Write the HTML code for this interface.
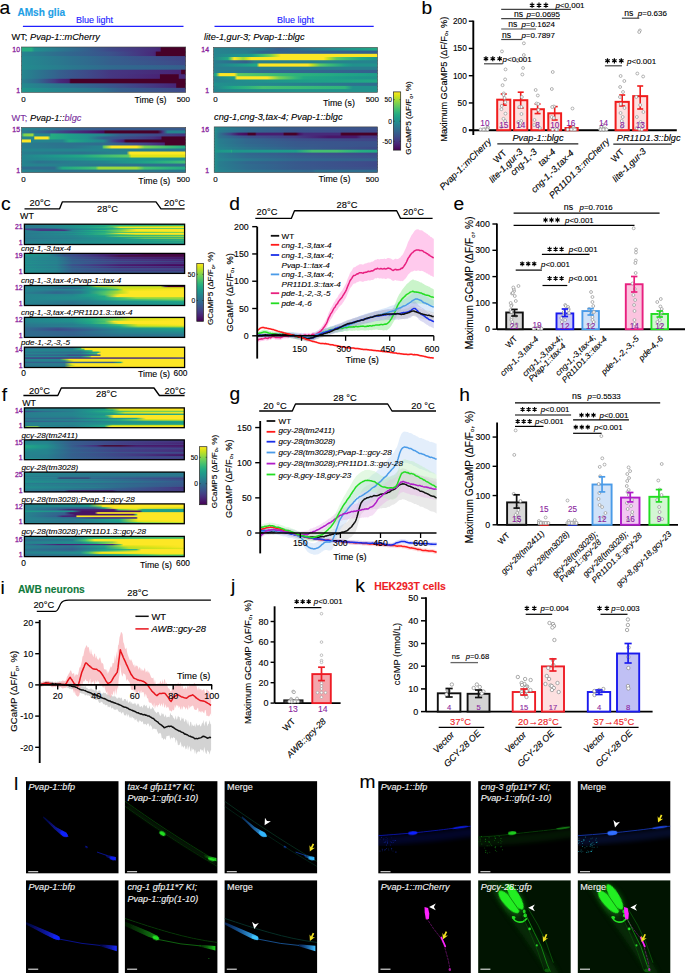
<!DOCTYPE html>
<html><head><meta charset="utf-8"><style>
html,body{margin:0;padding:0;background:#fff;overflow:hidden;width:685px;height:973px;}
svg{display:block;}
text{font-family:"Liberation Sans", sans-serif;}
</style></head><body>
<svg width="685" height="973" viewBox="0 0 685 973">
<defs><linearGradient id="h1" x1="0" y1="0" x2="1" y2="0"><stop offset="0" stop-color="#26ad81"/><stop offset="0.06" stop-color="#26ad81"/><stop offset="0.08" stop-color="#21918c"/><stop offset="0.1" stop-color="#228d8d"/><stop offset="0.2" stop-color="#287d8e"/><stop offset="0.23" stop-color="#2a788e"/><stop offset="0.3" stop-color="#2e6e8e"/><stop offset="0.4" stop-color="#34608d"/><stop offset="0.5" stop-color="#3c508b"/><stop offset="0.54" stop-color="#3e4989"/><stop offset="0.6" stop-color="#414287"/><stop offset="0.7" stop-color="#453882"/><stop offset="0.8" stop-color="#472d7b"/><stop offset="0.82" stop-color="#472a7a"/><stop offset="0.845" stop-color="#482475"/><stop offset="0.85" stop-color="#470028"/><stop offset="0.9" stop-color="#470028"/><stop offset="1" stop-color="#470028"/></linearGradient>
<linearGradient id="h2" x1="0" y1="0" x2="1" y2="0"><stop offset="0" stop-color="#25848e"/><stop offset="0.1" stop-color="#297a8e"/><stop offset="0.2" stop-color="#2e6f8e"/><stop offset="0.23" stop-color="#2f6c8e"/><stop offset="0.3" stop-color="#31668e"/><stop offset="0.4" stop-color="#355e8d"/><stop offset="0.5" stop-color="#39558c"/><stop offset="0.54" stop-color="#3b528b"/><stop offset="0.6" stop-color="#3e4989"/><stop offset="0.7" stop-color="#443a83"/><stop offset="0.8" stop-color="#472a7a"/><stop offset="0.815" stop-color="#482475"/><stop offset="0.82" stop-color="#470028"/><stop offset="0.9" stop-color="#470028"/><stop offset="1" stop-color="#470028"/></linearGradient>
<linearGradient id="h3" x1="0" y1="0" x2="1" y2="0"><stop offset="0" stop-color="#23898e"/><stop offset="0.1" stop-color="#26828e"/><stop offset="0.2" stop-color="#297a8e"/><stop offset="0.23" stop-color="#2a788e"/><stop offset="0.3" stop-color="#2c728e"/><stop offset="0.4" stop-color="#2f6b8e"/><stop offset="0.5" stop-color="#33638d"/><stop offset="0.54" stop-color="#355f8d"/><stop offset="0.6" stop-color="#365c8d"/><stop offset="0.7" stop-color="#39558c"/><stop offset="0.8" stop-color="#3c508b"/><stop offset="0.9" stop-color="#3e4989"/><stop offset="1" stop-color="#414487"/></linearGradient>
<linearGradient id="h4" x1="0" y1="0" x2="1" y2="0"><stop offset="0" stop-color="#23898e"/><stop offset="0.1" stop-color="#26828e"/><stop offset="0.2" stop-color="#297a8e"/><stop offset="0.23" stop-color="#2a788e"/><stop offset="0.3" stop-color="#2c728e"/><stop offset="0.4" stop-color="#2f6b8e"/><stop offset="0.5" stop-color="#33638d"/><stop offset="0.54" stop-color="#355f8d"/><stop offset="0.6" stop-color="#365d8d"/><stop offset="0.7" stop-color="#38588c"/><stop offset="0.8" stop-color="#3a538b"/><stop offset="0.9" stop-color="#3d4e8a"/><stop offset="1" stop-color="#3e4989"/></linearGradient>
<linearGradient id="h5" x1="0" y1="0" x2="1" y2="0"><stop offset="0" stop-color="#228b8d"/><stop offset="0.1" stop-color="#25858e"/><stop offset="0.2" stop-color="#277f8e"/><stop offset="0.23" stop-color="#287d8e"/><stop offset="0.3" stop-color="#2a788e"/><stop offset="0.4" stop-color="#2c728e"/><stop offset="0.5" stop-color="#2f6c8e"/><stop offset="0.54" stop-color="#306a8e"/><stop offset="0.6" stop-color="#31688e"/><stop offset="0.7" stop-color="#31668e"/><stop offset="0.8" stop-color="#32648e"/><stop offset="0.9" stop-color="#33628d"/><stop offset="1" stop-color="#355f8d"/></linearGradient>
<linearGradient id="h6" x1="0" y1="0" x2="1" y2="0"><stop offset="0" stop-color="#24868e"/><stop offset="0.1" stop-color="#2b758e"/><stop offset="0.2" stop-color="#32658e"/><stop offset="0.23" stop-color="#355f8d"/><stop offset="0.3" stop-color="#39568c"/><stop offset="0.4" stop-color="#3e4a89"/><stop offset="0.5" stop-color="#433d84"/><stop offset="0.54" stop-color="#453781"/><stop offset="0.6" stop-color="#463480"/><stop offset="0.7" stop-color="#46307e"/><stop offset="0.8" stop-color="#472c7a"/><stop offset="0.9" stop-color="#482878"/><stop offset="0.97" stop-color="#482475"/><stop offset="0.975" stop-color="#470028"/><stop offset="1" stop-color="#470028"/></linearGradient>
<linearGradient id="h7" x1="0" y1="0" x2="1" y2="0"><stop offset="0" stop-color="#24868e"/><stop offset="0.1" stop-color="#2b758e"/><stop offset="0.2" stop-color="#32658e"/><stop offset="0.23" stop-color="#355f8d"/><stop offset="0.3" stop-color="#39568c"/><stop offset="0.4" stop-color="#3e4a89"/><stop offset="0.5" stop-color="#433d84"/><stop offset="0.54" stop-color="#453781"/><stop offset="0.6" stop-color="#46337f"/><stop offset="0.7" stop-color="#472d7b"/><stop offset="0.8" stop-color="#482677"/><stop offset="0.84" stop-color="#482475"/><stop offset="0.845" stop-color="#470028"/><stop offset="0.9" stop-color="#470028"/><stop offset="0.955" stop-color="#470028"/><stop offset="0.96" stop-color="#472a7a"/><stop offset="1" stop-color="#472a7a"/></linearGradient>
<linearGradient id="h8" x1="0" y1="0" x2="1" y2="0"><stop offset="0" stop-color="#27808e"/><stop offset="0.1" stop-color="#31678e"/><stop offset="0.2" stop-color="#443a83"/><stop offset="0.23" stop-color="#472a7a"/><stop offset="0.29" stop-color="#481d6f"/><stop offset="0.3" stop-color="#470028"/><stop offset="0.4" stop-color="#470028"/><stop offset="0.5" stop-color="#470028"/><stop offset="0.6" stop-color="#470028"/><stop offset="0.7" stop-color="#470028"/><stop offset="0.8" stop-color="#470028"/><stop offset="0.9" stop-color="#470028"/><stop offset="1" stop-color="#470028"/></linearGradient>
<linearGradient id="h9" x1="0" y1="0" x2="1" y2="0"><stop offset="0" stop-color="#23898e"/><stop offset="0.1" stop-color="#27808e"/><stop offset="0.2" stop-color="#2a768e"/><stop offset="0.23" stop-color="#2c738e"/><stop offset="0.3" stop-color="#2e6d8e"/><stop offset="0.4" stop-color="#33638d"/><stop offset="0.5" stop-color="#38598c"/><stop offset="0.54" stop-color="#3a548c"/><stop offset="0.6" stop-color="#3d4e8a"/><stop offset="0.7" stop-color="#414287"/><stop offset="0.8" stop-color="#453781"/><stop offset="0.9" stop-color="#472a7a"/><stop offset="0.94" stop-color="#482475"/><stop offset="0.945" stop-color="#470028"/><stop offset="1" stop-color="#470028"/></linearGradient>
<linearGradient id="h10" x1="0" y1="0" x2="1" y2="0"><stop offset="0" stop-color="#1f958b"/><stop offset="0.1" stop-color="#218e8d"/><stop offset="0.2" stop-color="#24868e"/><stop offset="0.23" stop-color="#25848e"/><stop offset="0.3" stop-color="#27808e"/><stop offset="0.4" stop-color="#29798e"/><stop offset="0.48" stop-color="#2c738e"/><stop offset="0.5" stop-color="#2d708e"/><stop offset="0.6" stop-color="#355f8d"/><stop offset="0.7" stop-color="#375a8c"/><stop offset="0.8" stop-color="#3a548c"/><stop offset="0.9" stop-color="#3c4f8a"/><stop offset="1" stop-color="#3e4989"/></linearGradient>
<linearGradient id="h11" x1="0" y1="0" x2="1" y2="0"><stop offset="0" stop-color="#25848e"/><stop offset="0.1" stop-color="#27808e"/><stop offset="0.2" stop-color="#287c8e"/><stop offset="0.3" stop-color="#2a788e"/><stop offset="0.4" stop-color="#355f8d"/><stop offset="0.5" stop-color="#2f6c8e"/><stop offset="0.6" stop-color="#2a788e"/><stop offset="0.7" stop-color="#25848e"/><stop offset="0.8" stop-color="#21918c"/><stop offset="0.9" stop-color="#1e9c89"/><stop offset="1" stop-color="#22a884"/></linearGradient>
<linearGradient id="h12" x1="0" y1="0" x2="1" y2="0"><stop offset="0" stop-color="#25848e"/><stop offset="0.1" stop-color="#26818e"/><stop offset="0.2" stop-color="#287d8e"/><stop offset="0.3" stop-color="#32648e"/><stop offset="0.4" stop-color="#32648e"/><stop offset="0.5" stop-color="#33638d"/><stop offset="0.6" stop-color="#33628d"/><stop offset="0.7" stop-color="#34618d"/><stop offset="0.8" stop-color="#34618d"/><stop offset="0.9" stop-color="#34608d"/><stop offset="1" stop-color="#355f8d"/></linearGradient>
<linearGradient id="h13" x1="0" y1="0" x2="1" y2="0"><stop offset="0" stop-color="#25848e"/><stop offset="0.1" stop-color="#218f8d"/><stop offset="0.2" stop-color="#1f998a"/><stop offset="0.23" stop-color="#1e9c89"/><stop offset="0.3" stop-color="#42be71"/><stop offset="0.35" stop-color="#7ad151"/><stop offset="0.4" stop-color="#eae51a"/><stop offset="0.41" stop-color="#fde725"/><stop offset="0.5" stop-color="#fde725"/><stop offset="0.6" stop-color="#fde725"/><stop offset="0.7" stop-color="#fde725"/><stop offset="0.8" stop-color="#fde725"/><stop offset="0.9" stop-color="#fde725"/><stop offset="1" stop-color="#fde725"/></linearGradient>
<linearGradient id="h14" x1="0" y1="0" x2="1" y2="0"><stop offset="0" stop-color="#25848e"/><stop offset="0.087" stop-color="#22a884"/><stop offset="0.1" stop-color="#54c568"/><stop offset="0.126" stop-color="#fde725"/><stop offset="0.18" stop-color="#9bd93c"/><stop offset="0.2" stop-color="#c2df23"/><stop offset="0.23" stop-color="#fde725"/><stop offset="0.3" stop-color="#fde725"/><stop offset="0.4" stop-color="#fde725"/><stop offset="0.5" stop-color="#fde725"/><stop offset="0.6" stop-color="#fde725"/><stop offset="0.67" stop-color="#fde725"/><stop offset="0.7" stop-color="#c2df23"/><stop offset="0.75" stop-color="#5ec962"/><stop offset="0.8" stop-color="#44bf70"/><stop offset="0.9" stop-color="#22a884"/><stop offset="1" stop-color="#21918c"/></linearGradient>
<linearGradient id="h15" x1="0" y1="0" x2="1" y2="0"><stop offset="0" stop-color="#287d8e"/><stop offset="0.1" stop-color="#2e6f8e"/><stop offset="0.2" stop-color="#355f8d"/><stop offset="0.25" stop-color="#287d8e"/><stop offset="0.3" stop-color="#277e8e"/><stop offset="0.4" stop-color="#277f8e"/><stop offset="0.5" stop-color="#27808e"/><stop offset="0.6" stop-color="#26818e"/><stop offset="0.7" stop-color="#26828e"/><stop offset="0.8" stop-color="#26828e"/><stop offset="0.9" stop-color="#25838e"/><stop offset="1" stop-color="#25848e"/></linearGradient>
<linearGradient id="h16" x1="0" y1="0" x2="1" y2="0"><stop offset="0" stop-color="#287d8e"/><stop offset="0.1" stop-color="#218e8d"/><stop offset="0.2" stop-color="#1f9e89"/><stop offset="0.263" stop-color="#22a884"/><stop offset="0.279" stop-color="#fde725"/><stop offset="0.3" stop-color="#fde725"/><stop offset="0.4" stop-color="#fde725"/><stop offset="0.5" stop-color="#fde725"/><stop offset="0.575" stop-color="#fde725"/><stop offset="0.6" stop-color="#c8e020"/><stop offset="0.65" stop-color="#5ec962"/><stop offset="0.7" stop-color="#3fbc73"/><stop offset="0.8" stop-color="#1f9f88"/><stop offset="0.85" stop-color="#21918c"/><stop offset="0.9" stop-color="#21918c"/><stop offset="1" stop-color="#21918c"/></linearGradient>
<linearGradient id="h17" x1="0" y1="0" x2="1" y2="0"><stop offset="0" stop-color="#287d8e"/><stop offset="0.1" stop-color="#287d8e"/><stop offset="0.2" stop-color="#287d8e"/><stop offset="0.3" stop-color="#287d8e"/><stop offset="0.4" stop-color="#287d8e"/><stop offset="0.5" stop-color="#287d8e"/><stop offset="0.6" stop-color="#287d8e"/><stop offset="0.7" stop-color="#287d8e"/><stop offset="0.8" stop-color="#287d8e"/><stop offset="0.9" stop-color="#287d8e"/><stop offset="1" stop-color="#287d8e"/></linearGradient>
<linearGradient id="h18" x1="0" y1="0" x2="1" y2="0"><stop offset="0" stop-color="#25848e"/><stop offset="0.1" stop-color="#287c8e"/><stop offset="0.2" stop-color="#2b748e"/><stop offset="0.3" stop-color="#2f6c8e"/><stop offset="0.4" stop-color="#306a8e"/><stop offset="0.5" stop-color="#31688e"/><stop offset="0.6" stop-color="#31678e"/><stop offset="0.7" stop-color="#32658e"/><stop offset="0.8" stop-color="#33638d"/><stop offset="0.9" stop-color="#34618d"/><stop offset="1" stop-color="#355f8d"/></linearGradient>
<linearGradient id="h19" x1="0" y1="0" x2="1" y2="0"><stop offset="0" stop-color="#1e9c89"/><stop offset="0.015" stop-color="#22a884"/><stop offset="0.038" stop-color="#fde725"/><stop offset="0.1" stop-color="#fde725"/><stop offset="0.126" stop-color="#fde725"/><stop offset="0.15" stop-color="#5ec962"/><stop offset="0.2" stop-color="#56c667"/><stop offset="0.3" stop-color="#48c16e"/><stop offset="0.4" stop-color="#3aba76"/><stop offset="0.5" stop-color="#2fb47c"/><stop offset="0.6" stop-color="#29af7f"/><stop offset="0.7" stop-color="#25ab82"/><stop offset="0.8" stop-color="#21a685"/><stop offset="0.9" stop-color="#1fa188"/><stop offset="1" stop-color="#1e9c89"/></linearGradient>
<linearGradient id="h20" x1="0" y1="0" x2="1" y2="0"><stop offset="0" stop-color="#25848e"/><stop offset="0.1" stop-color="#1f978b"/><stop offset="0.126" stop-color="#1e9c89"/><stop offset="0.143" stop-color="#fde725"/><stop offset="0.2" stop-color="#fde725"/><stop offset="0.3" stop-color="#fde725"/><stop offset="0.327" stop-color="#fde725"/><stop offset="0.4" stop-color="#7ad151"/><stop offset="0.5" stop-color="#35b779"/><stop offset="0.55" stop-color="#22a884"/><stop offset="0.6" stop-color="#21a585"/><stop offset="0.7" stop-color="#1fa188"/><stop offset="0.8" stop-color="#1e9b8a"/><stop offset="0.9" stop-color="#1f958b"/><stop offset="1" stop-color="#21918c"/></linearGradient>
<linearGradient id="h21" x1="0" y1="0" x2="1" y2="0"><stop offset="0" stop-color="#25848e"/><stop offset="0.1" stop-color="#23898e"/><stop offset="0.2" stop-color="#218e8d"/><stop offset="0.3" stop-color="#20928c"/><stop offset="0.4" stop-color="#1f978b"/><stop offset="0.5" stop-color="#1e9c89"/><stop offset="0.6" stop-color="#1f9f88"/><stop offset="0.7" stop-color="#1fa188"/><stop offset="0.8" stop-color="#20a386"/><stop offset="0.9" stop-color="#21a685"/><stop offset="1" stop-color="#22a884"/></linearGradient>
<linearGradient id="h22" x1="0" y1="0" x2="1" y2="0"><stop offset="0" stop-color="#21918c"/><stop offset="0.1" stop-color="#228d8d"/><stop offset="0.2" stop-color="#238a8d"/><stop offset="0.3" stop-color="#24878e"/><stop offset="0.4" stop-color="#25848e"/><stop offset="0.5" stop-color="#27808e"/><stop offset="0.6" stop-color="#287c8e"/><stop offset="0.7" stop-color="#2a788e"/><stop offset="0.8" stop-color="#2b748e"/><stop offset="0.9" stop-color="#2d708e"/><stop offset="1" stop-color="#2f6c8e"/></linearGradient>
<linearGradient id="h23" x1="0" y1="0" x2="1" y2="0"><stop offset="0" stop-color="#25848e"/><stop offset="0.1" stop-color="#1fa287"/><stop offset="0.12" stop-color="#22a884"/><stop offset="0.2" stop-color="#2db27d"/><stop offset="0.3" stop-color="#44bf70"/><stop offset="0.4" stop-color="#3fbc73"/><stop offset="0.5" stop-color="#3bbb75"/><stop offset="0.6" stop-color="#37b878"/><stop offset="0.7" stop-color="#32b67a"/><stop offset="0.8" stop-color="#2fb47c"/><stop offset="0.85" stop-color="#21918c"/><stop offset="0.9" stop-color="#21918c"/><stop offset="1" stop-color="#21918c"/></linearGradient>
<linearGradient id="h24" x1="0" y1="0" x2="1" y2="0"><stop offset="0" stop-color="#25848e"/><stop offset="0.1" stop-color="#24868e"/><stop offset="0.2" stop-color="#23898e"/><stop offset="0.3" stop-color="#228b8d"/><stop offset="0.4" stop-color="#218e8d"/><stop offset="0.5" stop-color="#21918c"/><stop offset="0.6" stop-color="#21918c"/><stop offset="0.7" stop-color="#21918c"/><stop offset="0.8" stop-color="#21918c"/><stop offset="0.9" stop-color="#21918c"/><stop offset="1" stop-color="#21918c"/></linearGradient>
<linearGradient id="h25" x1="0" y1="0" x2="1" y2="0"><stop offset="0" stop-color="#25848e"/><stop offset="0.1" stop-color="#287c8e"/><stop offset="0.15" stop-color="#2a788e"/><stop offset="0.2" stop-color="#2c718e"/><stop offset="0.3" stop-color="#32648e"/><stop offset="0.4" stop-color="#355f8d"/><stop offset="0.5" stop-color="#375a8c"/><stop offset="0.6" stop-color="#375a8c"/><stop offset="0.7" stop-color="#375a8c"/><stop offset="0.8" stop-color="#375a8c"/><stop offset="0.9" stop-color="#375a8c"/><stop offset="1" stop-color="#375a8c"/></linearGradient>
<linearGradient id="h26" x1="0" y1="0" x2="1" y2="0"><stop offset="0" stop-color="#287d8e"/><stop offset="0.1" stop-color="#306a8e"/><stop offset="0.15" stop-color="#355f8d"/><stop offset="0.2" stop-color="#3b518b"/><stop offset="0.3" stop-color="#463480"/><stop offset="0.4" stop-color="#482173"/><stop offset="0.45" stop-color="#481769"/><stop offset="0.5" stop-color="#460b5e"/><stop offset="0.51" stop-color="#470028"/><stop offset="0.6" stop-color="#470028"/><stop offset="0.7" stop-color="#470028"/><stop offset="0.8" stop-color="#470028"/><stop offset="0.83" stop-color="#470028"/><stop offset="0.86" stop-color="#463480"/><stop offset="0.89" stop-color="#25848e"/><stop offset="0.9" stop-color="#25848e"/><stop offset="1" stop-color="#25848e"/></linearGradient>
<linearGradient id="h27" x1="0" y1="0" x2="1" y2="0"><stop offset="0" stop-color="#1e9c89"/><stop offset="0.015" stop-color="#7ad151"/><stop offset="0.067" stop-color="#9bd93c"/><stop offset="0.08" stop-color="#25848e"/><stop offset="0.1" stop-color="#25848e"/><stop offset="0.17" stop-color="#25848e"/><stop offset="0.18" stop-color="#26ad81"/><stop offset="0.2" stop-color="#25ab82"/><stop offset="0.3" stop-color="#1f9e89"/><stop offset="0.4" stop-color="#21918c"/><stop offset="0.5" stop-color="#25848e"/><stop offset="0.6" stop-color="#355f8d"/><stop offset="0.7" stop-color="#39558c"/><stop offset="0.8" stop-color="#3e4a89"/><stop offset="0.9" stop-color="#424086"/><stop offset="1" stop-color="#463480"/></linearGradient>
<linearGradient id="h28" x1="0" y1="0" x2="1" y2="0"><stop offset="0" stop-color="#25848e"/><stop offset="0.075" stop-color="#25848e"/><stop offset="0.08" stop-color="#fde725"/><stop offset="0.1" stop-color="#fde725"/><stop offset="0.16" stop-color="#fde725"/><stop offset="0.175" stop-color="#26ad81"/><stop offset="0.2" stop-color="#24aa83"/><stop offset="0.3" stop-color="#1e9d89"/><stop offset="0.4" stop-color="#21918c"/><stop offset="0.5" stop-color="#355f8d"/><stop offset="0.6" stop-color="#3b528b"/><stop offset="0.7" stop-color="#414487"/><stop offset="0.8" stop-color="#463480"/><stop offset="0.85" stop-color="#482475"/><stop offset="0.855" stop-color="#470028"/><stop offset="0.9" stop-color="#470028"/><stop offset="1" stop-color="#470028"/></linearGradient>
<linearGradient id="h29" x1="0" y1="0" x2="1" y2="0"><stop offset="0" stop-color="#bddf26"/><stop offset="0.005" stop-color="#fde725"/><stop offset="0.055" stop-color="#fde725"/><stop offset="0.06" stop-color="#25848e"/><stop offset="0.1" stop-color="#25848e"/><stop offset="0.2" stop-color="#25848e"/><stop offset="0.25" stop-color="#25848e"/><stop offset="0.29" stop-color="#22a884"/><stop offset="0.3" stop-color="#21a685"/><stop offset="0.4" stop-color="#1f958b"/><stop offset="0.5" stop-color="#25848e"/><stop offset="0.56" stop-color="#414487"/><stop offset="0.6" stop-color="#472a7a"/><stop offset="0.62" stop-color="#481d6f"/><stop offset="0.635" stop-color="#470028"/><stop offset="0.7" stop-color="#470028"/><stop offset="0.8" stop-color="#470028"/><stop offset="0.9" stop-color="#470028"/><stop offset="1" stop-color="#470028"/></linearGradient>
<linearGradient id="h30" x1="0" y1="0" x2="1" y2="0"><stop offset="0" stop-color="#287d8e"/><stop offset="0.1" stop-color="#2a788e"/><stop offset="0.2" stop-color="#2c738e"/><stop offset="0.3" stop-color="#2d718e"/><stop offset="0.4" stop-color="#2e6f8e"/><stop offset="0.5" stop-color="#2f6c8e"/><stop offset="0.6" stop-color="#365d8d"/><stop offset="0.7" stop-color="#3e4c8a"/><stop offset="0.75" stop-color="#414487"/><stop offset="0.8" stop-color="#453781"/><stop offset="0.87" stop-color="#482475"/><stop offset="0.875" stop-color="#470028"/><stop offset="0.9" stop-color="#470028"/><stop offset="1" stop-color="#470028"/></linearGradient>
<linearGradient id="h31" x1="0" y1="0" x2="1" y2="0"><stop offset="0" stop-color="#287d8e"/><stop offset="0.1" stop-color="#297a8e"/><stop offset="0.2" stop-color="#2a768e"/><stop offset="0.3" stop-color="#2c738e"/><stop offset="0.4" stop-color="#287c8e"/><stop offset="0.49" stop-color="#25848e"/><stop offset="0.5" stop-color="#5ec962"/><stop offset="0.55" stop-color="#fde725"/><stop offset="0.6" stop-color="#fde725"/><stop offset="0.7" stop-color="#fde725"/><stop offset="0.75" stop-color="#7ad151"/><stop offset="0.8" stop-color="#63cb5f"/><stop offset="0.9" stop-color="#3bbb75"/><stop offset="1" stop-color="#22a884"/></linearGradient>
<linearGradient id="h32" x1="0" y1="0" x2="1" y2="0"><stop offset="0" stop-color="#25848e"/><stop offset="0.1" stop-color="#25848e"/><stop offset="0.2" stop-color="#25848e"/><stop offset="0.3" stop-color="#25848e"/><stop offset="0.4" stop-color="#25848e"/><stop offset="0.5" stop-color="#25848e"/><stop offset="0.6" stop-color="#26818e"/><stop offset="0.7" stop-color="#277e8e"/><stop offset="0.8" stop-color="#297a8e"/><stop offset="0.9" stop-color="#2a768e"/><stop offset="1" stop-color="#2c738e"/></linearGradient>
<linearGradient id="h33" x1="0" y1="0" x2="1" y2="0"><stop offset="0" stop-color="#287d8e"/><stop offset="0.1" stop-color="#297a8e"/><stop offset="0.2" stop-color="#2a778e"/><stop offset="0.3" stop-color="#2b758e"/><stop offset="0.37" stop-color="#2c738e"/><stop offset="0.4" stop-color="#2b758e"/><stop offset="0.5" stop-color="#297b8e"/><stop offset="0.6" stop-color="#26828e"/><stop offset="0.64" stop-color="#25848e"/><stop offset="0.66" stop-color="#fde725"/><stop offset="0.7" stop-color="#fde725"/><stop offset="0.8" stop-color="#fde725"/><stop offset="0.9" stop-color="#fde725"/><stop offset="1" stop-color="#fde725"/></linearGradient>
<linearGradient id="h34" x1="0" y1="0" x2="1" y2="0"><stop offset="0" stop-color="#25848e"/><stop offset="0.1" stop-color="#218e8d"/><stop offset="0.2" stop-color="#1f978b"/><stop offset="0.3" stop-color="#1fa187"/><stop offset="0.37" stop-color="#22a884"/><stop offset="0.4" stop-color="#26ad81"/><stop offset="0.5" stop-color="#3bbb75"/><stop offset="0.6" stop-color="#52c569"/><stop offset="0.65" stop-color="#5ec962"/><stop offset="0.67" stop-color="#dfe318"/><stop offset="0.7" stop-color="#dfe318"/><stop offset="0.8" stop-color="#dfe318"/><stop offset="0.9" stop-color="#dfe318"/><stop offset="1" stop-color="#dfe318"/></linearGradient>
<linearGradient id="h35" x1="0" y1="0" x2="1" y2="0"><stop offset="0" stop-color="#25848e"/><stop offset="0.1" stop-color="#23888e"/><stop offset="0.2" stop-color="#228c8d"/><stop offset="0.3" stop-color="#21918c"/><stop offset="0.4" stop-color="#1f968b"/><stop offset="0.5" stop-color="#1e9c89"/><stop offset="0.6" stop-color="#1f9a8a"/><stop offset="0.7" stop-color="#1f978b"/><stop offset="0.8" stop-color="#1f958b"/><stop offset="0.9" stop-color="#20928c"/><stop offset="1" stop-color="#21918c"/></linearGradient>
<linearGradient id="h36" x1="0" y1="0" x2="1" y2="0"><stop offset="0" stop-color="#25848e"/><stop offset="0.1" stop-color="#2c738e"/><stop offset="0.2" stop-color="#2a778e"/><stop offset="0.3" stop-color="#287c8e"/><stop offset="0.4" stop-color="#27808e"/><stop offset="0.5" stop-color="#25848e"/><stop offset="0.6" stop-color="#21918c"/><stop offset="0.7" stop-color="#1e9c89"/><stop offset="0.8" stop-color="#22a884"/><stop offset="0.9" stop-color="#2fb47c"/><stop offset="1" stop-color="#44bf70"/></linearGradient>
<linearGradient id="h37" x1="0" y1="0" x2="1" y2="0"><stop offset="0" stop-color="#25848e"/><stop offset="0.1" stop-color="#26828e"/><stop offset="0.2" stop-color="#27808e"/><stop offset="0.3" stop-color="#287d8e"/><stop offset="0.4" stop-color="#297a8e"/><stop offset="0.5" stop-color="#2a788e"/><stop offset="0.6" stop-color="#2b758e"/><stop offset="0.7" stop-color="#2c738e"/><stop offset="0.8" stop-color="#2d718e"/><stop offset="0.9" stop-color="#2e6f8e"/><stop offset="1" stop-color="#2f6c8e"/></linearGradient>
<linearGradient id="h38" x1="0" y1="0" x2="1" y2="0"><stop offset="0" stop-color="#2f6c8e"/><stop offset="0.1" stop-color="#2f6c8e"/><stop offset="0.2" stop-color="#2f6c8e"/><stop offset="0.25" stop-color="#22a884"/><stop offset="0.3" stop-color="#28ae80"/><stop offset="0.4" stop-color="#38b977"/><stop offset="0.45" stop-color="#44bf70"/><stop offset="0.47" stop-color="#9bd93c"/><stop offset="0.5" stop-color="#9bd93c"/><stop offset="0.6" stop-color="#9bd93c"/><stop offset="0.7" stop-color="#9bd93c"/><stop offset="0.75" stop-color="#44bf70"/><stop offset="0.8" stop-color="#3bbb75"/><stop offset="0.9" stop-color="#2cb17e"/><stop offset="1" stop-color="#22a884"/></linearGradient>
<linearGradient id="h39" x1="0" y1="0" x2="1" y2="0"><stop offset="0" stop-color="#25848e"/><stop offset="0.1" stop-color="#277e8e"/><stop offset="0.2" stop-color="#2a768e"/><stop offset="0.25" stop-color="#2c738e"/><stop offset="0.3" stop-color="#2c738e"/><stop offset="0.4" stop-color="#2b748e"/><stop offset="0.5" stop-color="#2b748e"/><stop offset="0.6" stop-color="#2b758e"/><stop offset="0.7" stop-color="#2a768e"/><stop offset="0.8" stop-color="#2a778e"/><stop offset="0.9" stop-color="#2a778e"/><stop offset="1" stop-color="#2a788e"/></linearGradient>
<linearGradient id="h40" x1="0" y1="0" x2="1" y2="0"><stop offset="0" stop-color="#21918c"/><stop offset="0.03" stop-color="#25848e"/><stop offset="0.1" stop-color="#297a8e"/><stop offset="0.2" stop-color="#2f6c8e"/><stop offset="0.3" stop-color="#31668e"/><stop offset="0.4" stop-color="#34608d"/><stop offset="0.5" stop-color="#375a8c"/><stop offset="0.6" stop-color="#38598c"/><stop offset="0.7" stop-color="#39568c"/><stop offset="0.8" stop-color="#39558c"/><stop offset="0.9" stop-color="#3a538b"/><stop offset="1" stop-color="#3b528b"/></linearGradient>
<linearGradient id="h41" x1="0" y1="0" x2="1" y2="0"><stop offset="0" stop-color="#21918c"/><stop offset="0.03" stop-color="#287d8e"/><stop offset="0.1" stop-color="#2b748e"/><stop offset="0.2" stop-color="#31678e"/><stop offset="0.3" stop-color="#34618d"/><stop offset="0.4" stop-color="#375b8d"/><stop offset="0.5" stop-color="#3a548c"/><stop offset="0.6" stop-color="#3b528b"/><stop offset="0.7" stop-color="#3c508b"/><stop offset="0.8" stop-color="#3d4e8a"/><stop offset="0.9" stop-color="#3e4c8a"/><stop offset="1" stop-color="#3e4989"/></linearGradient>
<linearGradient id="h42" x1="0" y1="0" x2="1" y2="0"><stop offset="0" stop-color="#21918c"/><stop offset="0.03" stop-color="#2c738e"/><stop offset="0.1" stop-color="#414487"/><stop offset="0.15" stop-color="#481769"/><stop offset="0.2" stop-color="#460b5e"/><stop offset="0.21" stop-color="#470028"/><stop offset="0.25" stop-color="#470028"/><stop offset="0.26" stop-color="#481d6f"/><stop offset="0.3" stop-color="#481d6f"/><stop offset="0.4" stop-color="#481d6f"/><stop offset="0.42" stop-color="#481d6f"/><stop offset="0.43" stop-color="#470028"/><stop offset="0.5" stop-color="#470028"/><stop offset="0.52" stop-color="#471365"/><stop offset="0.55" stop-color="#472a7a"/><stop offset="0.6" stop-color="#472a7a"/><stop offset="0.7" stop-color="#472a7a"/><stop offset="0.77" stop-color="#472a7a"/><stop offset="0.78" stop-color="#470028"/><stop offset="0.8" stop-color="#470028"/><stop offset="0.9" stop-color="#470028"/><stop offset="1" stop-color="#470028"/></linearGradient>
<linearGradient id="h43" x1="0" y1="0" x2="1" y2="0"><stop offset="0" stop-color="#21918c"/><stop offset="0.03" stop-color="#2c738e"/><stop offset="0.1" stop-color="#31668e"/><stop offset="0.2" stop-color="#3b528b"/><stop offset="0.3" stop-color="#3e4c8a"/><stop offset="0.4" stop-color="#404588"/><stop offset="0.5" stop-color="#433e85"/><stop offset="0.6" stop-color="#472a7a"/><stop offset="0.7" stop-color="#481769"/><stop offset="0.8" stop-color="#481769"/><stop offset="0.87" stop-color="#481769"/><stop offset="0.9" stop-color="#463480"/><stop offset="1" stop-color="#463480"/></linearGradient>
<linearGradient id="h44" x1="0" y1="0" x2="1" y2="0"><stop offset="0" stop-color="#21918c"/><stop offset="0.03" stop-color="#287d8e"/><stop offset="0.1" stop-color="#2b748e"/><stop offset="0.2" stop-color="#31678e"/><stop offset="0.3" stop-color="#34608d"/><stop offset="0.4" stop-color="#38598c"/><stop offset="0.5" stop-color="#3b528b"/><stop offset="0.6" stop-color="#3c4f8a"/><stop offset="0.7" stop-color="#3e4c8a"/><stop offset="0.8" stop-color="#3e4989"/><stop offset="0.9" stop-color="#404688"/><stop offset="1" stop-color="#414487"/></linearGradient>
<linearGradient id="h45" x1="0" y1="0" x2="1" y2="0"><stop offset="0" stop-color="#21918c"/><stop offset="0.03" stop-color="#287d8e"/><stop offset="0.1" stop-color="#2b748e"/><stop offset="0.2" stop-color="#31678e"/><stop offset="0.3" stop-color="#33628d"/><stop offset="0.4" stop-color="#365d8d"/><stop offset="0.5" stop-color="#38588c"/><stop offset="0.6" stop-color="#39568c"/><stop offset="0.7" stop-color="#39558c"/><stop offset="0.8" stop-color="#3a548c"/><stop offset="0.9" stop-color="#3a538b"/><stop offset="1" stop-color="#3b528b"/></linearGradient>
<linearGradient id="h46" x1="0" y1="0" x2="1" y2="0"><stop offset="0" stop-color="#21918c"/><stop offset="0.03" stop-color="#27808e"/><stop offset="0.1" stop-color="#2a778e"/><stop offset="0.2" stop-color="#2f6c8e"/><stop offset="0.3" stop-color="#31668e"/><stop offset="0.4" stop-color="#34608d"/><stop offset="0.5" stop-color="#375a8c"/><stop offset="0.6" stop-color="#38598c"/><stop offset="0.7" stop-color="#39568c"/><stop offset="0.8" stop-color="#39558c"/><stop offset="0.9" stop-color="#3a538b"/><stop offset="1" stop-color="#3b528b"/></linearGradient>
<linearGradient id="h47" x1="0" y1="0" x2="1" y2="0"><stop offset="0" stop-color="#21918c"/><stop offset="0.03" stop-color="#25848e"/><stop offset="0.1" stop-color="#287d8e"/><stop offset="0.2" stop-color="#2c738e"/><stop offset="0.3" stop-color="#2e6d8e"/><stop offset="0.4" stop-color="#31668e"/><stop offset="0.5" stop-color="#355f8d"/><stop offset="0.6" stop-color="#375b8d"/><stop offset="0.7" stop-color="#39568c"/><stop offset="0.8" stop-color="#3b528b"/><stop offset="0.9" stop-color="#3d4e8a"/><stop offset="1" stop-color="#3e4989"/></linearGradient>
<linearGradient id="h48" x1="0" y1="0" x2="1" y2="0"><stop offset="0" stop-color="#1f958b"/><stop offset="0.1" stop-color="#1e9c89"/><stop offset="0.105" stop-color="#26ad81"/><stop offset="0.11" stop-color="#1f958b"/><stop offset="0.2" stop-color="#1f968b"/><stop offset="0.3" stop-color="#1f988b"/><stop offset="0.4" stop-color="#1f9a8a"/><stop offset="0.5" stop-color="#1e9c89"/><stop offset="0.6" stop-color="#44bf70"/><stop offset="0.7" stop-color="#44bf70"/><stop offset="0.75" stop-color="#44bf70"/><stop offset="0.8" stop-color="#38b977"/><stop offset="0.9" stop-color="#26ad81"/><stop offset="1" stop-color="#22a884"/></linearGradient>
<linearGradient id="h49" x1="0" y1="0" x2="1" y2="0"><stop offset="0" stop-color="#21918c"/><stop offset="0.03" stop-color="#287d8e"/><stop offset="0.1" stop-color="#2b748e"/><stop offset="0.2" stop-color="#31678e"/><stop offset="0.3" stop-color="#33628d"/><stop offset="0.4" stop-color="#365d8d"/><stop offset="0.5" stop-color="#38588c"/><stop offset="0.6" stop-color="#3a548c"/><stop offset="0.7" stop-color="#3b528b"/><stop offset="0.8" stop-color="#3c4f8a"/><stop offset="0.9" stop-color="#3e4c8a"/><stop offset="1" stop-color="#3e4989"/></linearGradient>
<linearGradient id="h50" x1="0" y1="0" x2="1" y2="0"><stop offset="0" stop-color="#21918c"/><stop offset="0.03" stop-color="#27808e"/><stop offset="0.1" stop-color="#2a778e"/><stop offset="0.2" stop-color="#2f6c8e"/><stop offset="0.3" stop-color="#31688e"/><stop offset="0.4" stop-color="#32648e"/><stop offset="0.5" stop-color="#355f8d"/><stop offset="0.6" stop-color="#365d8d"/><stop offset="0.7" stop-color="#375a8c"/><stop offset="0.8" stop-color="#38588c"/><stop offset="0.9" stop-color="#3a548c"/><stop offset="1" stop-color="#3b528b"/></linearGradient>
<linearGradient id="h51" x1="0" y1="0" x2="1" y2="0"><stop offset="0" stop-color="#21918c"/><stop offset="0.03" stop-color="#25848e"/><stop offset="0.1" stop-color="#277f8e"/><stop offset="0.2" stop-color="#2a788e"/><stop offset="0.3" stop-color="#2c728e"/><stop offset="0.4" stop-color="#2e6d8e"/><stop offset="0.5" stop-color="#31678e"/><stop offset="0.6" stop-color="#32658e"/><stop offset="0.7" stop-color="#32648e"/><stop offset="0.8" stop-color="#33628d"/><stop offset="0.9" stop-color="#34618d"/><stop offset="1" stop-color="#355f8d"/></linearGradient>
<linearGradient id="h52" x1="0" y1="0" x2="1" y2="0"><stop offset="0" stop-color="#21918c"/><stop offset="0.03" stop-color="#287d8e"/><stop offset="0.1" stop-color="#2b748e"/><stop offset="0.2" stop-color="#31678e"/><stop offset="0.3" stop-color="#33628d"/><stop offset="0.4" stop-color="#365d8d"/><stop offset="0.5" stop-color="#38588c"/><stop offset="0.6" stop-color="#3a548c"/><stop offset="0.7" stop-color="#3b528b"/><stop offset="0.8" stop-color="#3c4f8a"/><stop offset="0.9" stop-color="#3e4c8a"/><stop offset="1" stop-color="#3e4989"/></linearGradient>
<linearGradient id="h53" x1="0" y1="0" x2="1" y2="0"><stop offset="0" stop-color="#21918c"/><stop offset="0.03" stop-color="#287d8e"/><stop offset="0.1" stop-color="#2a768e"/><stop offset="0.2" stop-color="#2f6c8e"/><stop offset="0.3" stop-color="#31668e"/><stop offset="0.4" stop-color="#34608d"/><stop offset="0.5" stop-color="#375a8c"/><stop offset="0.6" stop-color="#39568c"/><stop offset="0.7" stop-color="#3a538b"/><stop offset="0.8" stop-color="#3c508b"/><stop offset="0.9" stop-color="#3d4d8a"/><stop offset="1" stop-color="#3e4989"/></linearGradient>
<linearGradient id="h54" x1="0" y1="0" x2="1" y2="0"><stop offset="0" stop-color="#21918c"/><stop offset="0.03" stop-color="#27808e"/><stop offset="0.1" stop-color="#2a778e"/><stop offset="0.2" stop-color="#2f6c8e"/><stop offset="0.3" stop-color="#31668e"/><stop offset="0.4" stop-color="#34608d"/><stop offset="0.5" stop-color="#375a8c"/><stop offset="0.6" stop-color="#38588c"/><stop offset="0.7" stop-color="#39558c"/><stop offset="0.8" stop-color="#3a538b"/><stop offset="0.9" stop-color="#3b518b"/><stop offset="1" stop-color="#3c4f8a"/></linearGradient>
<linearGradient id="h55" x1="0" y1="0" x2="1" y2="0"><stop offset="0" stop-color="#21918c"/><stop offset="0.03" stop-color="#25848e"/><stop offset="0.1" stop-color="#277f8e"/><stop offset="0.2" stop-color="#2a788e"/><stop offset="0.3" stop-color="#2b748e"/><stop offset="0.4" stop-color="#2d708e"/><stop offset="0.5" stop-color="#2f6c8e"/><stop offset="0.6" stop-color="#31678e"/><stop offset="0.62" stop-color="#2c738e"/><stop offset="0.7" stop-color="#2c718e"/><stop offset="0.8" stop-color="#2d708e"/><stop offset="0.9" stop-color="#2e6e8e"/><stop offset="1" stop-color="#2f6c8e"/></linearGradient>
<linearGradient id="cb56" x1="0" y1="0" x2="0" y2="1"><stop offset="0.000" stop-color="#fde725"/><stop offset="0.050" stop-color="#dfe318"/><stop offset="0.100" stop-color="#bddf26"/><stop offset="0.150" stop-color="#9bd93c"/><stop offset="0.200" stop-color="#7ad151"/><stop offset="0.250" stop-color="#5ec962"/><stop offset="0.300" stop-color="#44bf70"/><stop offset="0.350" stop-color="#2fb47c"/><stop offset="0.400" stop-color="#22a884"/><stop offset="0.450" stop-color="#1e9c89"/><stop offset="0.500" stop-color="#21918c"/><stop offset="0.550" stop-color="#25848e"/><stop offset="0.600" stop-color="#2a788e"/><stop offset="0.650" stop-color="#2f6c8e"/><stop offset="0.700" stop-color="#355f8d"/><stop offset="0.750" stop-color="#3b528b"/><stop offset="0.800" stop-color="#414487"/><stop offset="0.850" stop-color="#463480"/><stop offset="0.900" stop-color="#482475"/><stop offset="0.950" stop-color="#471365"/><stop offset="1.000" stop-color="#440154"/></linearGradient>
<linearGradient id="h57" x1="0" y1="0" x2="1" y2="0"><stop offset="0" stop-color="#287d8e"/><stop offset="0.1" stop-color="#27808e"/><stop offset="0.2" stop-color="#26828e"/><stop offset="0.3" stop-color="#25848e"/><stop offset="0.4" stop-color="#21918c"/><stop offset="0.5" stop-color="#1e9c89"/><stop offset="0.6" stop-color="#22a884"/><stop offset="0.7" stop-color="#23a983"/><stop offset="0.8" stop-color="#25ab82"/><stop offset="0.9" stop-color="#25ac82"/><stop offset="1" stop-color="#26ad81"/></linearGradient>
<linearGradient id="h58" x1="0" y1="0" x2="1" y2="0"><stop offset="0" stop-color="#2a788e"/><stop offset="0.1" stop-color="#27808e"/><stop offset="0.2" stop-color="#23888e"/><stop offset="0.3" stop-color="#21918c"/><stop offset="0.4" stop-color="#1e9c89"/><stop offset="0.5" stop-color="#22a884"/><stop offset="0.6" stop-color="#2fb47c"/><stop offset="0.7" stop-color="#34b679"/><stop offset="0.8" stop-color="#38b977"/><stop offset="0.9" stop-color="#3fbc73"/><stop offset="1" stop-color="#44bf70"/></linearGradient>
<linearGradient id="h59" x1="0" y1="0" x2="1" y2="0"><stop offset="0" stop-color="#2c738e"/><stop offset="0.1" stop-color="#287d8e"/><stop offset="0.2" stop-color="#24868e"/><stop offset="0.3" stop-color="#21918c"/><stop offset="0.4" stop-color="#1e9c89"/><stop offset="0.5" stop-color="#22a884"/><stop offset="0.6" stop-color="#9bd93c"/><stop offset="0.7" stop-color="#addc30"/><stop offset="0.8" stop-color="#bddf26"/><stop offset="0.9" stop-color="#cde11d"/><stop offset="1" stop-color="#dfe318"/></linearGradient>
<linearGradient id="h60" x1="0" y1="0" x2="1" y2="0"><stop offset="0" stop-color="#2a788e"/><stop offset="0.1" stop-color="#27808e"/><stop offset="0.2" stop-color="#23888e"/><stop offset="0.3" stop-color="#21918c"/><stop offset="0.4" stop-color="#20a386"/><stop offset="0.5" stop-color="#32b67a"/><stop offset="0.55" stop-color="#44bf70"/><stop offset="0.6" stop-color="#fde725"/><stop offset="0.7" stop-color="#fde725"/><stop offset="0.8" stop-color="#fde725"/><stop offset="0.9" stop-color="#fde725"/><stop offset="1" stop-color="#fde725"/></linearGradient>
<linearGradient id="h61" x1="0" y1="0" x2="1" y2="0"><stop offset="0" stop-color="#355f8d"/><stop offset="0.1" stop-color="#3b528b"/><stop offset="0.2" stop-color="#2f6c8e"/><stop offset="0.3" stop-color="#25848e"/><stop offset="0.4" stop-color="#20928c"/><stop offset="0.5" stop-color="#1fa188"/><stop offset="0.55" stop-color="#22a884"/><stop offset="0.6" stop-color="#2fb47c"/><stop offset="0.65" stop-color="#44bf70"/><stop offset="0.7" stop-color="#48c16e"/><stop offset="0.8" stop-color="#4ec36b"/><stop offset="0.9" stop-color="#56c667"/><stop offset="1" stop-color="#5ec962"/></linearGradient>
<linearGradient id="h62" x1="0" y1="0" x2="1" y2="0"><stop offset="0" stop-color="#414487"/><stop offset="0.1" stop-color="#443b84"/><stop offset="0.2" stop-color="#463480"/><stop offset="0.3" stop-color="#2a788e"/><stop offset="0.4" stop-color="#238a8d"/><stop offset="0.5" stop-color="#1e9c89"/><stop offset="0.6" stop-color="#5ec962"/><stop offset="0.7" stop-color="#fde725"/><stop offset="0.8" stop-color="#fde725"/><stop offset="0.9" stop-color="#fde725"/><stop offset="1" stop-color="#fde725"/></linearGradient>
<linearGradient id="h63" x1="0" y1="0" x2="1" y2="0"><stop offset="0" stop-color="#25848e"/><stop offset="0.1" stop-color="#463480"/><stop offset="0.2" stop-color="#463480"/><stop offset="0.25" stop-color="#463480"/><stop offset="0.3" stop-color="#25848e"/><stop offset="0.4" stop-color="#1fa188"/><stop offset="0.5" stop-color="#3bbb75"/><stop offset="0.6" stop-color="#7ad151"/><stop offset="0.7" stop-color="#fde725"/><stop offset="0.8" stop-color="#fde725"/><stop offset="0.9" stop-color="#fde725"/><stop offset="1" stop-color="#fde725"/></linearGradient>
<linearGradient id="h64" x1="0" y1="0" x2="1" y2="0"><stop offset="0" stop-color="#287d8e"/><stop offset="0.1" stop-color="#27808e"/><stop offset="0.2" stop-color="#26828e"/><stop offset="0.3" stop-color="#25848e"/><stop offset="0.4" stop-color="#1f968b"/><stop offset="0.5" stop-color="#22a884"/><stop offset="0.6" stop-color="#90d743"/><stop offset="0.65" stop-color="#dfe318"/><stop offset="0.7" stop-color="#e5e419"/><stop offset="0.8" stop-color="#ece51b"/><stop offset="0.9" stop-color="#f6e620"/><stop offset="1" stop-color="#fde725"/></linearGradient>
<linearGradient id="h65" x1="0" y1="0" x2="1" y2="0"><stop offset="0" stop-color="#287d8e"/><stop offset="0.1" stop-color="#25838e"/><stop offset="0.2" stop-color="#238a8d"/><stop offset="0.3" stop-color="#21918c"/><stop offset="0.4" stop-color="#1fa188"/><stop offset="0.5" stop-color="#2ab07f"/><stop offset="0.6" stop-color="#44bf70"/><stop offset="0.7" stop-color="#50c46a"/><stop offset="0.8" stop-color="#5ec962"/><stop offset="0.9" stop-color="#6ccd5a"/><stop offset="1" stop-color="#7ad151"/></linearGradient>
<linearGradient id="h66" x1="0" y1="0" x2="1" y2="0"><stop offset="0" stop-color="#2a788e"/><stop offset="0.1" stop-color="#287c8e"/><stop offset="0.2" stop-color="#27808e"/><stop offset="0.3" stop-color="#25848e"/><stop offset="0.4" stop-color="#1e9c89"/><stop offset="0.5" stop-color="#2fb47c"/><stop offset="0.6" stop-color="#fde725"/><stop offset="0.7" stop-color="#fde725"/><stop offset="0.8" stop-color="#fde725"/><stop offset="0.9" stop-color="#fde725"/><stop offset="1" stop-color="#fde725"/></linearGradient>
<linearGradient id="h67" x1="0" y1="0" x2="1" y2="0"><stop offset="0" stop-color="#2a788e"/><stop offset="0.1" stop-color="#27808e"/><stop offset="0.2" stop-color="#23888e"/><stop offset="0.3" stop-color="#21918c"/><stop offset="0.4" stop-color="#20a486"/><stop offset="0.5" stop-color="#35b779"/><stop offset="0.6" stop-color="#5ec962"/><stop offset="0.7" stop-color="#dfe318"/><stop offset="0.8" stop-color="#eae51a"/><stop offset="0.9" stop-color="#f4e61e"/><stop offset="1" stop-color="#fde725"/></linearGradient>
<linearGradient id="h68" x1="0" y1="0" x2="1" y2="0"><stop offset="0" stop-color="#287d8e"/><stop offset="0.1" stop-color="#27808e"/><stop offset="0.2" stop-color="#26828e"/><stop offset="0.3" stop-color="#25848e"/><stop offset="0.4" stop-color="#21918c"/><stop offset="0.5" stop-color="#1e9c89"/><stop offset="0.6" stop-color="#22a884"/><stop offset="0.7" stop-color="#25ab82"/><stop offset="0.8" stop-color="#28ae80"/><stop offset="0.9" stop-color="#2cb17e"/><stop offset="1" stop-color="#2fb47c"/></linearGradient>
<linearGradient id="h69" x1="0" y1="0" x2="1" y2="0"><stop offset="0" stop-color="#2a788e"/><stop offset="0.1" stop-color="#287c8e"/><stop offset="0.2" stop-color="#27808e"/><stop offset="0.3" stop-color="#25848e"/><stop offset="0.4" stop-color="#21918c"/><stop offset="0.5" stop-color="#1e9c89"/><stop offset="0.6" stop-color="#7ad151"/><stop offset="0.7" stop-color="#8bd646"/><stop offset="0.8" stop-color="#9bd93c"/><stop offset="0.9" stop-color="#addc30"/><stop offset="1" stop-color="#bddf26"/></linearGradient>
<linearGradient id="h70" x1="0" y1="0" x2="1" y2="0"><stop offset="0" stop-color="#287d8e"/><stop offset="0.1" stop-color="#27808e"/><stop offset="0.2" stop-color="#26828e"/><stop offset="0.3" stop-color="#25848e"/><stop offset="0.4" stop-color="#228c8d"/><stop offset="0.5" stop-color="#1f948c"/><stop offset="0.6" stop-color="#1e9c89"/><stop offset="0.7" stop-color="#1fa088"/><stop offset="0.8" stop-color="#1fa287"/><stop offset="0.9" stop-color="#21a585"/><stop offset="1" stop-color="#22a884"/></linearGradient>
<linearGradient id="h71" x1="0" y1="0" x2="1" y2="0"><stop offset="0" stop-color="#2c738e"/><stop offset="0.1" stop-color="#2a768e"/><stop offset="0.2" stop-color="#297a8e"/><stop offset="0.3" stop-color="#287d8e"/><stop offset="0.4" stop-color="#24878e"/><stop offset="0.5" stop-color="#20928c"/><stop offset="0.6" stop-color="#1e9c89"/><stop offset="0.7" stop-color="#4cc26c"/><stop offset="0.75" stop-color="#7ad151"/><stop offset="0.8" stop-color="#81d34d"/><stop offset="0.9" stop-color="#8ed645"/><stop offset="1" stop-color="#9bd93c"/></linearGradient>
<linearGradient id="h72" x1="0" y1="0" x2="1" y2="0"><stop offset="0" stop-color="#287d8e"/><stop offset="0.1" stop-color="#27808e"/><stop offset="0.2" stop-color="#26828e"/><stop offset="0.3" stop-color="#25848e"/><stop offset="0.4" stop-color="#23888e"/><stop offset="0.5" stop-color="#228c8d"/><stop offset="0.6" stop-color="#21918c"/><stop offset="0.7" stop-color="#20938c"/><stop offset="0.8" stop-color="#1f968b"/><stop offset="0.9" stop-color="#1f998a"/><stop offset="1" stop-color="#1e9c89"/></linearGradient>
<linearGradient id="h73" x1="0" y1="0" x2="1" y2="0"><stop offset="0" stop-color="#2a788e"/><stop offset="0.1" stop-color="#287c8e"/><stop offset="0.2" stop-color="#27808e"/><stop offset="0.3" stop-color="#25848e"/><stop offset="0.4" stop-color="#228c8d"/><stop offset="0.5" stop-color="#1f948c"/><stop offset="0.6" stop-color="#1e9c89"/><stop offset="0.7" stop-color="#21a585"/><stop offset="0.8" stop-color="#28ae80"/><stop offset="0.9" stop-color="#34b679"/><stop offset="1" stop-color="#44bf70"/></linearGradient>
<linearGradient id="h74" x1="0" y1="0" x2="1" y2="0"><stop offset="0" stop-color="#287d8e"/><stop offset="0.1" stop-color="#27808e"/><stop offset="0.2" stop-color="#26828e"/><stop offset="0.3" stop-color="#25848e"/><stop offset="0.4" stop-color="#23888e"/><stop offset="0.5" stop-color="#228c8d"/><stop offset="0.6" stop-color="#21918c"/><stop offset="0.7" stop-color="#21918c"/><stop offset="0.8" stop-color="#21918c"/><stop offset="0.9" stop-color="#21918c"/><stop offset="1" stop-color="#21918c"/></linearGradient>
<linearGradient id="h75" x1="0" y1="0" x2="1" y2="0"><stop offset="0" stop-color="#25848e"/><stop offset="0.1" stop-color="#23888e"/><stop offset="0.2" stop-color="#228c8d"/><stop offset="0.3" stop-color="#21918c"/><stop offset="0.4" stop-color="#1f948c"/><stop offset="0.5" stop-color="#1f988b"/><stop offset="0.6" stop-color="#1e9c89"/><stop offset="0.7" stop-color="#1fa287"/><stop offset="0.8" stop-color="#22a884"/><stop offset="0.9" stop-color="#28ae80"/><stop offset="1" stop-color="#2fb47c"/></linearGradient>
<linearGradient id="h76" x1="0" y1="0" x2="1" y2="0"><stop offset="0" stop-color="#287d8e"/><stop offset="0.1" stop-color="#27808e"/><stop offset="0.2" stop-color="#26828e"/><stop offset="0.3" stop-color="#25848e"/><stop offset="0.4" stop-color="#23888e"/><stop offset="0.5" stop-color="#228c8d"/><stop offset="0.6" stop-color="#21918c"/><stop offset="0.7" stop-color="#21918c"/><stop offset="0.8" stop-color="#21918c"/><stop offset="0.9" stop-color="#21918c"/><stop offset="1" stop-color="#21918c"/></linearGradient>
<linearGradient id="h77" x1="0" y1="0" x2="1" y2="0"><stop offset="0" stop-color="#25848e"/><stop offset="0.1" stop-color="#25848e"/><stop offset="0.2" stop-color="#25848e"/><stop offset="0.3" stop-color="#25848e"/><stop offset="0.4" stop-color="#24868e"/><stop offset="0.5" stop-color="#24878e"/><stop offset="0.6" stop-color="#23898e"/><stop offset="0.7" stop-color="#228b8d"/><stop offset="0.8" stop-color="#228d8d"/><stop offset="0.9" stop-color="#218f8d"/><stop offset="1" stop-color="#21918c"/></linearGradient>
<linearGradient id="h78" x1="0" y1="0" x2="1" y2="0"><stop offset="0" stop-color="#22a884"/><stop offset="0.1" stop-color="#1f988b"/><stop offset="0.15" stop-color="#21918c"/><stop offset="0.2" stop-color="#2a788e"/><stop offset="0.25" stop-color="#355f8d"/><stop offset="0.3" stop-color="#3a548c"/><stop offset="0.4" stop-color="#433e85"/><stop offset="0.5" stop-color="#482475"/><stop offset="0.6" stop-color="#481c6e"/><stop offset="0.7" stop-color="#471365"/><stop offset="0.75" stop-color="#470028"/><stop offset="0.8" stop-color="#470028"/><stop offset="0.9" stop-color="#470028"/><stop offset="1" stop-color="#470028"/></linearGradient>
<linearGradient id="h79" x1="0" y1="0" x2="1" y2="0"><stop offset="0" stop-color="#1e9c89"/><stop offset="0.1" stop-color="#21918c"/><stop offset="0.15" stop-color="#228b8d"/><stop offset="0.2" stop-color="#2c738e"/><stop offset="0.25" stop-color="#375a8c"/><stop offset="0.3" stop-color="#3b518b"/><stop offset="0.4" stop-color="#423f85"/><stop offset="0.5" stop-color="#472a7a"/><stop offset="0.6" stop-color="#482173"/><stop offset="0.7" stop-color="#481769"/><stop offset="0.8" stop-color="#471365"/><stop offset="0.9" stop-color="#471063"/><stop offset="1" stop-color="#460b5e"/></linearGradient>
<linearGradient id="h80" x1="0" y1="0" x2="1" y2="0"><stop offset="0" stop-color="#21918c"/><stop offset="0.1" stop-color="#23888e"/><stop offset="0.15" stop-color="#25848e"/><stop offset="0.2" stop-color="#2f6c8e"/><stop offset="0.25" stop-color="#3b518b"/><stop offset="0.3" stop-color="#3f4889"/><stop offset="0.4" stop-color="#46337f"/><stop offset="0.5" stop-color="#481d6f"/><stop offset="0.6" stop-color="#470028"/><stop offset="0.65" stop-color="#470028"/><stop offset="0.7" stop-color="#470028"/><stop offset="0.8" stop-color="#470028"/><stop offset="0.9" stop-color="#470028"/><stop offset="1" stop-color="#470028"/></linearGradient>
<linearGradient id="h81" x1="0" y1="0" x2="1" y2="0"><stop offset="0" stop-color="#21918c"/><stop offset="0.1" stop-color="#238a8d"/><stop offset="0.2" stop-color="#25848e"/><stop offset="0.3" stop-color="#355f8d"/><stop offset="0.4" stop-color="#3b518b"/><stop offset="0.5" stop-color="#414487"/><stop offset="0.6" stop-color="#463480"/><stop offset="0.7" stop-color="#46307e"/><stop offset="0.8" stop-color="#472c7a"/><stop offset="0.9" stop-color="#482878"/><stop offset="1" stop-color="#482475"/></linearGradient>
<linearGradient id="h82" x1="0" y1="0" x2="1" y2="0"><stop offset="0" stop-color="#228b8d"/><stop offset="0.1" stop-color="#25848e"/><stop offset="0.2" stop-color="#287d8e"/><stop offset="0.3" stop-color="#3b528b"/><stop offset="0.4" stop-color="#424186"/><stop offset="0.5" stop-color="#472f7d"/><stop offset="0.6" stop-color="#481d6f"/><stop offset="0.7" stop-color="#48186a"/><stop offset="0.8" stop-color="#471365"/><stop offset="0.9" stop-color="#470d60"/><stop offset="1" stop-color="#46085c"/></linearGradient>
<linearGradient id="h83" x1="0" y1="0" x2="1" y2="0"><stop offset="0" stop-color="#21918c"/><stop offset="0.1" stop-color="#238a8d"/><stop offset="0.2" stop-color="#25848e"/><stop offset="0.3" stop-color="#32648e"/><stop offset="0.4" stop-color="#375a8c"/><stop offset="0.5" stop-color="#3c4f8a"/><stop offset="0.6" stop-color="#414487"/><stop offset="0.7" stop-color="#424086"/><stop offset="0.8" stop-color="#443b84"/><stop offset="0.9" stop-color="#453882"/><stop offset="1" stop-color="#463480"/></linearGradient>
<linearGradient id="h84" x1="0" y1="0" x2="1" y2="0"><stop offset="0" stop-color="#228b8d"/><stop offset="0.1" stop-color="#25848e"/><stop offset="0.2" stop-color="#287d8e"/><stop offset="0.3" stop-color="#375a8c"/><stop offset="0.4" stop-color="#3d4e8a"/><stop offset="0.5" stop-color="#424186"/><stop offset="0.6" stop-color="#463480"/><stop offset="0.7" stop-color="#472e7c"/><stop offset="0.8" stop-color="#482979"/><stop offset="0.9" stop-color="#482374"/><stop offset="1" stop-color="#481d6f"/></linearGradient>
<linearGradient id="h85" x1="0" y1="0" x2="1" y2="0"><stop offset="0" stop-color="#21918c"/><stop offset="0.1" stop-color="#238a8d"/><stop offset="0.2" stop-color="#25848e"/><stop offset="0.3" stop-color="#355f8d"/><stop offset="0.4" stop-color="#375b8d"/><stop offset="0.5" stop-color="#39568c"/><stop offset="0.6" stop-color="#3b528b"/><stop offset="0.7" stop-color="#3d4e8a"/><stop offset="0.8" stop-color="#3e4a89"/><stop offset="0.9" stop-color="#3f4788"/><stop offset="1" stop-color="#414487"/></linearGradient>
<linearGradient id="h86" x1="0" y1="0" x2="1" y2="0"><stop offset="0" stop-color="#228b8d"/><stop offset="0.1" stop-color="#25858e"/><stop offset="0.2" stop-color="#27808e"/><stop offset="0.3" stop-color="#355f8d"/><stop offset="0.4" stop-color="#3a548c"/><stop offset="0.5" stop-color="#3e4989"/><stop offset="0.6" stop-color="#433e85"/><stop offset="0.7" stop-color="#443983"/><stop offset="0.8" stop-color="#463480"/><stop offset="0.9" stop-color="#472f7d"/><stop offset="1" stop-color="#472a7a"/></linearGradient>
<linearGradient id="h87" x1="0" y1="0" x2="1" y2="0"><stop offset="0" stop-color="#21918c"/><stop offset="0.1" stop-color="#238a8d"/><stop offset="0.2" stop-color="#25848e"/><stop offset="0.3" stop-color="#32648e"/><stop offset="0.4" stop-color="#365c8d"/><stop offset="0.5" stop-color="#3b528b"/><stop offset="0.6" stop-color="#3e4989"/><stop offset="0.7" stop-color="#414487"/><stop offset="0.8" stop-color="#423f85"/><stop offset="0.9" stop-color="#443983"/><stop offset="1" stop-color="#463480"/></linearGradient>
<linearGradient id="h88" x1="0" y1="0" x2="1" y2="0"><stop offset="0" stop-color="#228b8d"/><stop offset="0.1" stop-color="#25848e"/><stop offset="0.2" stop-color="#287d8e"/><stop offset="0.3" stop-color="#3b528b"/><stop offset="0.4" stop-color="#414487"/><stop offset="0.5" stop-color="#463480"/><stop offset="0.6" stop-color="#482475"/><stop offset="0.7" stop-color="#481f70"/><stop offset="0.8" stop-color="#481a6c"/><stop offset="0.9" stop-color="#471365"/><stop offset="1" stop-color="#471365"/></linearGradient>
<linearGradient id="h89" x1="0" y1="0" x2="1" y2="0"><stop offset="0" stop-color="#228b8d"/><stop offset="0.1" stop-color="#25848e"/><stop offset="0.2" stop-color="#287d8e"/><stop offset="0.3" stop-color="#3b528b"/><stop offset="0.4" stop-color="#424186"/><stop offset="0.5" stop-color="#472f7d"/><stop offset="0.6" stop-color="#481d6f"/><stop offset="0.7" stop-color="#48186a"/><stop offset="0.8" stop-color="#471365"/><stop offset="0.9" stop-color="#470d60"/><stop offset="1" stop-color="#46085c"/></linearGradient>
<linearGradient id="h90" x1="0" y1="0" x2="1" y2="0"><stop offset="0" stop-color="#21918c"/><stop offset="0.1" stop-color="#238a8d"/><stop offset="0.2" stop-color="#25848e"/><stop offset="0.3" stop-color="#355f8d"/><stop offset="0.4" stop-color="#39568c"/><stop offset="0.5" stop-color="#3d4d8a"/><stop offset="0.6" stop-color="#414487"/><stop offset="0.7" stop-color="#424086"/><stop offset="0.8" stop-color="#443b84"/><stop offset="0.9" stop-color="#453882"/><stop offset="1" stop-color="#463480"/></linearGradient>
<linearGradient id="h91" x1="0" y1="0" x2="1" y2="0"><stop offset="0" stop-color="#228b8d"/><stop offset="0.1" stop-color="#25848e"/><stop offset="0.2" stop-color="#287d8e"/><stop offset="0.3" stop-color="#375a8c"/><stop offset="0.4" stop-color="#3e4c8a"/><stop offset="0.5" stop-color="#443b84"/><stop offset="0.6" stop-color="#472a7a"/><stop offset="0.7" stop-color="#482979"/><stop offset="0.8" stop-color="#482878"/><stop offset="0.9" stop-color="#482576"/><stop offset="1" stop-color="#482475"/></linearGradient>
<linearGradient id="h92" x1="0" y1="0" x2="1" y2="0"><stop offset="0" stop-color="#21918c"/><stop offset="0.1" stop-color="#238a8d"/><stop offset="0.2" stop-color="#25848e"/><stop offset="0.3" stop-color="#32648e"/><stop offset="0.4" stop-color="#355e8d"/><stop offset="0.5" stop-color="#38588c"/><stop offset="0.6" stop-color="#3b528b"/><stop offset="0.7" stop-color="#3c508b"/><stop offset="0.8" stop-color="#3d4e8a"/><stop offset="0.9" stop-color="#3e4c8a"/><stop offset="1" stop-color="#3e4989"/></linearGradient>
<linearGradient id="h93" x1="0" y1="0" x2="1" y2="0"><stop offset="0" stop-color="#21918c"/><stop offset="0.1" stop-color="#238a8d"/><stop offset="0.2" stop-color="#25848e"/><stop offset="0.3" stop-color="#355f8d"/><stop offset="0.4" stop-color="#38588c"/><stop offset="0.5" stop-color="#3b518b"/><stop offset="0.6" stop-color="#3e4989"/><stop offset="0.7" stop-color="#3f4889"/><stop offset="0.8" stop-color="#404688"/><stop offset="0.9" stop-color="#404588"/><stop offset="1" stop-color="#414487"/></linearGradient>
<linearGradient id="h94" x1="0" y1="0" x2="1" y2="0"><stop offset="0" stop-color="#228b8d"/><stop offset="0.1" stop-color="#25848e"/><stop offset="0.2" stop-color="#287d8e"/><stop offset="0.3" stop-color="#375a8c"/><stop offset="0.4" stop-color="#3b518b"/><stop offset="0.5" stop-color="#3f4788"/><stop offset="0.6" stop-color="#433e85"/><stop offset="0.7" stop-color="#443b84"/><stop offset="0.8" stop-color="#443983"/><stop offset="0.9" stop-color="#453781"/><stop offset="1" stop-color="#463480"/></linearGradient>
<linearGradient id="h95" x1="0" y1="0" x2="1" y2="0"><stop offset="0" stop-color="#21918c"/><stop offset="0.1" stop-color="#238a8d"/><stop offset="0.2" stop-color="#25848e"/><stop offset="0.3" stop-color="#32648e"/><stop offset="0.4" stop-color="#34618d"/><stop offset="0.5" stop-color="#355e8d"/><stop offset="0.6" stop-color="#375a8c"/><stop offset="0.7" stop-color="#38588c"/><stop offset="0.8" stop-color="#39558c"/><stop offset="0.9" stop-color="#3a538b"/><stop offset="1" stop-color="#3b528b"/></linearGradient>
<linearGradient id="h96" x1="0" y1="0" x2="1" y2="0"><stop offset="0" stop-color="#21918c"/><stop offset="0.1" stop-color="#238a8d"/><stop offset="0.2" stop-color="#25848e"/><stop offset="0.3" stop-color="#32648e"/><stop offset="0.4" stop-color="#355e8d"/><stop offset="0.5" stop-color="#38588c"/><stop offset="0.6" stop-color="#3b528b"/><stop offset="0.7" stop-color="#3b528b"/><stop offset="0.8" stop-color="#3b528b"/><stop offset="0.9" stop-color="#3b528b"/><stop offset="1" stop-color="#3b528b"/></linearGradient>
<linearGradient id="h97" x1="0" y1="0" x2="1" y2="0"><stop offset="0" stop-color="#25848e"/><stop offset="0.1" stop-color="#24878e"/><stop offset="0.2" stop-color="#228b8d"/><stop offset="0.3" stop-color="#218f8d"/><stop offset="0.35" stop-color="#21918c"/><stop offset="0.4" stop-color="#28ae80"/><stop offset="0.41" stop-color="#2fb47c"/><stop offset="0.45" stop-color="#bddf26"/><stop offset="0.5" stop-color="#bddf26"/><stop offset="0.6" stop-color="#bddf26"/><stop offset="0.7" stop-color="#bddf26"/><stop offset="0.8" stop-color="#bddf26"/><stop offset="0.85" stop-color="#bddf26"/><stop offset="0.88" stop-color="#482475"/><stop offset="0.9" stop-color="#470028"/><stop offset="1" stop-color="#470028"/></linearGradient>
<linearGradient id="h98" x1="0" y1="0" x2="1" y2="0"><stop offset="0" stop-color="#25848e"/><stop offset="0.1" stop-color="#287c8e"/><stop offset="0.15" stop-color="#2a788e"/><stop offset="0.2" stop-color="#2f6c8e"/><stop offset="0.25" stop-color="#355f8d"/><stop offset="0.3" stop-color="#31668e"/><stop offset="0.35" stop-color="#2f6c8e"/><stop offset="0.4" stop-color="#218e8d"/><stop offset="0.44" stop-color="#22a884"/><stop offset="0.5" stop-color="#48c16e"/><stop offset="0.55" stop-color="#7ad151"/><stop offset="0.6" stop-color="#cae11f"/><stop offset="0.7" stop-color="#d0e11c"/><stop offset="0.8" stop-color="#d5e21a"/><stop offset="0.9" stop-color="#dae319"/><stop offset="1" stop-color="#dfe318"/></linearGradient>
<linearGradient id="h99" x1="0" y1="0" x2="1" y2="0"><stop offset="0" stop-color="#25848e"/><stop offset="0.1" stop-color="#25848e"/><stop offset="0.2" stop-color="#25848e"/><stop offset="0.3" stop-color="#25848e"/><stop offset="0.4" stop-color="#1f948c"/><stop offset="0.45" stop-color="#1e9c89"/><stop offset="0.5" stop-color="#24aa83"/><stop offset="0.58" stop-color="#44bf70"/><stop offset="0.6" stop-color="#8bd646"/><stop offset="0.62" stop-color="#dfe318"/><stop offset="0.7" stop-color="#e5e419"/><stop offset="0.8" stop-color="#efe51c"/><stop offset="0.9" stop-color="#f6e620"/><stop offset="1" stop-color="#fde725"/></linearGradient>
<linearGradient id="h100" x1="0" y1="0" x2="1" y2="0"><stop offset="0" stop-color="#25848e"/><stop offset="0.1" stop-color="#2a788e"/><stop offset="0.2" stop-color="#2f6c8e"/><stop offset="0.3" stop-color="#2b748e"/><stop offset="0.35" stop-color="#2a788e"/><stop offset="0.4" stop-color="#21918c"/><stop offset="0.5" stop-color="#44bf70"/><stop offset="0.6" stop-color="#bddf26"/><stop offset="0.66" stop-color="#fde725"/><stop offset="0.7" stop-color="#fde725"/><stop offset="0.8" stop-color="#fde725"/><stop offset="0.9" stop-color="#fde725"/><stop offset="1" stop-color="#fde725"/></linearGradient>
<linearGradient id="h101" x1="0" y1="0" x2="1" y2="0"><stop offset="0" stop-color="#287d8e"/><stop offset="0.1" stop-color="#2d718e"/><stop offset="0.2" stop-color="#32648e"/><stop offset="0.3" stop-color="#2c718e"/><stop offset="0.35" stop-color="#2a788e"/><stop offset="0.4" stop-color="#20928c"/><stop offset="0.5" stop-color="#4ec36b"/><stop offset="0.6" stop-color="#bade28"/><stop offset="0.66" stop-color="#fde725"/><stop offset="0.7" stop-color="#fde725"/><stop offset="0.8" stop-color="#fde725"/><stop offset="0.9" stop-color="#fde725"/><stop offset="1" stop-color="#fde725"/></linearGradient>
<linearGradient id="h102" x1="0" y1="0" x2="1" y2="0"><stop offset="0" stop-color="#25848e"/><stop offset="0.1" stop-color="#25848e"/><stop offset="0.2" stop-color="#25848e"/><stop offset="0.3" stop-color="#25848e"/><stop offset="0.4" stop-color="#1e9c89"/><stop offset="0.45" stop-color="#22a884"/><stop offset="0.5" stop-color="#50c46a"/><stop offset="0.55" stop-color="#9bd93c"/><stop offset="0.6" stop-color="#fde725"/><stop offset="0.7" stop-color="#fde725"/><stop offset="0.8" stop-color="#fde725"/><stop offset="0.9" stop-color="#fde725"/><stop offset="1" stop-color="#fde725"/></linearGradient>
<linearGradient id="h103" x1="0" y1="0" x2="1" y2="0"><stop offset="0" stop-color="#25848e"/><stop offset="0.1" stop-color="#24868e"/><stop offset="0.2" stop-color="#23898e"/><stop offset="0.3" stop-color="#228b8d"/><stop offset="0.4" stop-color="#1f9a8a"/><stop offset="0.5" stop-color="#22a884"/><stop offset="0.58" stop-color="#fde725"/><stop offset="0.6" stop-color="#fde725"/><stop offset="0.7" stop-color="#fde725"/><stop offset="0.8" stop-color="#fde725"/><stop offset="0.9" stop-color="#fde725"/><stop offset="1" stop-color="#fde725"/></linearGradient>
<linearGradient id="h104" x1="0" y1="0" x2="1" y2="0"><stop offset="0" stop-color="#25848e"/><stop offset="0.1" stop-color="#24878e"/><stop offset="0.2" stop-color="#238a8d"/><stop offset="0.3" stop-color="#228d8d"/><stop offset="0.4" stop-color="#21918c"/><stop offset="0.5" stop-color="#22a884"/><stop offset="0.6" stop-color="#44bf70"/><stop offset="0.7" stop-color="#9bd93c"/><stop offset="0.8" stop-color="#9bd93c"/><stop offset="0.9" stop-color="#9bd93c"/><stop offset="1" stop-color="#9bd93c"/></linearGradient>
<linearGradient id="h105" x1="0" y1="0" x2="1" y2="0"><stop offset="0" stop-color="#25848e"/><stop offset="0.1" stop-color="#24868e"/><stop offset="0.2" stop-color="#23888e"/><stop offset="0.3" stop-color="#23898e"/><stop offset="0.4" stop-color="#228b8d"/><stop offset="0.5" stop-color="#20a386"/><stop offset="0.6" stop-color="#3bbb75"/><stop offset="0.7" stop-color="#48c16e"/><stop offset="0.8" stop-color="#58c765"/><stop offset="0.9" stop-color="#69cd5b"/><stop offset="1" stop-color="#7ad151"/></linearGradient>
<linearGradient id="h106" x1="0" y1="0" x2="1" y2="0"><stop offset="0" stop-color="#25848e"/><stop offset="0.1" stop-color="#27808e"/><stop offset="0.2" stop-color="#287c8e"/><stop offset="0.3" stop-color="#2a788e"/><stop offset="0.4" stop-color="#27808e"/><stop offset="0.5" stop-color="#23888e"/><stop offset="0.6" stop-color="#21918c"/><stop offset="0.7" stop-color="#1f968b"/><stop offset="0.8" stop-color="#1e9c89"/><stop offset="0.9" stop-color="#1fa287"/><stop offset="1" stop-color="#22a884"/></linearGradient>
<linearGradient id="h107" x1="0" y1="0" x2="1" y2="0"><stop offset="0" stop-color="#25848e"/><stop offset="0.1" stop-color="#277f8e"/><stop offset="0.2" stop-color="#29798e"/><stop offset="0.3" stop-color="#2c738e"/><stop offset="0.4" stop-color="#287d8e"/><stop offset="0.5" stop-color="#24868e"/><stop offset="0.6" stop-color="#21918c"/><stop offset="0.7" stop-color="#20938c"/><stop offset="0.8" stop-color="#1f968b"/><stop offset="0.9" stop-color="#1f998a"/><stop offset="1" stop-color="#1e9c89"/></linearGradient>
<linearGradient id="h108" x1="0" y1="0" x2="1" y2="0"><stop offset="0" stop-color="#287d8e"/><stop offset="0.1" stop-color="#297a8e"/><stop offset="0.2" stop-color="#2a768e"/><stop offset="0.3" stop-color="#2c738e"/><stop offset="0.4" stop-color="#29798e"/><stop offset="0.5" stop-color="#277f8e"/><stop offset="0.6" stop-color="#25848e"/><stop offset="0.7" stop-color="#238a8d"/><stop offset="0.8" stop-color="#21918c"/><stop offset="0.9" stop-color="#1f968b"/><stop offset="1" stop-color="#1e9c89"/></linearGradient>
<linearGradient id="h109" x1="0" y1="0" x2="1" y2="0"><stop offset="0" stop-color="#25848e"/><stop offset="0.1" stop-color="#23888e"/><stop offset="0.2" stop-color="#228c8d"/><stop offset="0.3" stop-color="#21918c"/><stop offset="0.4" stop-color="#24aa83"/><stop offset="0.44" stop-color="#2fb47c"/><stop offset="0.5" stop-color="#46c06f"/><stop offset="0.6" stop-color="#7ad151"/><stop offset="0.66" stop-color="#cae11f"/><stop offset="0.7" stop-color="#cde11d"/><stop offset="0.8" stop-color="#d2e21b"/><stop offset="0.9" stop-color="#d8e219"/><stop offset="1" stop-color="#dfe318"/></linearGradient>
<linearGradient id="h110" x1="0" y1="0" x2="1" y2="0"><stop offset="0" stop-color="#25848e"/><stop offset="0.1" stop-color="#23888e"/><stop offset="0.2" stop-color="#228c8d"/><stop offset="0.3" stop-color="#21918c"/><stop offset="0.4" stop-color="#24aa83"/><stop offset="0.44" stop-color="#2fb47c"/><stop offset="0.5" stop-color="#50c46a"/><stop offset="0.6" stop-color="#9bd93c"/><stop offset="0.66" stop-color="#dfe318"/><stop offset="0.7" stop-color="#e2e418"/><stop offset="0.8" stop-color="#ece51b"/><stop offset="0.9" stop-color="#f6e620"/><stop offset="1" stop-color="#fde725"/></linearGradient>
<linearGradient id="h111" x1="0" y1="0" x2="1" y2="0"><stop offset="0" stop-color="#25848e"/><stop offset="0.1" stop-color="#23888e"/><stop offset="0.2" stop-color="#228c8d"/><stop offset="0.3" stop-color="#21918c"/><stop offset="0.4" stop-color="#21a685"/><stop offset="0.41" stop-color="#22a884"/><stop offset="0.5" stop-color="#44bf70"/><stop offset="0.56" stop-color="#fde725"/><stop offset="0.6" stop-color="#fde725"/><stop offset="0.7" stop-color="#fde725"/><stop offset="0.8" stop-color="#fde725"/><stop offset="0.9" stop-color="#fde725"/><stop offset="1" stop-color="#fde725"/></linearGradient>
<linearGradient id="h112" x1="0" y1="0" x2="1" y2="0"><stop offset="0" stop-color="#287d8e"/><stop offset="0.1" stop-color="#27808e"/><stop offset="0.2" stop-color="#26828e"/><stop offset="0.3" stop-color="#25848e"/><stop offset="0.4" stop-color="#1fa188"/><stop offset="0.41" stop-color="#20a386"/><stop offset="0.5" stop-color="#4ec36b"/><stop offset="0.52" stop-color="#5ec962"/><stop offset="0.59" stop-color="#fde725"/><stop offset="0.6" stop-color="#fde725"/><stop offset="0.7" stop-color="#fde725"/><stop offset="0.8" stop-color="#fde725"/><stop offset="0.9" stop-color="#fde725"/><stop offset="1" stop-color="#fde725"/></linearGradient>
<linearGradient id="h113" x1="0" y1="0" x2="1" y2="0"><stop offset="0" stop-color="#2a788e"/><stop offset="0.1" stop-color="#297a8e"/><stop offset="0.2" stop-color="#297b8e"/><stop offset="0.3" stop-color="#287d8e"/><stop offset="0.4" stop-color="#228d8d"/><stop offset="0.5" stop-color="#1e9c89"/><stop offset="0.6" stop-color="#44bf70"/><stop offset="0.7" stop-color="#d0e11c"/><stop offset="0.71" stop-color="#dfe318"/><stop offset="0.8" stop-color="#eae51a"/><stop offset="0.9" stop-color="#f4e61e"/><stop offset="1" stop-color="#fde725"/></linearGradient>
<linearGradient id="h114" x1="0" y1="0" x2="1" y2="0"><stop offset="0" stop-color="#2c738e"/><stop offset="0.1" stop-color="#2a778e"/><stop offset="0.2" stop-color="#287c8e"/><stop offset="0.3" stop-color="#27808e"/><stop offset="0.4" stop-color="#25848e"/><stop offset="0.5" stop-color="#1f978b"/><stop offset="0.59" stop-color="#22a884"/><stop offset="0.6" stop-color="#26ad81"/><stop offset="0.7" stop-color="#8ed645"/><stop offset="0.71" stop-color="#9bd93c"/><stop offset="0.8" stop-color="#a5db36"/><stop offset="0.9" stop-color="#b0dd2f"/><stop offset="1" stop-color="#bddf26"/></linearGradient>
<linearGradient id="h115" x1="0" y1="0" x2="1" y2="0"><stop offset="0" stop-color="#2f6c8e"/><stop offset="0.1" stop-color="#34608d"/><stop offset="0.2" stop-color="#3a538b"/><stop offset="0.21" stop-color="#3b528b"/><stop offset="0.3" stop-color="#355f8d"/><stop offset="0.4" stop-color="#2f6c8e"/><stop offset="0.5" stop-color="#277e8e"/><stop offset="0.6" stop-color="#21918c"/><stop offset="0.7" stop-color="#1f968b"/><stop offset="0.8" stop-color="#1e9c89"/><stop offset="0.9" stop-color="#1fa287"/><stop offset="1" stop-color="#22a884"/></linearGradient>
<linearGradient id="h116" x1="0" y1="0" x2="1" y2="0"><stop offset="0" stop-color="#2f6c8e"/><stop offset="0.1" stop-color="#365c8d"/><stop offset="0.2" stop-color="#3e4a89"/><stop offset="0.21" stop-color="#3e4989"/><stop offset="0.3" stop-color="#3a548c"/><stop offset="0.4" stop-color="#355f8d"/><stop offset="0.5" stop-color="#2c728e"/><stop offset="0.6" stop-color="#25848e"/><stop offset="0.7" stop-color="#238a8d"/><stop offset="0.8" stop-color="#21918c"/><stop offset="0.9" stop-color="#1f968b"/><stop offset="1" stop-color="#1e9c89"/></linearGradient>
<linearGradient id="h117" x1="0" y1="0" x2="1" y2="0"><stop offset="0" stop-color="#2f6c8e"/><stop offset="0.1" stop-color="#31688e"/><stop offset="0.2" stop-color="#32648e"/><stop offset="0.3" stop-color="#355f8d"/><stop offset="0.4" stop-color="#2f6c8e"/><stop offset="0.5" stop-color="#2a788e"/><stop offset="0.6" stop-color="#25848e"/><stop offset="0.7" stop-color="#24878e"/><stop offset="0.8" stop-color="#238a8d"/><stop offset="0.9" stop-color="#228d8d"/><stop offset="1" stop-color="#21918c"/></linearGradient>
<linearGradient id="h118" x1="0" y1="0" x2="1" y2="0"><stop offset="0" stop-color="#2f6c8e"/><stop offset="0.1" stop-color="#306a8e"/><stop offset="0.2" stop-color="#31678e"/><stop offset="0.3" stop-color="#32648e"/><stop offset="0.4" stop-color="#2e6d8e"/><stop offset="0.5" stop-color="#2b748e"/><stop offset="0.6" stop-color="#287d8e"/><stop offset="0.7" stop-color="#277f8e"/><stop offset="0.8" stop-color="#26818e"/><stop offset="0.9" stop-color="#26828e"/><stop offset="1" stop-color="#25848e"/></linearGradient>
<linearGradient id="h119" x1="0" y1="0" x2="1" y2="0"><stop offset="0" stop-color="#2f6c8e"/><stop offset="0.1" stop-color="#31688e"/><stop offset="0.2" stop-color="#32648e"/><stop offset="0.3" stop-color="#355f8d"/><stop offset="0.4" stop-color="#31668e"/><stop offset="0.5" stop-color="#2e6d8e"/><stop offset="0.6" stop-color="#2c738e"/><stop offset="0.7" stop-color="#2b748e"/><stop offset="0.8" stop-color="#2b758e"/><stop offset="0.9" stop-color="#2a778e"/><stop offset="1" stop-color="#2a788e"/></linearGradient>
<linearGradient id="h120" x1="0" y1="0" x2="1" y2="0"><stop offset="0" stop-color="#2c738e"/><stop offset="0.1" stop-color="#2d718e"/><stop offset="0.2" stop-color="#2e6f8e"/><stop offset="0.3" stop-color="#2f6c8e"/><stop offset="0.4" stop-color="#2e6d8e"/><stop offset="0.5" stop-color="#2e6e8e"/><stop offset="0.6" stop-color="#2e6f8e"/><stop offset="0.7" stop-color="#2d708e"/><stop offset="0.8" stop-color="#2c718e"/><stop offset="0.9" stop-color="#2c728e"/><stop offset="1" stop-color="#2c738e"/></linearGradient>
<linearGradient id="h121" x1="0" y1="0" x2="1" y2="0"><stop offset="0" stop-color="#355f8d"/><stop offset="0.1" stop-color="#32648e"/><stop offset="0.2" stop-color="#31688e"/><stop offset="0.3" stop-color="#2f6c8e"/><stop offset="0.35" stop-color="#22a884"/><stop offset="0.36" stop-color="#fde725"/><stop offset="0.4" stop-color="#fde725"/><stop offset="0.5" stop-color="#fde725"/><stop offset="0.6" stop-color="#fde725"/><stop offset="0.7" stop-color="#fde725"/><stop offset="0.8" stop-color="#fde725"/><stop offset="0.9" stop-color="#fde725"/><stop offset="1" stop-color="#fde725"/></linearGradient>
<linearGradient id="h122" x1="0" y1="0" x2="1" y2="0"><stop offset="0" stop-color="#25848e"/><stop offset="0.1" stop-color="#25848e"/><stop offset="0.2" stop-color="#25848e"/><stop offset="0.3" stop-color="#25848e"/><stop offset="0.37" stop-color="#44bf70"/><stop offset="0.38" stop-color="#fde725"/><stop offset="0.4" stop-color="#fde725"/><stop offset="0.5" stop-color="#fde725"/><stop offset="0.6" stop-color="#fde725"/><stop offset="0.7" stop-color="#fde725"/><stop offset="0.8" stop-color="#fde725"/><stop offset="0.9" stop-color="#fde725"/><stop offset="1" stop-color="#fde725"/></linearGradient>
<linearGradient id="h123" x1="0" y1="0" x2="1" y2="0"><stop offset="0" stop-color="#25848e"/><stop offset="0.1" stop-color="#25848e"/><stop offset="0.2" stop-color="#25848e"/><stop offset="0.3" stop-color="#25848e"/><stop offset="0.35" stop-color="#25848e"/><stop offset="0.4" stop-color="#28ae80"/><stop offset="0.42" stop-color="#44bf70"/><stop offset="0.43" stop-color="#fde725"/><stop offset="0.5" stop-color="#fde725"/><stop offset="0.6" stop-color="#fde725"/><stop offset="0.7" stop-color="#fde725"/><stop offset="0.8" stop-color="#fde725"/><stop offset="0.9" stop-color="#fde725"/><stop offset="1" stop-color="#fde725"/></linearGradient>
<linearGradient id="h124" x1="0" y1="0" x2="1" y2="0"><stop offset="0" stop-color="#2a788e"/><stop offset="0.1" stop-color="#2b748e"/><stop offset="0.2" stop-color="#2c718e"/><stop offset="0.3" stop-color="#2e6e8e"/><stop offset="0.35" stop-color="#2f6c8e"/><stop offset="0.4" stop-color="#24878e"/><stop offset="0.46" stop-color="#22a884"/><stop offset="0.48" stop-color="#fde725"/><stop offset="0.5" stop-color="#fde725"/><stop offset="0.6" stop-color="#fde725"/><stop offset="0.7" stop-color="#fde725"/><stop offset="0.8" stop-color="#fde725"/><stop offset="0.9" stop-color="#fde725"/><stop offset="1" stop-color="#fde725"/></linearGradient>
<linearGradient id="h125" x1="0" y1="0" x2="1" y2="0"><stop offset="0" stop-color="#25848e"/><stop offset="0.1" stop-color="#26828e"/><stop offset="0.2" stop-color="#27808e"/><stop offset="0.3" stop-color="#277e8e"/><stop offset="0.35" stop-color="#287d8e"/><stop offset="0.4" stop-color="#1f9f88"/><stop offset="0.45" stop-color="#44bf70"/><stop offset="0.46" stop-color="#fde725"/><stop offset="0.5" stop-color="#fde725"/><stop offset="0.6" stop-color="#fde725"/><stop offset="0.7" stop-color="#fde725"/><stop offset="0.8" stop-color="#fde725"/><stop offset="0.9" stop-color="#fde725"/><stop offset="1" stop-color="#fde725"/></linearGradient>
<linearGradient id="h126" x1="0" y1="0" x2="1" y2="0"><stop offset="0" stop-color="#2f6c8e"/><stop offset="0.1" stop-color="#31678e"/><stop offset="0.2" stop-color="#33628d"/><stop offset="0.25" stop-color="#355f8d"/><stop offset="0.28" stop-color="#3e4989"/><stop offset="0.3" stop-color="#3e4a89"/><stop offset="0.4" stop-color="#3c4f8a"/><stop offset="0.47" stop-color="#3b528b"/><stop offset="0.48" stop-color="#fde725"/><stop offset="0.5" stop-color="#fde725"/><stop offset="0.6" stop-color="#fde725"/><stop offset="0.7" stop-color="#fde725"/><stop offset="0.8" stop-color="#fde725"/><stop offset="0.9" stop-color="#fde725"/><stop offset="1" stop-color="#fde725"/></linearGradient>
<linearGradient id="h127" x1="0" y1="0" x2="1" y2="0"><stop offset="0" stop-color="#25848e"/><stop offset="0.1" stop-color="#25848e"/><stop offset="0.2" stop-color="#25848e"/><stop offset="0.3" stop-color="#25848e"/><stop offset="0.35" stop-color="#25848e"/><stop offset="0.4" stop-color="#58c765"/><stop offset="0.41" stop-color="#7ad151"/><stop offset="0.42" stop-color="#fde725"/><stop offset="0.5" stop-color="#fde725"/><stop offset="0.6" stop-color="#fde725"/><stop offset="0.7" stop-color="#fde725"/><stop offset="0.8" stop-color="#fde725"/><stop offset="0.9" stop-color="#fde725"/><stop offset="1" stop-color="#fde725"/></linearGradient>
<linearGradient id="h128" x1="0" y1="0" x2="1" y2="0"><stop offset="0" stop-color="#414487"/><stop offset="0.1" stop-color="#423f85"/><stop offset="0.2" stop-color="#443a83"/><stop offset="0.3" stop-color="#463480"/><stop offset="0.4" stop-color="#472f7d"/><stop offset="0.5" stop-color="#472a7a"/><stop offset="0.6" stop-color="#472d7b"/><stop offset="0.7" stop-color="#472f7d"/><stop offset="0.8" stop-color="#46327e"/><stop offset="0.9" stop-color="#463480"/><stop offset="1" stop-color="#414487"/></linearGradient>
<linearGradient id="h129" x1="0" y1="0" x2="1" y2="0"><stop offset="0" stop-color="#25848e"/><stop offset="0.1" stop-color="#25848e"/><stop offset="0.2" stop-color="#25848e"/><stop offset="0.22" stop-color="#25848e"/><stop offset="0.27" stop-color="#bddf26"/><stop offset="0.28" stop-color="#fde725"/><stop offset="0.3" stop-color="#fde725"/><stop offset="0.4" stop-color="#fde725"/><stop offset="0.5" stop-color="#fde725"/><stop offset="0.6" stop-color="#fde725"/><stop offset="0.7" stop-color="#fde725"/><stop offset="0.8" stop-color="#fde725"/><stop offset="0.9" stop-color="#fde725"/><stop offset="1" stop-color="#fde725"/></linearGradient>
<linearGradient id="h130" x1="0" y1="0" x2="1" y2="0"><stop offset="0" stop-color="#287d8e"/><stop offset="0.1" stop-color="#27808e"/><stop offset="0.2" stop-color="#26828e"/><stop offset="0.25" stop-color="#25848e"/><stop offset="0.3" stop-color="#dfe318"/><stop offset="0.31" stop-color="#fde725"/><stop offset="0.4" stop-color="#fde725"/><stop offset="0.5" stop-color="#fde725"/><stop offset="0.6" stop-color="#fde725"/><stop offset="0.7" stop-color="#fde725"/><stop offset="0.8" stop-color="#fde725"/><stop offset="0.9" stop-color="#fde725"/><stop offset="1" stop-color="#fde725"/></linearGradient>
<linearGradient id="h131" x1="0" y1="0" x2="1" y2="0"><stop offset="0" stop-color="#355f8d"/><stop offset="0.1" stop-color="#355f8d"/><stop offset="0.2" stop-color="#355f8d"/><stop offset="0.3" stop-color="#355f8d"/><stop offset="0.4" stop-color="#355f8d"/><stop offset="0.5" stop-color="#355f8d"/><stop offset="0.55" stop-color="#355f8d"/><stop offset="0.6" stop-color="#22a884"/><stop offset="0.62" stop-color="#fde725"/><stop offset="0.7" stop-color="#fde725"/><stop offset="0.8" stop-color="#fde725"/><stop offset="0.9" stop-color="#fde725"/><stop offset="1" stop-color="#fde725"/></linearGradient>
<linearGradient id="h132" x1="0" y1="0" x2="1" y2="0"><stop offset="0" stop-color="#287d8e"/><stop offset="0.1" stop-color="#287d8e"/><stop offset="0.2" stop-color="#287d8e"/><stop offset="0.25" stop-color="#287d8e"/><stop offset="0.29" stop-color="#dfe318"/><stop offset="0.3" stop-color="#fde725"/><stop offset="0.4" stop-color="#fde725"/><stop offset="0.5" stop-color="#fde725"/><stop offset="0.6" stop-color="#fde725"/><stop offset="0.7" stop-color="#fde725"/><stop offset="0.8" stop-color="#fde725"/><stop offset="0.9" stop-color="#fde725"/><stop offset="1" stop-color="#fde725"/></linearGradient>
<linearGradient id="h133" x1="0" y1="0" x2="1" y2="0"><stop offset="0" stop-color="#2c738e"/><stop offset="0.1" stop-color="#2b758e"/><stop offset="0.2" stop-color="#2a778e"/><stop offset="0.25" stop-color="#2a788e"/><stop offset="0.3" stop-color="#bddf26"/><stop offset="0.32" stop-color="#fde725"/><stop offset="0.4" stop-color="#fde725"/><stop offset="0.5" stop-color="#fde725"/><stop offset="0.6" stop-color="#fde725"/><stop offset="0.7" stop-color="#fde725"/><stop offset="0.8" stop-color="#fde725"/><stop offset="0.9" stop-color="#fde725"/><stop offset="1" stop-color="#fde725"/></linearGradient>
<linearGradient id="h134" x1="0" y1="0" x2="1" y2="0"><stop offset="0" stop-color="#2a788e"/><stop offset="0.1" stop-color="#297a8e"/><stop offset="0.2" stop-color="#287c8e"/><stop offset="0.25" stop-color="#287d8e"/><stop offset="0.29" stop-color="#fde725"/><stop offset="0.3" stop-color="#fde725"/><stop offset="0.4" stop-color="#fde725"/><stop offset="0.5" stop-color="#fde725"/><stop offset="0.6" stop-color="#fde725"/><stop offset="0.7" stop-color="#fde725"/><stop offset="0.8" stop-color="#fde725"/><stop offset="0.9" stop-color="#fde725"/><stop offset="1" stop-color="#fde725"/></linearGradient>
<linearGradient id="cb135" x1="0" y1="0" x2="0" y2="1"><stop offset="0.000" stop-color="#fde725"/><stop offset="0.050" stop-color="#dfe318"/><stop offset="0.100" stop-color="#bddf26"/><stop offset="0.150" stop-color="#9bd93c"/><stop offset="0.200" stop-color="#7ad151"/><stop offset="0.250" stop-color="#5ec962"/><stop offset="0.300" stop-color="#44bf70"/><stop offset="0.350" stop-color="#2fb47c"/><stop offset="0.400" stop-color="#22a884"/><stop offset="0.450" stop-color="#1e9c89"/><stop offset="0.500" stop-color="#21918c"/><stop offset="0.550" stop-color="#25848e"/><stop offset="0.600" stop-color="#2a788e"/><stop offset="0.650" stop-color="#2f6c8e"/><stop offset="0.700" stop-color="#355f8d"/><stop offset="0.750" stop-color="#3b528b"/><stop offset="0.800" stop-color="#414487"/><stop offset="0.850" stop-color="#463480"/><stop offset="0.900" stop-color="#482475"/><stop offset="0.950" stop-color="#471365"/><stop offset="1.000" stop-color="#440154"/></linearGradient>
<linearGradient id="h136" x1="0" y1="0" x2="1" y2="0"><stop offset="0" stop-color="#287d8e"/><stop offset="0.1" stop-color="#27808e"/><stop offset="0.2" stop-color="#26828e"/><stop offset="0.3" stop-color="#25848e"/><stop offset="0.4" stop-color="#21918c"/><stop offset="0.5" stop-color="#1e9c89"/><stop offset="0.53" stop-color="#9bd93c"/><stop offset="0.6" stop-color="#fde725"/><stop offset="0.7" stop-color="#fde725"/><stop offset="0.8" stop-color="#fde725"/><stop offset="0.9" stop-color="#fde725"/><stop offset="1" stop-color="#fde725"/></linearGradient>
<linearGradient id="h137" x1="0" y1="0" x2="1" y2="0"><stop offset="0" stop-color="#287d8e"/><stop offset="0.1" stop-color="#27808e"/><stop offset="0.2" stop-color="#26828e"/><stop offset="0.3" stop-color="#25848e"/><stop offset="0.4" stop-color="#20928c"/><stop offset="0.5" stop-color="#1fa188"/><stop offset="0.55" stop-color="#22a884"/><stop offset="0.6" stop-color="#dfe318"/><stop offset="0.7" stop-color="#e7e419"/><stop offset="0.8" stop-color="#efe51c"/><stop offset="0.9" stop-color="#f6e620"/><stop offset="1" stop-color="#fde725"/></linearGradient>
<linearGradient id="h138" x1="0" y1="0" x2="1" y2="0"><stop offset="0" stop-color="#3b528b"/><stop offset="0.1" stop-color="#31688e"/><stop offset="0.12" stop-color="#2f6c8e"/><stop offset="0.2" stop-color="#2c738e"/><stop offset="0.3" stop-color="#287d8e"/><stop offset="0.4" stop-color="#1f958b"/><stop offset="0.5" stop-color="#26ad81"/><stop offset="0.53" stop-color="#2fb47c"/><stop offset="0.6" stop-color="#4ac16d"/><stop offset="0.7" stop-color="#7ad151"/><stop offset="0.8" stop-color="#7ad151"/><stop offset="0.9" stop-color="#7ad151"/><stop offset="1" stop-color="#7ad151"/></linearGradient>
<linearGradient id="h139" x1="0" y1="0" x2="1" y2="0"><stop offset="0" stop-color="#287d8e"/><stop offset="0.1" stop-color="#27808e"/><stop offset="0.2" stop-color="#26828e"/><stop offset="0.3" stop-color="#25848e"/><stop offset="0.4" stop-color="#20928c"/><stop offset="0.5" stop-color="#1fa188"/><stop offset="0.55" stop-color="#22a884"/><stop offset="0.6" stop-color="#86d549"/><stop offset="0.63" stop-color="#dfe318"/><stop offset="0.7" stop-color="#e5e419"/><stop offset="0.8" stop-color="#efe51c"/><stop offset="0.9" stop-color="#f6e620"/><stop offset="1" stop-color="#fde725"/></linearGradient>
<linearGradient id="h140" x1="0" y1="0" x2="1" y2="0"><stop offset="0" stop-color="#287d8e"/><stop offset="0.1" stop-color="#27808e"/><stop offset="0.2" stop-color="#26828e"/><stop offset="0.3" stop-color="#25848e"/><stop offset="0.4" stop-color="#228c8d"/><stop offset="0.5" stop-color="#1f948c"/><stop offset="0.6" stop-color="#1e9c89"/><stop offset="0.7" stop-color="#1fa088"/><stop offset="0.8" stop-color="#1fa287"/><stop offset="0.9" stop-color="#21a585"/><stop offset="1" stop-color="#22a884"/></linearGradient>
<linearGradient id="h141" x1="0" y1="0" x2="1" y2="0"><stop offset="0" stop-color="#287d8e"/><stop offset="0.1" stop-color="#27808e"/><stop offset="0.2" stop-color="#26828e"/><stop offset="0.3" stop-color="#25848e"/><stop offset="0.4" stop-color="#21918c"/><stop offset="0.5" stop-color="#1e9c89"/><stop offset="0.56" stop-color="#fde725"/><stop offset="0.6" stop-color="#fde725"/><stop offset="0.7" stop-color="#fde725"/><stop offset="0.8" stop-color="#fde725"/><stop offset="0.9" stop-color="#fde725"/><stop offset="1" stop-color="#fde725"/></linearGradient>
<linearGradient id="h142" x1="0" y1="0" x2="1" y2="0"><stop offset="0" stop-color="#287d8e"/><stop offset="0.1" stop-color="#287d8e"/><stop offset="0.2" stop-color="#287d8e"/><stop offset="0.3" stop-color="#287d8e"/><stop offset="0.4" stop-color="#21918c"/><stop offset="0.5" stop-color="#20a486"/><stop offset="0.52" stop-color="#22a884"/><stop offset="0.56" stop-color="#fde725"/><stop offset="0.6" stop-color="#fde725"/><stop offset="0.7" stop-color="#fde725"/><stop offset="0.8" stop-color="#fde725"/><stop offset="0.9" stop-color="#fde725"/><stop offset="1" stop-color="#fde725"/></linearGradient>
<linearGradient id="h143" x1="0" y1="0" x2="1" y2="0"><stop offset="0" stop-color="#2f6c8e"/><stop offset="0.1" stop-color="#2f6c8e"/><stop offset="0.2" stop-color="#2f6c8e"/><stop offset="0.3" stop-color="#2f6c8e"/><stop offset="0.4" stop-color="#2a788e"/><stop offset="0.5" stop-color="#25848e"/><stop offset="0.6" stop-color="#21918c"/><stop offset="0.7" stop-color="#22a884"/><stop offset="0.76" stop-color="#fde725"/><stop offset="0.8" stop-color="#fde725"/><stop offset="0.9" stop-color="#fde725"/><stop offset="1" stop-color="#fde725"/></linearGradient>
<linearGradient id="h144" x1="0" y1="0" x2="1" y2="0"><stop offset="0" stop-color="#287d8e"/><stop offset="0.1" stop-color="#27808e"/><stop offset="0.2" stop-color="#26828e"/><stop offset="0.3" stop-color="#25848e"/><stop offset="0.4" stop-color="#1f948c"/><stop offset="0.5" stop-color="#20a486"/><stop offset="0.6" stop-color="#2fb47c"/><stop offset="0.7" stop-color="#7fd34e"/><stop offset="0.76" stop-color="#bddf26"/><stop offset="0.8" stop-color="#c2df23"/><stop offset="0.9" stop-color="#d0e11c"/><stop offset="1" stop-color="#dfe318"/></linearGradient>
<linearGradient id="h145" x1="0" y1="0" x2="1" y2="0"><stop offset="0" stop-color="#355f8d"/><stop offset="0.1" stop-color="#32648e"/><stop offset="0.2" stop-color="#31688e"/><stop offset="0.3" stop-color="#2f6c8e"/><stop offset="0.4" stop-color="#2a788e"/><stop offset="0.5" stop-color="#25848e"/><stop offset="0.6" stop-color="#21918c"/><stop offset="0.7" stop-color="#1f968b"/><stop offset="0.8" stop-color="#1e9c89"/><stop offset="0.9" stop-color="#1fa287"/><stop offset="1" stop-color="#22a884"/></linearGradient>
<linearGradient id="h146" x1="0" y1="0" x2="1" y2="0"><stop offset="0" stop-color="#287d8e"/><stop offset="0.1" stop-color="#27808e"/><stop offset="0.2" stop-color="#26828e"/><stop offset="0.3" stop-color="#25848e"/><stop offset="0.4" stop-color="#23888e"/><stop offset="0.5" stop-color="#228c8d"/><stop offset="0.6" stop-color="#21918c"/><stop offset="0.7" stop-color="#20938c"/><stop offset="0.8" stop-color="#1f968b"/><stop offset="0.9" stop-color="#1f998a"/><stop offset="1" stop-color="#1e9c89"/></linearGradient>
<linearGradient id="h147" x1="0" y1="0" x2="1" y2="0"><stop offset="0" stop-color="#25848e"/><stop offset="0.1" stop-color="#25848e"/><stop offset="0.2" stop-color="#25848e"/><stop offset="0.3" stop-color="#25848e"/><stop offset="0.4" stop-color="#228c8d"/><stop offset="0.5" stop-color="#1f948c"/><stop offset="0.6" stop-color="#1e9c89"/><stop offset="0.7" stop-color="#1fa088"/><stop offset="0.8" stop-color="#1fa287"/><stop offset="0.9" stop-color="#21a585"/><stop offset="1" stop-color="#22a884"/></linearGradient>
<linearGradient id="h148" x1="0" y1="0" x2="1" y2="0"><stop offset="0" stop-color="#287d8e"/><stop offset="0.1" stop-color="#287d8e"/><stop offset="0.2" stop-color="#287d8e"/><stop offset="0.3" stop-color="#287d8e"/><stop offset="0.4" stop-color="#20928c"/><stop offset="0.5" stop-color="#22a884"/><stop offset="0.55" stop-color="#bddf26"/><stop offset="0.6" stop-color="#c0df25"/><stop offset="0.7" stop-color="#c8e020"/><stop offset="0.8" stop-color="#d0e11c"/><stop offset="0.9" stop-color="#d8e219"/><stop offset="1" stop-color="#dfe318"/></linearGradient>
<linearGradient id="h149" x1="0" y1="0" x2="1" y2="0"><stop offset="0" stop-color="#22a884"/><stop offset="0.02" stop-color="#9bd93c"/><stop offset="0.08" stop-color="#9bd93c"/><stop offset="0.1" stop-color="#21918c"/><stop offset="0.2" stop-color="#24868e"/><stop offset="0.3" stop-color="#287d8e"/><stop offset="0.4" stop-color="#20928c"/><stop offset="0.5" stop-color="#22a884"/><stop offset="0.53" stop-color="#fde725"/><stop offset="0.6" stop-color="#fde725"/><stop offset="0.7" stop-color="#fde725"/><stop offset="0.8" stop-color="#fde725"/><stop offset="0.9" stop-color="#fde725"/><stop offset="1" stop-color="#fde725"/></linearGradient>
<linearGradient id="h150" x1="0" y1="0" x2="1" y2="0"><stop offset="0" stop-color="#25848e"/><stop offset="0.1" stop-color="#25848e"/><stop offset="0.14" stop-color="#25848e"/><stop offset="0.2" stop-color="#2a768e"/><stop offset="0.3" stop-color="#355f8d"/><stop offset="0.4" stop-color="#38588c"/><stop offset="0.5" stop-color="#3b518b"/><stop offset="0.6" stop-color="#3e4989"/><stop offset="0.7" stop-color="#404688"/><stop offset="0.8" stop-color="#414487"/><stop offset="0.9" stop-color="#424086"/><stop offset="1" stop-color="#433e85"/></linearGradient>
<linearGradient id="h151" x1="0" y1="0" x2="1" y2="0"><stop offset="0" stop-color="#25848e"/><stop offset="0.1" stop-color="#25848e"/><stop offset="0.14" stop-color="#25848e"/><stop offset="0.2" stop-color="#2a768e"/><stop offset="0.3" stop-color="#355f8d"/><stop offset="0.4" stop-color="#39568c"/><stop offset="0.5" stop-color="#3d4d8a"/><stop offset="0.6" stop-color="#414487"/><stop offset="0.7" stop-color="#424086"/><stop offset="0.8" stop-color="#443b84"/><stop offset="0.9" stop-color="#453882"/><stop offset="1" stop-color="#463480"/></linearGradient>
<linearGradient id="h152" x1="0" y1="0" x2="1" y2="0"><stop offset="0" stop-color="#228b8d"/><stop offset="0.1" stop-color="#24868e"/><stop offset="0.14" stop-color="#25848e"/><stop offset="0.2" stop-color="#2b748e"/><stop offset="0.3" stop-color="#375a8c"/><stop offset="0.4" stop-color="#3b518b"/><stop offset="0.5" stop-color="#3f4788"/><stop offset="0.6" stop-color="#433e85"/><stop offset="0.7" stop-color="#453781"/><stop offset="0.8" stop-color="#46307e"/><stop offset="0.9" stop-color="#472a7a"/><stop offset="1" stop-color="#482475"/></linearGradient>
<linearGradient id="h153" x1="0" y1="0" x2="1" y2="0"><stop offset="0" stop-color="#21918c"/><stop offset="0.1" stop-color="#228d8d"/><stop offset="0.14" stop-color="#228b8d"/><stop offset="0.2" stop-color="#297b8e"/><stop offset="0.3" stop-color="#355f8d"/><stop offset="0.4" stop-color="#39568c"/><stop offset="0.5" stop-color="#3d4d8a"/><stop offset="0.6" stop-color="#414487"/><stop offset="0.7" stop-color="#424086"/><stop offset="0.8" stop-color="#443b84"/><stop offset="0.9" stop-color="#453882"/><stop offset="1" stop-color="#463480"/></linearGradient>
<linearGradient id="h154" x1="0" y1="0" x2="1" y2="0"><stop offset="0" stop-color="#22a884"/><stop offset="0.1" stop-color="#1f978b"/><stop offset="0.14" stop-color="#21918c"/><stop offset="0.2" stop-color="#287c8e"/><stop offset="0.3" stop-color="#375a8c"/><stop offset="0.4" stop-color="#453781"/><stop offset="0.45" stop-color="#482475"/><stop offset="0.5" stop-color="#470028"/><stop offset="0.6" stop-color="#470028"/><stop offset="0.7" stop-color="#471365"/><stop offset="0.8" stop-color="#471365"/><stop offset="0.9" stop-color="#471365"/><stop offset="1" stop-color="#471365"/></linearGradient>
<linearGradient id="h155" x1="0" y1="0" x2="1" y2="0"><stop offset="0" stop-color="#22a884"/><stop offset="0.1" stop-color="#1f978b"/><stop offset="0.14" stop-color="#21918c"/><stop offset="0.2" stop-color="#277e8e"/><stop offset="0.3" stop-color="#355f8d"/><stop offset="0.4" stop-color="#3a548c"/><stop offset="0.5" stop-color="#3e4989"/><stop offset="0.6" stop-color="#433e85"/><stop offset="0.7" stop-color="#443983"/><stop offset="0.8" stop-color="#463480"/><stop offset="0.9" stop-color="#472f7d"/><stop offset="1" stop-color="#472a7a"/></linearGradient>
<linearGradient id="h156" x1="0" y1="0" x2="1" y2="0"><stop offset="0" stop-color="#1e9c89"/><stop offset="0.1" stop-color="#21918c"/><stop offset="0.14" stop-color="#228b8d"/><stop offset="0.2" stop-color="#287d8e"/><stop offset="0.3" stop-color="#32648e"/><stop offset="0.4" stop-color="#365c8d"/><stop offset="0.5" stop-color="#3b528b"/><stop offset="0.6" stop-color="#3e4989"/><stop offset="0.7" stop-color="#3f4889"/><stop offset="0.8" stop-color="#404688"/><stop offset="0.9" stop-color="#404588"/><stop offset="1" stop-color="#414487"/></linearGradient>
<linearGradient id="h157" x1="0" y1="0" x2="1" y2="0"><stop offset="0" stop-color="#21918c"/><stop offset="0.1" stop-color="#24878e"/><stop offset="0.14" stop-color="#25848e"/><stop offset="0.2" stop-color="#2a768e"/><stop offset="0.3" stop-color="#355f8d"/><stop offset="0.4" stop-color="#39568c"/><stop offset="0.5" stop-color="#3d4d8a"/><stop offset="0.6" stop-color="#414487"/><stop offset="0.7" stop-color="#424086"/><stop offset="0.8" stop-color="#443b84"/><stop offset="0.9" stop-color="#453882"/><stop offset="1" stop-color="#463480"/></linearGradient>
<linearGradient id="h158" x1="0" y1="0" x2="1" y2="0"><stop offset="0" stop-color="#228b8d"/><stop offset="0.1" stop-color="#24868e"/><stop offset="0.14" stop-color="#25848e"/><stop offset="0.2" stop-color="#2a768e"/><stop offset="0.3" stop-color="#355f8d"/><stop offset="0.4" stop-color="#3a548c"/><stop offset="0.5" stop-color="#3e4989"/><stop offset="0.6" stop-color="#433e85"/><stop offset="0.7" stop-color="#443983"/><stop offset="0.8" stop-color="#463480"/><stop offset="0.9" stop-color="#472f7d"/><stop offset="1" stop-color="#472a7a"/></linearGradient>
<linearGradient id="h159" x1="0" y1="0" x2="1" y2="0"><stop offset="0" stop-color="#25848e"/><stop offset="0.1" stop-color="#25848e"/><stop offset="0.14" stop-color="#25848e"/><stop offset="0.2" stop-color="#2a788e"/><stop offset="0.3" stop-color="#32648e"/><stop offset="0.4" stop-color="#355e8d"/><stop offset="0.5" stop-color="#38588c"/><stop offset="0.6" stop-color="#3b528b"/><stop offset="0.7" stop-color="#3c508b"/><stop offset="0.8" stop-color="#3d4e8a"/><stop offset="0.9" stop-color="#3e4c8a"/><stop offset="1" stop-color="#3e4989"/></linearGradient>
<linearGradient id="h160" x1="0" y1="0" x2="1" y2="0"><stop offset="0" stop-color="#25848e"/><stop offset="0.1" stop-color="#25848e"/><stop offset="0.14" stop-color="#25848e"/><stop offset="0.2" stop-color="#2a768e"/><stop offset="0.3" stop-color="#355f8d"/><stop offset="0.4" stop-color="#39568c"/><stop offset="0.5" stop-color="#3d4d8a"/><stop offset="0.6" stop-color="#414487"/><stop offset="0.7" stop-color="#424186"/><stop offset="0.8" stop-color="#424086"/><stop offset="0.9" stop-color="#423f85"/><stop offset="1" stop-color="#433e85"/></linearGradient>
<linearGradient id="h161" x1="0" y1="0" x2="1" y2="0"><stop offset="0" stop-color="#25848e"/><stop offset="0.1" stop-color="#277f8e"/><stop offset="0.14" stop-color="#287d8e"/><stop offset="0.2" stop-color="#2c728e"/><stop offset="0.3" stop-color="#355f8d"/><stop offset="0.4" stop-color="#39568c"/><stop offset="0.5" stop-color="#3d4d8a"/><stop offset="0.6" stop-color="#414487"/><stop offset="0.7" stop-color="#463480"/><stop offset="0.8" stop-color="#482475"/><stop offset="0.9" stop-color="#471365"/><stop offset="1" stop-color="#46085c"/></linearGradient>
<linearGradient id="h162" x1="0" y1="0" x2="1" y2="0"><stop offset="0" stop-color="#25848e"/><stop offset="0.1" stop-color="#277f8e"/><stop offset="0.14" stop-color="#287d8e"/><stop offset="0.2" stop-color="#2c728e"/><stop offset="0.3" stop-color="#355f8d"/><stop offset="0.4" stop-color="#38588c"/><stop offset="0.5" stop-color="#3b518b"/><stop offset="0.6" stop-color="#3e4989"/><stop offset="0.7" stop-color="#3f4889"/><stop offset="0.8" stop-color="#404688"/><stop offset="0.9" stop-color="#404588"/><stop offset="1" stop-color="#414487"/></linearGradient>
<linearGradient id="h163" x1="0" y1="0" x2="1" y2="0"><stop offset="0" stop-color="#25848e"/><stop offset="0.1" stop-color="#277f8e"/><stop offset="0.14" stop-color="#287d8e"/><stop offset="0.2" stop-color="#2c738e"/><stop offset="0.3" stop-color="#32648e"/><stop offset="0.4" stop-color="#355e8d"/><stop offset="0.5" stop-color="#38588c"/><stop offset="0.6" stop-color="#3b528b"/><stop offset="0.7" stop-color="#3c508b"/><stop offset="0.8" stop-color="#3d4e8a"/><stop offset="0.9" stop-color="#3e4c8a"/><stop offset="1" stop-color="#3e4989"/></linearGradient>
<linearGradient id="h164" x1="0" y1="0" x2="1" y2="0"><stop offset="0" stop-color="#1e9c89"/><stop offset="0.1" stop-color="#228b8d"/><stop offset="0.14" stop-color="#25848e"/><stop offset="0.2" stop-color="#2a768e"/><stop offset="0.3" stop-color="#355f8d"/><stop offset="0.4" stop-color="#39568c"/><stop offset="0.5" stop-color="#3d4d8a"/><stop offset="0.6" stop-color="#414487"/><stop offset="0.7" stop-color="#424086"/><stop offset="0.8" stop-color="#443b84"/><stop offset="0.9" stop-color="#453882"/><stop offset="1" stop-color="#463480"/></linearGradient>
<linearGradient id="h165" x1="0" y1="0" x2="1" y2="0"><stop offset="0" stop-color="#2a788e"/><stop offset="0.1" stop-color="#2c738e"/><stop offset="0.2" stop-color="#2e6f8e"/><stop offset="0.25" stop-color="#2f6c8e"/><stop offset="0.3" stop-color="#2e6e8e"/><stop offset="0.4" stop-color="#2d718e"/><stop offset="0.5" stop-color="#2b748e"/><stop offset="0.6" stop-color="#2a778e"/><stop offset="0.7" stop-color="#297a8e"/><stop offset="0.8" stop-color="#277e8e"/><stop offset="0.9" stop-color="#26818e"/><stop offset="1" stop-color="#25848e"/></linearGradient>
<linearGradient id="h166" x1="0" y1="0" x2="1" y2="0"><stop offset="0" stop-color="#21918c"/><stop offset="0.1" stop-color="#228c8d"/><stop offset="0.2" stop-color="#24878e"/><stop offset="0.26" stop-color="#25848e"/><stop offset="0.3" stop-color="#25848e"/><stop offset="0.4" stop-color="#25838e"/><stop offset="0.5" stop-color="#25838e"/><stop offset="0.6" stop-color="#25838e"/><stop offset="0.7" stop-color="#26828e"/><stop offset="0.8" stop-color="#26828e"/><stop offset="0.9" stop-color="#26828e"/><stop offset="1" stop-color="#26828e"/></linearGradient>
<linearGradient id="h167" x1="0" y1="0" x2="1" y2="0"><stop offset="0" stop-color="#25848e"/><stop offset="0.1" stop-color="#27808e"/><stop offset="0.2" stop-color="#287c8e"/><stop offset="0.3" stop-color="#2a788e"/><stop offset="0.4" stop-color="#2a768e"/><stop offset="0.5" stop-color="#2b758e"/><stop offset="0.6" stop-color="#2b748e"/><stop offset="0.7" stop-color="#2c728e"/><stop offset="0.8" stop-color="#2c718e"/><stop offset="0.9" stop-color="#2d708e"/><stop offset="1" stop-color="#2e6f8e"/></linearGradient>
<linearGradient id="h168" x1="0" y1="0" x2="1" y2="0"><stop offset="0" stop-color="#228b8d"/><stop offset="0.1" stop-color="#24868e"/><stop offset="0.2" stop-color="#26828e"/><stop offset="0.26" stop-color="#27808e"/><stop offset="0.3" stop-color="#277f8e"/><stop offset="0.4" stop-color="#277f8e"/><stop offset="0.5" stop-color="#277f8e"/><stop offset="0.6" stop-color="#277e8e"/><stop offset="0.7" stop-color="#277e8e"/><stop offset="0.8" stop-color="#277e8e"/><stop offset="0.9" stop-color="#287d8e"/><stop offset="1" stop-color="#287d8e"/></linearGradient>
<linearGradient id="h169" x1="0" y1="0" x2="1" y2="0"><stop offset="0" stop-color="#25848e"/><stop offset="0.1" stop-color="#26818e"/><stop offset="0.2" stop-color="#287d8e"/><stop offset="0.3" stop-color="#297a8e"/><stop offset="0.35" stop-color="#2a788e"/><stop offset="0.4" stop-color="#2a788e"/><stop offset="0.5" stop-color="#2a788e"/><stop offset="0.6" stop-color="#2a788e"/><stop offset="0.7" stop-color="#2a788e"/><stop offset="0.8" stop-color="#2a788e"/><stop offset="0.9" stop-color="#2a788e"/><stop offset="1" stop-color="#2a788e"/></linearGradient>
<linearGradient id="h170" x1="0" y1="0" x2="1" y2="0"><stop offset="0" stop-color="#297a8e"/><stop offset="0.1" stop-color="#2a768e"/><stop offset="0.2" stop-color="#2c728e"/><stop offset="0.3" stop-color="#2e6f8e"/><stop offset="0.32" stop-color="#2e6f8e"/><stop offset="0.4" stop-color="#2e6f8e"/><stop offset="0.5" stop-color="#2e6f8e"/><stop offset="0.6" stop-color="#2e6f8e"/><stop offset="0.7" stop-color="#2e6f8e"/><stop offset="0.8" stop-color="#2e6f8e"/><stop offset="0.9" stop-color="#2e6f8e"/><stop offset="1" stop-color="#2e6f8e"/></linearGradient>
<linearGradient id="h171" x1="0" y1="0" x2="1" y2="0"><stop offset="0" stop-color="#218e8d"/><stop offset="0.1" stop-color="#238a8d"/><stop offset="0.2" stop-color="#24878e"/><stop offset="0.3" stop-color="#25848e"/><stop offset="0.37" stop-color="#26828e"/><stop offset="0.4" stop-color="#27808e"/><stop offset="0.5" stop-color="#29798e"/><stop offset="0.6" stop-color="#2c728e"/><stop offset="0.7" stop-color="#2f6c8e"/><stop offset="0.8" stop-color="#32658e"/><stop offset="0.9" stop-color="#355f8d"/><stop offset="1" stop-color="#38588c"/></linearGradient>
<linearGradient id="h172" x1="0" y1="0" x2="1" y2="0"><stop offset="0" stop-color="#25848e"/><stop offset="0.1" stop-color="#277e8e"/><stop offset="0.2" stop-color="#2a788e"/><stop offset="0.22" stop-color="#471365"/><stop offset="0.3" stop-color="#471365"/><stop offset="0.4" stop-color="#471365"/><stop offset="0.42" stop-color="#355f8d"/><stop offset="0.5" stop-color="#355e8d"/><stop offset="0.6" stop-color="#375b8d"/><stop offset="0.7" stop-color="#38598c"/><stop offset="0.8" stop-color="#39568c"/><stop offset="0.9" stop-color="#3a548c"/><stop offset="1" stop-color="#3b528b"/></linearGradient>
<linearGradient id="h173" x1="0" y1="0" x2="1" y2="0"><stop offset="0" stop-color="#27808e"/><stop offset="0.1" stop-color="#287c8e"/><stop offset="0.2" stop-color="#2a788e"/><stop offset="0.3" stop-color="#2b758e"/><stop offset="0.35" stop-color="#2c738e"/><stop offset="0.4" stop-color="#2e6f8e"/><stop offset="0.5" stop-color="#31668e"/><stop offset="0.6" stop-color="#365d8d"/><stop offset="0.7" stop-color="#3a538b"/><stop offset="0.8" stop-color="#3e4989"/><stop offset="0.9" stop-color="#423f85"/><stop offset="1" stop-color="#463480"/></linearGradient>
<linearGradient id="h174" x1="0" y1="0" x2="1" y2="0"><stop offset="0" stop-color="#228b8d"/><stop offset="0.1" stop-color="#23888e"/><stop offset="0.2" stop-color="#25858e"/><stop offset="0.3" stop-color="#26828e"/><stop offset="0.4" stop-color="#27808e"/><stop offset="0.41" stop-color="#27808e"/><stop offset="0.5" stop-color="#29798e"/><stop offset="0.6" stop-color="#2c718e"/><stop offset="0.7" stop-color="#306a8e"/><stop offset="0.8" stop-color="#33628d"/><stop offset="0.9" stop-color="#375a8c"/><stop offset="1" stop-color="#3b528b"/></linearGradient>
<linearGradient id="h175" x1="0" y1="0" x2="1" y2="0"><stop offset="0" stop-color="#23898e"/><stop offset="0.1" stop-color="#25848e"/><stop offset="0.2" stop-color="#27808e"/><stop offset="0.26" stop-color="#287d8e"/><stop offset="0.3" stop-color="#297b8e"/><stop offset="0.4" stop-color="#2b748e"/><stop offset="0.5" stop-color="#2e6f8e"/><stop offset="0.6" stop-color="#30698e"/><stop offset="0.7" stop-color="#33638d"/><stop offset="0.8" stop-color="#365c8d"/><stop offset="0.9" stop-color="#39558c"/><stop offset="1" stop-color="#3c4f8a"/></linearGradient>
<linearGradient id="h176" x1="0" y1="0" x2="1" y2="0"><stop offset="0" stop-color="#21918c"/><stop offset="0.1" stop-color="#228d8d"/><stop offset="0.2" stop-color="#238a8d"/><stop offset="0.3" stop-color="#24868e"/><stop offset="0.38" stop-color="#25848e"/><stop offset="0.4" stop-color="#26828e"/><stop offset="0.5" stop-color="#287d8e"/><stop offset="0.6" stop-color="#2a778e"/><stop offset="0.7" stop-color="#2c718e"/><stop offset="0.8" stop-color="#2f6c8e"/><stop offset="0.9" stop-color="#32658e"/><stop offset="1" stop-color="#355f8d"/></linearGradient>
<linearGradient id="h177" x1="0" y1="0" x2="1" y2="0"><stop offset="0" stop-color="#21918c"/><stop offset="0.1" stop-color="#228d8d"/><stop offset="0.2" stop-color="#238a8d"/><stop offset="0.3" stop-color="#24878e"/><stop offset="0.4" stop-color="#25848e"/><stop offset="0.42" stop-color="#25848e"/><stop offset="0.5" stop-color="#277f8e"/><stop offset="0.6" stop-color="#2a778e"/><stop offset="0.7" stop-color="#2d718e"/><stop offset="0.8" stop-color="#30698e"/><stop offset="0.9" stop-color="#33628d"/><stop offset="1" stop-color="#375a8c"/></linearGradient>
<linearGradient id="h178" x1="0" y1="0" x2="1" y2="0"><stop offset="0" stop-color="#228b8d"/><stop offset="0.1" stop-color="#23888e"/><stop offset="0.2" stop-color="#25848e"/><stop offset="0.3" stop-color="#26828e"/><stop offset="0.37" stop-color="#27808e"/><stop offset="0.4" stop-color="#277e8e"/><stop offset="0.5" stop-color="#2a778e"/><stop offset="0.6" stop-color="#2c718e"/><stop offset="0.7" stop-color="#2f6b8e"/><stop offset="0.8" stop-color="#32658e"/><stop offset="0.9" stop-color="#355e8d"/><stop offset="1" stop-color="#38588c"/></linearGradient>
<linearGradient id="h179" x1="0" y1="0" x2="1" y2="0"><stop offset="0" stop-color="#297a8e"/><stop offset="0.1" stop-color="#2a768e"/><stop offset="0.2" stop-color="#2c728e"/><stop offset="0.29" stop-color="#2e6f8e"/><stop offset="0.3" stop-color="#2e6e8e"/><stop offset="0.4" stop-color="#2f6b8e"/><stop offset="0.5" stop-color="#31688e"/><stop offset="0.6" stop-color="#32658e"/><stop offset="0.7" stop-color="#34618d"/><stop offset="0.8" stop-color="#355e8d"/><stop offset="0.9" stop-color="#375b8d"/><stop offset="1" stop-color="#38588c"/></linearGradient>
<linearGradient id="h180" x1="0" y1="0" x2="1" y2="0"><stop offset="0" stop-color="#24868e"/><stop offset="0.1" stop-color="#26828e"/><stop offset="0.2" stop-color="#277f8e"/><stop offset="0.3" stop-color="#297b8e"/><stop offset="0.32" stop-color="#297a8e"/><stop offset="0.4" stop-color="#2a778e"/><stop offset="0.5" stop-color="#2c728e"/><stop offset="0.6" stop-color="#2e6e8e"/><stop offset="0.7" stop-color="#30698e"/><stop offset="0.8" stop-color="#32648e"/><stop offset="0.9" stop-color="#355f8d"/><stop offset="1" stop-color="#375a8c"/></linearGradient>
<linearGradient id="h181" x1="0" y1="0" x2="1" y2="0"><stop offset="0" stop-color="#27808e"/><stop offset="0.1" stop-color="#287d8e"/><stop offset="0.2" stop-color="#29798e"/><stop offset="0.3" stop-color="#2a768e"/><stop offset="0.4" stop-color="#2c738e"/><stop offset="0.42" stop-color="#2c738e"/><stop offset="0.5" stop-color="#2e6e8e"/><stop offset="0.6" stop-color="#31678e"/><stop offset="0.7" stop-color="#34608d"/><stop offset="0.8" stop-color="#38598c"/><stop offset="0.9" stop-color="#3b518b"/><stop offset="1" stop-color="#3e4989"/></linearGradient>
<linearGradient id="h182" x1="0" y1="0" x2="1" y2="0"><stop offset="0" stop-color="#228b8d"/><stop offset="0.1" stop-color="#23888e"/><stop offset="0.2" stop-color="#25858e"/><stop offset="0.3" stop-color="#26828e"/><stop offset="0.4" stop-color="#27808e"/><stop offset="0.43" stop-color="#27808e"/><stop offset="0.5" stop-color="#297b8e"/><stop offset="0.6" stop-color="#2a768e"/><stop offset="0.7" stop-color="#2d718e"/><stop offset="0.8" stop-color="#2f6b8e"/><stop offset="0.9" stop-color="#32658e"/><stop offset="1" stop-color="#355f8d"/></linearGradient>
<linearGradient id="h183" x1="0" y1="0" x2="1" y2="0"><stop offset="0" stop-color="#228b8d"/><stop offset="0.1" stop-color="#24868e"/><stop offset="0.2" stop-color="#26828e"/><stop offset="0.25" stop-color="#27808e"/><stop offset="0.3" stop-color="#287c8e"/><stop offset="0.4" stop-color="#2b748e"/><stop offset="0.5" stop-color="#2e6e8e"/><stop offset="0.6" stop-color="#31668e"/><stop offset="0.7" stop-color="#355f8d"/><stop offset="0.8" stop-color="#39568c"/><stop offset="0.9" stop-color="#3c4f8a"/><stop offset="1" stop-color="#404688"/></linearGradient>
<linearGradient id="h184" x1="0" y1="0" x2="1" y2="0"><stop offset="0" stop-color="#218e8d"/><stop offset="0.1" stop-color="#228b8d"/><stop offset="0.2" stop-color="#23888e"/><stop offset="0.3" stop-color="#25858e"/><stop offset="0.4" stop-color="#26828e"/><stop offset="0.44" stop-color="#26828e"/><stop offset="0.5" stop-color="#297a8e"/><stop offset="0.6" stop-color="#2f6c8e"/><stop offset="0.7" stop-color="#355e8d"/><stop offset="0.8" stop-color="#3c4f8a"/><stop offset="0.9" stop-color="#423f85"/><stop offset="1" stop-color="#472e7c"/></linearGradient>
<linearGradient id="h185" x1="0" y1="0" x2="1" y2="0"><stop offset="0" stop-color="#24868e"/><stop offset="0.1" stop-color="#26828e"/><stop offset="0.2" stop-color="#287d8e"/><stop offset="0.24" stop-color="#297a8e"/><stop offset="0.3" stop-color="#2b758e"/><stop offset="0.4" stop-color="#2e6e8e"/><stop offset="0.5" stop-color="#31668e"/><stop offset="0.6" stop-color="#365d8d"/><stop offset="0.7" stop-color="#3a548c"/><stop offset="0.8" stop-color="#3e4a89"/><stop offset="0.9" stop-color="#424186"/><stop offset="1" stop-color="#453781"/></linearGradient>
<linearGradient id="h186" x1="0" y1="0" x2="1" y2="0"><stop offset="0" stop-color="#23898e"/><stop offset="0.1" stop-color="#25858e"/><stop offset="0.2" stop-color="#26828e"/><stop offset="0.3" stop-color="#287d8e"/><stop offset="0.31" stop-color="#287d8e"/><stop offset="0.4" stop-color="#2b748e"/><stop offset="0.5" stop-color="#2f6c8e"/><stop offset="0.6" stop-color="#33628d"/><stop offset="0.7" stop-color="#38588c"/><stop offset="0.8" stop-color="#3d4e8a"/><stop offset="0.9" stop-color="#414287"/><stop offset="1" stop-color="#453781"/></linearGradient>
<linearGradient id="h187" x1="0" y1="0" x2="1" y2="0"><stop offset="0" stop-color="#297a8e"/><stop offset="0.1" stop-color="#2a768e"/><stop offset="0.2" stop-color="#2c718e"/><stop offset="0.26" stop-color="#2e6f8e"/><stop offset="0.3" stop-color="#2f6c8e"/><stop offset="0.4" stop-color="#32658e"/><stop offset="0.5" stop-color="#355e8d"/><stop offset="0.6" stop-color="#39568c"/><stop offset="0.7" stop-color="#3c4f8a"/><stop offset="0.8" stop-color="#3f4788"/><stop offset="0.9" stop-color="#423f85"/><stop offset="1" stop-color="#453781"/></linearGradient>
<linearGradient id="h188" x1="0" y1="0" x2="1" y2="0"><stop offset="0" stop-color="#287d8e"/><stop offset="0.1" stop-color="#2c718e"/><stop offset="0.2" stop-color="#32658e"/><stop offset="0.25" stop-color="#355f8d"/><stop offset="0.28" stop-color="#471365"/><stop offset="0.3" stop-color="#471365"/><stop offset="0.4" stop-color="#471365"/><stop offset="0.5" stop-color="#471365"/><stop offset="0.55" stop-color="#471365"/><stop offset="0.58" stop-color="#414487"/><stop offset="0.6" stop-color="#414287"/><stop offset="0.7" stop-color="#424186"/><stop offset="0.8" stop-color="#424086"/><stop offset="0.9" stop-color="#423f85"/><stop offset="1" stop-color="#433e85"/></linearGradient>
<linearGradient id="h189" x1="0" y1="0" x2="1" y2="0"><stop offset="0" stop-color="#287d8e"/><stop offset="0.1" stop-color="#2c718e"/><stop offset="0.2" stop-color="#32658e"/><stop offset="0.25" stop-color="#355f8d"/><stop offset="0.28" stop-color="#471365"/><stop offset="0.3" stop-color="#471365"/><stop offset="0.4" stop-color="#471365"/><stop offset="0.5" stop-color="#471365"/><stop offset="0.55" stop-color="#471365"/><stop offset="0.58" stop-color="#414487"/><stop offset="0.6" stop-color="#414287"/><stop offset="0.7" stop-color="#424186"/><stop offset="0.8" stop-color="#424086"/><stop offset="0.9" stop-color="#423f85"/><stop offset="1" stop-color="#433e85"/></linearGradient>
<linearGradient id="h190" x1="0" y1="0" x2="1" y2="0"><stop offset="0" stop-color="#25848e"/><stop offset="0.1" stop-color="#24878e"/><stop offset="0.2" stop-color="#228b8d"/><stop offset="0.3" stop-color="#218f8d"/><stop offset="0.35" stop-color="#21918c"/><stop offset="0.4" stop-color="#20a486"/><stop offset="0.41" stop-color="#22a884"/><stop offset="0.47" stop-color="#fde725"/><stop offset="0.5" stop-color="#fde725"/><stop offset="0.6" stop-color="#fde725"/><stop offset="0.7" stop-color="#fde725"/><stop offset="0.8" stop-color="#fde725"/><stop offset="0.9" stop-color="#fde725"/><stop offset="1" stop-color="#fde725"/></linearGradient>
<linearGradient id="h191" x1="0" y1="0" x2="1" y2="0"><stop offset="0" stop-color="#25848e"/><stop offset="0.1" stop-color="#24878e"/><stop offset="0.2" stop-color="#238a8d"/><stop offset="0.3" stop-color="#228d8d"/><stop offset="0.4" stop-color="#21918c"/><stop offset="0.48" stop-color="#7ad151"/><stop offset="0.49" stop-color="#fde725"/><stop offset="0.5" stop-color="#fde725"/><stop offset="0.6" stop-color="#fde725"/><stop offset="0.7" stop-color="#fde725"/><stop offset="0.8" stop-color="#fde725"/><stop offset="0.9" stop-color="#fde725"/><stop offset="1" stop-color="#fde725"/></linearGradient>
<linearGradient id="h192" x1="0" y1="0" x2="1" y2="0"><stop offset="0" stop-color="#25848e"/><stop offset="0.1" stop-color="#29798e"/><stop offset="0.2" stop-color="#2e6d8e"/><stop offset="0.21" stop-color="#2f6c8e"/><stop offset="0.3" stop-color="#31678e"/><stop offset="0.4" stop-color="#33628d"/><stop offset="0.44" stop-color="#355f8d"/><stop offset="0.5" stop-color="#22a884"/><stop offset="0.56" stop-color="#fde725"/><stop offset="0.6" stop-color="#fbe723"/><stop offset="0.7" stop-color="#f4e61e"/><stop offset="0.8" stop-color="#efe51c"/><stop offset="0.9" stop-color="#e7e419"/><stop offset="1" stop-color="#dfe318"/></linearGradient>
<linearGradient id="h193" x1="0" y1="0" x2="1" y2="0"><stop offset="0" stop-color="#25848e"/><stop offset="0.1" stop-color="#2c728e"/><stop offset="0.2" stop-color="#355f8d"/><stop offset="0.29" stop-color="#482475"/><stop offset="0.3" stop-color="#482475"/><stop offset="0.4" stop-color="#482475"/><stop offset="0.5" stop-color="#482475"/><stop offset="0.56" stop-color="#482475"/><stop offset="0.59" stop-color="#5ec962"/><stop offset="0.6" stop-color="#65cb5e"/><stop offset="0.7" stop-color="#bddf26"/><stop offset="0.74" stop-color="#22a884"/><stop offset="0.8" stop-color="#21a585"/><stop offset="0.9" stop-color="#1fa188"/><stop offset="1" stop-color="#1e9c89"/></linearGradient>
<linearGradient id="h194" x1="0" y1="0" x2="1" y2="0"><stop offset="0" stop-color="#1e9c89"/><stop offset="0.1" stop-color="#1f988b"/><stop offset="0.2" stop-color="#1f948c"/><stop offset="0.3" stop-color="#21918c"/><stop offset="0.36" stop-color="#471365"/><stop offset="0.4" stop-color="#471365"/><stop offset="0.5" stop-color="#471365"/><stop offset="0.6" stop-color="#471365"/><stop offset="0.7" stop-color="#471365"/><stop offset="0.72" stop-color="#471365"/><stop offset="0.74" stop-color="#1e9c89"/><stop offset="0.8" stop-color="#1e9c89"/><stop offset="0.9" stop-color="#1e9c89"/><stop offset="1" stop-color="#1e9c89"/></linearGradient>
<linearGradient id="h195" x1="0" y1="0" x2="1" y2="0"><stop offset="0" stop-color="#25848e"/><stop offset="0.1" stop-color="#2b758e"/><stop offset="0.2" stop-color="#31678e"/><stop offset="0.25" stop-color="#355f8d"/><stop offset="0.29" stop-color="#471365"/><stop offset="0.3" stop-color="#471365"/><stop offset="0.4" stop-color="#471365"/><stop offset="0.44" stop-color="#471365"/><stop offset="0.46" stop-color="#fde725"/><stop offset="0.5" stop-color="#fde725"/><stop offset="0.6" stop-color="#fde725"/><stop offset="0.7" stop-color="#fde725"/><stop offset="0.8" stop-color="#fde725"/><stop offset="0.9" stop-color="#fde725"/><stop offset="1" stop-color="#fde725"/></linearGradient>
<linearGradient id="h196" x1="0" y1="0" x2="1" y2="0"><stop offset="0" stop-color="#25848e"/><stop offset="0.1" stop-color="#2b758e"/><stop offset="0.2" stop-color="#31678e"/><stop offset="0.25" stop-color="#355f8d"/><stop offset="0.3" stop-color="#472c7a"/><stop offset="0.32" stop-color="#471365"/><stop offset="0.4" stop-color="#471365"/><stop offset="0.5" stop-color="#471365"/><stop offset="0.6" stop-color="#471365"/><stop offset="0.68" stop-color="#471365"/><stop offset="0.7" stop-color="#3bbb75"/><stop offset="0.71" stop-color="#fde725"/><stop offset="0.8" stop-color="#fde725"/><stop offset="0.9" stop-color="#fde725"/><stop offset="1" stop-color="#fde725"/></linearGradient>
<linearGradient id="h197" x1="0" y1="0" x2="1" y2="0"><stop offset="0" stop-color="#25848e"/><stop offset="0.1" stop-color="#2c728e"/><stop offset="0.2" stop-color="#355f8d"/><stop offset="0.24" stop-color="#482475"/><stop offset="0.3" stop-color="#482475"/><stop offset="0.32" stop-color="#482475"/><stop offset="0.33" stop-color="#fde725"/><stop offset="0.4" stop-color="#fde725"/><stop offset="0.5" stop-color="#fde725"/><stop offset="0.6" stop-color="#fde725"/><stop offset="0.7" stop-color="#fde725"/><stop offset="0.8" stop-color="#fde725"/><stop offset="0.9" stop-color="#fde725"/><stop offset="1" stop-color="#fde725"/></linearGradient>
<linearGradient id="h198" x1="0" y1="0" x2="1" y2="0"><stop offset="0" stop-color="#25848e"/><stop offset="0.1" stop-color="#287c8e"/><stop offset="0.2" stop-color="#2b748e"/><stop offset="0.3" stop-color="#2f6c8e"/><stop offset="0.4" stop-color="#404688"/><stop offset="0.44" stop-color="#463480"/><stop offset="0.5" stop-color="#463480"/><stop offset="0.6" stop-color="#463480"/><stop offset="0.7" stop-color="#463480"/><stop offset="0.71" stop-color="#fde725"/><stop offset="0.8" stop-color="#fde725"/><stop offset="0.9" stop-color="#fde725"/><stop offset="1" stop-color="#fde725"/></linearGradient>
<linearGradient id="h199" x1="0" y1="0" x2="1" y2="0"><stop offset="0" stop-color="#25848e"/><stop offset="0.1" stop-color="#27808e"/><stop offset="0.2" stop-color="#287c8e"/><stop offset="0.3" stop-color="#2a788e"/><stop offset="0.4" stop-color="#23898e"/><stop offset="0.5" stop-color="#1f998a"/><stop offset="0.59" stop-color="#22a884"/><stop offset="0.6" stop-color="#2ab07f"/><stop offset="0.7" stop-color="#eae51a"/><stop offset="0.71" stop-color="#fde725"/><stop offset="0.8" stop-color="#fde725"/><stop offset="0.9" stop-color="#fde725"/><stop offset="1" stop-color="#fde725"/></linearGradient>
<linearGradient id="h200" x1="0" y1="0" x2="1" y2="0"><stop offset="0" stop-color="#287d8e"/><stop offset="0.1" stop-color="#297a8e"/><stop offset="0.2" stop-color="#2a768e"/><stop offset="0.3" stop-color="#2c738e"/><stop offset="0.4" stop-color="#26828e"/><stop offset="0.5" stop-color="#21908d"/><stop offset="0.59" stop-color="#1e9c89"/><stop offset="0.6" stop-color="#20a486"/><stop offset="0.7" stop-color="#c8e020"/><stop offset="0.71" stop-color="#dfe318"/><stop offset="0.8" stop-color="#eae51a"/><stop offset="0.9" stop-color="#f4e61e"/><stop offset="1" stop-color="#fde725"/></linearGradient>
<linearGradient id="h201" x1="0" y1="0" x2="1" y2="0"><stop offset="0" stop-color="#25848e"/><stop offset="0.1" stop-color="#27808e"/><stop offset="0.2" stop-color="#287c8e"/><stop offset="0.3" stop-color="#2a788e"/><stop offset="0.4" stop-color="#27808e"/><stop offset="0.5" stop-color="#23888e"/><stop offset="0.6" stop-color="#21918c"/><stop offset="0.7" stop-color="#44bf70"/><stop offset="0.75" stop-color="#7ad151"/><stop offset="0.8" stop-color="#86d549"/><stop offset="0.9" stop-color="#a2da37"/><stop offset="1" stop-color="#bddf26"/></linearGradient>
<linearGradient id="h202" x1="0" y1="0" x2="1" y2="0"><stop offset="0" stop-color="#25848e"/><stop offset="0.1" stop-color="#24878e"/><stop offset="0.2" stop-color="#228b8d"/><stop offset="0.3" stop-color="#218f8d"/><stop offset="0.35" stop-color="#21918c"/><stop offset="0.4" stop-color="#22a884"/><stop offset="0.5" stop-color="#25ac82"/><stop offset="0.6" stop-color="#2ab07f"/><stop offset="0.7" stop-color="#2fb47c"/><stop offset="0.8" stop-color="#35b779"/><stop offset="0.9" stop-color="#3bbb75"/><stop offset="1" stop-color="#44bf70"/></linearGradient>
<linearGradient id="h203" x1="0" y1="0" x2="1" y2="0"><stop offset="0" stop-color="#287d8e"/><stop offset="0.1" stop-color="#26828e"/><stop offset="0.2" stop-color="#23888e"/><stop offset="0.3" stop-color="#218e8d"/><stop offset="0.35" stop-color="#21918c"/><stop offset="0.4" stop-color="#26ad81"/><stop offset="0.5" stop-color="#2eb37c"/><stop offset="0.6" stop-color="#38b977"/><stop offset="0.7" stop-color="#44bf70"/><stop offset="0.8" stop-color="#4cc26c"/><stop offset="0.9" stop-color="#54c568"/><stop offset="1" stop-color="#5ec962"/></linearGradient>
<linearGradient id="h204" x1="0" y1="0" x2="1" y2="0"><stop offset="0" stop-color="#2f6c8e"/><stop offset="0.1" stop-color="#2d708e"/><stop offset="0.2" stop-color="#2b748e"/><stop offset="0.3" stop-color="#2a788e"/><stop offset="0.38" stop-color="#44bf70"/><stop offset="0.4" stop-color="#7ad151"/><stop offset="0.44" stop-color="#fde725"/><stop offset="0.5" stop-color="#fde725"/><stop offset="0.6" stop-color="#fde725"/><stop offset="0.7" stop-color="#fde725"/><stop offset="0.8" stop-color="#fde725"/><stop offset="0.9" stop-color="#fde725"/><stop offset="1" stop-color="#fde725"/></linearGradient>
<linearGradient id="h205" x1="0" y1="0" x2="1" y2="0"><stop offset="0" stop-color="#2c738e"/><stop offset="0.1" stop-color="#2a768e"/><stop offset="0.2" stop-color="#297a8e"/><stop offset="0.3" stop-color="#287d8e"/><stop offset="0.38" stop-color="#4ec36b"/><stop offset="0.4" stop-color="#84d44b"/><stop offset="0.44" stop-color="#fde725"/><stop offset="0.5" stop-color="#fde725"/><stop offset="0.6" stop-color="#fde725"/><stop offset="0.7" stop-color="#fde725"/><stop offset="0.8" stop-color="#fde725"/><stop offset="0.9" stop-color="#fde725"/><stop offset="1" stop-color="#fde725"/></linearGradient>
<linearGradient id="h206" x1="0" y1="0" x2="1" y2="0"><stop offset="0" stop-color="#25848e"/><stop offset="0.1" stop-color="#24878e"/><stop offset="0.2" stop-color="#228b8d"/><stop offset="0.3" stop-color="#218f8d"/><stop offset="0.35" stop-color="#21918c"/><stop offset="0.4" stop-color="#28ae80"/><stop offset="0.41" stop-color="#2fb47c"/><stop offset="0.5" stop-color="#5cc863"/><stop offset="0.55" stop-color="#7ad151"/><stop offset="0.59" stop-color="#fde725"/><stop offset="0.6" stop-color="#fde725"/><stop offset="0.7" stop-color="#fde725"/><stop offset="0.8" stop-color="#fde725"/><stop offset="0.9" stop-color="#fde725"/><stop offset="1" stop-color="#fde725"/></linearGradient>
<linearGradient id="h207" x1="0" y1="0" x2="1" y2="0"><stop offset="0" stop-color="#287d8e"/><stop offset="0.1" stop-color="#26818e"/><stop offset="0.2" stop-color="#25858e"/><stop offset="0.3" stop-color="#23898e"/><stop offset="0.35" stop-color="#228b8d"/><stop offset="0.4" stop-color="#1fa088"/><stop offset="0.45" stop-color="#2fb47c"/><stop offset="0.5" stop-color="#67cc5c"/><stop offset="0.6" stop-color="#fde725"/><stop offset="0.7" stop-color="#fde725"/><stop offset="0.8" stop-color="#fde725"/><stop offset="0.9" stop-color="#fde725"/><stop offset="1" stop-color="#fde725"/></linearGradient>
<linearGradient id="h208" x1="0" y1="0" x2="1" y2="0"><stop offset="0" stop-color="#2a788e"/><stop offset="0.1" stop-color="#3a538b"/><stop offset="0.2" stop-color="#482979"/><stop offset="0.21" stop-color="#482475"/><stop offset="0.3" stop-color="#482475"/><stop offset="0.4" stop-color="#482475"/><stop offset="0.5" stop-color="#482475"/><stop offset="0.55" stop-color="#482475"/><stop offset="0.6" stop-color="#5ac864"/><stop offset="0.62" stop-color="#fde725"/><stop offset="0.7" stop-color="#fde725"/><stop offset="0.8" stop-color="#fde725"/><stop offset="0.9" stop-color="#fde725"/><stop offset="1" stop-color="#fde725"/></linearGradient>
<linearGradient id="h209" x1="0" y1="0" x2="1" y2="0"><stop offset="0" stop-color="#287d8e"/><stop offset="0.1" stop-color="#297b8e"/><stop offset="0.2" stop-color="#297a8e"/><stop offset="0.3" stop-color="#2a788e"/><stop offset="0.4" stop-color="#21918c"/><stop offset="0.5" stop-color="#22a884"/><stop offset="0.6" stop-color="#b8de29"/><stop offset="0.62" stop-color="#dfe318"/><stop offset="0.7" stop-color="#e5e419"/><stop offset="0.8" stop-color="#efe51c"/><stop offset="0.9" stop-color="#f6e620"/><stop offset="1" stop-color="#fde725"/></linearGradient>
<linearGradient id="h210" x1="0" y1="0" x2="1" y2="0"><stop offset="0" stop-color="#25848e"/><stop offset="0.1" stop-color="#287c8e"/><stop offset="0.2" stop-color="#2b748e"/><stop offset="0.3" stop-color="#2f6c8e"/><stop offset="0.4" stop-color="#25848e"/><stop offset="0.5" stop-color="#1e9c89"/><stop offset="0.6" stop-color="#70cf57"/><stop offset="0.65" stop-color="#bddf26"/><stop offset="0.7" stop-color="#c8e020"/><stop offset="0.8" stop-color="#dae319"/><stop offset="0.9" stop-color="#ece51b"/><stop offset="1" stop-color="#fde725"/></linearGradient>
<linearGradient id="h211" x1="0" y1="0" x2="1" y2="0"><stop offset="0" stop-color="#287d8e"/><stop offset="0.1" stop-color="#2b748e"/><stop offset="0.2" stop-color="#2e6d8e"/><stop offset="0.3" stop-color="#32648e"/><stop offset="0.4" stop-color="#297a8e"/><stop offset="0.5" stop-color="#21918c"/><stop offset="0.6" stop-color="#5cc863"/><stop offset="0.66" stop-color="#bddf26"/><stop offset="0.7" stop-color="#c0df25"/><stop offset="0.8" stop-color="#cae11f"/><stop offset="0.9" stop-color="#d5e21a"/><stop offset="1" stop-color="#dfe318"/></linearGradient>
<linearGradient id="h212" x1="0" y1="0" x2="1" y2="0"><stop offset="0" stop-color="#2c738e"/><stop offset="0.1" stop-color="#2e6d8e"/><stop offset="0.2" stop-color="#31668e"/><stop offset="0.3" stop-color="#355f8d"/><stop offset="0.4" stop-color="#277e8e"/><stop offset="0.5" stop-color="#1e9c89"/><stop offset="0.6" stop-color="#22a884"/><stop offset="0.7" stop-color="#2fb47c"/><stop offset="0.73" stop-color="#fde725"/><stop offset="0.8" stop-color="#fde725"/><stop offset="0.9" stop-color="#fde725"/><stop offset="1" stop-color="#fde725"/></linearGradient>
<linearGradient id="h213" x1="0" y1="0" x2="1" y2="0"><stop offset="0" stop-color="#2a788e"/><stop offset="0.1" stop-color="#2b748e"/><stop offset="0.2" stop-color="#2d708e"/><stop offset="0.3" stop-color="#2f6c8e"/><stop offset="0.4" stop-color="#238a8d"/><stop offset="0.5" stop-color="#22a884"/><stop offset="0.6" stop-color="#6ccd5a"/><stop offset="0.7" stop-color="#dde318"/><stop offset="0.73" stop-color="#fde725"/><stop offset="0.8" stop-color="#fde725"/><stop offset="0.9" stop-color="#fde725"/><stop offset="1" stop-color="#fde725"/></linearGradient>
<linearGradient id="h214" x1="0" y1="0" x2="1" y2="0"><stop offset="0" stop-color="#25848e"/><stop offset="0.1" stop-color="#24878e"/><stop offset="0.2" stop-color="#228b8d"/><stop offset="0.3" stop-color="#218f8d"/><stop offset="0.35" stop-color="#21918c"/><stop offset="0.4" stop-color="#44bf70"/><stop offset="0.45" stop-color="#bddf26"/><stop offset="0.49" stop-color="#fde725"/><stop offset="0.5" stop-color="#fde725"/><stop offset="0.6" stop-color="#fde725"/><stop offset="0.7" stop-color="#fde725"/><stop offset="0.8" stop-color="#fde725"/><stop offset="0.9" stop-color="#fde725"/><stop offset="1" stop-color="#fde725"/></linearGradient>
<linearGradient id="h215" x1="0" y1="0" x2="1" y2="0"><stop offset="0" stop-color="#287d8e"/><stop offset="0.1" stop-color="#26818e"/><stop offset="0.2" stop-color="#25858e"/><stop offset="0.3" stop-color="#23898e"/><stop offset="0.35" stop-color="#228b8d"/><stop offset="0.4" stop-color="#3aba76"/><stop offset="0.47" stop-color="#dfe318"/><stop offset="0.5" stop-color="#dfe318"/><stop offset="0.6" stop-color="#e7e419"/><stop offset="0.7" stop-color="#ece51b"/><stop offset="0.8" stop-color="#f4e61e"/><stop offset="0.9" stop-color="#f8e621"/><stop offset="1" stop-color="#fde725"/></linearGradient>
<linearGradient id="h216" x1="0" y1="0" x2="1" y2="0"><stop offset="0" stop-color="#2c738e"/><stop offset="0.1" stop-color="#2b748e"/><stop offset="0.2" stop-color="#2a768e"/><stop offset="0.3" stop-color="#2a778e"/><stop offset="0.35" stop-color="#2a788e"/><stop offset="0.4" stop-color="#26828e"/><stop offset="0.5" stop-color="#1f958b"/><stop offset="0.6" stop-color="#22a884"/><stop offset="0.7" stop-color="#44bf70"/><stop offset="0.8" stop-color="#7ad151"/><stop offset="0.85" stop-color="#9bd93c"/><stop offset="0.9" stop-color="#9bd93c"/><stop offset="1" stop-color="#9bd93c"/></linearGradient>
<linearGradient id="h217" x1="0" y1="0" x2="1" y2="0"><stop offset="0" stop-color="#2c738e"/><stop offset="0.1" stop-color="#2c738e"/><stop offset="0.2" stop-color="#2c738e"/><stop offset="0.3" stop-color="#2c738e"/><stop offset="0.35" stop-color="#2c738e"/><stop offset="0.4" stop-color="#297b8e"/><stop offset="0.5" stop-color="#228c8d"/><stop offset="0.6" stop-color="#1e9c89"/><stop offset="0.7" stop-color="#1fa088"/><stop offset="0.8" stop-color="#1fa287"/><stop offset="0.9" stop-color="#21a585"/><stop offset="1" stop-color="#22a884"/></linearGradient>
<linearGradient id="cb218" x1="0" y1="0" x2="0" y2="1"><stop offset="0.000" stop-color="#fde725"/><stop offset="0.050" stop-color="#dfe318"/><stop offset="0.100" stop-color="#bddf26"/><stop offset="0.150" stop-color="#9bd93c"/><stop offset="0.200" stop-color="#7ad151"/><stop offset="0.250" stop-color="#5ec962"/><stop offset="0.300" stop-color="#44bf70"/><stop offset="0.350" stop-color="#2fb47c"/><stop offset="0.400" stop-color="#22a884"/><stop offset="0.450" stop-color="#1e9c89"/><stop offset="0.500" stop-color="#21918c"/><stop offset="0.550" stop-color="#25848e"/><stop offset="0.600" stop-color="#2a788e"/><stop offset="0.650" stop-color="#2f6c8e"/><stop offset="0.700" stop-color="#355f8d"/><stop offset="0.750" stop-color="#3b528b"/><stop offset="0.800" stop-color="#414487"/><stop offset="0.850" stop-color="#463480"/><stop offset="0.900" stop-color="#482475"/><stop offset="0.950" stop-color="#471365"/><stop offset="1.000" stop-color="#440154"/></linearGradient>
<filter id="b04" x="-50%" y="-50%" width="200%" height="200%"><feGaussianBlur stdDeviation="0.40"/></filter>
<filter id="b07" x="-50%" y="-50%" width="200%" height="200%"><feGaussianBlur stdDeviation="0.70"/></filter>
<filter id="b12" x="-50%" y="-50%" width="200%" height="200%"><feGaussianBlur stdDeviation="1.20"/></filter>
<filter id="b2" x="-50%" y="-50%" width="200%" height="200%"><feGaussianBlur stdDeviation="2.00"/></filter>
<clipPath id="cp219"><rect x="0" y="0" width="92.50" height="92.10"/></clipPath>
<linearGradient id="wb" x1="0" y1="0" x2="1" y2="0"><stop offset="0" stop-color="#0a10a0" stop-opacity="0.35"/><stop offset="1" stop-color="#1a2cff" stop-opacity="1"/></linearGradient>
<linearGradient id="wc" x1="0" y1="0" x2="1" y2="0"><stop offset="0" stop-color="#1050c0" stop-opacity="0.4"/><stop offset="1" stop-color="#40c0ff" stop-opacity="1"/></linearGradient>
<linearGradient id="wg" x1="0" y1="0" x2="1" y2="0"><stop offset="0" stop-color="#0a6a0a" stop-opacity="0.3"/><stop offset="1" stop-color="#20d020" stop-opacity="1"/></linearGradient>
<clipPath id="cp220"><rect x="0" y="0" width="92.50" height="92.60"/></clipPath>
<clipPath id="cp221"><rect x="0" y="0" width="92.50" height="92.10"/></clipPath>
<clipPath id="cp222"><rect x="0" y="0" width="92.50" height="92.60"/></clipPath></defs>
<rect x="0" y="0" width="685" height="973" fill="#fff"/>
<text x="-0.50" y="13.60" font-size="19.20" stroke="#000" stroke-width="0.12">a</text>
<text x="17.40" y="15.80" font-size="10.10" fill="#1ea0e6" font-weight="bold" stroke="#1ea0e6" stroke-width="0.12">AMsh glia</text>
<text x="94.50" y="23.00" font-size="9.00" text-anchor="middle" fill="#1a1aff" stroke="#1a1aff" stroke-width="0.12">Blue light</text>
<line x1="22.90" y1="26.30" x2="183.50" y2="26.30" stroke="#2020ff" stroke-width="1.30" />
<text x="295.50" y="23.00" font-size="9.00" text-anchor="middle" fill="#1a1aff" stroke="#1a1aff" stroke-width="0.12">Blue light</text>
<line x1="214.50" y1="26.30" x2="373.70" y2="26.30" stroke="#2020ff" stroke-width="1.30" />
<text x="11.50" y="40.10" font-size="9.25" stroke="#000" stroke-width="0.12">WT; <tspan font-style="italic">Pvap-1::mCherry</tspan></text>
<text x="204.00" y="40.10" font-size="9.25" stroke="#000" stroke-width="0.12"><tspan font-style="italic">lite-1,gur-3; Pvap-1::blgc</tspan></text>
<text x="11.50" y="120.60" font-size="9.25" stroke="#000" stroke-width="0.12"><tspan fill="#7b2f9e" stroke="#7b2f9e">WT; </tspan><tspan font-style="italic">Pvap-1::</tspan><tspan font-style="italic" fill="#7b2f9e" stroke="#7b2f9e">blgc</tspan></text>
<text x="214.00" y="120.30" font-size="9.25" stroke="#000" stroke-width="0.12"><tspan font-style="italic">cng-1,cng-3,tax-4; Pvap-1::blgc</tspan></text>
<rect x="21.50" y="47.00" width="164.20" height="5.54" fill="url(#h1)"/>
<rect x="21.50" y="51.54" width="164.20" height="5.54" fill="url(#h2)"/>
<rect x="21.50" y="56.08" width="164.20" height="5.54" fill="url(#h3)"/>
<rect x="21.50" y="60.62" width="164.20" height="5.54" fill="url(#h4)"/>
<rect x="21.50" y="65.16" width="164.20" height="5.54" fill="url(#h5)"/>
<rect x="21.50" y="69.70" width="164.20" height="5.54" fill="url(#h6)"/>
<rect x="21.50" y="74.24" width="164.20" height="5.54" fill="url(#h7)"/>
<rect x="21.50" y="78.78" width="164.20" height="5.54" fill="url(#h8)"/>
<rect x="21.50" y="83.32" width="164.20" height="5.54" fill="url(#h9)"/>
<rect x="21.50" y="87.86" width="164.20" height="4.54" fill="url(#h10)"/>
<rect x="21.50" y="47.00" width="164.20" height="45.40" fill="none" stroke="#444" stroke-width="0.60" />
<rect x="213.60" y="47.40" width="163.90" height="4.21" fill="url(#h11)"/>
<rect x="213.60" y="50.61" width="163.90" height="4.21" fill="url(#h12)"/>
<rect x="213.60" y="53.81" width="163.90" height="4.21" fill="url(#h13)"/>
<rect x="213.60" y="57.02" width="163.90" height="4.21" fill="url(#h14)"/>
<rect x="213.60" y="60.23" width="163.90" height="4.21" fill="url(#h15)"/>
<rect x="213.60" y="63.44" width="163.90" height="4.21" fill="url(#h16)"/>
<rect x="213.60" y="66.64" width="163.90" height="4.21" fill="url(#h17)"/>
<rect x="213.60" y="69.85" width="163.90" height="4.21" fill="url(#h18)"/>
<rect x="213.60" y="73.06" width="163.90" height="4.21" fill="url(#h19)"/>
<rect x="213.60" y="76.26" width="163.90" height="4.21" fill="url(#h20)"/>
<rect x="213.60" y="79.47" width="163.90" height="4.21" fill="url(#h21)"/>
<rect x="213.60" y="82.68" width="163.90" height="4.21" fill="url(#h22)"/>
<rect x="213.60" y="85.89" width="163.90" height="4.21" fill="url(#h23)"/>
<rect x="213.60" y="89.09" width="163.90" height="3.21" fill="url(#h24)"/>
<rect x="213.60" y="47.40" width="163.90" height="44.90" fill="none" stroke="#444" stroke-width="0.60" />
<rect x="21.60" y="127.40" width="164.10" height="4.01" fill="url(#h25)"/>
<rect x="21.60" y="130.41" width="164.10" height="4.01" fill="url(#h26)"/>
<rect x="21.60" y="133.43" width="164.10" height="4.01" fill="url(#h27)"/>
<rect x="21.60" y="136.44" width="164.10" height="4.01" fill="url(#h28)"/>
<rect x="21.60" y="139.45" width="164.10" height="4.01" fill="url(#h29)"/>
<rect x="21.60" y="142.47" width="164.10" height="4.01" fill="url(#h30)"/>
<rect x="21.60" y="145.48" width="164.10" height="4.01" fill="url(#h31)"/>
<rect x="21.60" y="148.49" width="164.10" height="4.01" fill="url(#h32)"/>
<rect x="21.60" y="151.51" width="164.10" height="4.01" fill="url(#h33)"/>
<rect x="21.60" y="154.52" width="164.10" height="4.01" fill="url(#h34)"/>
<rect x="21.60" y="157.53" width="164.10" height="4.01" fill="url(#h35)"/>
<rect x="21.60" y="160.55" width="164.10" height="4.01" fill="url(#h36)"/>
<rect x="21.60" y="163.56" width="164.10" height="4.01" fill="url(#h37)"/>
<rect x="21.60" y="166.57" width="164.10" height="4.01" fill="url(#h38)"/>
<rect x="21.60" y="169.59" width="164.10" height="3.01" fill="url(#h39)"/>
<rect x="21.60" y="127.40" width="164.10" height="45.20" fill="none" stroke="#444" stroke-width="0.60" />
<rect x="214.20" y="126.90" width="163.40" height="3.86" fill="url(#h40)"/>
<rect x="214.20" y="129.76" width="163.40" height="3.86" fill="url(#h41)"/>
<rect x="214.20" y="132.61" width="163.40" height="3.86" fill="url(#h42)"/>
<rect x="214.20" y="135.47" width="163.40" height="3.86" fill="url(#h43)"/>
<rect x="214.20" y="138.33" width="163.40" height="3.86" fill="url(#h44)"/>
<rect x="214.20" y="141.18" width="163.40" height="3.86" fill="url(#h45)"/>
<rect x="214.20" y="144.04" width="163.40" height="3.86" fill="url(#h46)"/>
<rect x="214.20" y="146.89" width="163.40" height="3.86" fill="url(#h47)"/>
<rect x="214.20" y="149.75" width="163.40" height="3.86" fill="url(#h48)"/>
<rect x="214.20" y="152.61" width="163.40" height="3.86" fill="url(#h49)"/>
<rect x="214.20" y="155.46" width="163.40" height="3.86" fill="url(#h50)"/>
<rect x="214.20" y="158.32" width="163.40" height="3.86" fill="url(#h51)"/>
<rect x="214.20" y="161.18" width="163.40" height="3.86" fill="url(#h52)"/>
<rect x="214.20" y="164.03" width="163.40" height="3.86" fill="url(#h53)"/>
<rect x="214.20" y="166.89" width="163.40" height="3.86" fill="url(#h54)"/>
<rect x="214.20" y="169.74" width="163.40" height="2.86" fill="url(#h55)"/>
<rect x="214.20" y="126.90" width="163.40" height="45.70" fill="none" stroke="#444" stroke-width="0.60" />
<text x="20.00" y="51.90" font-size="6.90" text-anchor="end" fill="#8a1f9e" stroke="#8a1f9e" stroke-width="0.3">10</text>
<text x="20.00" y="92.60" font-size="6.90" text-anchor="end" fill="#8a1f9e" stroke="#8a1f9e" stroke-width="0.3">1</text>
<text x="209.00" y="52.20" font-size="6.90" text-anchor="end" fill="#8a1f9e" stroke="#8a1f9e" stroke-width="0.3">14</text>
<text x="209.00" y="92.60" font-size="6.90" text-anchor="end" fill="#8a1f9e" stroke="#8a1f9e" stroke-width="0.3">1</text>
<text x="20.00" y="132.10" font-size="6.90" text-anchor="end" fill="#8a1f9e" stroke="#8a1f9e" stroke-width="0.3">15</text>
<text x="20.00" y="172.60" font-size="6.90" text-anchor="end" fill="#8a1f9e" stroke="#8a1f9e" stroke-width="0.3">1</text>
<text x="209.00" y="131.60" font-size="6.90" text-anchor="end" fill="#8a1f9e" stroke="#8a1f9e" stroke-width="0.3">16</text>
<text x="209.00" y="172.60" font-size="6.90" text-anchor="end" fill="#8a1f9e" stroke="#8a1f9e" stroke-width="0.3">1</text>
<text x="23.50" y="101.80" font-size="8.00" text-anchor="middle" stroke="#000" stroke-width="0.12">0</text>
<text x="190.00" y="101.80" font-size="8.00" text-anchor="end" stroke="#000" stroke-width="0.12">500</text>
<text x="215.50" y="101.80" font-size="8.00" text-anchor="middle" stroke="#000" stroke-width="0.12">0</text>
<text x="379.00" y="101.80" font-size="8.00" text-anchor="end" stroke="#000" stroke-width="0.12">500</text>
<text x="23.50" y="181.50" font-size="8.00" text-anchor="middle" stroke="#000" stroke-width="0.12">0</text>
<text x="190.00" y="181.50" font-size="8.00" text-anchor="end" stroke="#000" stroke-width="0.12">500</text>
<text x="215.50" y="181.50" font-size="8.00" text-anchor="middle" stroke="#000" stroke-width="0.12">0</text>
<text x="379.00" y="181.50" font-size="8.00" text-anchor="end" stroke="#000" stroke-width="0.12">500</text>
<text x="150.50" y="103.30" font-size="8.80" text-anchor="middle" stroke="#000" stroke-width="0.12">Time (s)</text>
<text x="338.90" y="106.00" font-size="8.80" text-anchor="middle" stroke="#000" stroke-width="0.12">Time (s)</text>
<text x="154.30" y="183.70" font-size="8.80" text-anchor="middle" stroke="#000" stroke-width="0.12">Time (s)</text>
<text x="334.40" y="182.40" font-size="8.80" text-anchor="middle" stroke="#000" stroke-width="0.12">Time (s)</text>
<rect x="393.50" y="91.90" width="7.20" height="58.20" fill="url(#cb56)" stroke="#222" stroke-width="0.70" />
<line x1="393.50" y1="99.60" x2="394.70" y2="99.60" stroke="#222" stroke-width="0.60" />
<line x1="399.50" y1="99.60" x2="400.70" y2="99.60" stroke="#222" stroke-width="0.60" />
<text x="391.90" y="102.00" font-size="6.60" text-anchor="end" stroke="#000" stroke-width="0.12">50</text>
<line x1="393.50" y1="121.20" x2="394.70" y2="121.20" stroke="#222" stroke-width="0.60" />
<line x1="399.50" y1="121.20" x2="400.70" y2="121.20" stroke="#222" stroke-width="0.60" />
<text x="391.90" y="123.60" font-size="6.60" text-anchor="end" stroke="#000" stroke-width="0.12">0</text>
<line x1="393.50" y1="141.30" x2="394.70" y2="141.30" stroke="#222" stroke-width="0.60" />
<line x1="399.50" y1="141.30" x2="400.70" y2="141.30" stroke="#222" stroke-width="0.60" />
<text x="391.90" y="143.70" font-size="6.60" text-anchor="end" stroke="#000" stroke-width="0.12">-50</text>
<text x="411.00" y="118.00" font-size="8.10" text-anchor="middle" transform="rotate(-90.00 411.00 118.00)" stroke="#000" stroke-width="0.12">GCaMP5 (ΔF/F<tspan font-size="5.5" dy="1.5">o</tspan><tspan dy="-1.5">, %)</tspan></text>
<text x="421.50" y="13.60" font-size="19.20" stroke="#000" stroke-width="0.12">b</text>
<line x1="473.30" y1="20.60" x2="473.30" y2="135.00" stroke="#000" stroke-width="1.90" />
<line x1="469.00" y1="130.20" x2="676.80" y2="130.20" stroke="#000" stroke-width="1.90" />
<line x1="468.80" y1="130.20" x2="473.30" y2="130.20" stroke="#000" stroke-width="1.40" />
<text x="466.80" y="133.10" font-size="8.30" text-anchor="end" stroke="#000" stroke-width="0.12">0</text>
<line x1="468.80" y1="102.95" x2="473.30" y2="102.95" stroke="#000" stroke-width="1.40" />
<text x="466.80" y="105.85" font-size="8.30" text-anchor="end" stroke="#000" stroke-width="0.12">50</text>
<line x1="468.80" y1="75.70" x2="473.30" y2="75.70" stroke="#000" stroke-width="1.40" />
<text x="466.80" y="78.60" font-size="8.30" text-anchor="end" stroke="#000" stroke-width="0.12">100</text>
<line x1="468.80" y1="48.45" x2="473.30" y2="48.45" stroke="#000" stroke-width="1.40" />
<text x="466.80" y="51.35" font-size="8.30" text-anchor="end" stroke="#000" stroke-width="0.12">150</text>
<line x1="468.80" y1="21.20" x2="473.30" y2="21.20" stroke="#000" stroke-width="1.40" />
<text x="466.80" y="24.10" font-size="8.30" text-anchor="end" stroke="#000" stroke-width="0.12">200</text>
<text x="446.80" y="79.20" font-size="9.20" text-anchor="middle" transform="rotate(-90.00 446.80 79.20)" stroke="#000" stroke-width="0.12">Maximum GCaMP5 (ΔF/F<tspan font-size="5.5" dy="1.5">o</tspan><tspan dy="-1.5">, %)</tspan></text>
<rect x="497.20" y="99.68" width="13.10" height="30.52" fill="#fde0e0" stroke="#f01c1c" stroke-width="2.00" />
<line x1="503.75" y1="94.00" x2="503.75" y2="105.20" stroke="#f01c1c" stroke-width="1.60" />
<line x1="500.75" y1="94.00" x2="506.75" y2="94.00" stroke="#f01c1c" stroke-width="1.60" />
<line x1="500.75" y1="105.20" x2="506.75" y2="105.20" stroke="#f01c1c" stroke-width="1.60" />
<rect x="514.10" y="100.22" width="13.20" height="29.97" fill="#fde0e0" stroke="#f01c1c" stroke-width="2.00" />
<line x1="520.70" y1="92.20" x2="520.70" y2="108.00" stroke="#f01c1c" stroke-width="1.60" />
<line x1="517.70" y1="92.20" x2="523.70" y2="92.20" stroke="#f01c1c" stroke-width="1.60" />
<line x1="517.70" y1="108.00" x2="523.70" y2="108.00" stroke="#f01c1c" stroke-width="1.60" />
<rect x="531.30" y="109.22" width="12.60" height="20.98" fill="#fde0e0" stroke="#f01c1c" stroke-width="2.00" />
<line x1="537.60" y1="104.00" x2="537.60" y2="113.60" stroke="#f01c1c" stroke-width="1.60" />
<line x1="534.60" y1="104.00" x2="540.60" y2="104.00" stroke="#f01c1c" stroke-width="1.60" />
<line x1="534.60" y1="113.60" x2="540.60" y2="113.60" stroke="#f01c1c" stroke-width="1.60" />
<rect x="548.30" y="113.30" width="12.80" height="16.89" fill="#fde0e0" stroke="#f01c1c" stroke-width="2.00" />
<line x1="554.70" y1="106.60" x2="554.70" y2="120.00" stroke="#f01c1c" stroke-width="1.60" />
<line x1="551.70" y1="106.60" x2="557.70" y2="106.60" stroke="#f01c1c" stroke-width="1.60" />
<line x1="551.70" y1="120.00" x2="557.70" y2="120.00" stroke="#f01c1c" stroke-width="1.60" />
<rect x="565.50" y="128.02" width="12.20" height="2.18" fill="#fde0e0" stroke="#f01c1c" stroke-width="2.00" />
<line x1="571.60" y1="126.20" x2="571.60" y2="130.00" stroke="#f01c1c" stroke-width="1.60" />
<line x1="568.60" y1="126.20" x2="574.60" y2="126.20" stroke="#f01c1c" stroke-width="1.60" />
<line x1="568.60" y1="130.00" x2="574.60" y2="130.00" stroke="#f01c1c" stroke-width="1.60" />
<rect x="615.60" y="101.86" width="13.20" height="28.34" fill="#fde0e0" stroke="#f01c1c" stroke-width="2.00" />
<line x1="622.20" y1="95.00" x2="622.20" y2="106.00" stroke="#f01c1c" stroke-width="1.60" />
<line x1="619.20" y1="95.00" x2="625.20" y2="95.00" stroke="#f01c1c" stroke-width="1.60" />
<line x1="619.20" y1="106.00" x2="625.20" y2="106.00" stroke="#f01c1c" stroke-width="1.60" />
<rect x="633.20" y="96.14" width="14.00" height="34.06" fill="#fde0e0" stroke="#f01c1c" stroke-width="2.00" />
<line x1="640.20" y1="86.00" x2="640.20" y2="109.00" stroke="#f01c1c" stroke-width="1.60" />
<line x1="637.20" y1="86.00" x2="643.20" y2="86.00" stroke="#f01c1c" stroke-width="1.60" />
<line x1="637.20" y1="109.00" x2="643.20" y2="109.00" stroke="#f01c1c" stroke-width="1.60" />
<circle cx="501.97" cy="51.40" r="1.45" fill="#fff" stroke="#9a9a9a" stroke-width="0.75"/>
<circle cx="505.54" cy="69.40" r="1.45" fill="#fff" stroke="#9a9a9a" stroke-width="0.75"/>
<circle cx="505.12" cy="79.40" r="1.45" fill="#fff" stroke="#9a9a9a" stroke-width="0.75"/>
<circle cx="502.58" cy="85.20" r="1.45" fill="#fff" stroke="#9a9a9a" stroke-width="0.75"/>
<circle cx="503.78" cy="93.40" r="1.45" fill="#fff" stroke="#9a9a9a" stroke-width="0.75"/>
<circle cx="503.55" cy="95.00" r="1.45" fill="#fff" stroke="#9a9a9a" stroke-width="0.75"/>
<circle cx="504.56" cy="98.00" r="1.45" fill="#fff" stroke="#9a9a9a" stroke-width="0.75"/>
<circle cx="505.24" cy="102.20" r="1.45" fill="#fff" stroke="#9a9a9a" stroke-width="0.75"/>
<circle cx="501.77" cy="106.00" r="1.45" fill="#fff" stroke="#9a9a9a" stroke-width="0.75"/>
<circle cx="501.44" cy="109.20" r="1.45" fill="#fff" stroke="#9a9a9a" stroke-width="0.75"/>
<circle cx="505.48" cy="113.60" r="1.45" fill="#fff" stroke="#9a9a9a" stroke-width="0.75"/>
<circle cx="503.46" cy="118.80" r="1.45" fill="#fff" stroke="#9a9a9a" stroke-width="0.75"/>
<circle cx="505.11" cy="121.00" r="1.45" fill="#fff" stroke="#9a9a9a" stroke-width="0.75"/>
<circle cx="501.31" cy="127.00" r="1.45" fill="#fff" stroke="#9a9a9a" stroke-width="0.75"/>
<circle cx="523.89" cy="43.30" r="1.45" fill="#fff" stroke="#9a9a9a" stroke-width="0.75"/>
<circle cx="523.83" cy="55.00" r="1.45" fill="#fff" stroke="#9a9a9a" stroke-width="0.75"/>
<circle cx="517.60" cy="60.00" r="1.45" fill="#fff" stroke="#9a9a9a" stroke-width="0.75"/>
<circle cx="517.79" cy="61.00" r="1.45" fill="#fff" stroke="#9a9a9a" stroke-width="0.75"/>
<circle cx="523.05" cy="68.00" r="1.45" fill="#fff" stroke="#9a9a9a" stroke-width="0.75"/>
<circle cx="522.35" cy="74.50" r="1.45" fill="#fff" stroke="#9a9a9a" stroke-width="0.75"/>
<circle cx="521.89" cy="97.00" r="1.45" fill="#fff" stroke="#9a9a9a" stroke-width="0.75"/>
<circle cx="519.36" cy="107.00" r="1.45" fill="#fff" stroke="#9a9a9a" stroke-width="0.75"/>
<circle cx="521.44" cy="107.00" r="1.45" fill="#fff" stroke="#9a9a9a" stroke-width="0.75"/>
<circle cx="521.45" cy="114.00" r="1.45" fill="#fff" stroke="#9a9a9a" stroke-width="0.75"/>
<circle cx="521.27" cy="121.00" r="1.45" fill="#fff" stroke="#9a9a9a" stroke-width="0.75"/>
<circle cx="518.31" cy="122.00" r="1.45" fill="#fff" stroke="#9a9a9a" stroke-width="0.75"/>
<circle cx="520.21" cy="123.00" r="1.45" fill="#fff" stroke="#9a9a9a" stroke-width="0.75"/>
<circle cx="519.95" cy="126.00" r="1.45" fill="#fff" stroke="#9a9a9a" stroke-width="0.75"/>
<circle cx="535.67" cy="90.00" r="1.45" fill="#fff" stroke="#9a9a9a" stroke-width="0.75"/>
<circle cx="537.81" cy="95.50" r="1.45" fill="#fff" stroke="#9a9a9a" stroke-width="0.75"/>
<circle cx="536.59" cy="103.50" r="1.45" fill="#fff" stroke="#9a9a9a" stroke-width="0.75"/>
<circle cx="538.23" cy="104.00" r="1.45" fill="#fff" stroke="#9a9a9a" stroke-width="0.75"/>
<circle cx="538.38" cy="110.00" r="1.45" fill="#fff" stroke="#9a9a9a" stroke-width="0.75"/>
<circle cx="534.46" cy="120.00" r="1.45" fill="#fff" stroke="#9a9a9a" stroke-width="0.75"/>
<circle cx="534.09" cy="125.00" r="1.45" fill="#fff" stroke="#9a9a9a" stroke-width="0.75"/>
<circle cx="539.86" cy="128.00" r="1.45" fill="#fff" stroke="#9a9a9a" stroke-width="0.75"/>
<circle cx="552.75" cy="72.00" r="1.45" fill="#fff" stroke="#9a9a9a" stroke-width="0.75"/>
<circle cx="551.82" cy="89.00" r="1.45" fill="#fff" stroke="#9a9a9a" stroke-width="0.75"/>
<circle cx="553.87" cy="106.50" r="1.45" fill="#fff" stroke="#9a9a9a" stroke-width="0.75"/>
<circle cx="552.18" cy="107.00" r="1.45" fill="#fff" stroke="#9a9a9a" stroke-width="0.75"/>
<circle cx="551.57" cy="117.00" r="1.45" fill="#fff" stroke="#9a9a9a" stroke-width="0.75"/>
<circle cx="553.91" cy="118.00" r="1.45" fill="#fff" stroke="#9a9a9a" stroke-width="0.75"/>
<circle cx="557.53" cy="129.50" r="1.45" fill="#fff" stroke="#9a9a9a" stroke-width="0.75"/>
<circle cx="556.70" cy="129.50" r="1.45" fill="#fff" stroke="#9a9a9a" stroke-width="0.75"/>
<circle cx="556.46" cy="129.50" r="1.45" fill="#fff" stroke="#9a9a9a" stroke-width="0.75"/>
<circle cx="552.65" cy="129.50" r="1.45" fill="#fff" stroke="#9a9a9a" stroke-width="0.75"/>
<circle cx="572.48" cy="108.50" r="1.45" fill="#fff" stroke="#9a9a9a" stroke-width="0.75"/>
<circle cx="573.43" cy="127.00" r="1.45" fill="#fff" stroke="#9a9a9a" stroke-width="0.75"/>
<circle cx="573.86" cy="128.50" r="1.45" fill="#fff" stroke="#9a9a9a" stroke-width="0.75"/>
<circle cx="575.04" cy="129.50" r="1.45" fill="#fff" stroke="#9a9a9a" stroke-width="0.75"/>
<circle cx="573.42" cy="129.50" r="1.45" fill="#fff" stroke="#9a9a9a" stroke-width="0.75"/>
<circle cx="574.88" cy="129.50" r="1.45" fill="#fff" stroke="#9a9a9a" stroke-width="0.75"/>
<circle cx="567.73" cy="129.50" r="1.45" fill="#fff" stroke="#9a9a9a" stroke-width="0.75"/>
<circle cx="571.22" cy="129.50" r="1.45" fill="#fff" stroke="#9a9a9a" stroke-width="0.75"/>
<circle cx="487.64" cy="127.00" r="1.45" fill="#fff" stroke="#9a9a9a" stroke-width="0.75"/>
<circle cx="487.90" cy="128.00" r="1.45" fill="#fff" stroke="#9a9a9a" stroke-width="0.75"/>
<circle cx="484.87" cy="129.50" r="1.45" fill="#fff" stroke="#9a9a9a" stroke-width="0.75"/>
<circle cx="482.85" cy="129.50" r="1.45" fill="#fff" stroke="#9a9a9a" stroke-width="0.75"/>
<circle cx="480.50" cy="129.50" r="1.45" fill="#fff" stroke="#9a9a9a" stroke-width="0.75"/>
<circle cx="486.47" cy="129.50" r="1.45" fill="#fff" stroke="#9a9a9a" stroke-width="0.75"/>
<circle cx="484.73" cy="129.50" r="1.45" fill="#fff" stroke="#9a9a9a" stroke-width="0.75"/>
<circle cx="487.34" cy="129.50" r="1.45" fill="#fff" stroke="#9a9a9a" stroke-width="0.75"/>
<circle cx="483.86" cy="129.50" r="1.45" fill="#fff" stroke="#9a9a9a" stroke-width="0.75"/>
<circle cx="487.43" cy="129.50" r="1.45" fill="#fff" stroke="#9a9a9a" stroke-width="0.75"/>
<circle cx="602.59" cy="125.00" r="1.45" fill="#fff" stroke="#9a9a9a" stroke-width="0.75"/>
<circle cx="601.21" cy="127.00" r="1.45" fill="#fff" stroke="#9a9a9a" stroke-width="0.75"/>
<circle cx="605.21" cy="128.50" r="1.45" fill="#fff" stroke="#9a9a9a" stroke-width="0.75"/>
<circle cx="600.58" cy="129.50" r="1.45" fill="#fff" stroke="#9a9a9a" stroke-width="0.75"/>
<circle cx="604.29" cy="129.50" r="1.45" fill="#fff" stroke="#9a9a9a" stroke-width="0.75"/>
<circle cx="602.93" cy="129.50" r="1.45" fill="#fff" stroke="#9a9a9a" stroke-width="0.75"/>
<circle cx="600.46" cy="129.50" r="1.45" fill="#fff" stroke="#9a9a9a" stroke-width="0.75"/>
<circle cx="604.06" cy="129.50" r="1.45" fill="#fff" stroke="#9a9a9a" stroke-width="0.75"/>
<circle cx="600.30" cy="129.50" r="1.45" fill="#fff" stroke="#9a9a9a" stroke-width="0.75"/>
<circle cx="603.47" cy="129.50" r="1.45" fill="#fff" stroke="#9a9a9a" stroke-width="0.75"/>
<circle cx="600.56" cy="129.50" r="1.45" fill="#fff" stroke="#9a9a9a" stroke-width="0.75"/>
<circle cx="600.73" cy="129.50" r="1.45" fill="#fff" stroke="#9a9a9a" stroke-width="0.75"/>
<circle cx="603.40" cy="129.50" r="1.45" fill="#fff" stroke="#9a9a9a" stroke-width="0.75"/>
<circle cx="606.61" cy="129.50" r="1.45" fill="#fff" stroke="#9a9a9a" stroke-width="0.75"/>
<circle cx="620.63" cy="76.00" r="1.45" fill="#fff" stroke="#9a9a9a" stroke-width="0.75"/>
<circle cx="624.31" cy="81.00" r="1.45" fill="#fff" stroke="#9a9a9a" stroke-width="0.75"/>
<circle cx="620.13" cy="87.00" r="1.45" fill="#fff" stroke="#9a9a9a" stroke-width="0.75"/>
<circle cx="623.02" cy="92.00" r="1.45" fill="#fff" stroke="#9a9a9a" stroke-width="0.75"/>
<circle cx="619.93" cy="97.00" r="1.45" fill="#fff" stroke="#9a9a9a" stroke-width="0.75"/>
<circle cx="620.74" cy="104.00" r="1.45" fill="#fff" stroke="#9a9a9a" stroke-width="0.75"/>
<circle cx="624.50" cy="108.00" r="1.45" fill="#fff" stroke="#9a9a9a" stroke-width="0.75"/>
<circle cx="620.55" cy="113.00" r="1.45" fill="#fff" stroke="#9a9a9a" stroke-width="0.75"/>
<circle cx="622.71" cy="117.00" r="1.45" fill="#fff" stroke="#9a9a9a" stroke-width="0.75"/>
<circle cx="621.80" cy="121.00" r="1.45" fill="#fff" stroke="#9a9a9a" stroke-width="0.75"/>
<circle cx="621.77" cy="127.00" r="1.45" fill="#fff" stroke="#9a9a9a" stroke-width="0.75"/>
<circle cx="639.90" cy="30.50" r="1.45" fill="#fff" stroke="#9a9a9a" stroke-width="0.75"/>
<circle cx="639.19" cy="32.00" r="1.45" fill="#fff" stroke="#9a9a9a" stroke-width="0.75"/>
<circle cx="637.31" cy="73.50" r="1.45" fill="#fff" stroke="#9a9a9a" stroke-width="0.75"/>
<circle cx="643.13" cy="76.50" r="1.45" fill="#fff" stroke="#9a9a9a" stroke-width="0.75"/>
<circle cx="636.25" cy="97.00" r="1.45" fill="#fff" stroke="#9a9a9a" stroke-width="0.75"/>
<circle cx="640.22" cy="105.00" r="1.45" fill="#fff" stroke="#9a9a9a" stroke-width="0.75"/>
<circle cx="643.39" cy="112.00" r="1.45" fill="#fff" stroke="#9a9a9a" stroke-width="0.75"/>
<circle cx="636.85" cy="117.00" r="1.45" fill="#fff" stroke="#9a9a9a" stroke-width="0.75"/>
<circle cx="640.63" cy="122.00" r="1.45" fill="#fff" stroke="#9a9a9a" stroke-width="0.75"/>
<circle cx="641.13" cy="124.00" r="1.45" fill="#fff" stroke="#9a9a9a" stroke-width="0.75"/>
<circle cx="636.53" cy="128.00" r="1.45" fill="#fff" stroke="#9a9a9a" stroke-width="0.75"/>
<circle cx="639.23" cy="129.00" r="1.45" fill="#fff" stroke="#9a9a9a" stroke-width="0.75"/>
<circle cx="641.83" cy="129.50" r="1.45" fill="#fff" stroke="#9a9a9a" stroke-width="0.75"/>
<text x="484.90" y="125.50" font-size="8.20" text-anchor="middle" fill="#8a1f9e" stroke="#8a1f9e" stroke-width="0.12">10</text>
<text x="503.80" y="127.60" font-size="8.20" text-anchor="middle" fill="#8a1f9e" stroke="#8a1f9e" stroke-width="0.12">15</text>
<text x="520.70" y="127.60" font-size="8.20" text-anchor="middle" fill="#8a1f9e" stroke="#8a1f9e" stroke-width="0.12">14</text>
<text x="537.60" y="127.60" font-size="8.20" text-anchor="middle" fill="#8a1f9e" stroke="#8a1f9e" stroke-width="0.12">8</text>
<text x="554.70" y="127.60" font-size="8.20" text-anchor="middle" fill="#8a1f9e" stroke="#8a1f9e" stroke-width="0.12">10</text>
<text x="570.70" y="125.50" font-size="8.20" text-anchor="middle" fill="#8a1f9e" stroke="#8a1f9e" stroke-width="0.12">16</text>
<text x="603.60" y="125.50" font-size="8.20" text-anchor="middle" fill="#8a1f9e" stroke="#8a1f9e" stroke-width="0.12">14</text>
<text x="622.20" y="127.60" font-size="8.20" text-anchor="middle" fill="#8a1f9e" stroke="#8a1f9e" stroke-width="0.12">8</text>
<text x="640.20" y="127.60" font-size="8.20" text-anchor="middle" fill="#8a1f9e" stroke="#8a1f9e" stroke-width="0.12">13</text>
<path d="M485.95,56.25 L485.95,61.35 M483.74,57.52 L488.16,60.07 M488.16,57.52 L483.74,60.07" stroke="#000" stroke-width="1.20" fill="none"/>
<path d="M492.80,56.25 L492.80,61.35 M490.59,57.52 L495.01,60.07 M495.01,57.52 L490.59,60.07" stroke="#000" stroke-width="1.20" fill="none"/>
<path d="M499.65,56.25 L499.65,61.35 M497.44,57.52 L501.86,60.07 M501.86,57.52 L497.44,60.07" stroke="#000" stroke-width="1.20" fill="none"/>
<text x="502.60" y="61.90" font-size="8.00" stroke="#000" stroke-width="0.12"><tspan font-style="italic">p</tspan>&lt;0.001</text>
<line x1="484.00" y1="63.80" x2="502.60" y2="63.80" stroke="#444" stroke-width="1.20" />
<line x1="501.20" y1="39.50" x2="521.40" y2="39.50" stroke="#444" stroke-width="1.20" />
<text x="502.00" y="37.90" font-size="8.60" stroke="#000" stroke-width="0.12">ns</text>
<text x="521.40" y="37.90" font-size="8.00" stroke="#000" stroke-width="0.12"><tspan font-style="italic">p</tspan>=0.7897</text>
<line x1="501.20" y1="29.00" x2="536.00" y2="29.00" stroke="#444" stroke-width="1.20" />
<text x="508.20" y="27.00" font-size="8.60" stroke="#000" stroke-width="0.12">ns</text>
<text x="521.40" y="27.00" font-size="8.00" stroke="#000" stroke-width="0.12"><tspan font-style="italic">p</tspan>=0.1624</text>
<line x1="501.20" y1="18.60" x2="560.00" y2="18.60" stroke="#444" stroke-width="1.20" />
<text x="514.00" y="17.20" font-size="8.60" stroke="#000" stroke-width="0.12">ns</text>
<text x="526.40" y="17.20" font-size="8.00" stroke="#000" stroke-width="0.12"><tspan font-style="italic">p</tspan>=0.0695</text>
<line x1="501.20" y1="9.30" x2="570.90" y2="9.30" stroke="#444" stroke-width="1.20" />
<path d="M532.10,2.60 L532.10,7.80 M529.85,3.90 L534.35,6.50 M534.35,3.90 L529.85,6.50" stroke="#000" stroke-width="1.20" fill="none"/>
<path d="M539.00,2.60 L539.00,7.80 M536.75,3.90 L541.25,6.50 M541.25,3.90 L536.75,6.50" stroke="#000" stroke-width="1.20" fill="none"/>
<path d="M545.90,2.60 L545.90,7.80 M543.65,3.90 L548.15,6.50 M548.15,3.90 L543.65,6.50" stroke="#000" stroke-width="1.20" fill="none"/>
<text x="555.40" y="7.70" font-size="8.00" stroke="#000" stroke-width="0.12"><tspan font-style="italic">p</tspan>&lt;0.001</text>
<path d="M607.50,58.20 L607.50,63.40 M605.25,59.50 L609.75,62.10 M609.75,59.50 L605.25,62.10" stroke="#000" stroke-width="1.20" fill="none"/>
<path d="M614.40,58.20 L614.40,63.40 M612.15,59.50 L616.65,62.10 M616.65,59.50 L612.15,62.10" stroke="#000" stroke-width="1.20" fill="none"/>
<path d="M621.30,58.20 L621.30,63.40 M619.05,59.50 L623.55,62.10 M623.55,59.50 L619.05,62.10" stroke="#000" stroke-width="1.20" fill="none"/>
<text x="627.00" y="63.80" font-size="8.00" stroke="#000" stroke-width="0.12"><tspan font-style="italic">p</tspan>&lt;0.001</text>
<line x1="604.90" y1="65.80" x2="621.90" y2="65.80" stroke="#444" stroke-width="1.20" />
<text x="624.30" y="16.20" font-size="8.60" stroke="#000" stroke-width="0.12">ns</text>
<text x="637.80" y="16.20" font-size="8.00" stroke="#000" stroke-width="0.12"><tspan font-style="italic">p</tspan>=0.636</text>
<line x1="621.90" y1="18.20" x2="639.30" y2="18.20" stroke="#444" stroke-width="1.20" />
<text x="538.00" y="140.80" font-size="9.20" text-anchor="middle" font-style="italic" stroke="#000" stroke-width="0.12">Pvap-1::blgc</text>
<line x1="497.30" y1="143.90" x2="578.30" y2="143.90" stroke="#222" stroke-width="1.20" />
<text x="648.70" y="140.80" font-size="9.20" text-anchor="middle" font-style="italic" stroke="#000" stroke-width="0.12">PR11D1.3::blgc</text>
<line x1="613.30" y1="144.10" x2="671.70" y2="144.10" stroke="#222" stroke-width="1.20" />
<text x="491.90" y="141.90" font-size="9.10" text-anchor="end" font-style="italic" transform="rotate(-45.00 491.90 141.90)" stroke="#000" stroke-width="0.12">Pvap-1::mCherry</text>
<text x="507.10" y="153.60" font-size="9.10" text-anchor="end" transform="rotate(-45.00 507.10 153.60)" stroke="#000" stroke-width="0.12">WT</text>
<text x="523.40" y="152.50" font-size="9.10" text-anchor="end" font-style="italic" transform="rotate(-45.00 523.40 152.50)" stroke="#000" stroke-width="0.12">lite-1,gur-3</text>
<text x="537.50" y="152.50" font-size="9.10" text-anchor="end" font-style="italic" transform="rotate(-45.00 537.50 152.50)" stroke="#000" stroke-width="0.12">cng-1,-3</text>
<text x="556.10" y="152.50" font-size="9.10" text-anchor="end" font-style="italic" transform="rotate(-45.00 556.10 152.50)" stroke="#000" stroke-width="0.12">tax-4</text>
<text x="574.40" y="153.60" font-size="9.10" text-anchor="end" font-style="italic" transform="rotate(-45.00 574.40 153.60)" stroke="#000" stroke-width="0.12">cng-1,-3,tax-4</text>
<text x="610.20" y="141.70" font-size="9.10" text-anchor="end" font-style="italic" transform="rotate(-45.00 610.20 141.70)" stroke="#000" stroke-width="0.12">PR11D1.3::mCherry</text>
<text x="624.80" y="152.70" font-size="9.10" text-anchor="end" transform="rotate(-45.00 624.80 152.70)" stroke="#000" stroke-width="0.12">WT</text>
<text x="646.70" y="151.80" font-size="9.10" text-anchor="end" font-style="italic" transform="rotate(-45.00 646.70 151.80)" stroke="#000" stroke-width="0.12">lite-1,gur-3</text>
<text x="1.00" y="209.80" font-size="19.20" stroke="#000" stroke-width="0.12">c</text>
<polyline points="24.5,208.8 59.6,208.8 62.4,201.8 156.0,201.8 161.0,208.8 184.6,208.8" fill="none" stroke="#000" stroke-width="1.35" stroke-linejoin="round" />
<text x="40.00" y="206.40" font-size="9.30" text-anchor="middle" stroke="#000" stroke-width="0.12">20°C</text>
<text x="107.50" y="212.20" font-size="9.30" text-anchor="middle" stroke="#000" stroke-width="0.12">28°C</text>
<text x="174.50" y="206.40" font-size="9.30" text-anchor="middle" stroke="#000" stroke-width="0.12">20°C</text>
<text x="20.00" y="219.20" font-size="8.90" stroke="#000" stroke-width="0.12">WT</text>
<rect x="24.40" y="224.20" width="160.20" height="1.97" fill="url(#h57)"/>
<rect x="24.40" y="225.17" width="160.20" height="1.97" fill="url(#h58)"/>
<rect x="24.40" y="226.13" width="160.20" height="1.97" fill="url(#h59)"/>
<rect x="24.40" y="227.10" width="160.20" height="1.97" fill="url(#h60)"/>
<rect x="24.40" y="228.07" width="160.20" height="1.97" fill="url(#h61)"/>
<rect x="24.40" y="229.03" width="160.20" height="1.97" fill="url(#h62)"/>
<rect x="24.40" y="230.00" width="160.20" height="1.97" fill="url(#h63)"/>
<rect x="24.40" y="230.97" width="160.20" height="1.97" fill="url(#h64)"/>
<rect x="24.40" y="231.93" width="160.20" height="1.97" fill="url(#h65)"/>
<rect x="24.40" y="232.90" width="160.20" height="1.97" fill="url(#h66)"/>
<rect x="24.40" y="233.87" width="160.20" height="1.97" fill="url(#h67)"/>
<rect x="24.40" y="234.83" width="160.20" height="1.97" fill="url(#h68)"/>
<rect x="24.40" y="235.80" width="160.20" height="1.97" fill="url(#h69)"/>
<rect x="24.40" y="236.77" width="160.20" height="1.97" fill="url(#h70)"/>
<rect x="24.40" y="237.73" width="160.20" height="1.97" fill="url(#h71)"/>
<rect x="24.40" y="238.70" width="160.20" height="1.97" fill="url(#h72)"/>
<rect x="24.40" y="239.67" width="160.20" height="1.97" fill="url(#h73)"/>
<rect x="24.40" y="240.63" width="160.20" height="1.97" fill="url(#h74)"/>
<rect x="24.40" y="241.60" width="160.20" height="1.97" fill="url(#h75)"/>
<rect x="24.40" y="242.57" width="160.20" height="1.97" fill="url(#h76)"/>
<rect x="24.40" y="243.53" width="160.20" height="0.97" fill="url(#h77)"/>
<rect x="24.40" y="224.20" width="160.20" height="20.30" fill="none" stroke="#000" stroke-width="1.30" />
<text x="22.50" y="228.80" font-size="6.80" text-anchor="end" fill="#8a1f9e" stroke="#8a1f9e" stroke-width="0.3">21</text>
<text x="22.50" y="245.10" font-size="6.80" text-anchor="end" fill="#8a1f9e" stroke="#8a1f9e" stroke-width="0.3">1</text>
<rect x="24.40" y="253.40" width="160.20" height="2.05" fill="url(#h78)"/>
<rect x="24.40" y="254.45" width="160.20" height="2.05" fill="url(#h79)"/>
<rect x="24.40" y="255.51" width="160.20" height="2.05" fill="url(#h80)"/>
<rect x="24.40" y="256.56" width="160.20" height="2.05" fill="url(#h81)"/>
<rect x="24.40" y="257.61" width="160.20" height="2.05" fill="url(#h82)"/>
<rect x="24.40" y="258.66" width="160.20" height="2.05" fill="url(#h83)"/>
<rect x="24.40" y="259.72" width="160.20" height="2.05" fill="url(#h84)"/>
<rect x="24.40" y="260.77" width="160.20" height="2.05" fill="url(#h85)"/>
<rect x="24.40" y="261.82" width="160.20" height="2.05" fill="url(#h86)"/>
<rect x="24.40" y="262.87" width="160.20" height="2.05" fill="url(#h87)"/>
<rect x="24.40" y="263.93" width="160.20" height="2.05" fill="url(#h88)"/>
<rect x="24.40" y="264.98" width="160.20" height="2.05" fill="url(#h89)"/>
<rect x="24.40" y="266.03" width="160.20" height="2.05" fill="url(#h90)"/>
<rect x="24.40" y="267.08" width="160.20" height="2.05" fill="url(#h91)"/>
<rect x="24.40" y="268.14" width="160.20" height="2.05" fill="url(#h92)"/>
<rect x="24.40" y="269.19" width="160.20" height="2.05" fill="url(#h93)"/>
<rect x="24.40" y="270.24" width="160.20" height="2.05" fill="url(#h94)"/>
<rect x="24.40" y="271.29" width="160.20" height="2.05" fill="url(#h95)"/>
<rect x="24.40" y="272.35" width="160.20" height="1.05" fill="url(#h96)"/>
<rect x="24.40" y="253.40" width="160.20" height="20.00" fill="none" stroke="#000" stroke-width="1.30" />
<text x="21.00" y="251.10" font-size="8.10" font-style="italic" stroke="#000" stroke-width="0.12">cng-1,-3,tax-4</text>
<text x="22.50" y="258.00" font-size="6.80" text-anchor="end" fill="#8a1f9e" stroke="#8a1f9e" stroke-width="0.3">19</text>
<text x="22.50" y="274.00" font-size="6.80" text-anchor="end" fill="#8a1f9e" stroke="#8a1f9e" stroke-width="0.3">1</text>
<rect x="24.40" y="285.50" width="160.20" height="2.67" fill="url(#h97)"/>
<rect x="24.40" y="287.17" width="160.20" height="2.67" fill="url(#h98)"/>
<rect x="24.40" y="288.83" width="160.20" height="2.67" fill="url(#h99)"/>
<rect x="24.40" y="290.50" width="160.20" height="2.67" fill="url(#h100)"/>
<rect x="24.40" y="292.17" width="160.20" height="2.67" fill="url(#h101)"/>
<rect x="24.40" y="293.83" width="160.20" height="2.67" fill="url(#h102)"/>
<rect x="24.40" y="295.50" width="160.20" height="2.67" fill="url(#h103)"/>
<rect x="24.40" y="297.17" width="160.20" height="2.67" fill="url(#h104)"/>
<rect x="24.40" y="298.83" width="160.20" height="2.67" fill="url(#h105)"/>
<rect x="24.40" y="300.50" width="160.20" height="2.67" fill="url(#h106)"/>
<rect x="24.40" y="302.17" width="160.20" height="2.67" fill="url(#h107)"/>
<rect x="24.40" y="303.83" width="160.20" height="1.67" fill="url(#h108)"/>
<rect x="24.40" y="285.50" width="160.20" height="20.00" fill="none" stroke="#000" stroke-width="1.30" />
<text x="21.00" y="283.20" font-size="8.10" font-style="italic" stroke="#000" stroke-width="0.12">cng-1,-3,tax-4;Pvap-1::tax-4</text>
<text x="22.50" y="290.10" font-size="6.80" text-anchor="end" fill="#8a1f9e" stroke="#8a1f9e" stroke-width="0.3">12</text>
<text x="22.50" y="306.10" font-size="6.80" text-anchor="end" fill="#8a1f9e" stroke="#8a1f9e" stroke-width="0.3">1</text>
<rect x="24.40" y="317.40" width="160.20" height="2.67" fill="url(#h109)"/>
<rect x="24.40" y="319.07" width="160.20" height="2.67" fill="url(#h110)"/>
<rect x="24.40" y="320.73" width="160.20" height="2.67" fill="url(#h111)"/>
<rect x="24.40" y="322.40" width="160.20" height="2.67" fill="url(#h112)"/>
<rect x="24.40" y="324.07" width="160.20" height="2.67" fill="url(#h113)"/>
<rect x="24.40" y="325.73" width="160.20" height="2.67" fill="url(#h114)"/>
<rect x="24.40" y="327.40" width="160.20" height="2.67" fill="url(#h115)"/>
<rect x="24.40" y="329.07" width="160.20" height="2.67" fill="url(#h116)"/>
<rect x="24.40" y="330.73" width="160.20" height="2.67" fill="url(#h117)"/>
<rect x="24.40" y="332.40" width="160.20" height="2.67" fill="url(#h118)"/>
<rect x="24.40" y="334.07" width="160.20" height="2.67" fill="url(#h119)"/>
<rect x="24.40" y="335.73" width="160.20" height="1.67" fill="url(#h120)"/>
<rect x="24.40" y="317.40" width="160.20" height="20.00" fill="none" stroke="#000" stroke-width="1.30" />
<text x="21.00" y="315.10" font-size="8.10" font-style="italic" stroke="#000" stroke-width="0.12">cng-1,-3,tax-4;PR11D1.3::tax-4</text>
<text x="22.50" y="322.00" font-size="6.80" text-anchor="end" fill="#8a1f9e" stroke="#8a1f9e" stroke-width="0.3">12</text>
<text x="22.50" y="338.00" font-size="6.80" text-anchor="end" fill="#8a1f9e" stroke="#8a1f9e" stroke-width="0.3">1</text>
<rect x="24.40" y="347.20" width="160.20" height="2.45" fill="url(#h121)"/>
<rect x="24.40" y="348.65" width="160.20" height="2.45" fill="url(#h122)"/>
<rect x="24.40" y="350.10" width="160.20" height="2.45" fill="url(#h123)"/>
<rect x="24.40" y="351.55" width="160.20" height="2.45" fill="url(#h124)"/>
<rect x="24.40" y="353.00" width="160.20" height="2.45" fill="url(#h125)"/>
<rect x="24.40" y="354.45" width="160.20" height="2.45" fill="url(#h126)"/>
<rect x="24.40" y="355.90" width="160.20" height="2.45" fill="url(#h127)"/>
<rect x="24.40" y="357.35" width="160.20" height="2.45" fill="url(#h128)"/>
<rect x="24.40" y="358.80" width="160.20" height="2.45" fill="url(#h129)"/>
<rect x="24.40" y="360.25" width="160.20" height="2.45" fill="url(#h130)"/>
<rect x="24.40" y="361.70" width="160.20" height="2.45" fill="url(#h131)"/>
<rect x="24.40" y="363.15" width="160.20" height="2.45" fill="url(#h132)"/>
<rect x="24.40" y="364.60" width="160.20" height="2.45" fill="url(#h133)"/>
<rect x="24.40" y="366.05" width="160.20" height="1.45" fill="url(#h134)"/>
<rect x="24.40" y="347.20" width="160.20" height="20.30" fill="none" stroke="#000" stroke-width="1.30" />
<text x="21.00" y="344.90" font-size="8.10" font-style="italic" stroke="#000" stroke-width="0.12">pde-1,-2,-3,-5</text>
<text x="22.50" y="351.80" font-size="6.80" text-anchor="end" fill="#8a1f9e" stroke="#8a1f9e" stroke-width="0.3">14</text>
<text x="22.50" y="368.10" font-size="6.80" text-anchor="end" fill="#8a1f9e" stroke="#8a1f9e" stroke-width="0.3">1</text>
<text x="23.50" y="376.30" font-size="8.40" text-anchor="middle" stroke="#000" stroke-width="0.12">0</text>
<text x="154.00" y="377.00" font-size="8.80" text-anchor="middle" stroke="#000" stroke-width="0.12">Time (s)</text>
<text x="187.50" y="376.30" font-size="8.40" text-anchor="end" stroke="#000" stroke-width="0.12">600</text>
<rect x="196.80" y="263.50" width="6.70" height="57.80" fill="url(#cb135)" stroke="#222" stroke-width="0.70" />
<line x1="196.80" y1="274.30" x2="198.00" y2="274.30" stroke="#222" stroke-width="0.60" />
<line x1="202.30" y1="274.30" x2="203.50" y2="274.30" stroke="#222" stroke-width="0.60" />
<text x="195.20" y="276.70" font-size="6.60" text-anchor="end" stroke="#000" stroke-width="0.12">50</text>
<line x1="196.80" y1="300.50" x2="198.00" y2="300.50" stroke="#222" stroke-width="0.60" />
<line x1="202.30" y1="300.50" x2="203.50" y2="300.50" stroke="#222" stroke-width="0.60" />
<text x="195.20" y="302.90" font-size="6.60" text-anchor="end" stroke="#000" stroke-width="0.12">0</text>
<text x="213.10" y="288.40" font-size="8.10" text-anchor="middle" transform="rotate(-90.00 213.10 288.40)" stroke="#000" stroke-width="0.12">GCaMP5 (ΔF/F<tspan font-size="5.5" dy="1.5">o</tspan><tspan dy="-1.5">, %)</tspan></text>
<text x="229.30" y="209.90" font-size="19.20" stroke="#000" stroke-width="0.12">d</text>
<polyline points="255.3,218.4 291.3,218.4 294.5,210.7 396.7,210.7 400.5,218.4 432.6,218.4" fill="none" stroke="#000" stroke-width="1.35" stroke-linejoin="round" />
<text x="267.00" y="214.60" font-size="9.30" text-anchor="middle" stroke="#000" stroke-width="0.12">20°C</text>
<text x="347.00" y="207.50" font-size="9.30" text-anchor="middle" stroke="#000" stroke-width="0.12">28°C</text>
<text x="413.50" y="214.60" font-size="9.30" text-anchor="middle" stroke="#000" stroke-width="0.12">20°C</text>
<polygon points="257.4,338.0 258.3,337.7 259.2,337.0 260.0,337.0 260.9,336.9 261.8,336.6 262.7,336.8 263.6,336.4 264.5,336.0 265.3,335.6 266.2,336.0 267.1,336.0 268.0,336.2 268.9,335.5 269.7,335.2 270.6,335.7 271.5,334.9 272.4,334.5 273.3,334.5 274.2,334.5 275.0,335.0 275.9,335.4 276.8,335.1 277.7,335.4 278.6,335.4 279.4,335.3 280.3,335.5 281.2,335.1 282.1,334.9 283.0,334.3 283.9,334.3 284.7,334.1 285.6,334.1 286.5,333.9 287.4,334.0 288.3,334.3 289.2,333.6 290.0,333.2 290.9,333.2 291.8,333.2 292.7,333.7 293.6,334.1 294.4,334.3 295.3,334.6 296.2,334.0 297.1,334.1 298.0,333.6 298.9,333.8 299.7,333.2 300.6,333.0 301.5,333.7 302.4,333.9 303.3,333.3 304.1,333.3 305.0,332.8 305.9,333.1 306.8,333.5 307.7,333.2 308.6,332.8 309.4,333.1 310.3,333.4 311.2,333.2 312.1,332.4 313.0,332.0 313.8,332.3 314.7,332.3 315.6,332.3 316.5,332.1 317.4,330.9 318.3,330.5 319.1,329.5 320.0,328.6 320.9,327.9 321.8,326.4 322.7,325.6 323.5,323.9 324.4,322.8 325.3,321.0 326.2,319.4 327.1,317.5 328.0,314.8 328.8,312.6 329.7,311.0 330.6,308.6 331.5,307.3 332.4,305.8 333.3,303.7 334.1,302.2 335.0,301.2 335.9,299.1 336.8,298.2 337.7,297.0 338.5,295.1 339.4,293.9 340.3,292.7 341.2,291.6 342.1,290.4 343.0,288.7 343.8,287.5 344.7,285.7 345.6,284.2 346.5,282.2 347.4,279.6 348.2,277.6 349.1,275.4 350.0,273.1 350.9,271.8 351.8,270.6 352.7,268.7 353.5,267.5 354.4,267.2 355.3,267.0 356.2,266.2 357.1,265.4 357.9,265.6 358.8,264.8 359.7,264.3 360.6,264.2 361.5,264.2 362.4,264.5 363.2,264.7 364.1,263.7 365.0,263.8 365.9,263.3 366.8,263.3 367.6,262.7 368.5,262.4 369.4,262.4 370.3,262.4 371.2,261.7 372.1,261.8 372.9,261.6 373.8,260.9 374.7,260.1 375.6,259.7 376.5,259.7 377.4,258.9 378.2,259.1 379.1,259.4 380.0,259.2 380.9,258.9 381.8,259.1 382.6,259.1 383.5,258.9 384.4,258.6 385.3,258.9 386.2,258.9 387.1,258.3 387.9,257.9 388.8,258.1 389.7,258.2 390.6,258.4 391.5,259.1 392.3,259.6 393.2,259.9 394.1,259.2 395.0,258.9 395.9,258.5 396.8,259.2 397.6,258.9 398.5,258.8 399.4,258.0 400.3,257.5 401.2,256.0 402.0,255.5 402.9,254.2 403.8,252.5 404.7,250.6 405.6,248.7 406.5,246.6 407.3,244.3 408.2,241.8 409.1,240.2 410.0,238.2 410.9,236.4 411.8,234.8 412.6,233.9 413.5,232.5 414.4,231.1 415.3,230.3 416.2,229.4 417.0,229.5 417.9,229.3 418.8,229.4 419.7,230.2 420.6,230.3 421.5,230.2 422.3,230.5 423.2,231.2 424.1,232.1 425.0,232.5 425.9,233.1 426.7,233.8 427.6,234.1 428.5,235.3 429.4,235.5 430.3,236.7 431.2,237.0 432.0,237.6 432.9,238.4 433.8,238.7 433.8,276.9 432.9,276.8 432.0,276.1 431.2,275.7 430.3,275.6 429.4,274.6 428.5,274.5 427.6,273.4 426.7,273.4 425.9,272.8 425.0,272.3 424.1,272.1 423.2,271.3 422.3,270.9 421.5,270.7 420.6,270.9 419.7,271.0 418.8,270.4 417.9,270.5 417.0,270.8 416.2,270.9 415.3,270.8 414.4,270.6 413.5,271.0 412.6,271.4 411.8,271.4 410.9,272.0 410.0,272.8 409.1,273.8 408.2,274.4 407.3,275.9 406.5,277.3 405.6,278.4 404.7,279.3 403.8,280.3 402.9,280.9 402.0,281.3 401.2,280.7 400.3,281.3 399.4,280.8 398.5,280.7 397.6,280.6 396.8,280.8 395.9,280.0 395.0,280.3 394.1,280.4 393.2,281.0 392.3,280.6 391.5,279.9 390.6,279.1 389.7,278.8 388.8,278.6 387.9,278.3 387.1,278.6 386.2,279.0 385.3,278.9 384.4,278.5 383.5,278.6 382.6,278.7 381.8,278.6 380.9,278.2 380.0,278.4 379.1,278.5 378.2,278.1 377.4,277.8 376.5,278.5 375.6,278.3 374.7,278.6 373.8,279.4 372.9,279.9 372.1,280.1 371.2,279.9 370.3,280.5 369.4,280.4 368.5,280.3 367.6,280.4 366.8,281.0 365.9,280.8 365.0,281.3 364.1,281.1 363.2,282.0 362.4,281.7 361.5,281.4 360.6,281.2 359.7,281.2 358.8,281.6 357.9,282.3 357.1,282.0 356.2,282.8 355.3,283.5 354.4,283.6 353.5,283.7 352.7,284.7 351.8,286.3 350.9,287.3 350.0,288.4 349.1,290.6 348.2,292.5 347.4,294.3 346.5,296.8 345.6,298.5 344.7,299.8 343.8,301.4 343.0,302.4 342.1,303.9 341.2,304.9 340.3,305.8 339.4,306.8 338.5,307.8 337.7,309.5 336.8,310.4 335.9,311.2 335.0,313.1 334.1,313.8 333.3,315.2 332.4,317.0 331.5,318.4 330.6,319.4 329.7,321.4 328.8,322.6 328.0,324.4 327.1,326.7 326.2,328.2 325.3,329.4 324.4,330.8 323.5,331.5 322.7,332.8 321.8,333.2 320.9,334.3 320.0,334.7 319.1,335.1 318.3,335.8 317.4,335.8 316.5,336.6 315.6,336.7 314.7,336.7 313.8,336.7 313.0,336.3 312.1,336.7 311.2,337.6 310.3,337.7 309.4,337.4 308.6,337.2 307.7,337.6 306.8,337.9 305.9,337.4 305.0,337.1 304.1,337.7 303.3,337.6 302.4,338.3 301.5,338.1 300.6,337.4 299.7,337.6 298.9,338.1 298.0,337.9 297.1,338.4 296.2,338.4 295.3,339.0 294.4,338.6 293.6,338.5 292.7,338.1 291.8,337.6 290.9,337.5 290.0,337.6 289.2,338.0 288.3,338.6 287.4,338.4 286.5,338.3 285.6,338.5 284.7,338.4 283.9,338.6 283.0,338.6 282.1,339.2 281.2,339.5 280.3,339.9 279.4,339.7 278.6,339.8 277.7,339.8 276.8,339.5 275.9,339.8 275.0,339.4 274.2,338.9 273.3,338.8 272.4,338.8 271.5,339.3 270.6,340.1 269.7,339.6 268.9,339.9 268.0,340.6 267.1,340.4 266.2,340.4 265.3,339.9 264.5,340.4 263.6,340.8 262.7,341.1 261.8,340.9 260.9,341.2 260.0,341.4 259.2,341.4 258.3,342.1 257.4,342.4" fill="#ff66cc" fill-opacity="0.35"/>
<polygon points="257.4,332.0 258.3,331.5 259.2,331.0 260.0,330.9 260.9,330.8 261.8,330.3 262.7,330.1 263.6,329.7 264.5,329.6 265.3,329.7 266.2,329.9 267.1,330.0 268.0,330.6 268.9,330.8 269.7,331.2 270.6,331.0 271.5,331.5 272.4,331.3 273.3,331.6 274.2,331.5 275.0,331.7 275.9,331.7 276.8,331.5 277.7,331.9 278.6,332.1 279.4,331.7 280.3,331.8 281.2,332.1 282.1,331.7 283.0,331.5 283.9,332.0 284.7,332.1 285.6,332.4 286.5,332.5 287.4,332.4 288.3,332.7 289.2,332.6 290.0,333.1 290.9,333.4 291.8,333.2 292.7,333.4 293.6,333.6 294.4,333.7 295.3,333.9 296.2,334.2 297.1,334.6 298.0,334.5 298.9,334.3 299.7,334.2 300.6,334.4 301.5,334.7 302.4,334.9 303.3,334.8 304.1,334.8 305.0,335.2 305.9,335.3 306.8,335.3 307.7,335.1 308.6,334.8 309.4,334.8 310.3,335.0 311.2,334.6 312.1,334.5 313.0,334.3 313.8,334.2 314.7,333.9 315.6,333.5 316.5,332.8 317.4,332.6 318.3,332.0 319.1,331.7 320.0,330.9 320.9,330.7 321.8,330.2 322.7,329.7 323.5,329.1 324.4,329.0 325.3,328.6 326.2,328.4 327.1,328.2 328.0,327.8 328.8,327.2 329.7,327.0 330.6,326.5 331.5,326.7 332.4,326.2 333.3,326.2 334.1,326.2 335.0,325.8 335.9,325.4 336.8,325.7 337.7,325.6 338.5,325.2 339.4,325.1 340.3,325.1 341.2,325.2 342.1,325.2 343.0,324.7 343.8,324.2 344.7,323.8 345.6,323.8 346.5,324.1 347.4,324.0 348.2,323.6 349.1,323.3 350.0,323.3 350.9,323.4 351.8,323.3 352.7,323.2 353.5,323.1 354.4,323.2 355.3,322.8 356.2,322.5 357.1,322.8 357.9,322.9 358.8,322.5 359.7,322.7 360.6,322.3 361.5,322.3 362.4,322.2 363.2,322.1 364.1,322.3 365.0,322.4 365.9,322.4 366.8,322.1 367.6,321.8 368.5,322.0 369.4,321.6 370.3,321.6 371.2,321.7 372.1,321.6 372.9,321.1 373.8,321.1 374.7,321.0 375.6,320.7 376.5,320.3 377.4,320.1 378.2,320.2 379.1,320.0 380.0,319.6 380.9,319.3 381.8,319.1 382.6,319.1 383.5,318.9 384.4,318.4 385.3,318.0 386.2,318.0 387.1,317.4 387.9,316.5 388.8,315.6 389.7,314.3 390.6,312.9 391.5,311.5 392.3,309.7 393.2,308.0 394.1,306.2 395.0,304.1 395.9,302.0 396.8,299.6 397.6,297.5 398.5,295.8 399.4,294.1 400.3,292.9 401.2,291.4 402.0,289.9 402.9,288.8 403.8,287.7 404.7,286.6 405.6,285.5 406.5,284.3 407.3,283.6 408.2,282.9 409.1,282.1 410.0,281.2 410.9,280.5 411.8,280.0 412.6,279.5 413.5,279.6 414.4,280.2 415.3,280.3 416.2,280.6 417.0,281.0 417.9,281.1 418.8,281.5 419.7,282.0 420.6,282.5 421.5,282.5 422.3,283.3 423.2,283.8 424.1,284.3 425.0,284.9 425.9,285.2 426.7,285.8 427.6,285.9 428.5,286.4 429.4,286.8 430.3,287.6 431.2,288.0 432.0,288.4 432.9,288.7 433.8,289.4 433.8,305.8 432.9,305.4 432.0,305.4 431.2,305.4 430.3,305.2 429.4,304.8 428.5,304.7 427.6,304.5 426.7,304.8 425.9,304.6 425.0,304.5 424.1,304.3 423.2,304.1 422.3,304.0 421.5,303.5 420.6,303.7 419.7,303.6 418.8,303.5 417.9,303.4 417.0,303.6 416.2,303.5 415.3,303.6 414.4,303.7 413.5,303.5 412.6,303.2 411.8,303.2 410.9,303.3 410.0,303.5 409.1,304.0 408.2,304.3 407.3,304.5 406.5,304.8 405.6,305.6 404.7,306.2 403.8,306.9 402.9,307.4 402.0,308.1 401.2,309.1 400.3,310.2 399.4,310.9 398.5,312.2 397.6,313.6 396.8,315.4 395.9,317.5 395.0,319.3 394.1,321.1 393.2,322.6 392.3,324.0 391.5,325.6 390.6,326.7 389.7,327.8 388.8,328.8 387.9,329.4 387.1,330.0 386.2,330.4 385.3,330.1 384.4,330.2 383.5,330.4 382.6,330.3 381.8,330.0 380.9,329.9 380.0,329.9 379.1,330.1 378.2,330.0 377.4,329.6 376.5,329.5 375.6,329.6 374.7,329.7 373.8,329.8 372.9,329.8 372.1,330.2 371.2,330.2 370.3,330.1 369.4,330.0 368.5,330.4 367.6,330.2 366.8,330.3 365.9,330.6 365.0,330.5 364.1,330.4 363.2,330.2 362.4,330.2 361.5,330.3 360.6,330.2 359.7,330.6 358.8,330.4 357.9,330.7 357.1,330.6 356.2,330.2 355.3,330.4 354.4,330.8 353.5,330.6 352.7,330.7 351.8,330.8 350.9,330.8 350.0,330.6 349.1,330.6 348.2,330.9 347.4,331.2 346.5,331.2 345.6,330.9 344.7,330.8 343.8,331.2 343.0,331.7 342.1,332.1 341.2,332.1 340.3,331.9 339.4,331.9 338.5,331.9 337.7,332.3 336.8,332.3 335.9,332.0 335.0,332.3 334.1,332.7 333.3,332.6 332.4,332.6 331.5,333.0 330.6,332.8 329.7,333.2 328.8,333.3 328.0,333.9 327.1,334.2 326.2,334.4 325.3,334.6 324.4,334.9 323.5,335.0 322.7,335.6 321.8,336.0 320.9,336.4 320.0,336.6 319.1,337.3 318.3,337.6 317.4,338.2 316.5,338.3 315.6,338.9 314.7,339.3 313.8,339.6 313.0,339.7 312.1,339.9 311.2,339.9 310.3,340.4 309.4,340.1 308.6,340.1 307.7,340.4 306.8,340.6 305.9,340.6 305.0,340.4 304.1,340.0 303.3,340.1 302.4,340.1 301.5,339.9 300.6,339.5 299.7,339.3 298.9,339.4 298.0,339.6 297.1,339.7 296.2,339.2 295.3,339.0 294.4,338.8 293.6,338.7 292.7,338.4 291.8,338.2 290.9,338.3 290.0,338.1 289.2,337.6 288.3,337.7 287.4,337.3 286.5,337.4 285.6,337.3 284.7,337.0 283.9,336.9 283.0,336.4 282.1,336.5 281.2,336.9 280.3,336.6 279.4,336.5 278.6,336.9 277.7,336.6 276.8,336.2 275.9,336.4 275.0,336.4 274.2,336.2 273.3,336.3 272.4,335.9 271.5,336.1 270.6,335.6 269.7,335.8 268.9,335.3 268.0,335.1 267.1,334.6 266.2,334.4 265.3,334.2 264.5,334.1 263.6,334.2 262.7,334.6 261.8,334.8 260.9,335.2 260.0,335.3 259.2,335.4 258.3,335.9 257.4,336.4" fill="#66e066" fill-opacity="0.35"/>
<polygon points="257.4,334.3 258.3,334.1 259.2,333.9 260.0,333.7 260.9,333.9 261.8,334.0 262.7,334.0 263.6,334.0 264.5,333.7 265.3,333.8 266.2,333.6 267.1,333.6 268.0,333.6 268.9,333.5 269.7,333.1 270.6,333.0 271.5,333.3 272.4,333.2 273.3,333.3 274.2,332.9 275.0,332.6 275.9,332.5 276.8,332.4 277.7,332.3 278.6,332.1 279.4,332.1 280.3,332.3 281.2,332.2 282.1,332.2 283.0,332.1 283.9,332.1 284.7,332.2 285.6,332.2 286.5,332.2 287.4,332.3 288.3,332.4 289.2,332.1 290.0,332.0 290.9,331.8 291.8,331.9 292.7,332.0 293.6,332.0 294.4,332.3 295.3,332.3 296.2,332.4 297.1,332.6 298.0,332.8 298.9,332.7 299.7,332.9 300.6,332.9 301.5,332.8 302.4,333.0 303.3,333.3 304.1,333.4 305.0,333.7 305.9,334.0 306.8,334.2 307.7,334.3 308.6,334.5 309.4,334.4 310.3,334.0 311.2,333.9 312.1,333.4 313.0,332.8 313.8,332.6 314.7,332.2 315.6,331.5 316.5,330.9 317.4,330.6 318.3,330.6 319.1,330.3 320.0,329.8 320.9,329.3 321.8,329.0 322.7,329.0 323.5,328.5 324.4,328.4 325.3,328.1 326.2,328.0 327.1,327.5 328.0,327.2 328.8,326.9 329.7,326.8 330.6,326.5 331.5,326.2 332.4,325.9 333.3,325.7 334.1,325.3 335.0,325.1 335.9,325.0 336.8,324.8 337.7,324.3 338.5,324.2 339.4,324.0 340.3,323.8 341.2,323.3 342.1,322.9 343.0,322.6 343.8,322.5 344.7,322.1 345.6,321.8 346.5,321.6 347.4,321.4 348.2,320.6 349.1,320.5 350.0,320.1 350.9,319.8 351.8,319.3 352.7,319.1 353.5,318.6 354.4,318.3 355.3,317.7 356.2,317.6 357.1,317.2 357.9,316.8 358.8,316.2 359.7,315.9 360.6,315.6 361.5,315.3 362.4,315.1 363.2,315.0 364.1,314.6 365.0,314.1 365.9,313.7 366.8,313.6 367.6,313.3 368.5,312.8 369.4,312.8 370.3,312.5 371.2,312.3 372.1,312.1 372.9,311.9 373.8,311.7 374.7,311.4 375.6,311.3 376.5,310.9 377.4,310.7 378.2,310.1 379.1,309.8 380.0,309.7 380.9,309.2 381.8,309.1 382.6,308.8 383.5,308.4 384.4,308.2 385.3,308.0 386.2,307.7 387.1,307.5 387.9,306.9 388.8,306.8 389.7,306.3 390.6,306.1 391.5,305.8 392.3,305.4 393.2,305.2 394.1,304.9 395.0,304.4 395.9,303.9 396.8,303.1 397.6,302.5 398.5,302.4 399.4,301.9 400.3,301.6 401.2,300.9 402.0,300.5 402.9,299.7 403.8,299.2 404.7,299.0 405.6,298.6 406.5,298.1 407.3,297.2 408.2,296.8 409.1,296.1 410.0,295.5 410.9,294.8 411.8,293.8 412.6,293.4 413.5,292.6 414.4,292.1 415.3,291.5 416.2,291.4 417.0,291.3 417.9,291.7 418.8,292.1 419.7,292.6 420.6,293.0 421.5,293.4 422.3,294.4 423.2,295.1 424.1,295.6 425.0,295.9 425.9,296.3 426.7,296.9 427.6,297.1 428.5,297.7 429.4,298.4 430.3,298.9 431.2,299.5 432.0,299.6 432.9,300.2 433.8,300.4 433.8,313.5 432.9,313.4 432.0,312.9 431.2,312.9 430.3,312.5 429.4,312.0 428.5,311.4 427.6,310.9 426.7,310.9 425.9,310.4 425.0,310.0 424.1,309.9 423.2,309.5 422.3,308.9 421.5,308.1 420.6,307.7 419.7,307.4 418.8,307.1 417.9,306.8 417.0,306.5 416.2,306.7 415.3,306.6 414.4,307.1 413.5,307.5 412.6,308.1 411.8,308.4 410.9,309.2 410.0,309.7 409.1,310.2 408.2,310.8 407.3,311.1 406.5,311.8 405.6,312.2 404.7,312.4 403.8,312.5 402.9,312.8 402.0,313.4 401.2,313.7 400.3,314.3 399.4,314.4 398.5,314.8 397.6,314.7 396.8,315.2 395.9,315.8 395.0,316.1 394.1,316.5 393.2,316.7 392.3,316.7 391.5,317.0 390.6,317.1 389.7,317.2 388.8,317.7 387.9,317.7 387.1,318.3 386.2,318.4 385.3,318.7 384.4,318.9 383.5,319.0 382.6,319.3 381.8,319.6 380.9,319.7 380.0,320.2 379.1,320.2 378.2,320.5 377.4,321.0 376.5,321.1 375.6,321.5 374.7,321.6 373.8,321.8 372.9,322.0 372.1,322.2 371.2,322.3 370.3,322.4 369.4,322.7 368.5,322.7 367.6,323.1 366.8,323.4 365.9,323.5 365.0,323.8 364.1,324.3 363.2,324.6 362.4,324.7 361.5,324.8 360.6,325.1 359.7,325.3 358.8,325.6 357.9,326.1 357.1,326.5 356.2,326.8 355.3,326.9 354.4,327.4 353.5,327.8 352.7,328.2 351.8,328.3 350.9,328.8 350.0,329.1 349.1,329.4 348.2,329.5 347.4,330.2 346.5,330.4 345.6,330.5 344.7,330.8 343.8,331.1 343.0,331.1 342.1,331.4 341.2,331.8 340.3,332.2 339.4,332.3 338.5,332.5 337.7,332.6 336.8,333.0 335.9,333.1 335.0,333.2 334.1,333.3 333.3,333.7 332.4,333.8 331.5,334.0 330.6,334.3 329.7,334.6 328.8,334.6 328.0,334.8 327.1,335.0 326.2,335.6 325.3,335.5 324.4,335.8 323.5,335.9 322.7,336.3 321.8,336.2 320.9,336.5 320.0,336.9 319.1,337.4 318.3,337.6 317.4,337.6 316.5,337.9 315.6,338.4 314.7,339.0 313.8,339.4 313.0,339.5 312.1,340.1 311.2,340.5 310.3,340.6 309.4,340.9 308.6,341.0 307.7,340.7 306.8,340.5 305.9,340.2 305.0,339.9 304.1,339.6 303.3,339.4 302.4,339.0 301.5,338.8 300.6,338.8 299.7,338.8 298.9,338.6 298.0,338.6 297.1,338.3 296.2,338.1 295.3,337.9 294.4,337.9 293.6,337.5 292.7,337.4 291.8,337.3 290.9,337.1 290.0,337.3 289.2,337.4 288.3,337.6 287.4,337.4 286.5,337.3 285.6,337.3 284.7,337.1 283.9,337.0 283.0,337.0 282.1,337.0 281.2,336.9 280.3,337.0 279.4,336.7 278.6,336.7 277.7,336.8 276.8,336.8 275.9,336.9 275.0,337.0 274.2,337.2 273.3,337.5 272.4,337.4 271.5,337.4 270.6,337.1 269.7,337.2 268.9,337.4 268.0,337.5 267.1,337.5 266.2,337.4 265.3,337.6 264.5,337.4 263.6,337.7 262.7,337.7 261.8,337.5 260.9,337.4 260.0,337.2 259.2,337.3 258.3,337.4 257.4,337.6" fill="#9cc4f0" fill-opacity="0.35"/>
<polygon points="257.4,333.8 258.3,333.6 259.2,333.5 260.0,333.2 260.9,333.5 261.8,333.6 262.7,333.4 263.6,333.3 264.5,333.4 265.3,333.3 266.2,333.3 267.1,333.1 268.0,333.4 268.9,333.5 269.7,333.1 270.6,333.2 271.5,333.3 272.4,333.0 273.3,333.0 274.2,333.2 275.0,333.1 275.9,332.9 276.8,333.1 277.7,333.0 278.6,333.2 279.4,333.1 280.3,333.3 281.2,333.3 282.1,332.8 283.0,332.9 283.9,332.6 284.7,332.8 285.6,332.7 286.5,332.6 287.4,332.6 288.3,333.0 289.2,332.9 290.0,332.9 290.9,333.2 291.8,333.4 292.7,333.2 293.6,333.3 294.4,333.5 295.3,333.6 296.2,333.8 297.1,333.6 298.0,333.7 298.9,334.1 299.7,333.9 300.6,334.3 301.5,334.4 302.4,334.7 303.3,334.6 304.1,335.0 305.0,335.1 305.9,335.5 306.8,335.6 307.7,335.6 308.6,335.6 309.4,335.7 310.3,335.6 311.2,335.4 312.1,335.1 313.0,335.0 313.8,334.5 314.7,334.1 315.6,333.3 316.5,332.6 317.4,332.5 318.3,332.2 319.1,331.6 320.0,331.2 320.9,331.1 321.8,330.5 322.7,329.9 323.5,329.7 324.4,329.4 325.3,329.0 326.2,328.5 327.1,328.4 328.0,328.1 328.8,327.9 329.7,327.4 330.6,327.1 331.5,326.8 332.4,326.5 333.3,326.3 334.1,325.9 335.0,325.1 335.9,324.8 336.8,324.6 337.7,323.9 338.5,323.7 339.4,323.5 340.3,323.4 341.2,323.1 342.1,322.8 343.0,322.4 343.8,321.7 344.7,321.5 345.6,321.3 346.5,320.8 347.4,320.2 348.2,320.1 349.1,319.7 350.0,319.5 350.9,319.2 351.8,318.8 352.7,318.3 353.5,318.0 354.4,317.9 355.3,317.5 356.2,317.4 357.1,317.2 357.9,316.7 358.8,316.5 359.7,316.1 360.6,316.0 361.5,315.5 362.4,315.2 363.2,315.1 364.1,314.6 365.0,314.4 365.9,314.2 366.8,314.0 367.6,313.8 368.5,313.6 369.4,313.0 370.3,312.9 371.2,312.6 372.1,312.3 372.9,311.9 373.8,311.7 374.7,311.2 375.6,311.2 376.5,311.0 377.4,310.9 378.2,310.9 379.1,310.8 380.0,310.7 380.9,310.3 381.8,310.3 382.6,310.0 383.5,310.0 384.4,309.8 385.3,309.6 386.2,309.6 387.1,309.2 387.9,309.1 388.8,309.0 389.7,309.2 390.6,309.1 391.5,309.0 392.3,308.8 393.2,308.3 394.1,308.0 395.0,308.3 395.9,308.0 396.8,307.6 397.6,307.6 398.5,307.7 399.4,307.3 400.3,307.3 401.2,306.8 402.0,306.6 402.9,306.3 403.8,306.0 404.7,306.3 405.6,305.8 406.5,305.7 407.3,305.5 408.2,305.0 409.1,304.5 410.0,304.3 410.9,303.7 411.8,302.7 412.6,302.0 413.5,301.5 414.4,301.5 415.3,301.5 416.2,302.4 417.0,303.2 417.9,304.2 418.8,305.5 419.7,306.1 420.6,307.1 421.5,307.5 422.3,307.9 423.2,308.5 424.1,309.1 425.0,309.9 425.9,310.6 426.7,311.2 427.6,311.5 428.5,312.4 429.4,313.1 430.3,313.3 431.2,313.7 432.0,314.2 432.9,314.6 433.8,315.3 433.8,328.4 432.9,327.8 432.0,327.4 431.2,327.0 430.3,326.6 429.4,326.5 428.5,325.8 427.6,325.0 426.7,324.7 425.9,324.1 425.0,323.4 424.1,322.7 423.2,322.1 422.3,321.7 421.5,321.2 420.6,320.9 419.7,320.0 418.8,319.4 417.9,318.1 417.0,317.2 416.2,316.5 415.3,315.6 414.4,315.6 413.5,315.7 412.6,316.1 411.8,316.7 410.9,317.5 410.0,318.0 409.1,318.1 408.2,318.5 407.3,318.9 406.5,318.9 405.6,319.0 404.7,319.3 403.8,318.9 402.9,319.1 402.0,319.2 401.2,319.3 400.3,319.6 399.4,319.6 398.5,319.9 397.6,319.6 396.8,319.5 395.9,319.8 395.0,319.9 394.1,319.6 393.2,319.7 392.3,320.0 391.5,320.1 390.6,320.1 389.7,320.1 388.8,319.9 387.9,319.9 387.1,319.9 386.2,320.2 385.3,320.1 384.4,320.3 383.5,320.5 382.6,320.4 381.8,320.6 380.9,320.5 380.0,320.9 379.1,320.9 378.2,320.9 377.4,320.9 376.5,321.0 375.6,321.1 374.7,321.0 373.8,321.4 372.9,321.6 372.1,321.9 371.2,322.2 370.3,322.4 369.4,322.4 368.5,322.9 367.6,323.1 366.8,323.2 365.9,323.3 365.0,323.4 364.1,323.6 363.2,324.1 362.4,324.1 361.5,324.3 360.6,324.8 359.7,324.8 358.8,325.1 357.9,325.2 357.1,325.7 356.2,325.8 355.3,325.8 354.4,326.2 353.5,326.3 352.7,326.5 351.8,326.9 350.9,327.2 350.0,327.5 349.1,327.6 348.2,328.0 347.4,328.0 346.5,328.5 345.6,328.9 344.7,329.1 343.8,329.3 343.0,330.0 342.1,330.3 341.2,330.6 340.3,330.8 339.4,330.9 338.5,331.0 337.7,331.2 336.8,331.8 335.9,331.9 335.0,332.3 334.1,333.0 333.3,333.3 332.4,333.5 331.5,333.8 330.6,334.0 329.7,334.3 328.8,334.7 328.0,334.9 327.1,335.1 326.2,335.1 325.3,335.7 324.4,336.0 323.5,336.2 322.7,336.4 321.8,337.0 320.9,337.5 320.0,337.5 319.1,337.9 318.3,338.5 317.4,338.7 316.5,338.8 315.6,339.5 314.7,340.2 313.8,340.5 313.0,341.0 312.1,341.1 311.2,341.4 310.3,341.5 309.4,341.5 308.6,341.4 307.7,341.3 306.8,341.3 305.9,341.2 305.0,340.7 304.1,340.6 303.3,340.1 302.4,340.2 301.5,339.9 300.6,339.7 299.7,339.3 298.9,339.4 298.0,339.0 297.1,338.9 296.2,339.0 295.3,338.7 294.4,338.6 293.6,338.3 292.7,338.2 291.8,338.4 290.9,338.1 290.0,337.8 289.2,337.8 288.3,337.8 287.4,337.4 286.5,337.3 285.6,337.4 284.7,337.4 283.9,337.2 283.0,337.4 282.1,337.3 281.2,337.7 280.3,337.7 279.4,337.5 278.6,337.5 277.7,337.2 276.8,337.4 275.9,337.1 275.0,337.2 274.2,337.3 273.3,337.0 272.4,337.0 271.5,337.3 270.6,337.1 269.7,337.0 268.9,337.3 268.0,337.2 267.1,336.9 266.2,337.0 265.3,336.9 264.5,337.1 263.6,336.9 262.7,336.9 261.8,337.1 260.9,336.9 260.0,336.7 259.2,336.9 258.3,336.9 257.4,337.1" fill="#9999dd" fill-opacity="0.35"/>
<polygon points="257.4,333.9 258.3,334.2 259.2,333.9 260.0,334.1 260.9,333.7 261.8,333.9 262.7,333.6 263.6,333.4 264.5,333.2 265.3,333.0 266.2,333.3 267.1,333.3 268.0,333.2 268.9,333.3 269.7,333.3 270.6,333.3 271.5,333.0 272.4,332.7 273.3,332.6 274.2,332.8 275.0,332.5 275.9,332.5 276.8,332.7 277.7,332.7 278.6,332.7 279.4,332.8 280.3,332.6 281.2,332.6 282.1,332.5 283.0,332.2 283.9,332.2 284.7,332.3 285.6,332.2 286.5,332.0 287.4,332.2 288.3,332.0 289.2,332.5 290.0,332.8 290.9,332.9 291.8,332.6 292.7,332.6 293.6,332.7 294.4,333.0 295.3,333.2 296.2,333.2 297.1,333.7 298.0,334.2 298.9,334.5 299.7,334.6 300.6,334.5 301.5,334.7 302.4,334.9 303.3,335.1 304.1,335.4 305.0,335.3 305.9,335.5 306.8,335.8 307.7,335.9 308.6,335.6 309.4,335.6 310.3,335.2 311.2,335.1 312.1,334.8 313.0,334.8 313.8,334.1 314.7,333.6 315.6,333.3 316.5,333.3 317.4,332.9 318.3,332.7 319.1,332.1 320.0,331.6 320.9,331.3 321.8,331.3 322.7,331.3 323.5,330.6 324.4,330.1 325.3,330.1 326.2,329.8 327.1,329.5 328.0,328.9 328.8,328.9 329.7,328.8 330.6,328.1 331.5,327.7 332.4,327.3 333.3,326.8 334.1,326.4 335.0,325.9 335.9,325.7 336.8,325.5 337.7,325.2 338.5,324.7 339.4,324.0 340.3,323.6 341.2,323.2 342.1,322.6 343.0,322.1 343.8,321.7 344.7,321.5 345.6,320.9 346.5,320.5 347.4,320.0 348.2,319.7 349.1,319.8 350.0,319.4 350.9,319.3 351.8,319.1 352.7,318.8 353.5,318.7 354.4,318.5 355.3,317.9 356.2,317.8 357.1,317.3 357.9,317.0 358.8,316.9 359.7,316.8 360.6,316.4 361.5,316.0 362.4,315.9 363.2,315.8 364.1,315.6 365.0,315.0 365.9,314.6 366.8,314.5 367.6,314.0 368.5,313.7 369.4,313.6 370.3,313.1 371.2,313.1 372.1,313.0 372.9,312.8 373.8,312.3 374.7,312.0 375.6,311.8 376.5,311.4 377.4,311.4 378.2,311.1 379.1,311.2 380.0,310.9 380.9,310.9 381.8,310.6 382.6,310.3 383.5,310.1 384.4,310.0 385.3,310.0 386.2,309.8 387.1,309.8 387.9,309.9 388.8,309.7 389.7,309.6 390.6,309.8 391.5,309.6 392.3,309.5 393.2,309.7 394.1,309.5 395.0,309.3 395.9,309.5 396.8,309.3 397.6,309.1 398.5,309.2 399.4,309.4 400.3,309.6 401.2,309.8 402.0,309.8 402.9,309.3 403.8,309.5 404.7,309.1 405.6,308.8 406.5,308.4 407.3,308.4 408.2,307.9 409.1,307.7 410.0,307.1 410.9,306.6 411.8,306.3 412.6,306.2 413.5,306.0 414.4,306.4 415.3,306.8 416.2,306.8 417.0,307.5 417.9,307.8 418.8,308.2 419.7,308.3 420.6,308.8 421.5,309.1 422.3,309.4 423.2,309.6 424.1,309.9 425.0,310.1 425.9,310.3 426.7,310.6 427.6,310.8 428.5,310.8 429.4,310.8 430.3,311.4 431.2,311.4 432.0,312.0 432.9,312.3 433.8,312.2 433.8,320.9 432.9,321.0 432.0,320.8 431.2,320.2 430.3,320.3 429.4,319.8 428.5,319.8 427.6,319.9 426.7,319.7 425.9,319.5 425.0,319.3 424.1,319.1 423.2,318.9 422.3,318.7 421.5,318.5 420.6,318.2 419.7,317.8 418.8,317.7 417.9,317.4 417.0,317.1 416.2,316.5 415.3,316.6 414.4,316.2 413.5,315.8 412.6,316.0 411.8,316.1 410.9,316.3 410.0,316.8 409.1,317.3 408.2,317.5 407.3,318.0 406.5,317.9 405.6,318.3 404.7,318.5 403.8,318.9 402.9,318.7 402.0,319.1 401.2,319.0 400.3,318.8 399.4,318.6 398.5,318.4 397.6,318.2 396.8,318.4 395.9,318.5 395.0,318.3 394.1,318.4 393.2,318.6 392.3,318.4 391.5,318.4 390.6,318.5 389.7,318.3 388.8,318.4 387.9,318.6 387.1,318.5 386.2,318.4 385.3,318.6 384.4,318.6 383.5,318.7 382.6,318.8 381.8,319.2 380.9,319.4 380.0,319.3 379.1,319.7 378.2,319.5 377.4,319.8 376.5,319.8 375.6,320.2 374.7,320.4 373.8,320.6 372.9,321.1 372.1,321.3 371.2,321.4 370.3,321.3 369.4,321.8 368.5,321.9 367.6,322.2 366.8,322.7 365.9,322.7 365.0,323.1 364.1,323.7 363.2,323.9 362.4,323.9 361.5,324.1 360.6,324.4 359.7,324.8 358.8,324.9 357.9,324.9 357.1,325.2 356.2,325.7 355.3,325.8 354.4,326.4 353.5,326.5 352.7,326.6 351.8,326.9 350.9,327.1 350.0,327.2 349.1,327.6 348.2,327.4 347.4,327.7 346.5,328.1 345.6,328.5 344.7,329.1 343.8,329.2 343.0,329.6 342.1,330.1 341.2,330.6 340.3,331.0 339.4,331.4 338.5,332.0 337.7,332.5 336.8,332.7 335.9,332.8 335.0,333.0 334.1,333.4 333.3,333.8 332.4,334.3 331.5,334.6 330.6,335.0 329.7,335.6 328.8,335.7 328.0,335.6 327.1,336.2 326.2,336.5 325.3,336.8 324.4,336.7 323.5,337.2 322.7,337.8 321.8,337.7 320.9,337.7 320.0,338.0 319.1,338.5 318.3,339.0 317.4,339.2 316.5,339.5 315.6,339.5 314.7,339.7 313.8,340.1 313.0,340.8 312.1,340.8 311.2,341.0 310.3,341.1 309.4,341.5 308.6,341.4 307.7,341.6 306.8,341.5 305.9,341.2 305.0,340.9 304.1,341.0 303.3,340.6 302.4,340.4 301.5,340.1 300.6,339.9 299.7,340.0 298.9,339.9 298.0,339.4 297.1,339.0 296.2,338.4 295.3,338.4 294.4,338.1 293.6,337.7 292.7,337.6 291.8,337.6 290.9,337.8 290.0,337.6 289.2,337.4 288.3,336.9 287.4,336.9 286.5,336.7 285.6,336.8 284.7,337.0 283.9,336.8 283.0,336.8 282.1,337.0 281.2,337.1 280.3,337.1 279.4,337.2 278.6,337.0 277.7,336.9 276.8,336.9 275.9,336.7 275.0,336.6 274.2,336.9 273.3,336.6 272.4,336.7 271.5,336.9 270.6,337.3 269.7,337.2 268.9,337.1 268.0,337.0 267.1,337.1 266.2,337.0 265.3,336.7 264.5,336.9 263.6,337.0 262.7,337.1 261.8,337.4 260.9,337.1 260.0,337.5 259.2,337.3 258.3,337.5 257.4,337.2" fill="#b8b8b8" fill-opacity="0.35"/>
<polygon points="257.4,329.3 258.3,328.7 259.2,328.0 260.0,327.3 260.9,326.8 261.8,326.5 262.7,326.5 263.6,326.5 264.5,326.7 265.3,326.8 266.2,327.0 267.1,327.3 268.0,327.4 268.9,327.6 269.7,327.7 270.6,327.8 271.5,328.2 272.4,328.3 273.3,328.5 274.2,328.8 275.0,329.2 275.9,329.5 276.8,329.7 277.7,330.0 278.6,330.3 279.4,330.5 280.3,330.8 281.2,331.0 282.1,331.2 283.0,331.5 283.9,331.7 284.7,331.8 285.6,332.2 286.5,332.6 287.4,332.6 288.3,332.8 289.2,333.0 290.0,333.2 290.9,333.5 291.8,333.8 292.7,334.1 293.6,334.2 294.4,334.6 295.3,334.7 296.2,334.8 297.1,335.2 298.0,335.4 298.9,335.6 299.7,335.8 300.6,336.2 301.5,336.4 302.4,336.7 303.3,337.0 304.1,337.3 305.0,337.7 305.9,338.1 306.8,338.4 307.7,338.7 308.6,339.0 309.4,339.2 310.3,339.5 311.2,339.8 312.1,340.1 313.0,340.4 313.8,340.5 314.7,340.8 315.6,341.0 316.5,341.2 317.4,341.5 318.3,341.8 319.1,342.0 320.0,342.2 320.9,342.4 321.8,342.3 322.7,342.3 323.5,342.5 324.4,342.6 325.3,342.6 326.2,342.6 327.1,342.9 328.0,343.0 328.8,343.2 329.7,343.4 330.6,343.6 331.5,343.6 332.4,343.7 333.3,343.9 334.1,344.2 335.0,344.3 335.9,344.6 336.8,344.7 337.7,344.7 338.5,344.9 339.4,345.2 340.3,345.4 341.2,345.6 342.1,345.7 343.0,345.7 343.8,345.8 344.7,346.1 345.6,346.3 346.5,346.4 347.4,346.6 348.2,346.7 349.1,346.8 350.0,346.7 350.9,346.9 351.8,346.9 352.7,346.9 353.5,347.1 354.4,347.2 355.3,347.4 356.2,347.4 357.1,347.4 357.9,347.4 358.8,347.6 359.7,347.8 360.6,348.0 361.5,348.1 362.4,348.2 363.2,348.3 364.1,348.4 365.0,348.3 365.9,348.5 366.8,348.6 367.6,348.6 368.5,348.7 369.4,348.8 370.3,348.9 371.2,349.0 372.1,349.2 372.9,349.2 373.8,349.3 374.7,349.3 375.6,349.5 376.5,349.6 377.4,349.6 378.2,349.7 379.1,349.9 380.0,350.1 380.9,350.2 381.8,350.2 382.6,350.3 383.5,350.4 384.4,350.6 385.3,350.6 386.2,350.6 387.1,350.7 387.9,350.9 388.8,351.0 389.7,351.1 390.6,351.3 391.5,351.3 392.3,351.6 393.2,351.6 394.1,351.8 395.0,351.8 395.9,351.9 396.8,352.2 397.6,352.3 398.5,352.4 399.4,352.4 400.3,352.6 401.2,352.7 402.0,352.8 402.9,352.9 403.8,353.1 404.7,353.2 405.6,353.2 406.5,353.2 407.3,353.3 408.2,353.3 409.1,353.3 410.0,353.2 410.9,353.2 411.8,353.2 412.6,353.4 413.5,353.6 414.4,353.6 415.3,353.6 416.2,353.6 417.0,353.8 417.9,353.9 418.8,354.2 419.7,354.5 420.6,354.6 421.5,354.7 422.3,355.0 423.2,355.0 424.1,355.3 425.0,355.5 425.9,355.7 426.7,355.9 427.6,356.1 428.5,356.3 429.4,356.5 430.3,356.7 431.2,356.7 432.0,356.7 432.9,356.8 433.8,357.1 433.8,359.2 432.9,359.0 432.0,358.9 431.2,358.9 430.3,358.9 429.4,358.7 428.5,358.5 427.6,358.3 426.7,358.1 425.9,357.9 425.0,357.7 424.1,357.5 423.2,357.2 422.3,357.2 421.5,356.9 420.6,356.8 419.7,356.7 418.8,356.4 417.9,356.0 417.0,355.9 416.2,355.8 415.3,355.8 414.4,355.7 413.5,355.8 412.6,355.6 411.8,355.4 410.9,355.4 410.0,355.4 409.1,355.5 408.2,355.4 407.3,355.5 406.5,355.4 405.6,355.4 404.7,355.4 403.8,355.3 402.9,355.1 402.0,355.0 401.2,354.9 400.3,354.8 399.4,354.6 398.5,354.6 397.6,354.5 396.8,354.4 395.9,354.1 395.0,354.0 394.1,354.0 393.2,353.8 392.3,353.7 391.5,353.5 390.6,353.5 389.7,353.3 388.8,353.2 387.9,353.1 387.1,352.9 386.2,352.8 385.3,352.8 384.4,352.7 383.5,352.6 382.6,352.5 381.8,352.4 380.9,352.4 380.0,352.2 379.1,352.1 378.2,351.9 377.4,351.8 376.5,351.8 375.6,351.7 374.7,351.5 373.8,351.5 372.9,351.4 372.1,351.4 371.2,351.2 370.3,351.1 369.4,351.0 368.5,350.9 367.6,350.8 366.8,350.7 365.9,350.7 365.0,350.5 364.1,350.6 363.2,350.5 362.4,350.4 361.5,350.3 360.6,350.2 359.7,349.9 358.8,349.8 357.9,349.6 357.1,349.6 356.2,349.6 355.3,349.6 354.4,349.4 353.5,349.2 352.7,349.1 351.8,349.1 350.9,349.1 350.0,348.9 349.1,349.0 348.2,348.9 347.4,348.8 346.5,348.6 345.6,348.5 344.7,348.3 343.8,348.0 343.0,347.9 342.1,347.8 341.2,347.8 340.3,347.6 339.4,347.4 338.5,347.1 337.7,346.9 336.8,346.8 335.9,346.7 335.0,346.5 334.1,346.3 333.3,346.1 332.4,345.8 331.5,345.8 330.6,345.8 329.7,345.5 328.8,345.4 328.0,345.2 327.1,345.1 326.2,344.8 325.3,344.7 324.4,344.7 323.5,344.7 322.7,344.5 321.8,344.5 320.9,344.5 320.0,344.4 319.1,344.2 318.3,344.0 317.4,343.7 316.5,343.4 315.6,343.2 314.7,342.9 313.8,342.7 313.0,342.6 312.1,342.3 311.2,342.0 310.3,341.7 309.4,341.4 308.6,341.1 307.7,340.8 306.8,340.6 305.9,340.3 305.0,339.9 304.1,339.5 303.3,339.2 302.4,338.9 301.5,338.6 300.6,338.3 299.7,338.0 298.9,337.8 298.0,337.6 297.1,337.4 296.2,337.0 295.3,336.9 294.4,336.7 293.6,336.4 292.7,336.2 291.8,336.0 290.9,335.7 290.0,335.4 289.2,335.2 288.3,335.0 287.4,334.8 286.5,334.7 285.6,334.4 284.7,334.0 283.9,333.9 283.0,333.7 282.1,333.4 281.2,333.1 280.3,333.0 279.4,332.7 278.6,332.5 277.7,332.2 276.8,331.8 275.9,331.6 275.0,331.4 274.2,331.0 273.3,330.7 272.4,330.5 271.5,330.4 270.6,330.0 269.7,329.9 268.9,329.8 268.0,329.5 267.1,329.4 266.2,329.2 265.3,329.0 264.5,328.9 263.6,328.6 262.7,328.7 261.8,328.7 260.9,329.0 260.0,329.5 259.2,330.2 258.3,330.8 257.4,331.5" fill="#ffaaaa" fill-opacity="0.35"/>
<polyline points="257.4,340.2 258.3,339.9 259.2,339.2 260.0,339.2 260.9,339.0 261.8,338.8 262.7,338.9 263.6,338.6 264.5,338.2 265.3,337.8 266.2,338.2 267.1,338.2 268.0,338.4 268.9,337.7 269.7,337.4 270.6,337.9 271.5,337.1 272.4,336.6 273.3,336.7 274.2,336.7 275.0,337.2 275.9,337.6 276.8,337.3 277.7,337.6 278.6,337.6 279.4,337.5 280.3,337.7 281.2,337.3 282.1,337.1 283.0,336.5 283.9,336.4 284.7,336.3 285.6,336.3 286.5,336.1 287.4,336.2 288.3,336.4 289.2,335.8 290.0,335.4 290.9,335.3 291.8,335.4 292.7,335.9 293.6,336.3 294.4,336.4 295.3,336.8 296.2,336.2 297.1,336.2 298.0,335.8 298.9,335.9 299.7,335.4 300.6,335.2 301.5,335.9 302.4,336.1 303.3,335.4 304.1,335.5 305.0,335.0 305.9,335.2 306.8,335.7 307.7,335.4 308.6,335.0 309.4,335.2 310.3,335.5 311.2,335.4 312.1,334.5 313.0,334.2 313.8,334.5 314.7,334.5 315.6,334.5 316.5,334.4 317.4,333.3 318.3,333.1 319.1,332.3 320.0,331.6 320.9,331.1 321.8,329.8 322.7,329.2 323.5,327.7 324.4,326.8 325.3,325.2 326.2,323.8 327.1,322.1 328.0,319.6 328.8,317.6 329.7,316.2 330.6,314.0 331.5,312.9 332.4,311.4 333.3,309.5 334.1,308.0 335.0,307.2 335.9,305.2 336.8,304.3 337.7,303.2 338.5,301.5 339.4,300.4 340.3,299.2 341.2,298.2 342.1,297.2 343.0,295.5 343.8,294.4 344.7,292.8 345.6,291.3 346.5,289.5 347.4,287.0 348.2,285.1 349.1,283.0 350.0,280.7 350.9,279.5 351.8,278.4 352.7,276.7 353.5,275.6 354.4,275.4 355.3,275.3 356.2,274.5 357.1,273.7 357.9,274.0 358.8,273.2 359.7,272.7 360.6,272.7 361.5,272.8 362.4,273.1 363.2,273.3 364.1,272.4 365.0,272.5 365.9,272.1 366.8,272.2 367.6,271.5 368.5,271.3 369.4,271.4 370.3,271.5 371.2,270.8 372.1,271.0 372.9,270.8 373.8,270.2 374.7,269.4 375.6,269.0 376.5,269.1 377.4,268.3 378.2,268.6 379.1,268.9 380.0,268.8 380.9,268.6 381.8,268.8 382.6,268.9 383.5,268.8 384.4,268.5 385.3,268.9 386.2,268.9 387.1,268.5 387.9,268.1 388.8,268.3 389.7,268.5 390.6,268.8 391.5,269.5 392.3,270.1 393.2,270.5 394.1,269.8 395.0,269.6 395.9,269.2 396.8,270.0 397.6,269.8 398.5,269.8 399.4,269.4 400.3,269.4 401.2,268.3 402.0,268.4 402.9,267.6 403.8,266.4 404.7,265.0 405.6,263.6 406.5,262.0 407.3,260.1 408.2,258.1 409.1,257.0 410.0,255.5 410.9,254.2 411.8,253.1 412.6,252.7 413.5,251.7 414.4,250.9 415.3,250.5 416.2,250.1 417.0,250.1 417.9,249.9 418.8,249.9 419.7,250.6 420.6,250.6 421.5,250.4 422.3,250.7 423.2,251.2 424.1,252.1 425.0,252.4 425.9,252.9 426.7,253.6 427.6,253.8 428.5,254.9 429.4,255.1 430.3,256.1 431.2,256.4 432.0,256.9 432.9,257.6 433.8,257.8" fill="none" stroke="#e8207f" stroke-width="1.50" stroke-linejoin="round" />
<polyline points="257.4,334.2 258.3,333.7 259.2,333.2 260.0,333.1 260.9,333.0 261.8,332.6 262.7,332.4 263.6,332.0 264.5,331.9 265.3,332.0 266.2,332.2 267.1,332.3 268.0,332.8 268.9,333.1 269.7,333.5 270.6,333.3 271.5,333.8 272.4,333.6 273.3,334.0 274.2,333.8 275.0,334.0 275.9,334.1 276.8,333.9 277.7,334.3 278.6,334.5 279.4,334.1 280.3,334.2 281.2,334.5 282.1,334.1 283.0,333.9 283.9,334.4 284.7,334.5 285.6,334.8 286.5,335.0 287.4,334.9 288.3,335.2 289.2,335.1 290.0,335.6 290.9,335.8 291.8,335.7 292.7,335.9 293.6,336.1 294.4,336.2 295.3,336.4 296.2,336.7 297.1,337.1 298.0,337.0 298.9,336.8 299.7,336.8 300.6,337.0 301.5,337.3 302.4,337.5 303.3,337.4 304.1,337.4 305.0,337.8 305.9,337.9 306.8,337.9 307.7,337.8 308.6,337.5 309.4,337.5 310.3,337.7 311.2,337.3 312.1,337.2 313.0,337.0 313.8,336.9 314.7,336.6 315.6,336.2 316.5,335.6 317.4,335.4 318.3,334.8 319.1,334.5 320.0,333.7 320.9,333.6 321.8,333.1 322.7,332.6 323.5,332.0 324.4,332.0 325.3,331.6 326.2,331.4 327.1,331.2 328.0,330.9 328.8,330.3 329.7,330.1 330.6,329.7 331.5,329.8 332.4,329.4 333.3,329.4 334.1,329.5 335.0,329.1 335.9,328.7 336.8,329.0 337.7,328.9 338.5,328.5 339.4,328.5 340.3,328.5 341.2,328.6 342.1,328.6 343.0,328.2 343.8,327.7 344.7,327.3 345.6,327.4 346.5,327.7 347.4,327.6 348.2,327.3 349.1,327.0 350.0,326.9 350.9,327.1 351.8,327.0 352.7,327.0 353.5,326.8 354.4,327.0 355.3,326.6 356.2,326.4 357.1,326.7 357.9,326.8 358.8,326.5 359.7,326.6 360.6,326.3 361.5,326.3 362.4,326.2 363.2,326.1 364.1,326.4 365.0,326.5 365.9,326.5 366.8,326.2 367.6,326.0 368.5,326.2 369.4,325.8 370.3,325.8 371.2,326.0 372.1,325.9 372.9,325.5 373.8,325.5 374.7,325.4 375.6,325.1 376.5,324.9 377.4,324.9 378.2,325.1 379.1,325.0 380.0,324.7 380.9,324.6 381.8,324.6 382.6,324.7 383.5,324.6 384.4,324.3 385.3,324.1 386.2,324.2 387.1,323.7 387.9,323.0 388.8,322.2 389.7,321.1 390.6,319.8 391.5,318.6 392.3,316.9 393.2,315.3 394.1,313.7 395.0,311.7 395.9,309.8 396.8,307.5 397.6,305.6 398.5,304.0 399.4,302.5 400.3,301.5 401.2,300.2 402.0,299.0 402.9,298.1 403.8,297.3 404.7,296.4 405.6,295.6 406.5,294.6 407.3,294.1 408.2,293.6 409.1,293.0 410.0,292.3 410.9,291.9 411.8,291.6 412.6,291.3 413.5,291.5 414.4,292.0 415.3,292.0 416.2,292.0 417.0,292.3 417.9,292.3 418.8,292.5 419.7,292.8 420.6,293.1 421.5,293.0 422.3,293.7 423.2,294.0 424.1,294.3 425.0,294.7 425.9,294.9 426.7,295.3 427.6,295.2 428.5,295.6 429.4,295.8 430.3,296.4 431.2,296.7 432.0,296.9 432.9,297.0 433.8,297.6" fill="none" stroke="#22dd22" stroke-width="1.50" stroke-linejoin="round" />
<polyline points="257.4,335.9 258.3,335.7 259.2,335.6 260.0,335.4 260.9,335.7 261.8,335.8 262.7,335.8 263.6,335.8 264.5,335.6 265.3,335.7 266.2,335.5 267.1,335.6 268.0,335.6 268.9,335.5 269.7,335.2 270.6,335.1 271.5,335.3 272.4,335.3 273.3,335.4 274.2,335.0 275.0,334.8 275.9,334.7 276.8,334.6 277.7,334.6 278.6,334.4 279.4,334.4 280.3,334.7 281.2,334.5 282.1,334.6 283.0,334.5 283.9,334.6 284.7,334.7 285.6,334.7 286.5,334.8 287.4,334.8 288.3,335.0 289.2,334.7 290.0,334.6 290.9,334.5 291.8,334.6 292.7,334.7 293.6,334.7 294.4,335.1 295.3,335.1 296.2,335.2 297.1,335.5 298.0,335.7 298.9,335.6 299.7,335.8 300.6,335.8 301.5,335.8 302.4,336.0 303.3,336.4 304.1,336.5 305.0,336.8 305.9,337.1 306.8,337.4 307.7,337.5 308.6,337.8 309.4,337.6 310.3,337.3 311.2,337.2 312.1,336.8 313.0,336.1 313.8,336.0 314.7,335.6 315.6,334.9 316.5,334.4 317.4,334.1 318.3,334.1 319.1,333.8 320.0,333.3 320.9,332.9 321.8,332.6 322.7,332.6 323.5,332.2 324.4,332.1 325.3,331.8 326.2,331.8 327.1,331.3 328.0,331.0 328.8,330.7 329.7,330.7 330.6,330.4 331.5,330.1 332.4,329.8 333.3,329.7 334.1,329.3 335.0,329.2 335.9,329.0 336.8,328.9 337.7,328.4 338.5,328.4 339.4,328.2 340.3,328.0 341.2,327.5 342.1,327.2 343.0,326.8 343.8,326.8 344.7,326.5 345.6,326.2 346.5,326.0 347.4,325.8 348.2,325.1 349.1,324.9 350.0,324.6 350.9,324.3 351.8,323.8 352.7,323.6 353.5,323.2 354.4,322.9 355.3,322.3 356.2,322.2 357.1,321.9 357.9,321.5 358.8,320.9 359.7,320.6 360.6,320.4 361.5,320.0 362.4,319.9 363.2,319.8 364.1,319.5 365.0,318.9 365.9,318.6 366.8,318.5 367.6,318.2 368.5,317.8 369.4,317.7 370.3,317.5 371.2,317.3 372.1,317.2 372.9,317.0 373.8,316.8 374.7,316.5 375.6,316.4 376.5,316.0 377.4,315.9 378.2,315.3 379.1,315.0 380.0,315.0 380.9,314.5 381.8,314.4 382.6,314.1 383.5,313.7 384.4,313.5 385.3,313.3 386.2,313.0 387.1,312.9 387.9,312.3 388.8,312.3 389.7,311.7 390.6,311.6 391.5,311.4 392.3,311.1 393.2,310.9 394.1,310.7 395.0,310.3 395.9,309.8 396.8,309.2 397.6,308.6 398.5,308.6 399.4,308.1 400.3,307.9 401.2,307.3 402.0,306.9 402.9,306.3 403.8,305.9 404.7,305.7 405.6,305.4 406.5,304.9 407.3,304.2 408.2,303.8 409.1,303.2 410.0,302.6 410.9,302.0 411.8,301.1 412.6,300.7 413.5,300.0 414.4,299.6 415.3,299.1 416.2,299.0 417.0,298.9 417.9,299.3 418.8,299.6 419.7,300.0 420.6,300.3 421.5,300.7 422.3,301.6 423.2,302.3 424.1,302.7 425.0,302.9 425.9,303.4 426.7,303.9 427.6,304.0 428.5,304.6 429.4,305.2 430.3,305.7 431.2,306.2 432.0,306.3 432.9,306.8 433.8,306.9" fill="none" stroke="#4a9be8" stroke-width="1.50" stroke-linejoin="round" />
<polyline points="257.4,335.5 258.3,335.3 259.2,335.2 260.0,335.0 260.9,335.2 261.8,335.3 262.7,335.2 263.6,335.1 264.5,335.2 265.3,335.1 266.2,335.2 267.1,335.0 268.0,335.3 268.9,335.4 269.7,335.1 270.6,335.2 271.5,335.3 272.4,335.0 273.3,335.0 274.2,335.2 275.0,335.1 275.9,335.0 276.8,335.2 277.7,335.1 278.6,335.3 279.4,335.3 280.3,335.5 281.2,335.5 282.1,335.1 283.0,335.2 283.9,334.9 284.7,335.1 285.6,335.1 286.5,335.0 287.4,335.0 288.3,335.4 289.2,335.4 290.0,335.4 290.9,335.7 291.8,335.9 292.7,335.7 293.6,335.8 294.4,336.1 295.3,336.2 296.2,336.4 297.1,336.2 298.0,336.4 298.9,336.7 299.7,336.6 300.6,337.0 301.5,337.1 302.4,337.5 303.3,337.4 304.1,337.8 305.0,337.9 305.9,338.3 306.8,338.4 307.7,338.4 308.6,338.5 309.4,338.6 310.3,338.5 311.2,338.4 312.1,338.1 313.0,338.0 313.8,337.5 314.7,337.2 315.6,336.4 316.5,335.7 317.4,335.6 318.3,335.3 319.1,334.7 320.0,334.3 320.9,334.3 321.8,333.7 322.7,333.1 323.5,332.9 324.4,332.7 325.3,332.4 326.2,331.8 327.1,331.7 328.0,331.5 328.8,331.3 329.7,330.8 330.6,330.5 331.5,330.3 332.4,330.0 333.3,329.8 334.1,329.4 335.0,328.7 335.9,328.3 336.8,328.2 337.7,327.6 338.5,327.4 339.4,327.2 340.3,327.1 341.2,326.8 342.1,326.5 343.0,326.2 343.8,325.5 344.7,325.3 345.6,325.1 346.5,324.7 347.4,324.1 348.2,324.0 349.1,323.6 350.0,323.5 350.9,323.2 351.8,322.9 352.7,322.4 353.5,322.1 354.4,322.0 355.3,321.6 356.2,321.6 357.1,321.5 357.9,320.9 358.8,320.8 359.7,320.4 360.6,320.4 361.5,319.9 362.4,319.7 363.2,319.6 364.1,319.1 365.0,318.9 365.9,318.8 366.8,318.6 367.6,318.5 368.5,318.2 369.4,317.7 370.3,317.6 371.2,317.4 372.1,317.1 372.9,316.7 373.8,316.5 374.7,316.1 375.6,316.1 376.5,316.0 377.4,315.9 378.2,315.9 379.1,315.8 380.0,315.8 380.9,315.4 381.8,315.5 382.6,315.2 383.5,315.3 384.4,315.0 385.3,314.9 386.2,314.9 387.1,314.6 387.9,314.5 388.8,314.4 389.7,314.7 390.6,314.6 391.5,314.6 392.3,314.4 393.2,314.0 394.1,313.8 395.0,314.1 395.9,313.9 396.8,313.6 397.6,313.6 398.5,313.8 399.4,313.5 400.3,313.5 401.2,313.1 402.0,312.9 402.9,312.7 403.8,312.5 404.7,312.8 405.6,312.4 406.5,312.3 407.3,312.2 408.2,311.8 409.1,311.3 410.0,311.1 410.9,310.6 411.8,309.7 412.6,309.1 413.5,308.6 414.4,308.6 415.3,308.6 416.2,309.5 417.0,310.2 417.9,311.2 418.8,312.5 419.7,313.1 420.6,314.0 421.5,314.3 422.3,314.8 423.2,315.3 424.1,315.9 425.0,316.7 425.9,317.3 426.7,318.0 427.6,318.3 428.5,319.1 429.4,319.8 430.3,320.0 431.2,320.3 432.0,320.8 432.9,321.2 433.8,321.9" fill="none" stroke="#1a2fe8" stroke-width="1.50" stroke-linejoin="round" />
<polyline points="257.4,335.5 258.3,335.9 259.2,335.6 260.0,335.8 260.9,335.4 261.8,335.7 262.7,335.3 263.6,335.2 264.5,335.0 265.3,334.8 266.2,335.1 267.1,335.2 268.0,335.1 268.9,335.2 269.7,335.2 270.6,335.3 271.5,334.9 272.4,334.7 273.3,334.6 274.2,334.8 275.0,334.6 275.9,334.6 276.8,334.8 277.7,334.8 278.6,334.8 279.4,335.0 280.3,334.8 281.2,334.9 282.1,334.8 283.0,334.5 283.9,334.5 284.7,334.7 285.6,334.5 286.5,334.3 287.4,334.6 288.3,334.4 289.2,334.9 290.0,335.2 290.9,335.4 291.8,335.1 292.7,335.1 293.6,335.2 294.4,335.6 295.3,335.8 296.2,335.8 297.1,336.4 298.0,336.8 298.9,337.2 299.7,337.3 300.6,337.2 301.5,337.4 302.4,337.7 303.3,337.8 304.1,338.2 305.0,338.1 305.9,338.4 306.8,338.6 307.7,338.7 308.6,338.5 309.4,338.5 310.3,338.1 311.2,338.1 312.1,337.8 313.0,337.8 313.8,337.1 314.7,336.6 315.6,336.4 316.5,336.4 317.4,336.1 318.3,335.8 319.1,335.3 320.0,334.8 320.9,334.5 321.8,334.5 322.7,334.5 323.5,333.9 324.4,333.4 325.3,333.4 326.2,333.1 327.1,332.9 328.0,332.3 328.8,332.3 329.7,332.2 330.6,331.5 331.5,331.2 332.4,330.8 333.3,330.3 334.1,329.9 335.0,329.5 335.9,329.3 336.8,329.1 337.7,328.8 338.5,328.3 339.4,327.7 340.3,327.3 341.2,326.9 342.1,326.4 343.0,325.9 343.8,325.5 344.7,325.3 345.6,324.7 346.5,324.3 347.4,323.9 348.2,323.5 349.1,323.7 350.0,323.3 350.9,323.2 351.8,323.0 352.7,322.7 353.5,322.6 354.4,322.4 355.3,321.8 356.2,321.7 357.1,321.2 357.9,321.0 358.8,320.9 359.7,320.8 360.6,320.4 361.5,320.0 362.4,319.9 363.2,319.9 364.1,319.7 365.0,319.0 365.9,318.6 366.8,318.6 367.6,318.1 368.5,317.8 369.4,317.7 370.3,317.2 371.2,317.2 372.1,317.2 372.9,316.9 373.8,316.4 374.7,316.2 375.6,316.0 376.5,315.6 377.4,315.6 378.2,315.3 379.1,315.5 380.0,315.1 380.9,315.2 381.8,314.9 382.6,314.6 383.5,314.4 384.4,314.3 385.3,314.3 386.2,314.1 387.1,314.1 387.9,314.2 388.8,314.1 389.7,314.0 390.6,314.1 391.5,314.0 392.3,314.0 393.2,314.1 394.1,314.0 395.0,313.8 395.9,314.0 396.8,313.8 397.6,313.7 398.5,313.8 399.4,314.0 400.3,314.2 401.2,314.4 402.0,314.4 402.9,314.0 403.8,314.2 404.7,313.8 405.6,313.5 406.5,313.2 407.3,313.2 408.2,312.7 409.1,312.5 410.0,312.0 410.9,311.5 411.8,311.2 412.6,311.1 413.5,310.9 414.4,311.3 415.3,311.7 416.2,311.7 417.0,312.3 417.9,312.6 418.8,312.9 419.7,313.0 420.6,313.5 421.5,313.8 422.3,314.0 423.2,314.3 424.1,314.5 425.0,314.7 425.9,314.9 426.7,315.1 427.6,315.4 428.5,315.3 429.4,315.3 430.3,315.8 431.2,315.8 432.0,316.4 432.9,316.6 433.8,316.6" fill="none" stroke="#111111" stroke-width="1.50" stroke-linejoin="round" />
<polyline points="257.4,330.4 258.3,329.8 259.2,329.1 260.0,328.4 260.9,327.9 261.8,327.6 262.7,327.6 263.6,327.6 264.5,327.8 265.3,327.9 266.2,328.1 267.1,328.3 268.0,328.4 268.9,328.7 269.7,328.8 270.6,328.9 271.5,329.3 272.4,329.4 273.3,329.6 274.2,329.9 275.0,330.3 275.9,330.5 276.8,330.7 277.7,331.1 278.6,331.4 279.4,331.6 280.3,331.9 281.2,332.0 282.1,332.3 283.0,332.6 283.9,332.8 284.7,332.9 285.6,333.3 286.5,333.6 287.4,333.7 288.3,333.9 289.2,334.1 290.0,334.3 290.9,334.6 291.8,334.9 292.7,335.2 293.6,335.3 294.4,335.6 295.3,335.8 296.2,335.9 297.1,336.3 298.0,336.5 298.9,336.7 299.7,336.9 300.6,337.2 301.5,337.5 302.4,337.8 303.3,338.1 304.1,338.4 305.0,338.8 305.9,339.2 306.8,339.5 307.7,339.8 308.6,340.1 309.4,340.3 310.3,340.6 311.2,340.9 312.1,341.2 313.0,341.5 313.8,341.6 314.7,341.8 315.6,342.1 316.5,342.3 317.4,342.6 318.3,342.9 319.1,343.1 320.0,343.3 320.9,343.4 321.8,343.4 322.7,343.4 323.5,343.6 324.4,343.7 325.3,343.6 326.2,343.7 327.1,344.0 328.0,344.1 328.8,344.3 329.7,344.5 330.6,344.7 331.5,344.7 332.4,344.7 333.3,345.0 334.1,345.3 335.0,345.4 335.9,345.6 336.8,345.8 337.7,345.8 338.5,346.0 339.4,346.3 340.3,346.5 341.2,346.7 342.1,346.7 343.0,346.8 343.8,346.9 344.7,347.2 345.6,347.4 346.5,347.5 347.4,347.7 348.2,347.8 349.1,347.9 350.0,347.8 350.9,348.0 351.8,348.0 352.7,348.0 353.5,348.1 354.4,348.3 355.3,348.5 356.2,348.5 357.1,348.5 357.9,348.5 358.8,348.7 359.7,348.8 360.6,349.1 361.5,349.2 362.4,349.3 363.2,349.4 364.1,349.5 365.0,349.4 365.9,349.6 366.8,349.6 367.6,349.7 368.5,349.8 369.4,349.9 370.3,350.0 371.2,350.1 372.1,350.3 372.9,350.3 373.8,350.4 374.7,350.4 375.6,350.6 376.5,350.7 377.4,350.7 378.2,350.8 379.1,351.0 380.0,351.1 380.9,351.3 381.8,351.3 382.6,351.4 383.5,351.5 384.4,351.6 385.3,351.7 386.2,351.7 387.1,351.8 387.9,352.0 388.8,352.1 389.7,352.2 390.6,352.4 391.5,352.4 392.3,352.7 393.2,352.7 394.1,352.9 395.0,352.9 395.9,353.0 396.8,353.3 397.6,353.4 398.5,353.5 399.4,353.5 400.3,353.7 401.2,353.8 402.0,353.9 402.9,354.0 403.8,354.2 404.7,354.3 405.6,354.3 406.5,354.3 407.3,354.4 408.2,354.4 409.1,354.4 410.0,354.3 410.9,354.3 411.8,354.3 412.6,354.5 413.5,354.7 414.4,354.6 415.3,354.7 416.2,354.7 417.0,354.8 417.9,355.0 418.8,355.3 419.7,355.6 420.6,355.7 421.5,355.8 422.3,356.1 423.2,356.1 424.1,356.4 425.0,356.6 425.9,356.8 426.7,357.0 427.6,357.2 428.5,357.4 429.4,357.6 430.3,357.8 431.2,357.8 432.0,357.8 432.9,357.9 433.8,358.1" fill="none" stroke="#ff1a1a" stroke-width="1.50" stroke-linejoin="round" />
<line x1="257.20" y1="226.70" x2="257.20" y2="358.60" stroke="#000" stroke-width="1.85" />
<line x1="257.20" y1="335.80" x2="433.80" y2="335.80" stroke="#000" stroke-width="1.40" />
<line x1="252.20" y1="335.80" x2="257.20" y2="335.80" stroke="#000" stroke-width="1.40" />
<text x="248.70" y="338.90" font-size="8.80" text-anchor="end" stroke="#000" stroke-width="0.12">0</text>
<line x1="252.20" y1="308.51" x2="257.20" y2="308.51" stroke="#000" stroke-width="1.40" />
<text x="248.70" y="311.62" font-size="8.80" text-anchor="end" stroke="#000" stroke-width="0.12">50</text>
<line x1="252.20" y1="281.23" x2="257.20" y2="281.23" stroke="#000" stroke-width="1.40" />
<text x="248.70" y="284.33" font-size="8.80" text-anchor="end" stroke="#000" stroke-width="0.12">100</text>
<line x1="252.20" y1="253.95" x2="257.20" y2="253.95" stroke="#000" stroke-width="1.40" />
<text x="248.70" y="257.05" font-size="8.80" text-anchor="end" stroke="#000" stroke-width="0.12">150</text>
<line x1="252.20" y1="226.66" x2="257.20" y2="226.66" stroke="#000" stroke-width="1.40" />
<text x="248.70" y="229.76" font-size="8.80" text-anchor="end" stroke="#000" stroke-width="0.12">200</text>
<line x1="301.50" y1="335.80" x2="301.50" y2="340.80" stroke="#000" stroke-width="1.30" />
<text x="299.70" y="352.10" font-size="8.80" text-anchor="middle" stroke="#000" stroke-width="0.12">150</text>
<line x1="345.60" y1="335.80" x2="345.60" y2="340.80" stroke="#000" stroke-width="1.30" />
<text x="343.80" y="352.10" font-size="8.80" text-anchor="middle" stroke="#000" stroke-width="0.12">300</text>
<line x1="389.70" y1="335.80" x2="389.70" y2="340.80" stroke="#000" stroke-width="1.30" />
<text x="387.90" y="352.10" font-size="8.80" text-anchor="middle" stroke="#000" stroke-width="0.12">450</text>
<line x1="433.80" y1="335.80" x2="433.80" y2="340.80" stroke="#000" stroke-width="1.30" />
<text x="432.00" y="352.10" font-size="8.80" text-anchor="middle" stroke="#000" stroke-width="0.12">600</text>
<text x="362.20" y="363.00" font-size="9.20" text-anchor="middle" stroke="#000" stroke-width="0.12">Time (s)</text>
<text x="232.80" y="292.50" font-size="9.30" text-anchor="middle" transform="rotate(-90.00 232.80 292.50)" stroke="#000" stroke-width="0.12">GCaMP (ΔF/F<tspan font-size="5.8" dy="1.5">o</tspan><tspan dy="-1.5">, %)</tspan></text>
<line x1="270.80" y1="235.80" x2="279.20" y2="235.80" stroke="#111" stroke-width="1.80" />
<text x="281.50" y="238.50" font-size="8.10" stroke="#000" stroke-width="0.12">WT</text>
<line x1="270.80" y1="244.80" x2="279.20" y2="244.80" stroke="#ff1a1a" stroke-width="1.80" />
<text x="281.50" y="247.50" font-size="8.10" font-style="italic" stroke="#000" stroke-width="0.12">cng-1,-3,tax-4</text>
<line x1="270.80" y1="255.00" x2="279.20" y2="255.00" stroke="#1a2fe8" stroke-width="1.80" />
<text x="281.50" y="257.70" font-size="8.10" font-style="italic" stroke="#000" stroke-width="0.12">cng-1,-3,tax-4;</text>
<text x="281.50" y="267.50" font-size="8.10" font-style="italic" stroke="#000" stroke-width="0.12">Pvap-1::tax-4</text>
<line x1="270.80" y1="274.40" x2="279.20" y2="274.40" stroke="#4a9be8" stroke-width="1.80" />
<text x="281.50" y="277.10" font-size="8.10" font-style="italic" stroke="#000" stroke-width="0.12">cng-1,-3,tax-4;</text>
<text x="281.50" y="286.70" font-size="8.10" font-style="italic" stroke="#000" stroke-width="0.12">PR11D1.3::tax-4</text>
<line x1="270.80" y1="293.20" x2="279.20" y2="293.20" stroke="#e8207f" stroke-width="1.80" />
<text x="281.50" y="295.90" font-size="8.10" font-style="italic" stroke="#000" stroke-width="0.12">pde-1,-2,-3,-5</text>
<line x1="270.80" y1="303.30" x2="279.20" y2="303.30" stroke="#22dd22" stroke-width="1.80" />
<text x="281.50" y="306.00" font-size="8.10" font-style="italic" stroke="#000" stroke-width="0.12">pde-4,-6</text>
<text x="453.50" y="209.90" font-size="19.20" stroke="#000" stroke-width="0.12">e</text>
<line x1="496.90" y1="223.50" x2="496.90" y2="329.20" stroke="#000" stroke-width="1.85" />
<line x1="496.90" y1="329.20" x2="685.00" y2="329.20" stroke="#000" stroke-width="1.85" />
<line x1="492.40" y1="329.20" x2="496.90" y2="329.20" stroke="#000" stroke-width="1.40" />
<text x="489.90" y="332.30" font-size="8.80" text-anchor="end" stroke="#000" stroke-width="0.12">0</text>
<line x1="492.40" y1="302.90" x2="496.90" y2="302.90" stroke="#000" stroke-width="1.40" />
<text x="489.90" y="306.00" font-size="8.80" text-anchor="end" stroke="#000" stroke-width="0.12">100</text>
<line x1="492.40" y1="276.60" x2="496.90" y2="276.60" stroke="#000" stroke-width="1.40" />
<text x="489.90" y="279.70" font-size="8.80" text-anchor="end" stroke="#000" stroke-width="0.12">200</text>
<line x1="492.40" y1="250.30" x2="496.90" y2="250.30" stroke="#000" stroke-width="1.40" />
<text x="489.90" y="253.40" font-size="8.80" text-anchor="end" stroke="#000" stroke-width="0.12">300</text>
<line x1="492.40" y1="224.00" x2="496.90" y2="224.00" stroke="#000" stroke-width="1.40" />
<text x="489.90" y="227.10" font-size="8.80" text-anchor="end" stroke="#000" stroke-width="0.12">400</text>
<text x="473.20" y="282.80" font-size="10.20" text-anchor="middle" transform="rotate(-90.00 473.20 282.80)" stroke="#000" stroke-width="0.12">Maximum GCaMP (ΔF/F<tspan font-size="5.8" dy="1.5">o</tspan><tspan dy="-1.5">, %)</tspan></text>
<rect x="506.20" y="312.50" width="16.60" height="16.70" fill="#d8d8d8" stroke="#111" stroke-width="1.90" />
<rect x="556.50" y="313.42" width="16.80" height="15.78" fill="#c8c8f5" stroke="#1a1aee" stroke-width="1.90" />
<rect x="582.40" y="311.05" width="16.50" height="18.15" fill="#d0e2f8" stroke="#4a9be8" stroke-width="1.90" />
<rect x="625.80" y="284.23" width="16.80" height="44.97" fill="#fbc4df" stroke="#e8207f" stroke-width="1.90" />
<rect x="651.40" y="313.95" width="16.60" height="15.25" fill="#d4f6d4" stroke="#22dd22" stroke-width="1.90" />
<circle cx="510.60" cy="310.00" r="1.45" fill="#fff" stroke="#9a9a9a" stroke-width="0.75"/>
<circle cx="511.40" cy="312.00" r="1.45" fill="#fff" stroke="#9a9a9a" stroke-width="0.75"/>
<circle cx="513.64" cy="314.00" r="1.45" fill="#fff" stroke="#9a9a9a" stroke-width="0.75"/>
<circle cx="515.97" cy="316.00" r="1.45" fill="#fff" stroke="#9a9a9a" stroke-width="0.75"/>
<circle cx="511.61" cy="318.00" r="1.45" fill="#fff" stroke="#9a9a9a" stroke-width="0.75"/>
<circle cx="511.40" cy="320.00" r="1.45" fill="#fff" stroke="#9a9a9a" stroke-width="0.75"/>
<circle cx="512.35" cy="322.00" r="1.45" fill="#fff" stroke="#9a9a9a" stroke-width="0.75"/>
<circle cx="516.56" cy="324.00" r="1.45" fill="#fff" stroke="#9a9a9a" stroke-width="0.75"/>
<circle cx="511.68" cy="325.00" r="1.45" fill="#fff" stroke="#9a9a9a" stroke-width="0.75"/>
<circle cx="516.43" cy="326.00" r="1.45" fill="#fff" stroke="#9a9a9a" stroke-width="0.75"/>
<circle cx="515.80" cy="301.00" r="1.45" fill="#fff" stroke="#9a9a9a" stroke-width="0.75"/>
<circle cx="511.59" cy="305.00" r="1.45" fill="#fff" stroke="#9a9a9a" stroke-width="0.75"/>
<circle cx="514.79" cy="296.00" r="1.45" fill="#fff" stroke="#9a9a9a" stroke-width="0.75"/>
<circle cx="514.08" cy="291.00" r="1.45" fill="#fff" stroke="#9a9a9a" stroke-width="0.75"/>
<circle cx="513.80" cy="289.00" r="1.45" fill="#fff" stroke="#9a9a9a" stroke-width="0.75"/>
<circle cx="518.47" cy="286.00" r="1.45" fill="#fff" stroke="#9a9a9a" stroke-width="0.75"/>
<circle cx="511.24" cy="306.00" r="1.45" fill="#fff" stroke="#9a9a9a" stroke-width="0.75"/>
<circle cx="510.66" cy="303.00" r="1.45" fill="#fff" stroke="#9a9a9a" stroke-width="0.75"/>
<circle cx="511.96" cy="293.50" r="1.45" fill="#fff" stroke="#9a9a9a" stroke-width="0.75"/>
<circle cx="512.78" cy="293.00" r="1.45" fill="#fff" stroke="#9a9a9a" stroke-width="0.75"/>
<circle cx="513.32" cy="287.50" r="1.45" fill="#fff" stroke="#9a9a9a" stroke-width="0.75"/>
<circle cx="537.77" cy="327.50" r="1.45" fill="#fff" stroke="#9a9a9a" stroke-width="0.75"/>
<circle cx="538.45" cy="328.00" r="1.45" fill="#fff" stroke="#9a9a9a" stroke-width="0.75"/>
<circle cx="540.49" cy="328.50" r="1.45" fill="#fff" stroke="#9a9a9a" stroke-width="0.75"/>
<circle cx="534.55" cy="328.50" r="1.45" fill="#fff" stroke="#9a9a9a" stroke-width="0.75"/>
<circle cx="538.67" cy="328.50" r="1.45" fill="#fff" stroke="#9a9a9a" stroke-width="0.75"/>
<circle cx="541.30" cy="328.50" r="1.45" fill="#fff" stroke="#9a9a9a" stroke-width="0.75"/>
<circle cx="541.50" cy="328.50" r="1.45" fill="#fff" stroke="#9a9a9a" stroke-width="0.75"/>
<circle cx="533.55" cy="328.50" r="1.45" fill="#fff" stroke="#9a9a9a" stroke-width="0.75"/>
<circle cx="538.67" cy="328.50" r="1.45" fill="#fff" stroke="#9a9a9a" stroke-width="0.75"/>
<circle cx="538.29" cy="328.50" r="1.45" fill="#fff" stroke="#9a9a9a" stroke-width="0.75"/>
<circle cx="565.26" cy="305.00" r="1.45" fill="#fff" stroke="#9a9a9a" stroke-width="0.75"/>
<circle cx="565.77" cy="306.00" r="1.45" fill="#fff" stroke="#9a9a9a" stroke-width="0.75"/>
<circle cx="568.09" cy="307.00" r="1.45" fill="#fff" stroke="#9a9a9a" stroke-width="0.75"/>
<circle cx="568.59" cy="309.00" r="1.45" fill="#fff" stroke="#9a9a9a" stroke-width="0.75"/>
<circle cx="568.44" cy="310.00" r="1.45" fill="#fff" stroke="#9a9a9a" stroke-width="0.75"/>
<circle cx="563.78" cy="312.00" r="1.45" fill="#fff" stroke="#9a9a9a" stroke-width="0.75"/>
<circle cx="569.04" cy="313.00" r="1.45" fill="#fff" stroke="#9a9a9a" stroke-width="0.75"/>
<circle cx="564.32" cy="314.00" r="1.45" fill="#fff" stroke="#9a9a9a" stroke-width="0.75"/>
<circle cx="563.26" cy="316.00" r="1.45" fill="#fff" stroke="#9a9a9a" stroke-width="0.75"/>
<circle cx="561.35" cy="318.00" r="1.45" fill="#fff" stroke="#9a9a9a" stroke-width="0.75"/>
<circle cx="565.11" cy="320.00" r="1.45" fill="#fff" stroke="#9a9a9a" stroke-width="0.75"/>
<circle cx="561.89" cy="322.00" r="1.45" fill="#fff" stroke="#9a9a9a" stroke-width="0.75"/>
<circle cx="591.04" cy="292.00" r="1.45" fill="#fff" stroke="#9a9a9a" stroke-width="0.75"/>
<circle cx="592.45" cy="297.00" r="1.45" fill="#fff" stroke="#9a9a9a" stroke-width="0.75"/>
<circle cx="592.43" cy="302.00" r="1.45" fill="#fff" stroke="#9a9a9a" stroke-width="0.75"/>
<circle cx="593.26" cy="306.00" r="1.45" fill="#fff" stroke="#9a9a9a" stroke-width="0.75"/>
<circle cx="589.20" cy="309.00" r="1.45" fill="#fff" stroke="#9a9a9a" stroke-width="0.75"/>
<circle cx="593.96" cy="312.00" r="1.45" fill="#fff" stroke="#9a9a9a" stroke-width="0.75"/>
<circle cx="591.17" cy="314.00" r="1.45" fill="#fff" stroke="#9a9a9a" stroke-width="0.75"/>
<circle cx="592.43" cy="317.00" r="1.45" fill="#fff" stroke="#9a9a9a" stroke-width="0.75"/>
<circle cx="592.48" cy="320.00" r="1.45" fill="#fff" stroke="#9a9a9a" stroke-width="0.75"/>
<circle cx="593.70" cy="322.00" r="1.45" fill="#fff" stroke="#9a9a9a" stroke-width="0.75"/>
<circle cx="589.12" cy="325.00" r="1.45" fill="#fff" stroke="#9a9a9a" stroke-width="0.75"/>
<circle cx="589.77" cy="327.00" r="1.45" fill="#fff" stroke="#9a9a9a" stroke-width="0.75"/>
<circle cx="633.68" cy="228.30" r="1.45" fill="#fff" stroke="#9a9a9a" stroke-width="0.75"/>
<circle cx="636.04" cy="249.50" r="1.45" fill="#fff" stroke="#9a9a9a" stroke-width="0.75"/>
<circle cx="635.95" cy="252.50" r="1.45" fill="#fff" stroke="#9a9a9a" stroke-width="0.75"/>
<circle cx="635.81" cy="260.50" r="1.45" fill="#fff" stroke="#9a9a9a" stroke-width="0.75"/>
<circle cx="635.34" cy="263.00" r="1.45" fill="#fff" stroke="#9a9a9a" stroke-width="0.75"/>
<circle cx="635.65" cy="273.00" r="1.45" fill="#fff" stroke="#9a9a9a" stroke-width="0.75"/>
<circle cx="632.50" cy="283.50" r="1.45" fill="#fff" stroke="#9a9a9a" stroke-width="0.75"/>
<circle cx="634.76" cy="289.00" r="1.45" fill="#fff" stroke="#9a9a9a" stroke-width="0.75"/>
<circle cx="633.39" cy="295.00" r="1.45" fill="#fff" stroke="#9a9a9a" stroke-width="0.75"/>
<circle cx="635.13" cy="300.00" r="1.45" fill="#fff" stroke="#9a9a9a" stroke-width="0.75"/>
<circle cx="634.06" cy="305.00" r="1.45" fill="#fff" stroke="#9a9a9a" stroke-width="0.75"/>
<circle cx="634.52" cy="311.00" r="1.45" fill="#fff" stroke="#9a9a9a" stroke-width="0.75"/>
<circle cx="634.45" cy="320.00" r="1.45" fill="#fff" stroke="#9a9a9a" stroke-width="0.75"/>
<circle cx="634.57" cy="324.00" r="1.45" fill="#fff" stroke="#9a9a9a" stroke-width="0.75"/>
<circle cx="660.79" cy="299.00" r="1.45" fill="#fff" stroke="#9a9a9a" stroke-width="0.75"/>
<circle cx="657.25" cy="302.00" r="1.45" fill="#fff" stroke="#9a9a9a" stroke-width="0.75"/>
<circle cx="660.41" cy="306.50" r="1.45" fill="#fff" stroke="#9a9a9a" stroke-width="0.75"/>
<circle cx="661.75" cy="309.00" r="1.45" fill="#fff" stroke="#9a9a9a" stroke-width="0.75"/>
<circle cx="661.71" cy="312.00" r="1.45" fill="#fff" stroke="#9a9a9a" stroke-width="0.75"/>
<circle cx="659.79" cy="314.00" r="1.45" fill="#fff" stroke="#9a9a9a" stroke-width="0.75"/>
<circle cx="660.49" cy="316.00" r="1.45" fill="#fff" stroke="#9a9a9a" stroke-width="0.75"/>
<circle cx="658.92" cy="318.00" r="1.45" fill="#fff" stroke="#9a9a9a" stroke-width="0.75"/>
<circle cx="659.87" cy="320.00" r="1.45" fill="#fff" stroke="#9a9a9a" stroke-width="0.75"/>
<circle cx="657.35" cy="322.00" r="1.45" fill="#fff" stroke="#9a9a9a" stroke-width="0.75"/>
<circle cx="660.80" cy="325.00" r="1.45" fill="#fff" stroke="#9a9a9a" stroke-width="0.75"/>
<circle cx="660.30" cy="327.00" r="1.45" fill="#fff" stroke="#9a9a9a" stroke-width="0.75"/>
<line x1="514.50" y1="309.40" x2="514.50" y2="316.00" stroke="#111" stroke-width="1.70" />
<line x1="511.30" y1="309.40" x2="517.70" y2="309.40" stroke="#111" stroke-width="1.70" />
<line x1="511.30" y1="316.00" x2="517.70" y2="316.00" stroke="#111" stroke-width="1.70" />
<text x="514.50" y="328.50" font-size="8.20" text-anchor="middle" fill="#8a1f9e" stroke="#8a1f9e" stroke-width="0.12">21</text>
<line x1="564.90" y1="309.00" x2="564.90" y2="316.50" stroke="#1a1aee" stroke-width="1.70" />
<line x1="561.70" y1="309.00" x2="568.10" y2="309.00" stroke="#1a1aee" stroke-width="1.70" />
<line x1="561.70" y1="316.50" x2="568.10" y2="316.50" stroke="#1a1aee" stroke-width="1.70" />
<text x="564.90" y="328.50" font-size="8.20" text-anchor="middle" fill="#8a1f9e" stroke="#8a1f9e" stroke-width="0.12">12</text>
<line x1="590.65" y1="308.60" x2="590.65" y2="315.00" stroke="#4a9be8" stroke-width="1.70" />
<line x1="587.45" y1="308.60" x2="593.85" y2="308.60" stroke="#4a9be8" stroke-width="1.70" />
<line x1="587.45" y1="315.00" x2="593.85" y2="315.00" stroke="#4a9be8" stroke-width="1.70" />
<text x="590.65" y="328.50" font-size="8.20" text-anchor="middle" fill="#8a1f9e" stroke="#8a1f9e" stroke-width="0.12">12</text>
<line x1="634.20" y1="276.50" x2="634.20" y2="292.00" stroke="#e8207f" stroke-width="1.70" />
<line x1="631.00" y1="276.50" x2="637.40" y2="276.50" stroke="#e8207f" stroke-width="1.70" />
<line x1="631.00" y1="292.00" x2="637.40" y2="292.00" stroke="#e8207f" stroke-width="1.70" />
<text x="634.20" y="328.50" font-size="8.20" text-anchor="middle" fill="#8a1f9e" stroke="#8a1f9e" stroke-width="0.12">14</text>
<line x1="659.70" y1="311.00" x2="659.70" y2="317.00" stroke="#22dd22" stroke-width="1.70" />
<line x1="656.50" y1="311.00" x2="662.90" y2="311.00" stroke="#22dd22" stroke-width="1.70" />
<line x1="656.50" y1="317.00" x2="662.90" y2="317.00" stroke="#22dd22" stroke-width="1.70" />
<text x="659.70" y="328.50" font-size="8.20" text-anchor="middle" fill="#8a1f9e" stroke="#8a1f9e" stroke-width="0.12">12</text>
<text x="537.00" y="327.90" font-size="8.20" text-anchor="middle" fill="#8a1f9e" stroke="#8a1f9e" stroke-width="0.12">19</text>
<line x1="513.60" y1="213.10" x2="659.60" y2="213.10" stroke="#000" stroke-width="1.20" />
<text x="563.80" y="210.20" font-size="8.80" stroke="#000" stroke-width="0.12">ns</text>
<text x="579.60" y="210.20" font-size="7.90" stroke="#000" stroke-width="0.12"><tspan font-style="italic">p</tspan>=0.7016</text>
<line x1="513.60" y1="225.40" x2="634.50" y2="225.40" stroke="#000" stroke-width="1.20" />
<path d="M545.50,217.60 L545.50,222.40 M543.42,218.80 L547.58,221.20 M547.58,218.80 L543.42,221.20" stroke="#000" stroke-width="1.10" fill="none"/>
<path d="M551.50,217.60 L551.50,222.40 M549.42,218.80 L553.58,221.20 M553.58,218.80 L549.42,221.20" stroke="#000" stroke-width="1.10" fill="none"/>
<path d="M557.50,217.60 L557.50,222.40 M555.42,218.80 L559.58,221.20 M559.58,218.80 L555.42,221.20" stroke="#000" stroke-width="1.10" fill="none"/>
<text x="565.00" y="222.80" font-size="7.90" stroke="#000" stroke-width="0.12"><tspan font-style="italic">p</tspan>&lt;0.001</text>
<line x1="541.90" y1="254.30" x2="589.50" y2="254.30" stroke="#000" stroke-width="1.20" />
<path d="M549.60,246.80 L549.60,251.60 M547.52,248.00 L551.68,250.40 M551.68,248.00 L547.52,250.40" stroke="#000" stroke-width="1.10" fill="none"/>
<path d="M555.60,246.80 L555.60,251.60 M553.52,248.00 L557.68,250.40 M557.68,248.00 L553.52,250.40" stroke="#000" stroke-width="1.10" fill="none"/>
<path d="M561.60,246.80 L561.60,251.60 M559.52,248.00 L563.68,250.40 M563.68,248.00 L559.52,250.40" stroke="#000" stroke-width="1.10" fill="none"/>
<text x="568.80" y="252.00" font-size="7.90" stroke="#000" stroke-width="0.12"><tspan font-style="italic">p</tspan>&lt;0.001</text>
<line x1="515.70" y1="270.10" x2="541.90" y2="270.10" stroke="#000" stroke-width="1.20" />
<path d="M522.20,261.40 L522.20,266.20 M520.12,262.60 L524.28,265.00 M524.28,262.60 L520.12,265.00" stroke="#000" stroke-width="1.10" fill="none"/>
<path d="M528.20,261.40 L528.20,266.20 M526.12,262.60 L530.28,265.00 M530.28,262.60 L526.12,265.00" stroke="#000" stroke-width="1.10" fill="none"/>
<path d="M534.20,261.40 L534.20,266.20 M532.12,262.60 L536.28,265.00 M536.28,262.60 L532.12,265.00" stroke="#000" stroke-width="1.10" fill="none"/>
<text x="541.10" y="266.60" font-size="7.90" stroke="#000" stroke-width="0.12"><tspan font-style="italic">p</tspan>&lt;0.001</text>
<line x1="542.50" y1="285.50" x2="567.30" y2="285.50" stroke="#000" stroke-width="1.20" />
<path d="M549.60,276.00 L549.60,280.80 M547.52,277.20 L551.68,279.60 M551.68,277.20 L547.52,279.60" stroke="#000" stroke-width="1.10" fill="none"/>
<path d="M555.60,276.00 L555.60,280.80 M553.52,277.20 L557.68,279.60 M557.68,277.20 L553.52,279.60" stroke="#000" stroke-width="1.10" fill="none"/>
<path d="M561.60,276.00 L561.60,280.80 M559.52,277.20 L563.68,279.60 M563.68,277.20 L559.52,279.60" stroke="#000" stroke-width="1.10" fill="none"/>
<text x="568.80" y="281.20" font-size="7.90" stroke="#000" stroke-width="0.12"><tspan font-style="italic">p</tspan>&lt;0.001</text>
<text x="517.90" y="339.20" font-size="8.30" text-anchor="end" transform="rotate(-46.00 517.90 339.20)" stroke="#000" stroke-width="0.12">WT</text>
<text x="539.00" y="339.70" font-size="8.30" text-anchor="end" font-style="italic" transform="rotate(-46.00 539.00 339.70)" stroke="#000" stroke-width="0.12">cng-1,-3,tax-4</text>
<text x="562.80" y="338.40" font-size="8.30" text-anchor="end" font-style="italic" transform="rotate(-46.00 562.80 338.40)" stroke="#000" stroke-width="0.12">cng-1,-3,tax-4;</text>
<text x="566.30" y="346.50" font-size="8.30" text-anchor="end" font-style="italic" transform="rotate(-46.00 566.30 346.50)" stroke="#000" stroke-width="0.12">Pvap-1::tax-4</text>
<text x="596.00" y="337.80" font-size="8.30" text-anchor="end" font-style="italic" transform="rotate(-46.00 596.00 337.80)" stroke="#000" stroke-width="0.12">cng-1,-3,tax-4;</text>
<text x="607.50" y="339.50" font-size="8.30" text-anchor="end" font-style="italic" transform="rotate(-46.00 607.50 339.50)" stroke="#000" stroke-width="0.12">PR11D1.3::tax-4</text>
<text x="639.50" y="339.20" font-size="8.30" text-anchor="end" font-style="italic" transform="rotate(-46.00 639.50 339.20)" stroke="#000" stroke-width="0.12">pde-1,-2,-3,-5</text>
<text x="663.60" y="339.20" font-size="8.30" text-anchor="end" font-style="italic" transform="rotate(-46.00 663.60 339.20)" stroke="#000" stroke-width="0.12">pde-4,-6</text>
<text x="1.80" y="400.70" font-size="19.20" stroke="#000" stroke-width="0.12">f</text>
<polyline points="23.4,395.5 57.8,395.5 61.3,388.0 154.0,388.0 159.4,395.5 184.6,395.5" fill="none" stroke="#000" stroke-width="1.35" stroke-linejoin="round" />
<text x="39.50" y="393.60" font-size="9.30" text-anchor="middle" stroke="#000" stroke-width="0.12">20°C</text>
<text x="106.50" y="397.20" font-size="9.30" text-anchor="middle" stroke="#000" stroke-width="0.12">28°C</text>
<text x="175.00" y="393.60" font-size="9.30" text-anchor="middle" stroke="#000" stroke-width="0.12">20°C</text>
<text x="22.20" y="405.60" font-size="8.90" stroke="#000" stroke-width="0.12">WT</text>
<rect x="24.40" y="407.90" width="159.90" height="2.41" fill="url(#h136)"/>
<rect x="24.40" y="409.31" width="159.90" height="2.41" fill="url(#h137)"/>
<rect x="24.40" y="410.73" width="159.90" height="2.41" fill="url(#h138)"/>
<rect x="24.40" y="412.14" width="159.90" height="2.41" fill="url(#h139)"/>
<rect x="24.40" y="413.56" width="159.90" height="2.41" fill="url(#h140)"/>
<rect x="24.40" y="414.97" width="159.90" height="2.41" fill="url(#h141)"/>
<rect x="24.40" y="416.39" width="159.90" height="2.41" fill="url(#h142)"/>
<rect x="24.40" y="417.80" width="159.90" height="2.41" fill="url(#h143)"/>
<rect x="24.40" y="419.21" width="159.90" height="2.41" fill="url(#h144)"/>
<rect x="24.40" y="420.63" width="159.90" height="2.41" fill="url(#h145)"/>
<rect x="24.40" y="422.04" width="159.90" height="2.41" fill="url(#h146)"/>
<rect x="24.40" y="423.46" width="159.90" height="2.41" fill="url(#h147)"/>
<rect x="24.40" y="424.87" width="159.90" height="2.41" fill="url(#h148)"/>
<rect x="24.40" y="426.29" width="159.90" height="1.41" fill="url(#h149)"/>
<rect x="24.40" y="407.90" width="159.90" height="19.80" fill="none" stroke="#000" stroke-width="1.30" />
<text x="22.50" y="413.20" font-size="6.80" text-anchor="end" fill="#8a1f9e" stroke="#8a1f9e" stroke-width="0.3">14</text>
<text x="22.50" y="428.30" font-size="6.80" text-anchor="end" fill="#8a1f9e" stroke="#8a1f9e" stroke-width="0.3">1</text>
<rect x="24.40" y="439.90" width="159.90" height="2.32" fill="url(#h150)"/>
<rect x="24.40" y="441.22" width="159.90" height="2.32" fill="url(#h151)"/>
<rect x="24.40" y="442.54" width="159.90" height="2.32" fill="url(#h152)"/>
<rect x="24.40" y="443.86" width="159.90" height="2.32" fill="url(#h153)"/>
<rect x="24.40" y="445.18" width="159.90" height="2.32" fill="url(#h154)"/>
<rect x="24.40" y="446.50" width="159.90" height="2.32" fill="url(#h155)"/>
<rect x="24.40" y="447.82" width="159.90" height="2.32" fill="url(#h156)"/>
<rect x="24.40" y="449.14" width="159.90" height="2.32" fill="url(#h157)"/>
<rect x="24.40" y="450.46" width="159.90" height="2.32" fill="url(#h158)"/>
<rect x="24.40" y="451.78" width="159.90" height="2.32" fill="url(#h159)"/>
<rect x="24.40" y="453.10" width="159.90" height="2.32" fill="url(#h160)"/>
<rect x="24.40" y="454.42" width="159.90" height="2.32" fill="url(#h161)"/>
<rect x="24.40" y="455.74" width="159.90" height="2.32" fill="url(#h162)"/>
<rect x="24.40" y="457.06" width="159.90" height="2.32" fill="url(#h163)"/>
<rect x="24.40" y="458.38" width="159.90" height="1.32" fill="url(#h164)"/>
<rect x="24.40" y="439.90" width="159.90" height="19.80" fill="none" stroke="#000" stroke-width="1.30" />
<text x="21.50" y="437.50" font-size="8.10" font-style="italic" stroke="#000" stroke-width="0.12">gcy-28(tm2411)</text>
<text x="22.50" y="445.20" font-size="6.80" text-anchor="end" fill="#8a1f9e" stroke="#8a1f9e" stroke-width="0.3">15</text>
<text x="22.50" y="460.30" font-size="6.80" text-anchor="end" fill="#8a1f9e" stroke="#8a1f9e" stroke-width="0.3">1</text>
<rect x="24.40" y="472.10" width="159.90" height="1.79" fill="url(#h165)"/>
<rect x="24.40" y="472.89" width="159.90" height="1.79" fill="url(#h166)"/>
<rect x="24.40" y="473.68" width="159.90" height="1.79" fill="url(#h167)"/>
<rect x="24.40" y="474.48" width="159.90" height="1.79" fill="url(#h168)"/>
<rect x="24.40" y="475.27" width="159.90" height="1.79" fill="url(#h169)"/>
<rect x="24.40" y="476.06" width="159.90" height="1.79" fill="url(#h170)"/>
<rect x="24.40" y="476.85" width="159.90" height="1.79" fill="url(#h171)"/>
<rect x="24.40" y="477.64" width="159.90" height="1.79" fill="url(#h172)"/>
<rect x="24.40" y="478.44" width="159.90" height="1.79" fill="url(#h173)"/>
<rect x="24.40" y="479.23" width="159.90" height="1.79" fill="url(#h174)"/>
<rect x="24.40" y="480.02" width="159.90" height="1.79" fill="url(#h175)"/>
<rect x="24.40" y="480.81" width="159.90" height="1.79" fill="url(#h176)"/>
<rect x="24.40" y="481.60" width="159.90" height="1.79" fill="url(#h177)"/>
<rect x="24.40" y="482.40" width="159.90" height="1.79" fill="url(#h178)"/>
<rect x="24.40" y="483.19" width="159.90" height="1.79" fill="url(#h179)"/>
<rect x="24.40" y="483.98" width="159.90" height="1.79" fill="url(#h180)"/>
<rect x="24.40" y="484.77" width="159.90" height="1.79" fill="url(#h181)"/>
<rect x="24.40" y="485.56" width="159.90" height="1.79" fill="url(#h182)"/>
<rect x="24.40" y="486.36" width="159.90" height="1.79" fill="url(#h183)"/>
<rect x="24.40" y="487.15" width="159.90" height="1.79" fill="url(#h184)"/>
<rect x="24.40" y="487.94" width="159.90" height="1.79" fill="url(#h185)"/>
<rect x="24.40" y="488.73" width="159.90" height="1.79" fill="url(#h186)"/>
<rect x="24.40" y="489.52" width="159.90" height="1.79" fill="url(#h187)"/>
<rect x="24.40" y="490.32" width="159.90" height="1.79" fill="url(#h188)"/>
<rect x="24.40" y="491.11" width="159.90" height="0.79" fill="url(#h189)"/>
<rect x="24.40" y="472.10" width="159.90" height="19.80" fill="none" stroke="#000" stroke-width="1.30" />
<text x="21.50" y="469.70" font-size="8.10" font-style="italic" stroke="#000" stroke-width="0.12">gcy-28(tm3028)</text>
<text x="22.50" y="477.40" font-size="6.80" text-anchor="end" fill="#8a1f9e" stroke="#8a1f9e" stroke-width="0.3">25</text>
<text x="22.50" y="492.50" font-size="6.80" text-anchor="end" fill="#8a1f9e" stroke="#8a1f9e" stroke-width="0.3">1</text>
<rect x="24.40" y="503.90" width="159.90" height="2.65" fill="url(#h190)"/>
<rect x="24.40" y="505.55" width="159.90" height="2.65" fill="url(#h191)"/>
<rect x="24.40" y="507.20" width="159.90" height="2.65" fill="url(#h192)"/>
<rect x="24.40" y="508.85" width="159.90" height="2.65" fill="url(#h193)"/>
<rect x="24.40" y="510.50" width="159.90" height="2.65" fill="url(#h194)"/>
<rect x="24.40" y="512.15" width="159.90" height="2.65" fill="url(#h195)"/>
<rect x="24.40" y="513.80" width="159.90" height="2.65" fill="url(#h196)"/>
<rect x="24.40" y="515.45" width="159.90" height="2.65" fill="url(#h197)"/>
<rect x="24.40" y="517.10" width="159.90" height="2.65" fill="url(#h198)"/>
<rect x="24.40" y="518.75" width="159.90" height="2.65" fill="url(#h199)"/>
<rect x="24.40" y="520.40" width="159.90" height="2.65" fill="url(#h200)"/>
<rect x="24.40" y="522.05" width="159.90" height="1.65" fill="url(#h201)"/>
<rect x="24.40" y="503.90" width="159.90" height="19.80" fill="none" stroke="#000" stroke-width="1.30" />
<text x="21.50" y="501.50" font-size="8.10" font-style="italic" stroke="#000" stroke-width="0.12">gcy-28(tm3028);Pvap-1::gcy-28</text>
<text x="22.50" y="509.20" font-size="6.80" text-anchor="end" fill="#8a1f9e" stroke="#8a1f9e" stroke-width="0.3">12</text>
<text x="22.50" y="524.30" font-size="6.80" text-anchor="end" fill="#8a1f9e" stroke="#8a1f9e" stroke-width="0.3">1</text>
<rect x="24.40" y="536.40" width="159.90" height="2.26" fill="url(#h202)"/>
<rect x="24.40" y="537.66" width="159.90" height="2.26" fill="url(#h203)"/>
<rect x="24.40" y="538.92" width="159.90" height="2.26" fill="url(#h204)"/>
<rect x="24.40" y="540.19" width="159.90" height="2.26" fill="url(#h205)"/>
<rect x="24.40" y="541.45" width="159.90" height="2.26" fill="url(#h206)"/>
<rect x="24.40" y="542.71" width="159.90" height="2.26" fill="url(#h207)"/>
<rect x="24.40" y="543.98" width="159.90" height="2.26" fill="url(#h208)"/>
<rect x="24.40" y="545.24" width="159.90" height="2.26" fill="url(#h209)"/>
<rect x="24.40" y="546.50" width="159.90" height="2.26" fill="url(#h210)"/>
<rect x="24.40" y="547.76" width="159.90" height="2.26" fill="url(#h211)"/>
<rect x="24.40" y="549.02" width="159.90" height="2.26" fill="url(#h212)"/>
<rect x="24.40" y="550.29" width="159.90" height="2.26" fill="url(#h213)"/>
<rect x="24.40" y="551.55" width="159.90" height="2.26" fill="url(#h214)"/>
<rect x="24.40" y="552.81" width="159.90" height="2.26" fill="url(#h215)"/>
<rect x="24.40" y="554.08" width="159.90" height="2.26" fill="url(#h216)"/>
<rect x="24.40" y="555.34" width="159.90" height="1.26" fill="url(#h217)"/>
<rect x="24.40" y="536.40" width="159.90" height="20.20" fill="none" stroke="#000" stroke-width="1.30" />
<text x="21.50" y="534.00" font-size="8.10" font-style="italic" stroke="#000" stroke-width="0.12">gcy-28(tm3028);PR11D1.3::gcy-28</text>
<text x="22.50" y="541.70" font-size="6.80" text-anchor="end" fill="#8a1f9e" stroke="#8a1f9e" stroke-width="0.3">16</text>
<text x="22.50" y="557.20" font-size="6.80" text-anchor="end" fill="#8a1f9e" stroke="#8a1f9e" stroke-width="0.3">1</text>
<text x="23.50" y="566.20" font-size="8.40" text-anchor="middle" stroke="#000" stroke-width="0.12">0</text>
<text x="156.00" y="567.50" font-size="8.80" text-anchor="middle" stroke="#000" stroke-width="0.12">Time (s)</text>
<text x="190.00" y="566.20" font-size="8.40" text-anchor="end" stroke="#000" stroke-width="0.12">600</text>
<rect x="199.60" y="446.70" width="7.30" height="58.00" fill="url(#cb218)" stroke="#222" stroke-width="0.70" />
<line x1="199.60" y1="457.30" x2="200.80" y2="457.30" stroke="#222" stroke-width="0.60" />
<line x1="205.70" y1="457.30" x2="206.90" y2="457.30" stroke="#222" stroke-width="0.60" />
<text x="198.00" y="459.70" font-size="6.60" text-anchor="end" stroke="#000" stroke-width="0.12">50</text>
<line x1="199.60" y1="483.70" x2="200.80" y2="483.70" stroke="#222" stroke-width="0.60" />
<line x1="205.70" y1="483.70" x2="206.90" y2="483.70" stroke="#222" stroke-width="0.60" />
<text x="198.00" y="486.10" font-size="6.60" text-anchor="end" stroke="#000" stroke-width="0.12">0</text>
<text x="216.50" y="471.50" font-size="8.10" text-anchor="middle" transform="rotate(-90.00 216.50 471.50)" stroke="#000" stroke-width="0.12">GCaMP5 (ΔF/F<tspan font-size="5.5" dy="1.5">o</tspan><tspan dy="-1.5">, %)</tspan></text>
<text x="229.40" y="400.00" font-size="19.20" stroke="#000" stroke-width="0.12">g</text>
<polyline points="259.2,411.0 292.3,411.0 295.5,404.0 387.7,404.0 392.0,411.0 436.0,411.0" fill="none" stroke="#000" stroke-width="1.35" stroke-linejoin="round" />
<text x="275.00" y="408.70" font-size="9.30" text-anchor="middle" stroke="#000" stroke-width="0.12">20 °C</text>
<text x="345.00" y="400.70" font-size="9.30" text-anchor="middle" stroke="#000" stroke-width="0.12">28 °C</text>
<text x="423.00" y="408.70" font-size="9.30" text-anchor="middle" stroke="#000" stroke-width="0.12">20 °C</text>
<polygon points="260.2,530.4 261.0,530.1 261.8,529.9 262.6,529.8 263.4,529.9 264.2,529.6 265.0,529.3 265.8,529.3 266.6,529.2 267.4,529.3 268.2,529.5 269.0,529.3 269.8,529.1 270.6,529.2 271.4,528.8 272.2,528.9 273.0,529.0 273.8,529.1 274.6,528.6 275.4,528.4 276.2,528.2 277.0,528.3 277.8,528.7 278.6,528.8 279.4,528.7 280.2,528.9 281.0,528.5 281.9,528.7 282.7,529.0 283.5,528.7 284.3,529.1 285.1,528.8 285.9,529.0 286.7,529.1 287.5,529.4 288.3,529.5 289.1,529.8 289.9,530.3 290.7,530.0 291.5,530.4 292.3,530.4 293.1,530.8 293.9,530.7 294.7,530.8 295.5,531.0 296.3,531.2 297.1,531.5 297.9,531.7 298.7,532.3 299.5,532.5 300.3,532.4 301.1,532.8 301.9,532.6 302.7,532.6 303.5,532.9 304.3,533.2 305.1,533.3 305.9,533.5 306.7,533.2 307.5,533.5 308.3,533.9 309.1,534.1 309.9,533.9 310.7,533.5 311.5,533.7 312.3,533.8 313.1,533.8 313.9,533.6 314.7,533.9 315.5,533.7 316.3,533.7 317.1,533.5 317.9,533.7 318.7,533.8 319.5,533.7 320.3,533.2 321.1,533.2 321.9,533.0 322.7,533.1 323.6,533.2 324.4,533.2 325.2,532.7 326.0,532.3 326.8,532.3 327.6,532.0 328.4,531.6 329.2,531.0 330.0,530.5 330.8,530.5 331.6,529.9 332.4,529.4 333.2,529.2 334.0,528.7 334.8,528.6 335.6,528.4 336.4,528.2 337.2,527.5 338.0,527.4 338.8,527.2 339.6,526.4 340.4,525.7 341.2,525.4 342.0,524.7 342.8,524.6 343.6,524.2 344.4,523.7 345.2,523.1 346.0,522.6 346.8,522.2 347.6,521.5 348.4,520.4 349.2,519.4 350.0,518.5 350.8,517.7 351.6,516.8 352.4,515.3 353.2,514.2 354.0,512.8 354.8,511.7 355.6,510.2 356.4,508.0 357.2,505.3 358.0,502.0 358.8,498.8 359.6,495.8 360.4,493.3 361.2,491.3 362.0,490.1 362.8,488.9 363.6,488.2 364.4,487.2 365.2,487.0 366.1,486.2 366.9,485.4 367.7,485.5 368.5,485.0 369.3,484.6 370.1,484.1 370.9,483.8 371.7,483.8 372.5,483.5 373.3,482.8 374.1,482.3 374.9,482.4 375.7,482.4 376.5,482.2 377.3,482.1 378.1,481.6 378.9,481.4 379.7,480.6 380.5,480.2 381.3,480.2 382.1,479.9 382.9,479.7 383.7,479.4 384.5,479.3 385.3,479.2 386.1,479.0 386.9,478.6 387.7,478.0 388.5,477.6 389.3,477.6 390.1,476.9 390.9,476.2 391.7,475.6 392.5,475.0 393.3,474.9 394.1,474.4 394.9,474.0 395.7,473.0 396.5,472.4 397.3,471.4 398.1,470.9 398.9,470.0 399.7,469.5 400.5,469.2 401.3,468.8 402.1,468.6 402.9,468.2 403.7,468.5 404.5,468.7 405.3,468.9 406.1,469.0 406.9,469.8 407.7,470.1 408.6,470.5 409.4,470.8 410.2,470.8 411.0,471.4 411.8,471.6 412.6,472.0 413.4,472.3 414.2,473.0 415.0,473.0 415.8,473.0 416.6,473.6 417.4,474.1 418.2,474.1 419.0,474.8 419.8,475.4 420.6,475.8 421.4,475.8 422.2,475.9 423.0,476.3 423.8,476.6 424.6,477.3 425.4,477.5 426.2,477.8 427.0,478.2 427.8,478.6 428.6,479.0 429.4,479.4 430.2,480.0 431.0,480.2 431.8,480.6 432.6,480.7 433.4,480.8 434.2,481.1 435.0,481.6 435.8,482.1 436.6,482.5 436.6,513.5 435.8,513.1 435.0,512.5 434.2,512.0 433.4,511.7 432.6,511.6 431.8,511.6 431.0,511.2 430.2,510.9 429.4,510.4 428.6,509.9 427.8,509.5 427.0,509.1 426.2,508.8 425.4,508.4 424.6,508.3 423.8,507.5 423.0,507.3 422.2,506.8 421.4,506.7 420.6,506.8 419.8,506.3 419.0,505.7 418.2,505.0 417.4,505.0 416.6,504.5 415.8,504.0 415.0,503.9 414.2,503.9 413.4,503.3 412.6,502.9 411.8,502.6 411.0,502.3 410.2,501.8 409.4,501.7 408.6,501.5 407.7,501.1 406.9,500.7 406.1,499.9 405.3,499.9 404.5,499.6 403.7,499.4 402.9,499.1 402.1,499.5 401.3,499.7 400.5,500.0 399.7,500.1 398.9,500.5 398.1,501.3 397.3,501.8 396.5,502.7 395.7,503.1 394.9,504.0 394.1,504.3 393.3,504.8 392.5,504.7 391.7,505.2 390.9,505.7 390.1,506.3 389.3,506.9 388.5,506.8 387.7,507.1 386.9,507.6 386.1,507.9 385.3,507.9 384.5,508.0 383.7,508.0 382.9,508.1 382.1,508.2 381.3,508.4 380.5,508.3 379.7,508.5 378.9,509.1 378.1,509.1 377.3,509.4 376.5,509.3 375.7,509.2 374.9,509.1 374.1,508.8 373.3,509.1 372.5,509.5 371.7,509.6 370.9,509.4 370.1,509.5 369.3,509.8 368.5,510.0 367.7,510.2 366.9,510.0 366.1,510.5 365.2,511.1 364.4,511.1 363.6,511.8 362.8,512.4 362.0,513.3 361.2,514.3 360.4,516.2 359.6,518.5 358.8,521.2 358.0,524.3 357.2,527.3 356.4,529.8 355.6,531.8 354.8,533.1 354.0,533.9 353.2,535.0 352.4,535.7 351.6,536.8 350.8,537.2 350.0,537.6 349.2,538.1 348.4,538.7 347.6,539.3 346.8,539.6 346.0,539.6 345.2,539.7 344.4,539.9 343.6,539.9 342.8,539.9 342.0,539.6 341.2,539.8 340.4,539.8 339.6,540.0 338.8,540.4 338.0,540.1 337.2,539.8 336.4,540.1 335.6,539.9 334.8,539.7 334.0,539.4 333.2,539.5 332.4,539.2 331.6,539.3 330.8,539.4 330.0,539.1 329.2,539.2 328.4,539.3 327.6,539.3 326.8,539.4 326.0,539.3 325.2,539.7 324.4,540.2 323.6,540.1 322.7,540.0 321.9,540.0 321.1,540.1 320.3,540.1 319.5,540.6 318.7,540.7 317.9,540.6 317.1,540.4 316.3,540.5 315.5,540.5 314.7,540.6 313.9,540.4 313.1,540.5 312.3,540.5 311.5,540.4 310.7,540.2 309.9,540.5 309.1,540.8 308.3,540.5 307.5,540.1 306.7,539.8 305.9,540.1 305.1,539.9 304.3,539.7 303.5,539.4 302.7,539.1 301.9,539.1 301.1,539.3 300.3,538.9 299.5,538.9 298.7,538.7 297.9,538.1 297.1,537.9 296.3,537.6 295.5,537.4 294.7,537.1 293.9,537.0 293.1,537.2 292.3,536.7 291.5,536.7 290.7,536.3 289.9,536.5 289.1,536.1 288.3,535.7 287.5,535.5 286.7,535.3 285.9,535.2 285.1,534.9 284.3,535.2 283.5,534.9 282.7,535.1 281.9,534.8 281.0,534.6 280.2,535.0 279.4,534.7 278.6,534.8 277.8,534.7 277.0,534.2 276.2,534.2 275.4,534.3 274.6,534.5 273.8,535.0 273.0,534.9 272.2,534.8 271.4,534.7 270.6,535.1 269.8,534.9 269.0,535.2 268.2,535.3 267.4,535.1 266.6,535.0 265.8,535.0 265.0,535.0 264.2,535.3 263.4,535.6 262.6,535.5 261.8,535.6 261.0,535.7 260.2,536.0" fill="#c8c8c8" fill-opacity="0.40"/>
<polygon points="260.2,527.2 261.0,527.2 261.8,527.2 262.6,526.7 263.4,526.7 264.2,526.6 265.0,526.2 265.8,526.0 266.6,525.6 267.4,525.6 268.2,525.2 269.0,525.3 269.8,525.2 270.6,525.0 271.4,525.1 272.2,525.1 273.0,525.2 273.8,525.7 274.6,525.7 275.4,525.9 276.2,526.2 277.0,526.6 277.8,526.6 278.6,526.8 279.4,526.9 280.2,527.1 281.0,527.3 281.9,527.6 282.7,527.9 283.5,528.2 284.3,528.7 285.1,528.7 285.9,529.1 286.7,529.3 287.5,529.3 288.3,529.6 289.1,530.1 289.9,530.3 290.7,530.5 291.5,531.0 292.3,531.4 293.1,531.6 293.9,532.0 294.7,532.0 295.5,532.2 296.3,532.5 297.1,532.8 297.9,533.0 298.7,533.0 299.5,533.4 300.3,533.7 301.1,533.9 301.9,534.2 302.7,534.3 303.5,534.5 304.3,534.7 305.1,534.8 305.9,535.0 306.7,535.4 307.5,535.3 308.3,535.6 309.1,535.8 309.9,536.0 310.7,535.9 311.5,535.9 312.3,536.1 313.1,536.4 313.9,536.7 314.7,536.6 315.5,536.9 316.3,536.9 317.1,537.1 317.9,537.2 318.7,537.3 319.5,537.5 320.3,537.7 321.1,537.6 321.9,537.5 322.7,537.6 323.6,537.8 324.4,537.8 325.2,538.1 326.0,538.1 326.8,538.0 327.6,537.9 328.4,538.1 329.2,538.1 330.0,538.2 330.8,538.4 331.6,538.4 332.4,538.3 333.2,538.4 334.0,538.6 334.8,538.6 335.6,538.7 336.4,538.9 337.2,538.9 338.0,538.9 338.8,539.0 339.6,538.9 340.4,539.4 341.2,539.4 342.0,539.4 342.8,539.6 343.6,539.8 344.4,539.7 345.2,539.8 346.0,539.9 346.8,540.2 347.6,539.9 348.4,540.1 349.2,540.3 350.0,540.4 350.8,540.5 351.6,540.3 352.4,540.5 353.2,540.6 354.0,540.7 354.8,540.7 355.6,540.8 356.4,540.8 357.2,540.7 358.0,540.6 358.8,540.5 359.6,540.9 360.4,541.0 361.2,540.9 362.0,541.2 362.8,541.3 363.6,541.3 364.4,541.4 365.2,541.3 366.1,541.2 366.9,541.4 367.7,541.6 368.5,541.7 369.3,541.8 370.1,542.0 370.9,541.8 371.7,542.0 372.5,541.8 373.3,541.8 374.1,542.1 374.9,542.1 375.7,542.1 376.5,542.4 377.3,542.3 378.1,542.6 378.9,542.4 379.7,542.7 380.5,542.6 381.3,542.4 382.1,542.3 382.9,542.6 383.7,542.7 384.5,542.9 385.3,543.0 386.1,542.8 386.9,542.8 387.7,543.1 388.5,543.2 389.3,543.2 390.1,543.4 390.9,543.2 391.7,543.2 392.5,543.3 393.3,543.5 394.1,543.4 394.9,543.5 395.7,543.8 396.5,543.9 397.3,544.1 398.1,543.9 398.9,544.0 399.7,544.0 400.5,543.9 401.3,543.9 402.1,544.2 402.9,544.4 403.7,544.3 404.5,544.4 405.3,544.6 406.1,544.7 406.9,545.0 407.7,545.2 408.6,545.5 409.4,545.6 410.2,545.8 411.0,545.8 411.8,545.7 412.6,546.1 413.4,546.2 414.2,546.3 415.0,546.5 415.8,546.7 416.6,546.8 417.4,547.2 418.2,547.2 419.0,547.3 419.8,547.4 420.6,547.5 421.4,547.9 422.2,548.2 423.0,548.4 423.8,548.4 424.6,548.3 425.4,548.2 426.2,548.5 427.0,548.6 427.8,548.6 428.6,548.9 429.4,548.8 430.2,548.7 431.0,548.9 431.8,548.9 432.6,549.0 433.4,549.2 434.2,549.5 435.0,549.7 435.8,549.9 436.6,550.2 436.6,554.4 435.8,554.1 435.0,553.9 434.2,553.7 433.4,553.4 432.6,553.2 431.8,553.1 431.0,553.1 430.2,553.0 429.4,553.0 428.6,553.1 427.8,552.8 427.0,552.8 426.2,552.7 425.4,552.5 424.6,552.5 423.8,552.6 423.0,552.6 422.2,552.4 421.4,552.1 420.6,551.7 419.8,551.6 419.0,551.5 418.2,551.4 417.4,551.5 416.6,551.0 415.8,550.9 415.0,550.7 414.2,550.5 413.4,550.5 412.6,550.3 411.8,549.9 411.0,550.0 410.2,550.0 409.4,549.8 408.6,549.7 407.7,549.4 406.9,549.2 406.1,548.9 405.3,548.8 404.5,548.6 403.7,548.5 402.9,548.6 402.1,548.5 401.3,548.1 400.5,548.1 399.7,548.2 398.9,548.2 398.1,548.1 397.3,548.3 396.5,548.1 395.7,548.0 394.9,547.7 394.1,547.6 393.3,547.7 392.5,547.5 391.7,547.4 390.9,547.5 390.1,547.6 389.3,547.4 388.5,547.4 387.7,547.4 386.9,547.0 386.1,547.0 385.3,547.2 384.5,547.1 383.7,546.9 382.9,546.8 382.1,546.5 381.3,546.6 380.5,546.8 379.7,546.9 378.9,546.6 378.1,546.8 377.3,546.6 376.5,546.6 375.7,546.3 374.9,546.3 374.1,546.3 373.3,546.0 372.5,546.0 371.7,546.2 370.9,546.1 370.1,546.2 369.3,546.0 368.5,545.9 367.7,545.8 366.9,545.6 366.1,545.5 365.2,545.5 364.4,545.6 363.6,545.5 362.8,545.5 362.0,545.4 361.2,545.1 360.4,545.2 359.6,545.1 358.8,544.8 358.0,544.8 357.2,544.9 356.4,545.1 355.6,545.0 354.8,544.9 354.0,545.0 353.2,544.8 352.4,544.7 351.6,544.5 350.8,544.7 350.0,544.6 349.2,544.5 348.4,544.3 347.6,544.1 346.8,544.4 346.0,544.2 345.2,544.0 344.4,543.9 343.6,544.0 342.8,543.8 342.0,543.6 341.2,543.6 340.4,543.6 339.6,543.2 338.8,543.2 338.0,543.1 337.2,543.1 336.4,543.1 335.6,542.9 334.8,542.8 334.0,542.8 333.2,542.6 332.4,542.5 331.6,542.6 330.8,542.6 330.0,542.5 329.2,542.3 328.4,542.3 327.6,542.1 326.8,542.2 326.0,542.3 325.2,542.3 324.4,542.0 323.6,542.0 322.7,541.8 321.9,541.7 321.1,541.9 320.3,541.9 319.5,541.7 318.7,541.5 317.9,541.4 317.1,541.3 316.3,541.1 315.5,541.1 314.7,540.8 313.9,540.9 313.1,540.6 312.3,540.3 311.5,540.1 310.7,540.1 309.9,540.2 309.1,540.0 308.3,539.8 307.5,539.5 306.7,539.6 305.9,539.2 305.1,539.0 304.3,538.9 303.5,538.7 302.7,538.5 301.9,538.4 301.1,538.1 300.3,538.0 299.5,537.7 298.7,537.3 297.9,537.2 297.1,537.0 296.3,536.7 295.5,536.5 294.7,536.2 293.9,536.2 293.1,535.8 292.3,535.6 291.5,535.2 290.7,534.7 289.9,534.5 289.1,534.4 288.3,533.9 287.5,533.6 286.7,533.5 285.9,533.3 285.1,532.9 284.3,532.9 283.5,532.4 282.7,532.1 281.9,531.9 281.0,531.5 280.2,531.3 279.4,531.1 278.6,531.0 277.8,530.8 277.0,530.8 276.2,530.4 275.4,530.1 274.6,529.9 273.8,529.9 273.0,529.5 272.2,529.3 271.4,529.3 270.6,529.2 269.8,529.4 269.0,529.5 268.2,529.4 267.4,529.8 266.6,529.8 265.8,530.2 265.0,530.4 264.2,530.8 263.4,530.9 262.6,530.9 261.8,531.5 261.0,531.5 260.2,531.4" fill="#ffaaaa" fill-opacity="0.40"/>
<polygon points="260.2,528.6 261.0,528.4 261.8,528.3 262.6,528.6 263.4,528.5 264.2,528.5 265.0,528.4 265.8,528.5 266.6,528.5 267.4,528.3 268.2,528.3 269.0,528.2 269.8,528.3 270.6,528.4 271.4,528.1 272.2,528.1 273.0,528.1 273.8,528.0 274.6,528.2 275.4,528.5 276.2,528.4 277.0,528.5 277.8,528.6 278.6,528.8 279.4,528.8 280.2,529.2 281.0,529.3 281.9,529.6 282.7,529.8 283.5,530.0 284.3,530.3 285.1,530.7 285.9,530.8 286.7,530.8 287.5,531.0 288.3,531.2 289.1,531.3 289.9,531.6 290.7,531.9 291.5,532.0 292.3,532.0 293.1,532.3 293.9,532.6 294.7,532.9 295.5,533.1 296.3,533.2 297.1,533.2 297.9,533.2 298.7,533.4 299.5,533.6 300.3,533.9 301.1,534.1 301.9,534.0 302.7,534.2 303.5,534.5 304.3,534.8 305.1,534.8 305.9,534.9 306.7,535.0 307.5,535.3 308.3,535.5 309.1,535.5 309.9,535.7 310.7,535.7 311.5,536.1 312.3,536.1 313.1,536.5 313.9,536.6 314.7,536.9 315.5,536.8 316.3,536.8 317.1,536.7 317.9,536.8 318.7,536.8 319.5,537.0 320.3,537.0 321.1,537.1 321.9,537.4 322.7,537.4 323.6,537.6 324.4,537.9 325.2,538.1 326.0,538.1 326.8,538.3 327.6,538.1 328.4,538.0 329.2,538.3 330.0,538.6 330.8,538.6 331.6,538.7 332.4,538.7 333.2,538.6 334.0,538.8 334.8,538.9 335.6,538.8 336.4,538.9 337.2,539.1 338.0,539.0 338.8,539.0 339.6,538.9 340.4,539.1 341.2,539.3 342.0,539.3 342.8,539.3 343.6,539.4 344.4,539.6 345.2,539.8 346.0,539.9 346.8,539.8 347.6,539.8 348.4,539.9 349.2,539.8 350.0,540.1 350.8,540.1 351.6,540.2 352.4,540.2 353.2,540.1 354.0,540.3 354.8,540.2 355.6,540.5 356.4,540.5 357.2,540.5 358.0,540.6 358.8,540.6 359.6,540.7 360.4,540.7 361.2,540.6 362.0,540.9 362.8,540.9 363.6,540.8 364.4,541.0 365.2,540.8 366.1,541.0 366.9,540.9 367.7,541.1 368.5,541.1 369.3,541.1 370.1,541.3 370.9,541.1 371.7,541.1 372.5,541.0 373.3,541.0 374.1,541.1 374.9,541.1 375.7,541.2 376.5,541.1 377.3,541.3 378.1,541.2 378.9,541.1 379.7,541.2 380.5,541.2 381.3,541.3 382.1,541.4 382.9,541.7 383.7,542.0 384.5,542.1 385.3,542.3 386.1,542.2 386.9,542.5 387.7,542.7 388.5,542.8 389.3,542.7 390.1,542.8 390.9,542.8 391.7,542.9 392.5,542.7 393.3,542.5 394.1,542.1 394.9,541.7 395.7,541.1 396.5,540.7 397.3,540.6 398.1,540.3 398.9,540.1 399.7,539.8 400.5,539.6 401.3,539.2 402.1,539.4 402.9,539.3 403.7,539.5 404.5,539.4 405.3,539.6 406.1,540.1 406.9,540.1 407.7,540.4 408.6,540.6 409.4,540.9 410.2,540.7 411.0,541.0 411.8,540.9 412.6,541.0 413.4,541.0 414.2,541.2 415.0,541.4 415.8,541.1 416.6,541.1 417.4,541.4 418.2,541.2 419.0,541.1 419.8,541.4 420.6,541.6 421.4,541.5 422.2,541.7 423.0,541.6 423.8,541.6 424.6,541.6 425.4,541.6 426.2,541.5 427.0,541.5 427.8,541.6 428.6,541.6 429.4,541.8 430.2,542.0 431.0,542.2 431.8,541.9 432.6,542.1 433.4,542.1 434.2,542.2 435.0,542.1 435.8,542.1 436.6,542.0 436.6,546.2 435.8,546.3 435.0,546.3 434.2,546.4 433.4,546.3 432.6,546.3 431.8,546.2 431.0,546.4 430.2,546.2 429.4,546.0 428.6,545.9 427.8,545.8 427.0,545.7 426.2,545.8 425.4,545.8 424.6,545.8 423.8,545.8 423.0,545.8 422.2,545.9 421.4,545.8 420.6,545.9 419.8,545.6 419.0,545.3 418.2,545.4 417.4,545.6 416.6,545.4 415.8,545.4 415.0,545.6 414.2,545.4 413.4,545.2 412.6,545.2 411.8,545.1 411.0,545.2 410.2,545.0 409.4,545.1 408.6,544.8 407.7,544.6 406.9,544.3 406.1,544.3 405.3,543.8 404.5,543.6 403.7,543.7 402.9,543.5 402.1,543.6 401.3,543.5 400.5,543.8 399.7,544.0 398.9,544.4 398.1,544.5 397.3,544.9 396.5,545.0 395.7,545.3 394.9,545.9 394.1,546.4 393.3,546.7 392.5,546.9 391.7,547.1 390.9,547.0 390.1,547.0 389.3,546.9 388.5,547.0 387.7,546.9 386.9,546.7 386.1,546.4 385.3,546.6 384.5,546.4 383.7,546.2 382.9,546.0 382.1,545.7 381.3,545.5 380.5,545.4 379.7,545.5 378.9,545.3 378.1,545.4 377.3,545.6 376.5,545.3 375.7,545.5 374.9,545.3 374.1,545.3 373.3,545.3 372.5,545.2 371.7,545.3 370.9,545.3 370.1,545.5 369.3,545.3 368.5,545.3 367.7,545.3 366.9,545.1 366.1,545.2 365.2,545.0 364.4,545.2 363.6,545.0 362.8,545.2 362.0,545.1 361.2,544.9 360.4,544.9 359.6,544.9 358.8,544.8 358.0,544.9 357.2,544.7 356.4,544.7 355.6,544.7 354.8,544.4 354.0,544.5 353.2,544.3 352.4,544.4 351.6,544.4 350.8,544.3 350.0,544.3 349.2,544.0 348.4,544.1 347.6,544.0 346.8,544.0 346.0,544.1 345.2,544.0 344.4,543.9 343.6,543.6 342.8,543.5 342.0,543.5 341.2,543.5 340.4,543.3 339.6,543.2 338.8,543.2 338.0,543.2 337.2,543.3 336.4,543.1 335.6,543.0 334.8,543.1 334.0,543.0 333.2,542.8 332.4,542.9 331.6,543.0 330.8,542.8 330.0,542.8 329.2,542.5 328.4,542.2 327.6,542.3 326.8,542.5 326.0,542.4 325.2,542.4 324.4,542.1 323.6,541.8 322.7,541.6 321.9,541.6 321.1,541.4 320.3,541.2 319.5,541.3 318.7,541.0 317.9,541.0 317.1,540.9 316.3,541.0 315.5,541.0 314.7,541.1 313.9,540.8 313.1,540.7 312.3,540.3 311.5,540.4 310.7,539.9 309.9,539.9 309.1,539.7 308.3,539.7 307.5,539.6 306.7,539.2 305.9,539.1 305.1,539.0 304.3,539.1 303.5,538.7 302.7,538.4 301.9,538.3 301.1,538.3 300.3,538.1 299.5,537.8 298.7,537.6 297.9,537.4 297.1,537.4 296.3,537.4 295.5,537.3 294.7,537.1 293.9,536.8 293.1,536.5 292.3,536.2 291.5,536.3 290.7,536.1 289.9,535.8 289.1,535.5 288.3,535.4 287.5,535.2 286.7,535.0 285.9,535.0 285.1,534.9 284.3,534.5 283.5,534.2 282.7,534.0 281.9,533.8 281.0,533.5 280.2,533.4 279.4,533.0 278.6,533.0 277.8,532.8 277.0,532.7 276.2,532.6 275.4,532.7 274.6,532.4 273.8,532.3 273.0,532.3 272.2,532.3 271.4,532.3 270.6,532.6 269.8,532.5 269.0,532.4 268.2,532.5 267.4,532.5 266.6,532.7 265.8,532.7 265.0,532.6 264.2,532.7 263.4,532.7 262.6,532.8 261.8,532.5 261.0,532.6 260.2,532.8" fill="#aaaaee" fill-opacity="0.40"/>
<polygon points="260.2,528.7 261.0,528.4 261.8,528.6 262.6,528.2 263.4,528.4 264.2,528.2 265.0,528.3 265.8,528.0 266.6,528.1 267.4,527.8 268.2,527.6 269.0,527.4 269.8,527.5 270.6,527.2 271.4,527.0 272.2,527.4 273.0,527.3 273.8,527.1 274.6,527.1 275.4,527.3 276.2,527.5 277.0,527.2 277.8,527.6 278.6,527.5 279.4,527.4 280.2,527.8 281.0,528.0 281.9,528.2 282.7,528.2 283.5,528.3 284.3,528.2 285.1,528.1 285.9,528.5 286.7,528.5 287.5,529.0 288.3,529.3 289.1,529.2 289.9,529.1 290.7,529.1 291.5,529.0 292.3,529.1 293.1,529.6 293.9,529.7 294.7,529.7 295.5,530.3 296.3,530.5 297.1,531.0 297.9,531.4 298.7,531.6 299.5,531.9 300.3,532.0 301.1,533.0 301.9,533.8 302.7,534.5 303.5,535.5 304.3,536.8 305.1,538.1 305.9,539.2 306.7,540.3 307.5,541.1 308.3,541.6 309.1,542.2 309.9,542.4 310.7,542.8 311.5,543.0 312.3,543.0 313.1,543.2 313.9,543.3 314.7,543.0 315.5,542.8 316.3,542.2 317.1,542.0 317.9,541.4 318.7,541.0 319.5,540.1 320.3,539.3 321.1,538.4 321.9,537.3 322.7,536.8 323.6,535.7 324.4,535.0 325.2,534.5 326.0,534.2 326.8,534.0 327.6,533.9 328.4,533.7 329.2,533.6 330.0,533.3 330.8,532.8 331.6,532.1 332.4,530.9 333.2,529.3 334.0,527.1 334.8,524.9 335.6,522.4 336.4,519.8 337.2,517.3 338.0,514.8 338.8,512.3 339.6,509.9 340.4,508.4 341.2,507.0 342.0,505.6 342.8,504.5 343.6,503.2 344.4,502.2 345.2,501.5 346.0,500.4 346.8,499.5 347.6,498.2 348.4,497.0 349.2,496.0 350.0,494.7 350.8,493.9 351.6,492.9 352.4,492.1 353.2,491.2 354.0,489.9 354.8,489.2 355.6,488.0 356.4,487.2 357.2,486.4 358.0,486.0 358.8,485.1 359.6,484.4 360.4,484.1 361.2,483.7 362.0,483.3 362.8,482.6 363.6,482.2 364.4,481.4 365.2,480.8 366.1,480.1 366.9,479.6 367.7,478.9 368.5,478.3 369.3,477.5 370.1,476.9 370.9,476.0 371.7,475.2 372.5,474.5 373.3,474.0 374.1,473.5 374.9,473.0 375.7,472.4 376.5,471.2 377.3,470.6 378.1,469.6 378.9,469.0 379.7,468.1 380.5,467.4 381.3,466.7 382.1,465.7 382.9,464.8 383.7,463.7 384.5,463.2 385.3,462.4 386.1,461.7 386.9,460.9 387.7,459.5 388.5,458.6 389.3,457.7 390.1,456.8 390.9,455.7 391.7,454.7 392.5,453.9 393.3,453.1 394.1,452.0 394.9,450.4 395.7,448.9 396.5,447.7 397.3,445.9 398.1,443.6 398.9,440.8 399.7,438.0 400.5,435.9 401.3,434.1 402.1,433.1 402.9,432.2 403.7,431.8 404.5,431.5 405.3,431.7 406.1,431.8 406.9,432.0 407.7,432.1 408.6,432.6 409.4,433.1 410.2,433.1 411.0,433.2 411.8,433.6 412.6,434.1 413.4,434.7 414.2,435.1 415.0,435.2 415.8,435.7 416.6,436.2 417.4,436.6 418.2,437.1 419.0,437.7 419.8,437.9 420.6,437.9 421.4,438.1 422.2,438.6 423.0,438.8 423.8,439.0 424.6,439.4 425.4,439.8 426.2,440.3 427.0,440.4 427.8,440.6 428.6,441.1 429.4,441.5 430.2,441.9 431.0,441.8 431.8,441.9 432.6,442.2 433.4,442.5 434.2,442.7 435.0,443.2 435.8,443.5 436.6,443.8 436.6,474.7 435.8,474.4 435.0,474.2 434.2,473.6 433.4,473.4 432.6,473.2 431.8,472.8 431.0,472.8 430.2,472.8 429.4,472.5 428.6,472.0 427.8,471.5 427.0,471.3 426.2,471.2 425.4,470.8 424.6,470.3 423.8,469.9 423.0,469.7 422.2,469.6 421.4,469.0 420.6,468.9 419.8,468.9 419.0,468.6 418.2,468.1 417.4,467.5 416.6,467.1 415.8,466.7 415.0,466.1 414.2,466.0 413.4,465.7 412.6,465.0 411.8,464.5 411.0,464.1 410.2,464.1 409.4,464.0 408.6,463.6 407.7,463.1 406.9,463.0 406.1,462.7 405.3,462.7 404.5,462.4 403.7,462.8 402.9,463.1 402.1,464.1 401.3,465.0 400.5,466.6 399.7,468.7 398.9,471.3 398.1,474.0 397.3,476.3 396.5,477.9 395.7,479.1 394.9,480.4 394.1,481.9 393.3,482.9 392.5,483.6 391.7,484.3 390.9,485.2 390.1,486.2 389.3,487.0 388.5,487.8 387.7,488.6 386.9,489.8 386.1,490.6 385.3,491.2 384.5,491.8 383.7,492.3 382.9,493.2 382.1,494.0 381.3,494.9 380.5,495.6 379.7,496.1 378.9,496.8 378.1,497.2 377.3,498.1 376.5,498.6 375.7,499.6 374.9,500.1 374.1,500.5 373.3,500.9 372.5,501.2 371.7,501.8 370.9,502.4 370.1,503.2 369.3,503.7 368.5,504.3 367.7,504.7 366.9,505.4 366.1,505.7 365.2,506.2 364.4,506.7 363.6,507.4 362.8,507.6 362.0,508.2 361.2,508.5 360.4,508.7 359.6,508.9 358.8,509.4 358.0,510.2 357.2,510.5 356.4,511.1 355.6,511.8 354.8,512.9 354.0,513.4 353.2,514.6 352.4,515.3 351.6,516.0 350.8,516.9 350.0,517.5 349.2,518.6 348.4,519.5 347.6,520.6 346.8,521.8 346.0,522.5 345.2,523.4 344.4,524.0 343.6,524.9 342.8,526.0 342.0,526.9 341.2,528.3 340.4,529.5 339.6,530.7 338.8,532.8 338.0,535.1 337.2,537.2 336.4,539.4 335.6,541.7 334.8,543.9 334.0,545.8 333.2,547.7 332.4,549.0 331.6,550.0 330.8,550.3 330.0,550.5 329.2,550.6 328.4,550.4 327.6,550.2 326.8,550.0 326.0,550.0 325.2,549.9 324.4,550.2 323.6,550.6 322.7,551.4 321.9,551.6 321.1,552.4 320.3,553.0 319.5,553.5 318.7,554.1 317.9,554.3 317.1,554.5 316.3,554.4 315.5,554.7 314.7,554.7 313.9,554.7 313.1,554.4 312.3,554.1 311.5,554.1 310.7,553.7 309.9,553.3 309.1,553.0 308.3,552.3 307.5,551.7 306.7,550.8 305.9,549.6 305.1,548.5 304.3,547.0 303.5,545.7 302.7,544.6 301.9,543.8 301.1,542.9 300.3,541.9 299.5,541.6 298.7,541.3 297.9,541.0 297.1,540.5 296.3,539.9 295.5,539.6 294.7,538.9 293.9,538.8 293.1,538.7 292.3,538.1 291.5,538.0 290.7,537.9 289.9,537.9 289.1,537.9 288.3,537.9 287.5,537.4 286.7,536.9 285.9,536.8 285.1,536.4 284.3,536.3 283.5,536.4 282.7,536.2 281.9,536.1 281.0,535.8 280.2,535.5 279.4,535.1 278.6,535.1 277.8,535.1 277.0,534.6 276.2,534.8 275.4,534.5 274.6,534.2 273.8,534.2 273.0,534.3 272.2,534.2 271.4,533.8 270.6,533.9 269.8,534.1 269.0,534.0 268.2,534.1 267.4,534.2 266.6,534.4 265.8,534.2 265.0,534.5 264.2,534.2 263.4,534.4 262.6,534.1 261.8,534.4 261.0,534.1 260.2,534.3" fill="#b8d4f6" fill-opacity="0.40"/>
<polygon points="260.2,533.8 261.0,532.8 261.8,531.8 262.6,531.4 263.4,530.3 264.2,529.6 265.0,529.3 265.8,528.2 266.6,527.9 267.4,527.6 268.2,527.4 269.0,527.1 269.8,527.2 270.6,526.9 271.4,526.6 272.2,526.6 273.0,526.4 273.8,526.4 274.6,526.3 275.4,526.8 276.2,526.9 277.0,527.0 277.8,527.3 278.6,526.9 279.4,527.0 280.2,527.4 281.0,527.4 281.9,527.6 282.7,527.9 283.5,528.1 284.3,528.1 285.1,528.4 285.9,528.3 286.7,528.3 287.5,528.7 288.3,528.4 289.1,528.9 289.9,529.3 290.7,529.1 291.5,529.6 292.3,529.8 293.1,530.0 293.9,530.3 294.7,530.5 295.5,530.7 296.3,530.9 297.1,531.4 297.9,531.2 298.7,531.5 299.5,531.9 300.3,531.8 301.1,531.4 301.9,531.2 302.7,531.2 303.5,531.1 304.3,531.1 305.1,530.8 305.9,530.7 306.7,530.7 307.5,530.5 308.3,530.4 309.1,529.7 309.9,529.0 310.7,528.6 311.5,528.6 312.3,528.5 313.1,527.7 313.9,527.5 314.7,527.4 315.5,526.9 316.3,526.4 317.1,526.0 317.9,525.7 318.7,525.4 319.5,524.9 320.3,524.4 321.1,523.8 321.9,523.4 322.7,523.1 323.6,522.2 324.4,522.1 325.2,521.4 326.0,521.0 326.8,520.3 327.6,519.7 328.4,519.1 329.2,518.5 330.0,518.2 330.8,517.8 331.6,516.8 332.4,516.3 333.2,515.8 334.0,514.7 334.8,514.0 335.6,513.7 336.4,512.9 337.2,512.4 338.0,511.4 338.8,511.0 339.6,510.1 340.4,509.6 341.2,509.5 342.0,509.0 342.8,508.2 343.6,507.8 344.4,507.8 345.2,507.5 346.0,507.3 346.8,507.2 347.6,506.6 348.4,506.1 349.2,506.0 350.0,505.6 350.8,505.0 351.6,504.6 352.4,504.7 353.2,504.8 354.0,504.1 354.8,504.0 355.6,504.0 356.4,503.5 357.2,503.5 358.0,503.0 358.8,502.7 359.6,502.7 360.4,502.4 361.2,502.3 362.0,501.7 362.8,501.6 363.6,501.5 364.4,500.9 365.2,500.9 366.1,500.7 366.9,500.4 367.7,500.4 368.5,500.1 369.3,499.5 370.1,498.7 370.9,498.5 371.7,498.1 372.5,497.8 373.3,497.0 374.1,496.1 374.9,495.0 375.7,494.0 376.5,492.9 377.3,491.3 378.1,490.0 378.9,489.1 379.7,488.4 380.5,487.7 381.3,487.0 382.1,486.3 382.9,485.3 383.7,484.5 384.5,484.1 385.3,483.1 386.1,482.5 386.9,481.9 387.7,481.2 388.5,481.0 389.3,480.2 390.1,479.6 390.9,479.2 391.7,479.5 392.5,478.9 393.3,478.3 394.1,478.5 394.9,477.8 395.7,477.2 396.5,477.2 397.3,476.2 398.1,475.1 398.9,473.9 399.7,473.2 400.5,471.9 401.3,471.6 402.1,471.5 402.9,470.9 403.7,471.0 404.5,471.4 405.3,471.7 406.1,471.8 406.9,472.3 407.7,472.3 408.6,472.6 409.4,473.0 410.2,473.4 411.0,473.8 411.8,473.5 412.6,473.8 413.4,473.7 414.2,473.9 415.0,474.1 415.8,474.6 416.6,474.7 417.4,475.1 418.2,475.1 419.0,475.1 419.8,474.9 420.6,475.4 421.4,475.8 422.2,475.6 423.0,476.1 423.8,476.4 424.6,476.4 425.4,476.6 426.2,476.3 427.0,476.9 427.8,476.7 428.6,477.0 429.4,477.5 430.2,477.8 431.0,477.5 431.8,478.0 432.6,478.1 433.4,478.6 434.2,478.6 435.0,478.5 435.8,478.5 436.6,478.9 436.6,500.0 435.8,499.6 435.0,499.6 434.2,499.7 433.4,499.7 432.6,499.2 431.8,499.1 431.0,498.6 430.2,498.9 429.4,498.6 428.6,498.1 427.8,497.8 427.0,498.0 426.2,497.4 425.4,497.7 424.6,497.5 423.8,497.5 423.0,497.2 422.2,496.7 421.4,496.9 420.6,496.5 419.8,496.0 419.0,496.2 418.2,496.2 417.4,496.2 416.6,495.7 415.8,495.7 415.0,495.2 414.2,495.0 413.4,494.8 412.6,494.9 411.8,494.6 411.0,494.9 410.2,494.5 409.4,494.1 408.6,493.7 407.7,493.4 406.9,493.4 406.1,492.9 405.3,492.8 404.5,492.5 403.7,492.1 402.9,492.0 402.1,492.6 401.3,492.6 400.5,492.8 399.7,494.1 398.9,494.6 398.1,495.7 397.3,496.8 396.5,497.6 395.7,497.6 394.9,498.1 394.1,498.6 393.3,498.4 392.5,498.9 391.7,499.3 390.9,499.0 390.1,499.3 389.3,499.8 388.5,500.4 387.7,500.5 386.9,501.1 386.1,501.7 385.3,502.2 384.5,503.1 383.7,503.4 382.9,504.1 382.1,505.0 381.3,505.6 380.5,506.2 379.7,506.8 378.9,507.4 378.1,508.2 377.3,509.4 376.5,510.9 375.7,511.9 374.9,512.8 374.1,513.9 373.3,514.6 372.5,515.4 371.7,515.5 370.9,515.9 370.1,516.0 369.3,516.6 368.5,517.2 367.7,517.4 366.9,517.2 366.1,517.3 365.2,517.4 364.4,517.2 363.6,517.7 362.8,517.6 362.0,517.5 361.2,517.9 360.4,517.9 359.6,518.0 358.8,517.8 358.0,518.0 357.2,518.3 356.4,518.1 355.6,518.5 354.8,518.3 354.0,518.2 353.2,518.7 352.4,518.5 351.6,518.2 350.8,518.5 350.0,518.9 349.2,519.1 348.4,519.0 347.6,519.4 346.8,519.8 346.0,519.7 345.2,519.8 344.4,519.9 343.6,519.7 342.8,520.0 342.0,520.6 341.2,520.9 340.4,520.8 339.6,521.2 338.8,521.9 338.0,522.2 337.2,523.0 336.4,523.3 335.6,523.9 334.8,524.1 334.0,524.6 333.2,525.5 332.4,525.8 331.6,526.2 330.8,527.0 330.0,527.2 329.2,527.4 328.4,527.9 327.6,528.2 326.8,528.7 326.0,529.4 325.2,529.7 324.4,530.4 323.6,530.5 322.7,531.3 321.9,531.6 321.1,532.0 320.3,532.6 319.5,533.0 318.7,533.5 317.9,533.7 317.1,534.0 316.3,534.4 315.5,534.9 314.7,535.4 313.9,535.4 313.1,535.6 312.3,536.3 311.5,536.4 310.7,536.3 309.9,536.7 309.1,537.4 308.3,538.0 307.5,538.2 306.7,538.3 305.9,538.2 305.1,538.3 304.3,538.6 303.5,538.5 302.7,538.6 301.9,538.6 301.1,538.7 300.3,539.1 299.5,539.1 298.7,538.8 297.9,538.4 297.1,538.6 296.3,538.1 295.5,537.8 294.7,537.6 293.9,537.3 293.1,537.0 292.3,536.8 291.5,536.5 290.7,536.0 289.9,536.2 289.1,535.8 288.3,535.2 287.5,535.4 286.7,535.1 285.9,535.0 285.1,535.1 284.3,534.8 283.5,534.7 282.7,534.4 281.9,534.1 281.0,533.9 280.2,533.9 279.4,533.4 278.6,533.3 277.8,533.7 277.0,533.3 276.2,533.2 275.4,533.0 274.6,532.6 273.8,532.6 273.0,532.6 272.2,532.7 271.4,532.7 270.6,532.9 269.8,533.3 269.0,533.1 268.2,533.3 267.4,533.6 266.6,533.8 265.8,534.1 265.0,535.1 264.2,535.4 263.4,536.1 262.6,537.1 261.8,537.5 261.0,538.4 260.2,539.4" fill="#e6b0e6" fill-opacity="0.40"/>
<polygon points="260.2,524.4 261.0,524.5 261.8,524.5 262.6,524.2 263.4,524.2 264.2,523.8 265.0,523.4 265.8,523.6 266.6,523.2 267.4,523.1 268.2,522.9 269.0,522.6 269.8,522.4 270.6,522.7 271.4,522.7 272.2,522.7 273.0,522.7 273.8,523.3 274.6,523.2 275.4,523.6 276.2,524.0 277.0,524.1 277.8,524.0 278.6,524.0 279.4,524.5 280.2,524.6 281.0,525.2 281.9,525.1 282.7,525.5 283.5,525.8 284.3,526.2 285.1,526.6 285.9,527.0 286.7,527.0 287.5,527.1 288.3,527.1 289.1,527.2 289.9,527.7 290.7,527.8 291.5,528.4 292.3,528.5 293.1,529.0 293.9,529.1 294.7,529.5 295.5,529.9 296.3,530.2 297.1,530.7 297.9,531.2 298.7,531.2 299.5,531.2 300.3,531.7 301.1,531.9 301.9,532.0 302.7,532.0 303.5,531.9 304.3,532.5 305.1,532.6 305.9,533.0 306.7,532.9 307.5,532.8 308.3,532.9 309.1,533.0 309.9,533.5 310.7,533.7 311.5,533.7 312.3,533.8 313.1,533.8 313.9,533.3 314.7,533.2 315.5,532.8 316.3,532.5 317.1,532.2 317.9,531.9 318.7,531.6 319.5,531.5 320.3,531.2 321.1,530.8 321.9,530.7 322.7,530.3 323.6,529.6 324.4,529.0 325.2,528.1 326.0,527.4 326.8,526.6 327.6,525.8 328.4,524.8 329.2,523.6 330.0,522.9 330.8,521.9 331.6,520.6 332.4,519.3 333.2,517.9 334.0,516.6 334.8,515.0 335.6,513.5 336.4,511.5 337.2,510.0 338.0,508.4 338.8,506.5 339.6,504.8 340.4,503.5 341.2,501.6 342.0,500.2 342.8,498.5 343.6,497.1 344.4,495.7 345.2,494.4 346.0,493.3 346.8,491.5 347.6,490.2 348.4,489.0 349.2,487.8 350.0,486.3 350.8,484.7 351.6,483.5 352.4,481.9 353.2,480.5 354.0,479.3 354.8,478.2 355.6,477.0 356.4,475.8 357.2,475.2 358.0,474.5 358.8,473.8 359.6,473.2 360.4,472.6 361.2,471.9 362.0,471.5 362.8,471.0 363.6,470.9 364.4,470.2 365.2,469.9 366.1,470.0 366.9,470.0 367.7,469.7 368.5,469.9 369.3,469.8 370.1,470.3 370.9,470.3 371.7,470.4 372.5,470.7 373.3,470.9 374.1,471.0 374.9,471.2 375.7,472.0 376.5,472.4 377.3,473.1 378.1,473.3 378.9,474.0 379.7,474.6 380.5,475.2 381.3,475.7 382.1,475.9 382.9,476.2 383.7,476.2 384.5,476.1 385.3,476.1 386.1,476.4 386.9,476.7 387.7,476.5 388.5,476.7 389.3,476.6 390.1,476.3 390.9,476.2 391.7,476.2 392.5,476.3 393.3,476.1 394.1,475.3 394.9,475.1 395.7,474.5 396.5,473.2 397.3,471.8 398.1,469.6 398.9,467.5 399.7,465.3 400.5,463.2 401.3,461.4 402.1,460.3 402.9,460.1 403.7,459.5 404.5,459.2 405.3,459.3 406.1,459.7 406.9,460.1 407.7,459.9 408.6,460.4 409.4,460.8 410.2,461.2 411.0,461.0 411.8,460.9 412.6,461.2 413.4,461.4 414.2,461.8 415.0,462.6 415.8,463.0 416.6,463.3 417.4,463.7 418.2,464.0 419.0,464.4 419.8,465.2 420.6,465.6 421.4,465.7 422.2,466.2 423.0,466.9 423.8,467.3 424.6,467.5 425.4,468.2 426.2,468.8 427.0,469.0 427.8,469.4 428.6,470.0 429.4,470.5 430.2,471.1 431.0,471.4 431.8,472.0 432.6,472.4 433.4,472.6 434.2,473.0 435.0,473.7 435.8,474.4 436.6,474.8 436.6,500.1 435.8,499.7 435.0,499.0 434.2,498.4 433.4,497.9 432.6,497.7 431.8,497.3 431.0,496.7 430.2,496.4 429.4,495.8 428.6,495.3 427.8,494.7 427.0,494.3 426.2,494.1 425.4,493.5 424.6,492.8 423.8,492.6 423.0,492.2 422.2,491.5 421.4,491.1 420.6,490.9 419.8,490.5 419.0,489.7 418.2,489.3 417.4,489.0 416.6,488.6 415.8,488.3 415.0,487.9 414.2,487.1 413.4,486.7 412.6,486.5 411.8,486.2 411.0,486.3 410.2,486.5 409.4,486.1 408.6,485.7 407.7,485.2 406.9,485.4 406.1,485.0 405.3,484.6 404.5,484.5 403.7,484.8 402.9,485.4 402.1,485.6 401.3,486.6 400.5,488.3 399.7,490.1 398.9,492.2 398.1,494.2 397.3,496.2 396.5,497.5 395.7,498.6 394.9,499.0 394.1,499.1 393.3,499.7 392.5,499.8 391.7,499.5 390.9,499.4 390.1,499.3 389.3,499.4 388.5,499.4 387.7,499.0 386.9,499.0 386.1,498.6 385.3,498.2 384.5,498.0 383.7,497.9 382.9,497.7 382.1,497.3 381.3,496.9 380.5,496.3 379.7,495.7 378.9,495.1 378.1,494.4 377.3,494.2 376.5,493.5 375.7,493.1 374.9,492.3 374.1,492.1 373.3,492.0 372.5,491.8 371.7,491.5 370.9,491.4 370.1,491.3 369.3,490.9 368.5,491.0 367.7,490.8 366.9,491.1 366.1,491.1 365.2,491.0 364.4,491.3 363.6,492.0 362.8,492.1 362.0,492.6 361.2,493.0 360.4,493.6 359.6,494.3 358.8,494.9 358.0,495.6 357.2,496.3 356.4,496.9 355.6,498.1 354.8,499.3 354.0,500.4 353.2,501.4 352.4,502.4 351.6,503.5 350.8,504.4 350.0,505.6 349.2,506.7 348.4,507.6 347.6,508.4 346.8,509.3 346.0,510.7 345.2,511.5 344.4,512.4 343.6,513.3 342.8,514.4 342.0,515.7 341.2,516.8 340.4,518.3 339.6,519.2 338.8,520.5 338.0,522.1 337.2,523.3 336.4,524.4 335.6,525.9 334.8,527.1 334.0,528.3 333.2,529.2 332.4,530.3 331.6,531.2 330.8,532.1 330.0,532.7 329.2,533.1 328.4,533.9 327.6,534.5 326.8,535.0 326.0,535.8 325.2,536.4 324.4,537.3 323.6,537.9 322.7,538.6 321.9,538.9 321.1,539.0 320.3,539.3 319.5,539.6 318.7,539.7 317.9,539.9 317.1,540.3 316.3,540.5 315.5,540.8 314.7,541.1 313.9,541.2 313.1,541.6 312.3,541.6 311.5,541.5 310.7,541.4 309.9,541.2 309.1,540.7 308.3,540.5 307.5,540.4 306.7,540.5 305.9,540.5 305.1,540.1 304.3,539.9 303.5,539.4 302.7,539.4 301.9,539.4 301.1,539.2 300.3,539.0 299.5,538.5 298.7,538.5 297.9,538.4 297.1,537.9 296.3,537.3 295.5,537.0 294.7,536.6 293.9,536.1 293.1,536.0 292.3,535.5 291.5,535.3 290.7,534.7 289.9,534.5 289.1,534.1 288.3,533.9 287.5,533.9 286.7,533.7 285.9,533.7 285.1,533.3 284.3,532.9 283.5,532.4 282.7,532.1 281.9,531.6 281.0,531.7 280.2,531.0 279.4,530.9 278.6,530.4 277.8,530.4 277.0,530.4 276.2,530.3 275.4,529.9 274.6,529.4 273.8,529.5 273.0,528.9 272.2,528.8 271.4,528.8 270.6,528.8 269.8,528.5 269.0,528.6 268.2,528.9 267.4,529.0 266.6,529.1 265.8,529.4 265.0,529.2 264.2,529.5 263.4,530.0 262.6,529.9 261.8,530.2 261.0,530.2 260.2,530.0" fill="#b8eeb8" fill-opacity="0.40"/>
<polyline points="260.2,533.2 261.0,532.9 261.8,532.7 262.6,532.7 263.4,532.8 264.2,532.4 265.0,532.1 265.8,532.1 266.6,532.1 267.4,532.2 268.2,532.4 269.0,532.2 269.8,532.0 270.6,532.1 271.4,531.7 272.2,531.8 273.0,531.9 273.8,532.1 274.6,531.5 275.4,531.4 276.2,531.2 277.0,531.3 277.8,531.7 278.6,531.8 279.4,531.7 280.2,532.0 281.0,531.6 281.9,531.8 282.7,532.0 283.5,531.8 284.3,532.2 285.1,531.9 285.9,532.1 286.7,532.2 287.5,532.4 288.3,532.6 289.1,533.0 289.9,533.4 290.7,533.2 291.5,533.6 292.3,533.5 293.1,534.0 293.9,533.9 294.7,533.9 295.5,534.2 296.3,534.4 297.1,534.7 297.9,534.9 298.7,535.5 299.5,535.7 300.3,535.6 301.1,536.0 301.9,535.9 302.7,535.8 303.5,536.2 304.3,536.5 305.1,536.6 305.9,536.8 306.7,536.5 307.5,536.8 308.3,537.2 309.1,537.5 309.9,537.2 310.7,536.9 311.5,537.0 312.3,537.1 313.1,537.1 313.9,537.0 314.7,537.3 315.5,537.1 316.3,537.1 317.1,537.0 317.9,537.2 318.7,537.2 319.5,537.1 320.3,536.6 321.1,536.7 321.9,536.5 322.7,536.5 323.6,536.7 324.4,536.7 325.2,536.2 326.0,535.8 326.8,535.9 327.6,535.6 328.4,535.4 329.2,535.1 330.0,534.8 330.8,534.9 331.6,534.6 332.4,534.3 333.2,534.3 334.0,534.1 334.8,534.1 335.6,534.1 336.4,534.2 337.2,533.7 338.0,533.7 338.8,533.8 339.6,533.2 340.4,532.8 341.2,532.6 342.0,532.1 342.8,532.3 343.6,532.1 344.4,531.8 345.2,531.4 346.0,531.1 346.8,530.9 347.6,530.4 348.4,529.5 349.2,528.7 350.0,528.1 350.8,527.5 351.6,526.8 352.4,525.5 353.2,524.6 354.0,523.3 354.8,522.4 355.6,521.0 356.4,518.9 357.2,516.3 358.0,513.2 358.8,510.0 359.6,507.2 360.4,504.7 361.2,502.8 362.0,501.7 362.8,500.6 363.6,500.0 364.4,499.1 365.2,499.0 366.1,498.4 366.9,497.7 367.7,497.8 368.5,497.5 369.3,497.2 370.1,496.8 370.9,496.6 371.7,496.7 372.5,496.5 373.3,495.9 374.1,495.5 374.9,495.7 375.7,495.8 376.5,495.8 377.3,495.7 378.1,495.3 378.9,495.2 379.7,494.6 380.5,494.3 381.3,494.3 382.1,494.0 382.9,493.9 383.7,493.7 384.5,493.6 385.3,493.6 386.1,493.4 386.9,493.1 387.7,492.6 388.5,492.2 389.3,492.2 390.1,491.6 390.9,490.9 391.7,490.4 392.5,489.8 393.3,489.8 394.1,489.3 394.9,489.0 395.7,488.0 396.5,487.5 397.3,486.6 398.1,486.1 398.9,485.2 399.7,484.8 400.5,484.6 401.3,484.2 402.1,484.1 402.9,483.7 403.7,483.9 404.5,484.1 405.3,484.4 406.1,484.5 406.9,485.3 407.7,485.6 408.6,486.0 409.4,486.2 410.2,486.3 411.0,486.9 411.8,487.1 412.6,487.5 413.4,487.8 414.2,488.5 415.0,488.5 415.8,488.5 416.6,489.1 417.4,489.5 418.2,489.5 419.0,490.2 419.8,490.8 420.6,491.3 421.4,491.2 422.2,491.4 423.0,491.8 423.8,492.1 424.6,492.8 425.4,492.9 426.2,493.3 427.0,493.6 427.8,494.0 428.6,494.4 429.4,494.9 430.2,495.5 431.0,495.7 431.8,496.1 432.6,496.2 433.4,496.3 434.2,496.5 435.0,497.0 435.8,497.6 436.6,498.0" fill="none" stroke="#111111" stroke-width="1.50" stroke-linejoin="round" />
<polyline points="260.2,529.3 261.0,529.3 261.8,529.3 262.6,528.8 263.4,528.8 264.2,528.7 265.0,528.3 265.8,528.1 266.6,527.7 267.4,527.7 268.2,527.3 269.0,527.4 269.8,527.3 270.6,527.1 271.4,527.2 272.2,527.2 273.0,527.3 273.8,527.8 274.6,527.8 275.4,528.0 276.2,528.3 277.0,528.7 277.8,528.7 278.6,528.9 279.4,529.0 280.2,529.2 281.0,529.4 281.9,529.7 282.7,530.0 283.5,530.3 284.3,530.8 285.1,530.8 285.9,531.2 286.7,531.4 287.5,531.5 288.3,531.7 289.1,532.3 289.9,532.4 290.7,532.6 291.5,533.1 292.3,533.5 293.1,533.7 293.9,534.1 294.7,534.1 295.5,534.4 296.3,534.6 297.1,534.9 297.9,535.1 298.7,535.1 299.5,535.5 300.3,535.8 301.1,536.0 301.9,536.3 302.7,536.4 303.5,536.6 304.3,536.8 305.1,536.9 305.9,537.1 306.7,537.5 307.5,537.4 308.3,537.7 309.1,537.9 309.9,538.1 310.7,538.0 311.5,538.0 312.3,538.2 313.1,538.5 313.9,538.8 314.7,538.7 315.5,539.0 316.3,539.0 317.1,539.2 317.9,539.3 318.7,539.4 319.5,539.6 320.3,539.8 321.1,539.8 321.9,539.6 322.7,539.7 323.6,539.9 324.4,539.9 325.2,540.2 326.0,540.2 326.8,540.1 327.6,540.0 328.4,540.2 329.2,540.2 330.0,540.3 330.8,540.5 331.6,540.5 332.4,540.4 333.2,540.5 334.0,540.7 334.8,540.7 335.6,540.8 336.4,541.0 337.2,541.0 338.0,541.0 338.8,541.1 339.6,541.0 340.4,541.5 341.2,541.5 342.0,541.5 342.8,541.7 343.6,541.9 344.4,541.8 345.2,541.9 346.0,542.1 346.8,542.3 347.6,542.0 348.4,542.2 349.2,542.4 350.0,542.5 350.8,542.6 351.6,542.4 352.4,542.6 353.2,542.7 354.0,542.8 354.8,542.8 355.6,542.9 356.4,543.0 357.2,542.8 358.0,542.7 358.8,542.7 359.6,543.0 360.4,543.1 361.2,543.0 362.0,543.3 362.8,543.4 363.6,543.4 364.4,543.5 365.2,543.4 366.1,543.3 366.9,543.5 367.7,543.7 368.5,543.8 369.3,543.9 370.1,544.1 370.9,544.0 371.7,544.1 372.5,543.9 373.3,543.9 374.1,544.2 374.9,544.2 375.7,544.2 376.5,544.5 377.3,544.5 378.1,544.7 378.9,544.5 379.7,544.8 380.5,544.7 381.3,544.5 382.1,544.4 382.9,544.7 383.7,544.8 384.5,545.0 385.3,545.1 386.1,544.9 386.9,544.9 387.7,545.2 388.5,545.3 389.3,545.3 390.1,545.5 390.9,545.4 391.7,545.3 392.5,545.4 393.3,545.6 394.1,545.5 394.9,545.6 395.7,545.9 396.5,546.0 397.3,546.2 398.1,546.0 398.9,546.1 399.7,546.1 400.5,546.0 401.3,546.0 402.1,546.3 402.9,546.5 403.7,546.4 404.5,546.5 405.3,546.7 406.1,546.8 406.9,547.1 407.7,547.3 408.6,547.6 409.4,547.7 410.2,547.9 411.0,547.9 411.8,547.8 412.6,548.2 413.4,548.3 414.2,548.4 415.0,548.6 415.8,548.8 416.6,548.9 417.4,549.4 418.2,549.3 419.0,549.4 419.8,549.5 420.6,549.6 421.4,550.0 422.2,550.3 423.0,550.5 423.8,550.5 424.6,550.4 425.4,550.3 426.2,550.6 427.0,550.7 427.8,550.7 428.6,551.0 429.4,550.9 430.2,550.9 431.0,551.0 431.8,551.0 432.6,551.1 433.4,551.3 434.2,551.6 435.0,551.8 435.8,552.0 436.6,552.3" fill="none" stroke="#ff1a1a" stroke-width="1.50" stroke-linejoin="round" />
<polyline points="260.2,530.7 261.0,530.5 261.8,530.4 262.6,530.7 263.4,530.6 264.2,530.6 265.0,530.5 265.8,530.6 266.6,530.6 267.4,530.4 268.2,530.4 269.0,530.3 269.8,530.4 270.6,530.5 271.4,530.2 272.2,530.2 273.0,530.2 273.8,530.1 274.6,530.3 275.4,530.6 276.2,530.5 277.0,530.6 277.8,530.7 278.6,530.9 279.4,530.9 280.2,531.3 281.0,531.4 281.9,531.7 282.7,531.9 283.5,532.1 284.3,532.4 285.1,532.8 285.9,532.9 286.7,532.9 287.5,533.1 288.3,533.3 289.1,533.4 289.9,533.7 290.7,534.0 291.5,534.2 292.3,534.1 293.1,534.4 293.9,534.7 294.7,535.0 295.5,535.2 296.3,535.3 297.1,535.3 297.9,535.3 298.7,535.5 299.5,535.7 300.3,536.0 301.1,536.2 301.9,536.1 302.7,536.3 303.5,536.6 304.3,536.9 305.1,536.9 305.9,537.0 306.7,537.1 307.5,537.5 308.3,537.6 309.1,537.6 309.9,537.8 310.7,537.8 311.5,538.3 312.3,538.2 313.1,538.6 313.9,538.7 314.7,539.0 315.5,538.9 316.3,538.9 317.1,538.8 317.9,538.9 318.7,538.9 319.5,539.1 320.3,539.1 321.1,539.2 321.9,539.5 322.7,539.5 323.6,539.7 324.4,540.0 325.2,540.2 326.0,540.3 326.8,540.4 327.6,540.2 328.4,540.1 329.2,540.4 330.0,540.7 330.8,540.7 331.6,540.8 332.4,540.8 333.2,540.7 334.0,540.9 334.8,541.0 335.6,540.9 336.4,541.0 337.2,541.2 338.0,541.1 338.8,541.1 339.6,541.0 340.4,541.2 341.2,541.4 342.0,541.4 342.8,541.4 343.6,541.5 344.4,541.8 345.2,541.9 346.0,542.0 346.8,541.9 347.6,541.9 348.4,542.0 349.2,541.9 350.0,542.2 350.8,542.2 351.6,542.3 352.4,542.3 353.2,542.2 354.0,542.4 354.8,542.3 355.6,542.6 356.4,542.6 357.2,542.6 358.0,542.8 358.8,542.7 359.6,542.8 360.4,542.8 361.2,542.7 362.0,543.0 362.8,543.1 363.6,542.9 364.4,543.1 365.2,542.9 366.1,543.1 366.9,543.0 367.7,543.2 368.5,543.2 369.3,543.2 370.1,543.4 370.9,543.2 371.7,543.2 372.5,543.1 373.3,543.2 374.1,543.2 374.9,543.2 375.7,543.4 376.5,543.2 377.3,543.5 378.1,543.3 378.9,543.2 379.7,543.4 380.5,543.3 381.3,543.4 382.1,543.6 382.9,543.8 383.7,544.1 384.5,544.3 385.3,544.5 386.1,544.3 386.9,544.6 387.7,544.8 388.5,544.9 389.3,544.8 390.1,544.9 390.9,544.9 391.7,545.0 392.5,544.8 393.3,544.6 394.1,544.2 394.9,543.8 395.7,543.2 396.5,542.8 397.3,542.7 398.1,542.4 398.9,542.2 399.7,541.9 400.5,541.7 401.3,541.4 402.1,541.5 402.9,541.4 403.7,541.6 404.5,541.5 405.3,541.7 406.1,542.2 406.9,542.2 407.7,542.5 408.6,542.7 409.4,543.0 410.2,542.8 411.0,543.1 411.8,543.0 412.6,543.1 413.4,543.1 414.2,543.3 415.0,543.5 415.8,543.3 416.6,543.2 417.4,543.5 418.2,543.3 419.0,543.2 419.8,543.5 420.6,543.7 421.4,543.7 422.2,543.8 423.0,543.7 423.8,543.7 424.6,543.7 425.4,543.7 426.2,543.6 427.0,543.6 427.8,543.7 428.6,543.8 429.4,543.9 430.2,544.1 431.0,544.3 431.8,544.1 432.6,544.2 433.4,544.2 434.2,544.3 435.0,544.2 435.8,544.2 436.6,544.1" fill="none" stroke="#1a2fe8" stroke-width="1.50" stroke-linejoin="round" />
<polyline points="260.2,531.5 261.0,531.3 261.8,531.5 262.6,531.2 263.4,531.4 264.2,531.2 265.0,531.4 265.8,531.1 266.6,531.3 267.4,531.0 268.2,530.8 269.0,530.7 269.8,530.8 270.6,530.6 271.4,530.4 272.2,530.8 273.0,530.8 273.8,530.6 274.6,530.7 275.4,530.9 276.2,531.1 277.0,530.9 277.8,531.4 278.6,531.3 279.4,531.3 280.2,531.7 281.0,531.9 281.9,532.1 282.7,532.2 283.5,532.4 284.3,532.3 285.1,532.2 285.9,532.7 286.7,532.7 287.5,533.2 288.3,533.6 289.1,533.5 289.9,533.5 290.7,533.5 291.5,533.5 292.3,533.6 293.1,534.1 293.9,534.3 294.7,534.3 295.5,534.9 296.3,535.2 297.1,535.7 297.9,536.2 298.7,536.5 299.5,536.7 300.3,537.0 301.1,537.9 301.9,538.8 302.7,539.5 303.5,540.6 304.3,541.9 305.1,543.3 305.9,544.4 306.7,545.6 307.5,546.4 308.3,547.0 309.1,547.6 309.9,547.8 310.7,548.3 311.5,548.6 312.3,548.5 313.1,548.8 313.9,549.0 314.7,548.8 315.5,548.7 316.3,548.3 317.1,548.2 317.9,547.8 318.7,547.5 319.5,546.8 320.3,546.2 321.1,545.4 321.9,544.5 322.7,544.1 323.6,543.2 324.4,542.6 325.2,542.2 326.0,542.1 326.8,542.0 327.6,542.1 328.4,542.1 329.2,542.1 330.0,541.9 330.8,541.6 331.6,541.0 332.4,539.9 333.2,538.5 334.0,536.5 334.8,534.4 335.6,532.0 336.4,529.6 337.2,527.2 338.0,524.9 338.8,522.6 339.6,520.3 340.4,518.9 341.2,517.6 342.0,516.2 342.8,515.2 343.6,514.0 344.4,513.1 345.2,512.4 346.0,511.4 346.8,510.7 347.6,509.4 348.4,508.2 349.2,507.3 350.0,506.1 350.8,505.4 351.6,504.4 352.4,503.7 353.2,502.9 354.0,501.7 354.8,501.1 355.6,499.9 356.4,499.2 357.2,498.4 358.0,498.1 358.8,497.3 359.6,496.6 360.4,496.4 361.2,496.1 362.0,495.7 362.8,495.1 363.6,494.8 364.4,494.0 365.2,493.5 366.1,492.9 366.9,492.5 367.7,491.8 368.5,491.3 369.3,490.6 370.1,490.1 370.9,489.2 371.7,488.5 372.5,487.8 373.3,487.4 374.1,487.0 374.9,486.5 375.7,486.0 376.5,484.9 377.3,484.4 378.1,483.4 378.9,482.9 379.7,482.1 380.5,481.5 381.3,480.8 382.1,479.8 382.9,479.0 383.7,478.0 384.5,477.5 385.3,476.8 386.1,476.2 386.9,475.4 387.7,474.1 388.5,473.2 389.3,472.3 390.1,471.5 390.9,470.5 391.7,469.5 392.5,468.8 393.3,468.0 394.1,466.9 394.9,465.4 395.7,464.0 396.5,462.8 397.3,461.1 398.1,458.8 398.9,456.0 399.7,453.3 400.5,451.2 401.3,449.5 402.1,448.6 402.9,447.7 403.7,447.3 404.5,446.9 405.3,447.2 406.1,447.3 406.9,447.5 407.7,447.6 408.6,448.1 409.4,448.6 410.2,448.6 411.0,448.6 411.8,449.1 412.6,449.6 413.4,450.2 414.2,450.5 415.0,450.6 415.8,451.2 416.6,451.7 417.4,452.0 418.2,452.6 419.0,453.2 419.8,453.4 420.6,453.4 421.4,453.6 422.2,454.1 423.0,454.3 423.8,454.5 424.6,454.8 425.4,455.3 426.2,455.8 427.0,455.9 427.8,456.1 428.6,456.5 429.4,457.0 430.2,457.4 431.0,457.3 431.8,457.3 432.6,457.7 433.4,457.9 434.2,458.2 435.0,458.7 435.8,458.9 436.6,459.2" fill="none" stroke="#4a9be8" stroke-width="1.50" stroke-linejoin="round" />
<polyline points="260.2,536.6 261.0,535.6 261.8,534.7 262.6,534.3 263.4,533.2 264.2,532.5 265.0,532.2 265.8,531.1 266.6,530.9 267.4,530.6 268.2,530.3 269.0,530.1 269.8,530.2 270.6,529.9 271.4,529.6 272.2,529.7 273.0,529.5 273.8,529.5 274.6,529.4 275.4,529.9 276.2,530.1 277.0,530.1 277.8,530.5 278.6,530.1 279.4,530.2 280.2,530.7 281.0,530.7 281.9,530.8 282.7,531.2 283.5,531.4 284.3,531.4 285.1,531.8 285.9,531.7 286.7,531.7 287.5,532.0 288.3,531.8 289.1,532.4 289.9,532.7 290.7,532.6 291.5,533.1 292.3,533.3 293.1,533.5 293.9,533.8 294.7,534.0 295.5,534.3 296.3,534.5 297.1,535.0 297.9,534.8 298.7,535.1 299.5,535.5 300.3,535.4 301.1,535.1 301.9,534.9 302.7,534.9 303.5,534.8 304.3,534.9 305.1,534.5 305.9,534.4 306.7,534.5 307.5,534.4 308.3,534.2 309.1,533.5 309.9,532.9 310.7,532.5 311.5,532.5 312.3,532.4 313.1,531.6 313.9,531.5 314.7,531.4 315.5,530.9 316.3,530.4 317.1,530.0 317.9,529.7 318.7,529.4 319.5,528.9 320.3,528.5 321.1,527.9 321.9,527.5 322.7,527.2 323.6,526.3 324.4,526.3 325.2,525.6 326.0,525.2 326.8,524.5 327.6,523.9 328.4,523.5 329.2,523.0 330.0,522.7 330.8,522.4 331.6,521.5 332.4,521.1 333.2,520.7 334.0,519.7 334.8,519.0 335.6,518.8 336.4,518.1 337.2,517.7 338.0,516.8 338.8,516.5 339.6,515.6 340.4,515.2 341.2,515.2 342.0,514.8 342.8,514.1 343.6,513.7 344.4,513.8 345.2,513.6 346.0,513.5 346.8,513.5 347.6,513.0 348.4,512.6 349.2,512.6 350.0,512.3 350.8,511.8 351.6,511.4 352.4,511.6 353.2,511.7 354.0,511.1 354.8,511.2 355.6,511.3 356.4,510.8 357.2,510.9 358.0,510.5 358.8,510.3 359.6,510.3 360.4,510.2 361.2,510.1 362.0,509.6 362.8,509.6 363.6,509.6 364.4,509.1 365.2,509.1 366.1,509.0 366.9,508.8 367.7,508.9 368.5,508.7 369.3,508.0 370.1,507.3 370.9,507.2 371.7,506.8 372.5,506.6 373.3,505.8 374.1,505.0 374.9,503.9 375.7,503.0 376.5,501.9 377.3,500.3 378.1,499.1 378.9,498.2 379.7,497.6 380.5,496.9 381.3,496.3 382.1,495.6 382.9,494.7 383.7,494.0 384.5,493.6 385.3,492.7 386.1,492.1 386.9,491.5 387.7,490.8 388.5,490.7 389.3,490.0 390.1,489.5 390.9,489.1 391.7,489.4 392.5,488.9 393.3,488.4 394.1,488.6 394.9,487.9 395.7,487.4 396.5,487.4 397.3,486.5 398.1,485.4 398.9,484.2 399.7,483.6 400.5,482.3 401.3,482.1 402.1,482.0 402.9,481.5 403.7,481.6 404.5,482.0 405.3,482.2 406.1,482.4 406.9,482.9 407.7,482.9 408.6,483.1 409.4,483.6 410.2,483.9 411.0,484.3 411.8,484.0 412.6,484.4 413.4,484.2 414.2,484.5 415.0,484.7 415.8,485.1 416.6,485.2 417.4,485.6 418.2,485.7 419.0,485.6 419.8,485.5 420.6,485.9 421.4,486.3 422.2,486.2 423.0,486.6 423.8,486.9 424.6,487.0 425.4,487.1 426.2,486.9 427.0,487.5 427.8,487.3 428.6,487.6 429.4,488.0 430.2,488.3 431.0,488.1 431.8,488.5 432.6,488.7 433.4,489.1 434.2,489.2 435.0,489.1 435.8,489.1 436.6,489.4" fill="none" stroke="#b01cc8" stroke-width="1.50" stroke-linejoin="round" />
<polyline points="260.2,527.2 261.0,527.3 261.8,527.3 262.6,527.0 263.4,527.1 264.2,526.6 265.0,526.3 265.8,526.5 266.6,526.2 267.4,526.1 268.2,525.9 269.0,525.6 269.8,525.5 270.6,525.7 271.4,525.7 272.2,525.8 273.0,525.8 273.8,526.4 274.6,526.3 275.4,526.8 276.2,527.2 277.0,527.2 277.8,527.2 278.6,527.2 279.4,527.7 280.2,527.8 281.0,528.4 281.9,528.4 282.7,528.8 283.5,529.1 284.3,529.5 285.1,530.0 285.9,530.4 286.7,530.3 287.5,530.5 288.3,530.5 289.1,530.7 289.9,531.1 290.7,531.3 291.5,531.9 292.3,532.0 293.1,532.5 293.9,532.6 294.7,533.1 295.5,533.5 296.3,533.8 297.1,534.3 297.9,534.8 298.7,534.8 299.5,534.9 300.3,535.4 301.1,535.5 301.9,535.7 302.7,535.7 303.5,535.7 304.3,536.2 305.1,536.4 305.9,536.8 306.7,536.7 307.5,536.6 308.3,536.7 309.1,536.9 309.9,537.3 310.7,537.6 311.5,537.6 312.3,537.7 313.1,537.7 313.9,537.2 314.7,537.2 315.5,536.8 316.3,536.5 317.1,536.2 317.9,535.9 318.7,535.6 319.5,535.5 320.3,535.3 321.1,534.9 321.9,534.8 322.7,534.4 323.6,533.7 324.4,533.1 325.2,532.2 326.0,531.6 326.8,530.8 327.6,530.2 328.4,529.4 329.2,528.4 330.0,527.8 330.8,527.0 331.6,525.9 332.4,524.8 333.2,523.6 334.0,522.4 334.8,521.1 335.6,519.7 336.4,518.0 337.2,516.6 338.0,515.2 338.8,513.5 339.6,512.0 340.4,510.9 341.2,509.2 342.0,507.9 342.8,506.4 343.6,505.2 344.4,504.0 345.2,502.9 346.0,502.0 346.8,500.4 347.6,499.3 348.4,498.3 349.2,497.3 350.0,496.0 350.8,494.5 351.6,493.5 352.4,492.2 353.2,491.0 354.0,489.9 354.8,488.7 355.6,487.5 356.4,486.3 357.2,485.8 358.0,485.0 358.8,484.3 359.6,483.7 360.4,483.1 361.2,482.5 362.0,482.1 362.8,481.5 363.6,481.4 364.4,480.8 365.2,480.4 366.1,480.6 366.9,480.6 367.7,480.3 368.5,480.5 369.3,480.4 370.1,480.8 370.9,480.8 371.7,481.0 372.5,481.3 373.3,481.4 374.1,481.6 374.9,481.8 375.7,482.6 376.5,483.0 377.3,483.6 378.1,483.9 378.9,484.5 379.7,485.1 380.5,485.7 381.3,486.3 382.1,486.6 382.9,486.9 383.7,487.0 384.5,487.0 385.3,487.2 386.1,487.5 386.9,487.9 387.7,487.8 388.5,488.1 389.3,488.0 390.1,487.8 390.9,487.8 391.7,487.8 392.5,488.0 393.3,487.9 394.1,487.2 394.9,487.0 395.7,486.5 396.5,485.4 397.3,484.0 398.1,481.9 398.9,479.8 399.7,477.7 400.5,475.7 401.3,474.0 402.1,472.9 402.9,472.7 403.7,472.2 404.5,471.9 405.3,472.0 406.1,472.3 406.9,472.7 407.7,472.5 408.6,473.0 409.4,473.5 410.2,473.8 411.0,473.6 411.8,473.6 412.6,473.9 413.4,474.1 414.2,474.4 415.0,475.2 415.8,475.7 416.6,476.0 417.4,476.3 418.2,476.7 419.0,477.1 419.8,477.8 420.6,478.3 421.4,478.4 422.2,478.8 423.0,479.5 423.8,480.0 424.6,480.1 425.4,480.8 426.2,481.5 427.0,481.7 427.8,482.1 428.6,482.7 429.4,483.1 430.2,483.7 431.0,484.0 431.8,484.6 432.6,485.0 433.4,485.2 434.2,485.7 435.0,486.3 435.8,487.0 436.6,487.4" fill="none" stroke="#22dd22" stroke-width="1.50" stroke-linejoin="round" />
<line x1="260.20" y1="421.00" x2="260.20" y2="553.40" stroke="#000" stroke-width="1.85" />
<line x1="260.20" y1="533.00" x2="436.50" y2="533.00" stroke="#000" stroke-width="1.40" />
<line x1="255.20" y1="533.00" x2="260.20" y2="533.00" stroke="#000" stroke-width="1.40" />
<text x="251.70" y="536.10" font-size="8.80" text-anchor="end" stroke="#000" stroke-width="0.12">0</text>
<line x1="255.20" y1="497.85" x2="260.20" y2="497.85" stroke="#000" stroke-width="1.40" />
<text x="251.70" y="500.95" font-size="8.80" text-anchor="end" stroke="#000" stroke-width="0.12">50</text>
<line x1="255.20" y1="462.70" x2="260.20" y2="462.70" stroke="#000" stroke-width="1.40" />
<text x="251.70" y="465.80" font-size="8.80" text-anchor="end" stroke="#000" stroke-width="0.12">100</text>
<line x1="255.20" y1="427.55" x2="260.20" y2="427.55" stroke="#000" stroke-width="1.40" />
<text x="251.70" y="430.65" font-size="8.80" text-anchor="end" stroke="#000" stroke-width="0.12">150</text>
<line x1="300.29" y1="533.00" x2="300.29" y2="538.00" stroke="#000" stroke-width="1.30" />
<text x="300.29" y="546.00" font-size="8.80" text-anchor="middle" stroke="#000" stroke-width="0.12">150</text>
<line x1="340.39" y1="533.00" x2="340.39" y2="538.00" stroke="#000" stroke-width="1.30" />
<text x="340.39" y="546.00" font-size="8.80" text-anchor="middle" stroke="#000" stroke-width="0.12">300</text>
<line x1="380.49" y1="533.00" x2="380.49" y2="538.00" stroke="#000" stroke-width="1.30" />
<text x="380.49" y="546.00" font-size="8.80" text-anchor="middle" stroke="#000" stroke-width="0.12">450</text>
<line x1="420.58" y1="533.00" x2="420.58" y2="538.00" stroke="#000" stroke-width="1.30" />
<text x="420.58" y="546.00" font-size="8.80" text-anchor="middle" stroke="#000" stroke-width="0.12">600</text>
<text x="350.00" y="560.00" font-size="9.20" text-anchor="middle" stroke="#000" stroke-width="0.12">Time (s)</text>
<text x="231.80" y="478.70" font-size="9.30" text-anchor="middle" transform="rotate(-90.00 231.80 478.70)" stroke="#000" stroke-width="0.12">GCaMP (ΔF/F<tspan font-size="5.8" dy="1.5">o</tspan><tspan dy="-1.5">, %)</tspan></text>
<line x1="266.60" y1="421.00" x2="275.30" y2="421.00" stroke="#111" stroke-width="1.80" />
<text x="278.50" y="424.00" font-size="8.10" stroke="#000" stroke-width="0.12">WT</text>
<line x1="266.60" y1="431.80" x2="275.30" y2="431.80" stroke="#ff1a1a" stroke-width="1.80" />
<text x="278.50" y="433.30" font-size="8.10" font-style="italic" stroke="#000" stroke-width="0.12">gcy-28(tm2411)</text>
<line x1="266.60" y1="441.70" x2="275.30" y2="441.70" stroke="#1a2fe8" stroke-width="1.80" />
<text x="278.50" y="444.00" font-size="8.10" font-style="italic" stroke="#000" stroke-width="0.12">gcy-28(tm3028)</text>
<line x1="266.60" y1="452.50" x2="275.30" y2="452.50" stroke="#4a9be8" stroke-width="1.80" />
<text x="278.50" y="455.00" font-size="8.10" font-style="italic" stroke="#000" stroke-width="0.12">gcy-28(tm3028);Pvap-1::gcy-28</text>
<line x1="266.60" y1="463.60" x2="275.30" y2="463.60" stroke="#b01cc8" stroke-width="1.80" />
<text x="278.50" y="465.80" font-size="8.10" font-style="italic" stroke="#000" stroke-width="0.12">gcy-28(tm3028);PR11D1.3::gcy-28</text>
<line x1="266.60" y1="474.50" x2="275.30" y2="474.50" stroke="#22dd22" stroke-width="1.80" />
<text x="278.50" y="477.60" font-size="8.10" font-style="italic" stroke="#000" stroke-width="0.12">gcy-8,gcy-18,gcy-23</text>
<text x="459.20" y="400.80" font-size="19.20" stroke="#000" stroke-width="0.12">h</text>
<line x1="497.10" y1="422.50" x2="497.10" y2="524.80" stroke="#000" stroke-width="1.85" />
<line x1="497.10" y1="524.80" x2="678.00" y2="524.80" stroke="#000" stroke-width="1.85" />
<line x1="492.60" y1="524.80" x2="497.10" y2="524.80" stroke="#000" stroke-width="1.40" />
<text x="490.10" y="527.90" font-size="8.80" text-anchor="end" stroke="#000" stroke-width="0.12">0</text>
<line x1="492.60" y1="495.55" x2="497.10" y2="495.55" stroke="#000" stroke-width="1.40" />
<text x="490.10" y="498.65" font-size="8.80" text-anchor="end" stroke="#000" stroke-width="0.12">100</text>
<line x1="492.60" y1="466.30" x2="497.10" y2="466.30" stroke="#000" stroke-width="1.40" />
<text x="490.10" y="469.40" font-size="8.80" text-anchor="end" stroke="#000" stroke-width="0.12">200</text>
<line x1="492.60" y1="437.05" x2="497.10" y2="437.05" stroke="#000" stroke-width="1.40" />
<text x="490.10" y="440.15" font-size="8.80" text-anchor="end" stroke="#000" stroke-width="0.12">300</text>
<text x="472.70" y="476.90" font-size="10.20" text-anchor="middle" transform="rotate(-90.00 472.70 476.90)" stroke="#000" stroke-width="0.12">Maximum GCaMP (ΔF/F<tspan font-size="5.8" dy="1.5">o</tspan><tspan dy="-1.5">, %)</tspan></text>
<rect x="507.10" y="502.40" width="19.10" height="22.40" fill="#d8d8d8" stroke="#111" stroke-width="1.90" />
<rect x="540.50" y="522.50" width="7.20" height="2.30" fill="#fde0e0" stroke="#ff1a1a" stroke-width="1.90" />
<rect x="569.00" y="522.50" width="7.20" height="2.30" fill="#c8c8f5" stroke="#1a2fe8" stroke-width="1.90" />
<rect x="592.50" y="484.50" width="19.10" height="40.30" fill="#d0e2f8" stroke="#4a9be8" stroke-width="1.90" />
<rect x="621.00" y="497.60" width="18.50" height="27.20" fill="#f2c8f2" stroke="#b01cc8" stroke-width="1.90" />
<rect x="649.40" y="496.80" width="19.10" height="28.00" fill="#d4f6d4" stroke="#22dd22" stroke-width="1.90" />
<circle cx="515.63" cy="430.40" r="1.45" fill="#fff" stroke="#9a9a9a" stroke-width="0.75"/>
<circle cx="514.28" cy="454.90" r="1.45" fill="#fff" stroke="#9a9a9a" stroke-width="0.75"/>
<circle cx="513.69" cy="493.90" r="1.45" fill="#fff" stroke="#9a9a9a" stroke-width="0.75"/>
<circle cx="520.42" cy="501.00" r="1.45" fill="#fff" stroke="#9a9a9a" stroke-width="0.75"/>
<circle cx="517.40" cy="507.00" r="1.45" fill="#fff" stroke="#9a9a9a" stroke-width="0.75"/>
<circle cx="518.41" cy="510.00" r="1.45" fill="#fff" stroke="#9a9a9a" stroke-width="0.75"/>
<circle cx="517.18" cy="513.00" r="1.45" fill="#fff" stroke="#9a9a9a" stroke-width="0.75"/>
<circle cx="515.65" cy="515.00" r="1.45" fill="#fff" stroke="#9a9a9a" stroke-width="0.75"/>
<circle cx="518.78" cy="517.00" r="1.45" fill="#fff" stroke="#9a9a9a" stroke-width="0.75"/>
<circle cx="517.39" cy="519.00" r="1.45" fill="#fff" stroke="#9a9a9a" stroke-width="0.75"/>
<circle cx="519.23" cy="521.00" r="1.45" fill="#fff" stroke="#9a9a9a" stroke-width="0.75"/>
<circle cx="518.15" cy="522.00" r="1.45" fill="#fff" stroke="#9a9a9a" stroke-width="0.75"/>
<circle cx="545.63" cy="517.50" r="1.45" fill="#fff" stroke="#9a9a9a" stroke-width="0.75"/>
<circle cx="538.88" cy="521.00" r="1.45" fill="#fff" stroke="#9a9a9a" stroke-width="0.75"/>
<circle cx="541.63" cy="522.50" r="1.45" fill="#fff" stroke="#9a9a9a" stroke-width="0.75"/>
<circle cx="541.06" cy="523.00" r="1.45" fill="#fff" stroke="#9a9a9a" stroke-width="0.75"/>
<circle cx="546.70" cy="523.00" r="1.45" fill="#fff" stroke="#9a9a9a" stroke-width="0.75"/>
<circle cx="546.04" cy="523.00" r="1.45" fill="#fff" stroke="#9a9a9a" stroke-width="0.75"/>
<circle cx="548.41" cy="523.00" r="1.45" fill="#fff" stroke="#9a9a9a" stroke-width="0.75"/>
<circle cx="539.56" cy="523.00" r="1.45" fill="#fff" stroke="#9a9a9a" stroke-width="0.75"/>
<circle cx="543.24" cy="523.00" r="1.45" fill="#fff" stroke="#9a9a9a" stroke-width="0.75"/>
<circle cx="538.93" cy="523.00" r="1.45" fill="#fff" stroke="#9a9a9a" stroke-width="0.75"/>
<circle cx="541.01" cy="523.00" r="1.45" fill="#fff" stroke="#9a9a9a" stroke-width="0.75"/>
<circle cx="544.16" cy="523.00" r="1.45" fill="#fff" stroke="#9a9a9a" stroke-width="0.75"/>
<circle cx="538.89" cy="523.00" r="1.45" fill="#fff" stroke="#9a9a9a" stroke-width="0.75"/>
<circle cx="540.79" cy="523.00" r="1.45" fill="#fff" stroke="#9a9a9a" stroke-width="0.75"/>
<circle cx="545.75" cy="523.00" r="1.45" fill="#fff" stroke="#9a9a9a" stroke-width="0.75"/>
<circle cx="567.52" cy="500.50" r="1.45" fill="#fff" stroke="#9a9a9a" stroke-width="0.75"/>
<circle cx="574.76" cy="520.00" r="1.45" fill="#fff" stroke="#9a9a9a" stroke-width="0.75"/>
<circle cx="568.68" cy="521.00" r="1.45" fill="#fff" stroke="#9a9a9a" stroke-width="0.75"/>
<circle cx="572.19" cy="522.50" r="1.45" fill="#fff" stroke="#9a9a9a" stroke-width="0.75"/>
<circle cx="574.49" cy="523.00" r="1.45" fill="#fff" stroke="#9a9a9a" stroke-width="0.75"/>
<circle cx="575.82" cy="523.00" r="1.45" fill="#fff" stroke="#9a9a9a" stroke-width="0.75"/>
<circle cx="572.09" cy="523.00" r="1.45" fill="#fff" stroke="#9a9a9a" stroke-width="0.75"/>
<circle cx="572.58" cy="523.00" r="1.45" fill="#fff" stroke="#9a9a9a" stroke-width="0.75"/>
<circle cx="567.31" cy="523.00" r="1.45" fill="#fff" stroke="#9a9a9a" stroke-width="0.75"/>
<circle cx="571.86" cy="523.00" r="1.45" fill="#fff" stroke="#9a9a9a" stroke-width="0.75"/>
<circle cx="571.20" cy="523.00" r="1.45" fill="#fff" stroke="#9a9a9a" stroke-width="0.75"/>
<circle cx="576.48" cy="523.00" r="1.45" fill="#fff" stroke="#9a9a9a" stroke-width="0.75"/>
<circle cx="573.12" cy="523.00" r="1.45" fill="#fff" stroke="#9a9a9a" stroke-width="0.75"/>
<circle cx="575.41" cy="523.00" r="1.45" fill="#fff" stroke="#9a9a9a" stroke-width="0.75"/>
<circle cx="571.87" cy="523.00" r="1.45" fill="#fff" stroke="#9a9a9a" stroke-width="0.75"/>
<circle cx="569.04" cy="523.00" r="1.45" fill="#fff" stroke="#9a9a9a" stroke-width="0.75"/>
<circle cx="576.46" cy="523.00" r="1.45" fill="#fff" stroke="#9a9a9a" stroke-width="0.75"/>
<circle cx="601.36" cy="436.10" r="1.45" fill="#fff" stroke="#9a9a9a" stroke-width="0.75"/>
<circle cx="602.29" cy="458.30" r="1.45" fill="#fff" stroke="#9a9a9a" stroke-width="0.75"/>
<circle cx="604.53" cy="464.60" r="1.45" fill="#fff" stroke="#9a9a9a" stroke-width="0.75"/>
<circle cx="599.74" cy="466.90" r="1.45" fill="#fff" stroke="#9a9a9a" stroke-width="0.75"/>
<circle cx="600.08" cy="476.30" r="1.45" fill="#fff" stroke="#9a9a9a" stroke-width="0.75"/>
<circle cx="598.70" cy="484.00" r="1.45" fill="#fff" stroke="#9a9a9a" stroke-width="0.75"/>
<circle cx="599.32" cy="493.00" r="1.45" fill="#fff" stroke="#9a9a9a" stroke-width="0.75"/>
<circle cx="598.56" cy="499.00" r="1.45" fill="#fff" stroke="#9a9a9a" stroke-width="0.75"/>
<circle cx="599.60" cy="505.00" r="1.45" fill="#fff" stroke="#9a9a9a" stroke-width="0.75"/>
<circle cx="602.10" cy="507.00" r="1.45" fill="#fff" stroke="#9a9a9a" stroke-width="0.75"/>
<circle cx="605.43" cy="513.00" r="1.45" fill="#fff" stroke="#9a9a9a" stroke-width="0.75"/>
<circle cx="603.35" cy="517.00" r="1.45" fill="#fff" stroke="#9a9a9a" stroke-width="0.75"/>
<circle cx="628.60" cy="467.40" r="1.45" fill="#fff" stroke="#9a9a9a" stroke-width="0.75"/>
<circle cx="630.12" cy="471.10" r="1.45" fill="#fff" stroke="#9a9a9a" stroke-width="0.75"/>
<circle cx="627.27" cy="474.00" r="1.45" fill="#fff" stroke="#9a9a9a" stroke-width="0.75"/>
<circle cx="629.07" cy="478.00" r="1.45" fill="#fff" stroke="#9a9a9a" stroke-width="0.75"/>
<circle cx="627.21" cy="481.00" r="1.45" fill="#fff" stroke="#9a9a9a" stroke-width="0.75"/>
<circle cx="626.78" cy="486.00" r="1.45" fill="#fff" stroke="#9a9a9a" stroke-width="0.75"/>
<circle cx="628.69" cy="490.00" r="1.45" fill="#fff" stroke="#9a9a9a" stroke-width="0.75"/>
<circle cx="627.52" cy="492.00" r="1.45" fill="#fff" stroke="#9a9a9a" stroke-width="0.75"/>
<circle cx="628.88" cy="495.00" r="1.45" fill="#fff" stroke="#9a9a9a" stroke-width="0.75"/>
<circle cx="631.90" cy="500.00" r="1.45" fill="#fff" stroke="#9a9a9a" stroke-width="0.75"/>
<circle cx="626.95" cy="503.00" r="1.45" fill="#fff" stroke="#9a9a9a" stroke-width="0.75"/>
<circle cx="631.07" cy="506.00" r="1.45" fill="#fff" stroke="#9a9a9a" stroke-width="0.75"/>
<circle cx="627.65" cy="509.00" r="1.45" fill="#fff" stroke="#9a9a9a" stroke-width="0.75"/>
<circle cx="632.27" cy="512.00" r="1.45" fill="#fff" stroke="#9a9a9a" stroke-width="0.75"/>
<circle cx="631.86" cy="515.00" r="1.45" fill="#fff" stroke="#9a9a9a" stroke-width="0.75"/>
<circle cx="628.18" cy="520.00" r="1.45" fill="#fff" stroke="#9a9a9a" stroke-width="0.75"/>
<circle cx="661.72" cy="464.00" r="1.45" fill="#fff" stroke="#9a9a9a" stroke-width="0.75"/>
<circle cx="658.30" cy="480.50" r="1.45" fill="#fff" stroke="#9a9a9a" stroke-width="0.75"/>
<circle cx="659.62" cy="489.60" r="1.45" fill="#fff" stroke="#9a9a9a" stroke-width="0.75"/>
<circle cx="661.52" cy="495.00" r="1.45" fill="#fff" stroke="#9a9a9a" stroke-width="0.75"/>
<circle cx="657.10" cy="500.00" r="1.45" fill="#fff" stroke="#9a9a9a" stroke-width="0.75"/>
<circle cx="659.11" cy="507.00" r="1.45" fill="#fff" stroke="#9a9a9a" stroke-width="0.75"/>
<circle cx="659.59" cy="512.00" r="1.45" fill="#fff" stroke="#9a9a9a" stroke-width="0.75"/>
<circle cx="662.13" cy="519.00" r="1.45" fill="#fff" stroke="#9a9a9a" stroke-width="0.75"/>
<line x1="516.65" y1="494.80" x2="516.65" y2="508.10" stroke="#111" stroke-width="1.70" />
<line x1="513.45" y1="494.80" x2="519.85" y2="494.80" stroke="#111" stroke-width="1.70" />
<line x1="513.45" y1="508.10" x2="519.85" y2="508.10" stroke="#111" stroke-width="1.70" />
<text x="516.65" y="522.40" font-size="8.20" text-anchor="middle" fill="#8a1f9e" stroke="#8a1f9e" stroke-width="0.12">15</text>
<line x1="602.05" y1="476.80" x2="602.05" y2="491.90" stroke="#4a9be8" stroke-width="1.70" />
<line x1="598.85" y1="476.80" x2="605.25" y2="476.80" stroke="#4a9be8" stroke-width="1.70" />
<line x1="598.85" y1="491.90" x2="605.25" y2="491.90" stroke="#4a9be8" stroke-width="1.70" />
<text x="602.05" y="522.40" font-size="8.20" text-anchor="middle" fill="#8a1f9e" stroke="#8a1f9e" stroke-width="0.12">12</text>
<line x1="630.25" y1="492.50" x2="630.25" y2="501.90" stroke="#b01cc8" stroke-width="1.70" />
<line x1="627.05" y1="492.50" x2="633.45" y2="492.50" stroke="#b01cc8" stroke-width="1.70" />
<line x1="627.05" y1="501.90" x2="633.45" y2="501.90" stroke="#b01cc8" stroke-width="1.70" />
<text x="630.25" y="522.40" font-size="8.20" text-anchor="middle" fill="#8a1f9e" stroke="#8a1f9e" stroke-width="0.12">16</text>
<line x1="658.95" y1="489.60" x2="658.95" y2="501.90" stroke="#22dd22" stroke-width="1.70" />
<line x1="655.75" y1="489.60" x2="662.15" y2="489.60" stroke="#22dd22" stroke-width="1.70" />
<line x1="655.75" y1="501.90" x2="662.15" y2="501.90" stroke="#22dd22" stroke-width="1.70" />
<text x="658.95" y="522.40" font-size="8.20" text-anchor="middle" fill="#8a1f9e" stroke="#8a1f9e" stroke-width="0.12">9</text>
<text x="544.10" y="512.40" font-size="8.20" text-anchor="middle" fill="#8a1f9e" stroke="#8a1f9e" stroke-width="0.12">15</text>
<text x="572.60" y="512.40" font-size="8.20" text-anchor="middle" fill="#8a1f9e" stroke="#8a1f9e" stroke-width="0.12">25</text>
<line x1="515.00" y1="402.80" x2="660.20" y2="402.80" stroke="#000" stroke-width="1.20" />
<text x="572.00" y="399.40" font-size="8.80" stroke="#000" stroke-width="0.12">ns</text>
<text x="587.60" y="399.40" font-size="7.90" stroke="#000" stroke-width="0.12"><tspan font-style="italic">p</tspan>=0.5533</text>
<line x1="515.00" y1="415.00" x2="571.10" y2="415.00" stroke="#000" stroke-width="1.20" />
<path d="M522.60,407.00 L522.60,411.80 M520.52,408.20 L524.68,410.60 M524.68,408.20 L520.52,410.60" stroke="#000" stroke-width="1.10" fill="none"/>
<path d="M528.60,407.00 L528.60,411.80 M526.52,408.20 L530.68,410.60 M530.68,408.20 L526.52,410.60" stroke="#000" stroke-width="1.10" fill="none"/>
<path d="M534.60,407.00 L534.60,411.80 M532.52,408.20 L536.68,410.60 M536.68,408.20 L532.52,410.60" stroke="#000" stroke-width="1.10" fill="none"/>
<text x="540.70" y="412.20" font-size="7.90" stroke="#000" stroke-width="0.12"><tspan font-style="italic">p</tspan>&lt;0.001</text>
<line x1="515.00" y1="426.40" x2="543.50" y2="426.40" stroke="#000" stroke-width="1.20" />
<path d="M517.70,419.00 L517.70,423.80 M515.62,420.20 L519.78,422.60 M519.78,420.20 L515.62,422.60" stroke="#000" stroke-width="1.10" fill="none"/>
<path d="M523.70,419.00 L523.70,423.80 M521.62,420.20 L525.78,422.60 M525.78,420.20 L521.62,422.60" stroke="#000" stroke-width="1.10" fill="none"/>
<path d="M529.70,419.00 L529.70,423.80 M527.62,420.20 L531.78,422.60 M531.78,420.20 L527.62,422.60" stroke="#000" stroke-width="1.10" fill="none"/>
<text x="535.00" y="424.20" font-size="7.90" stroke="#000" stroke-width="0.12"><tspan font-style="italic">p</tspan>&lt;0.001</text>
<line x1="573.10" y1="419.90" x2="628.90" y2="419.90" stroke="#000" stroke-width="1.20" />
<path d="M581.50,412.70 L581.50,417.50 M579.42,413.90 L583.58,416.30 M583.58,413.90 L579.42,416.30" stroke="#000" stroke-width="1.10" fill="none"/>
<path d="M587.50,412.70 L587.50,417.50 M585.42,413.90 L589.58,416.30 M589.58,413.90 L585.42,416.30" stroke="#000" stroke-width="1.10" fill="none"/>
<path d="M593.50,412.70 L593.50,417.50 M591.42,413.90 L595.58,416.30 M595.58,413.90 L591.42,416.30" stroke="#000" stroke-width="1.10" fill="none"/>
<text x="599.60" y="417.90" font-size="7.90" stroke="#000" stroke-width="0.12"><tspan font-style="italic">p</tspan>&lt;0.001</text>
<line x1="573.10" y1="433.30" x2="601.60" y2="433.30" stroke="#000" stroke-width="1.20" />
<path d="M575.80,424.70 L575.80,429.50 M573.72,425.90 L577.88,428.30 M577.88,425.90 L573.72,428.30" stroke="#000" stroke-width="1.10" fill="none"/>
<path d="M581.80,424.70 L581.80,429.50 M579.72,425.90 L583.88,428.30 M583.88,425.90 L579.72,428.30" stroke="#000" stroke-width="1.10" fill="none"/>
<path d="M587.80,424.70 L587.80,429.50 M585.72,425.90 L589.88,428.30 M589.88,425.90 L585.72,428.30" stroke="#000" stroke-width="1.10" fill="none"/>
<text x="593.90" y="429.90" font-size="7.90" stroke="#000" stroke-width="0.12"><tspan font-style="italic">p</tspan>&lt;0.001</text>
<text x="510.30" y="535.90" font-size="8.30" text-anchor="end" transform="rotate(-45.00 510.30 535.90)" stroke="#000" stroke-width="0.12">WT</text>
<text x="544.90" y="534.00" font-size="8.30" text-anchor="end" font-style="italic" transform="rotate(-45.00 544.90 534.00)" stroke="#000" stroke-width="0.12">gcy-28(tm2411)</text>
<text x="569.90" y="534.50" font-size="8.30" text-anchor="end" font-style="italic" transform="rotate(-45.00 569.90 534.50)" stroke="#000" stroke-width="0.12">gcy-28(tm3028)</text>
<text x="598.20" y="534.50" font-size="8.30" text-anchor="end" font-style="italic" transform="rotate(-45.00 598.20 534.50)" stroke="#000" stroke-width="0.12">gcy-28(tm3028);</text>
<text x="601.80" y="542.80" font-size="8.30" text-anchor="end" font-style="italic" transform="rotate(-45.00 601.80 542.80)" stroke="#000" stroke-width="0.12">Pvap-1::gcy-28</text>
<text x="628.70" y="534.50" font-size="8.30" text-anchor="end" font-style="italic" transform="rotate(-45.00 628.70 534.50)" stroke="#000" stroke-width="0.12">gcy-28(tm3028);</text>
<text x="642.60" y="535.90" font-size="8.30" text-anchor="end" font-style="italic" transform="rotate(-45.00 642.60 535.90)" stroke="#000" stroke-width="0.12">PR11D1.3::gcy-28</text>
<text x="672.00" y="534.50" font-size="8.30" text-anchor="end" font-style="italic" transform="rotate(-45.00 672.00 534.50)" stroke="#000" stroke-width="0.12">gcy-8,gcy-18,gcy-23</text>
<text x="0.50" y="593.60" font-size="19.20" stroke="#000" stroke-width="0.12">i</text>
<text x="18.00" y="593.40" font-size="10.20" fill="#0f7a3c" font-weight="bold" stroke="#0f7a3c" stroke-width="0.12">AWB neurons</text>
<path d="M36.8,611.3 L55.4,611.3 C58,611.3 59,607 60.5,604 C62,601.2 64,600.2 68.8,600.2 L210.9,600.2" fill="none" stroke="#000" stroke-width="1.2"/>
<text x="43.80" y="608.10" font-size="9.30" text-anchor="middle" stroke="#000" stroke-width="0.12">20°C</text>
<text x="137.80" y="595.80" font-size="9.40" text-anchor="middle" stroke="#000" stroke-width="0.12">28°C</text>
<polygon points="39.4,683.4 40.2,683.5 41.0,683.1 41.7,682.3 42.5,683.0 43.3,682.4 44.0,682.0 44.8,682.0 45.6,681.0 46.3,680.7 47.1,681.0 47.9,681.5 48.7,681.1 49.4,682.1 50.2,681.5 51.0,681.7 51.7,681.9 52.5,681.4 53.3,682.0 54.0,682.1 54.8,682.3 55.6,681.4 56.4,682.2 57.1,682.2 57.9,681.3 58.7,681.9 59.4,681.4 60.2,681.3 61.0,681.7 61.7,681.4 62.5,682.6 63.3,682.1 64.1,682.8 64.8,681.9 65.6,682.5 66.4,682.5 67.1,682.6 67.9,682.1 68.7,682.6 69.4,682.5 70.2,682.6 71.0,682.9 71.8,683.2 72.5,683.7 73.3,683.7 74.1,684.0 74.8,684.0 75.6,683.6 76.4,684.1 77.1,684.7 77.9,684.9 78.7,686.0 79.5,685.1 80.2,686.2 81.0,686.6 81.8,686.0 82.5,686.4 83.3,686.1 84.1,687.4 84.8,686.0 85.6,686.3 86.4,688.1 87.2,687.8 87.9,689.1 88.7,689.2 89.5,689.0 90.2,689.4 91.0,687.7 91.8,689.4 92.5,689.5 93.3,689.6 94.1,690.6 94.9,690.2 95.6,689.9 96.4,690.1 97.2,691.3 97.9,692.1 98.7,690.3 99.5,690.6 100.2,690.6 101.0,693.4 101.8,693.4 102.6,693.7 103.3,692.2 104.1,693.3 104.9,692.8 105.6,692.9 106.4,694.1 107.2,695.2 107.9,693.5 108.7,694.8 109.5,694.5 110.3,696.6 111.0,695.6 111.8,695.2 112.6,696.4 113.3,696.8 114.1,695.6 114.9,696.8 115.6,696.5 116.4,697.7 117.2,699.0 118.0,697.5 118.7,697.7 119.5,697.5 120.3,698.8 121.0,697.6 121.8,698.0 122.6,701.1 123.3,701.0 124.1,699.0 124.9,699.0 125.7,699.1 126.4,701.7 127.2,699.3 128.0,702.4 128.7,702.7 129.5,701.4 130.3,701.3 131.0,704.1 131.8,701.8 132.6,704.3 133.4,703.6 134.1,704.3 134.9,702.6 135.7,704.0 136.4,706.1 137.2,703.3 138.0,705.0 138.7,703.3 139.5,706.5 140.3,707.1 141.1,706.2 141.8,706.0 142.6,708.0 143.4,705.6 144.1,704.6 144.9,705.6 145.7,706.5 146.4,704.8 147.2,707.4 148.0,708.5 148.8,708.1 149.5,705.3 150.3,709.4 151.1,708.3 151.8,709.3 152.6,706.8 153.4,708.3 154.1,709.8 154.9,711.4 155.7,712.0 156.5,713.4 157.2,712.3 158.0,711.8 158.8,712.2 159.5,714.6 160.3,715.9 161.1,715.2 161.8,712.6 162.6,714.4 163.4,713.5 164.2,716.6 164.9,716.7 165.7,714.3 166.5,717.6 167.2,717.3 168.0,716.8 168.8,716.7 169.5,717.4 170.3,712.6 171.1,715.1 171.9,715.1 172.6,715.9 173.4,717.8 174.2,718.5 174.9,719.7 175.7,715.3 176.5,719.8 177.2,719.1 178.0,715.5 178.8,716.9 179.6,716.9 180.3,721.2 181.1,719.8 181.9,716.9 182.6,719.2 183.4,717.9 184.2,721.6 184.9,721.8 185.7,718.8 186.5,720.6 187.3,724.5 188.0,720.0 188.8,724.4 189.6,726.5 190.3,721.7 191.1,721.9 191.9,726.7 192.6,724.2 193.4,726.0 194.2,726.1 195.0,723.7 195.7,727.6 196.5,722.8 197.3,725.4 198.0,725.6 198.8,725.2 199.6,724.1 200.3,726.6 201.1,726.1 201.9,723.5 202.7,723.1 203.4,719.8 204.2,726.2 205.0,723.0 205.7,721.4 206.5,721.2 207.3,726.6 208.0,724.2 208.8,723.7 209.6,720.0 210.4,724.1 211.1,724.4 211.1,750.3 210.4,750.7 209.6,754.7 208.8,751.7 208.0,751.5 207.3,749.7 206.5,754.3 205.7,753.0 205.0,750.5 204.2,746.7 203.4,752.8 202.7,749.8 201.9,750.7 201.1,749.2 200.3,749.3 199.6,752.2 198.8,751.3 198.0,751.5 197.3,752.2 196.5,754.5 195.7,749.6 195.0,753.9 194.2,750.3 193.4,749.1 192.6,750.1 191.9,747.4 191.1,751.8 190.3,750.8 189.6,745.9 188.8,747.2 188.0,750.6 187.3,745.0 186.5,748.7 185.7,749.4 184.9,746.6 184.2,745.6 183.4,748.0 182.6,745.6 181.9,747.5 181.1,744.0 180.3,741.4 179.6,745.1 178.8,744.8 178.0,745.4 177.2,740.9 176.5,739.3 175.7,743.0 174.9,737.7 174.2,737.9 173.4,736.9 172.6,738.5 171.9,737.9 171.1,737.3 170.3,739.9 169.5,735.6 168.8,735.8 168.0,735.8 167.2,736.2 166.5,736.1 165.7,740.2 164.9,738.4 164.2,738.7 163.4,739.9 162.6,737.8 161.8,738.3 161.1,734.3 160.3,732.8 159.5,733.0 158.8,734.3 158.0,732.7 157.2,731.2 156.5,729.1 155.7,729.2 154.9,728.9 154.1,728.5 153.4,728.7 152.6,729.7 151.8,726.5 151.1,726.2 150.3,724.5 149.5,727.1 148.8,724.0 148.0,723.2 147.2,724.1 146.4,725.6 145.7,724.1 144.9,723.8 144.1,724.6 143.4,724.0 142.6,721.1 141.8,722.3 141.1,721.5 140.3,720.7 139.5,720.3 138.7,723.0 138.0,720.4 137.2,722.3 136.4,718.7 135.7,719.6 134.9,720.6 134.1,718.0 133.4,718.4 132.6,716.7 131.8,718.6 131.0,715.7 130.3,718.0 129.5,717.3 128.7,715.0 128.0,714.2 127.2,717.0 126.4,713.4 125.7,715.4 124.9,715.4 124.1,715.1 123.3,712.2 122.6,711.9 121.8,713.7 121.0,713.1 120.3,711.4 119.5,712.2 118.7,711.5 118.0,710.6 117.2,708.9 116.4,709.5 115.6,709.9 114.9,709.2 114.1,710.0 113.3,708.5 112.6,707.5 111.8,708.7 111.0,707.8 110.3,705.6 109.5,707.5 108.7,706.6 107.9,707.5 107.2,704.7 106.4,705.1 105.6,705.2 104.9,704.9 104.1,703.5 103.3,704.5 102.6,702.5 101.8,702.2 101.0,701.6 100.2,703.0 99.5,702.9 98.7,702.0 97.9,699.6 97.2,700.0 96.4,700.0 95.6,700.1 94.9,699.3 94.1,698.6 93.3,699.4 92.5,698.5 91.8,698.0 91.0,698.2 90.2,696.0 89.5,696.0 88.7,695.5 87.9,695.2 87.2,695.7 86.4,694.5 85.6,695.4 84.8,695.2 84.1,693.4 83.3,694.1 82.5,693.5 81.8,693.7 81.0,692.8 80.2,693.0 79.5,693.0 78.7,691.5 77.9,691.7 77.1,690.8 76.4,690.6 75.6,691.0 74.8,689.2 74.1,689.4 73.3,689.3 72.5,689.1 71.8,689.5 71.0,688.9 70.2,688.6 69.4,689.1 68.7,688.1 67.9,688.1 67.1,687.4 66.4,687.2 65.6,687.0 64.8,687.7 64.1,687.0 63.3,687.1 62.5,686.8 61.7,687.4 61.0,687.2 60.2,686.7 59.4,686.4 58.7,686.1 57.9,686.8 57.1,685.7 56.4,685.9 55.6,686.3 54.8,685.8 54.0,686.2 53.3,686.0 52.5,685.7 51.7,685.2 51.0,685.7 50.2,685.4 49.4,685.3 48.7,685.7 47.9,685.1 47.1,685.4 46.3,685.3 45.6,685.3 44.8,685.2 44.0,685.2 43.3,685.7 42.5,685.6 41.7,686.4 41.0,686.6 40.2,686.2 39.4,686.7" fill="#c4c4c4" fill-opacity="0.75"/>
<polygon points="39.4,682.8 40.2,682.1 41.0,681.8 41.7,682.6 42.5,681.4 43.3,681.4 44.0,681.1 44.8,681.9 45.6,680.7 46.3,681.2 47.1,680.7 47.9,680.9 48.7,680.8 49.4,681.2 50.2,681.9 51.0,681.9 51.7,681.8 52.5,682.0 53.3,682.1 54.0,683.0 54.8,682.3 55.6,682.2 56.4,682.7 57.1,682.9 57.9,682.1 58.7,682.0 59.4,681.3 60.2,682.0 61.0,682.0 61.7,681.0 62.5,680.5 63.3,680.6 64.1,681.3 64.8,680.7 65.6,680.8 66.4,678.9 67.1,676.5 67.9,675.6 68.7,673.7 69.4,673.1 70.2,670.8 71.0,670.2 71.8,672.8 72.5,674.0 73.3,673.2 74.1,673.3 74.8,677.0 75.6,674.4 76.4,674.6 77.1,674.5 77.9,675.0 78.7,671.5 79.5,667.2 80.2,667.4 81.0,664.8 81.8,661.4 82.5,656.4 83.3,655.9 84.1,651.8 84.8,648.8 85.6,647.2 86.4,645.0 87.2,646.6 87.9,647.8 88.7,646.7 89.5,650.9 90.2,654.6 91.0,648.7 91.8,654.0 92.5,654.6 93.3,657.2 94.1,654.3 94.9,653.3 95.6,658.6 96.4,655.6 97.2,659.8 97.9,658.2 98.7,660.6 99.5,657.7 100.2,657.6 101.0,661.2 101.8,663.6 102.6,663.1 103.3,664.2 104.1,669.6 104.9,669.1 105.6,669.7 106.4,669.6 107.2,673.9 107.9,670.5 108.7,673.1 109.5,669.7 110.3,667.4 111.0,666.1 111.8,667.7 112.6,662.7 113.3,663.5 114.1,662.6 114.9,655.0 115.6,661.1 116.4,651.2 117.2,658.2 118.0,645.5 118.7,644.5 119.5,637.5 120.3,635.1 121.0,631.9 121.8,632.6 122.6,634.3 123.3,642.1 124.1,644.1 124.9,647.9 125.7,649.2 126.4,647.5 127.2,652.8 128.0,655.2 128.7,657.3 129.5,659.5 130.3,660.7 131.0,659.0 131.8,661.0 132.6,662.7 133.4,665.8 134.1,664.0 134.9,667.7 135.7,665.2 136.4,665.8 137.2,665.8 138.0,667.0 138.7,669.8 139.5,666.9 140.3,668.1 141.1,671.2 141.8,668.4 142.6,670.5 143.4,670.7 144.1,669.7 144.9,667.4 145.7,672.4 146.4,671.7 147.2,670.2 148.0,673.3 148.8,671.3 149.5,673.3 150.3,674.9 151.1,677.3 151.8,678.1 152.6,678.3 153.4,677.6 154.1,683.7 154.9,679.2 155.7,684.0 156.5,686.3 157.2,683.2 158.0,684.3 158.8,682.9 159.5,683.8 160.3,680.6 161.1,682.4 161.8,683.6 162.6,679.2 163.4,684.3 164.2,679.2 164.9,679.4 165.7,684.1 166.5,682.2 167.2,684.9 168.0,687.7 168.8,688.4 169.5,688.8 170.3,690.8 171.1,691.7 171.9,688.5 172.6,688.0 173.4,684.2 174.2,683.9 174.9,687.3 175.7,683.3 176.5,686.0 177.2,682.9 178.0,684.8 178.8,682.2 179.6,685.4 180.3,683.3 181.1,683.5 181.9,688.1 182.6,684.1 183.4,688.9 184.2,688.6 184.9,688.4 185.7,686.4 186.5,689.6 187.3,686.4 188.0,683.7 188.8,688.1 189.6,683.1 190.3,684.8 191.1,684.5 191.9,684.4 192.6,684.2 193.4,684.6 194.2,682.7 195.0,683.5 195.7,685.0 196.5,685.9 197.3,688.5 198.0,690.8 198.8,686.8 199.6,689.4 200.3,689.6 201.1,688.7 201.9,690.8 202.7,690.1 203.4,689.4 204.2,689.1 205.0,693.2 205.7,693.7 206.5,689.1 207.3,690.0 208.0,690.9 208.8,690.9 209.6,692.7 210.4,696.8 211.1,694.7 211.1,715.7 210.4,713.2 209.6,716.0 208.8,716.5 208.0,715.7 207.3,715.8 206.5,715.9 205.7,710.2 205.0,709.9 204.2,713.6 203.4,712.6 202.7,711.7 201.9,710.8 201.1,712.7 200.3,711.6 199.6,711.1 198.8,712.6 198.0,707.5 197.3,708.6 196.5,710.1 195.7,710.1 195.0,709.8 194.2,709.2 193.4,706.2 192.6,705.5 191.9,706.0 191.1,706.4 190.3,706.8 189.6,708.8 188.8,704.8 188.0,710.3 187.3,709.0 186.5,706.9 185.7,709.8 184.9,707.5 184.2,706.9 183.4,705.9 182.6,710.0 181.9,706.0 181.1,709.7 180.3,708.9 179.6,705.9 178.8,708.3 178.0,704.9 177.2,706.3 176.5,704.5 175.7,708.3 174.9,705.0 174.2,709.6 173.4,710.6 172.6,709.3 171.9,711.7 171.1,711.1 170.3,710.6 169.5,710.7 168.8,708.3 168.0,706.5 167.2,707.4 166.5,708.2 165.7,704.1 164.9,707.5 164.2,707.2 163.4,702.2 162.6,707.3 161.8,703.3 161.1,704.8 160.3,706.4 159.5,703.1 158.8,705.2 158.0,705.0 157.2,707.5 156.5,704.8 155.7,705.7 154.9,708.9 154.1,702.5 153.4,707.2 152.6,705.2 151.8,703.9 151.1,702.5 150.3,702.9 149.5,702.6 148.8,702.1 148.0,697.9 147.2,698.6 146.4,695.6 145.7,693.4 144.9,697.5 144.1,693.9 143.4,691.9 142.6,692.1 141.8,693.3 141.1,690.1 140.3,693.0 139.5,694.2 138.7,690.4 138.0,693.0 137.2,693.6 136.4,692.4 135.7,692.7 134.9,689.4 134.1,692.6 133.4,689.3 132.6,690.1 131.8,689.7 131.0,689.4 130.3,684.5 129.5,682.3 128.7,681.2 128.0,680.3 127.2,679.0 126.4,681.3 125.7,676.0 124.9,673.7 124.1,674.4 123.3,672.8 122.6,676.8 121.8,674.9 121.0,671.7 120.3,664.6 119.5,674.5 118.7,679.3 118.0,690.3 117.2,686.7 116.4,695.6 115.6,687.9 114.9,696.0 114.1,690.4 113.3,692.3 112.6,695.5 111.8,693.5 111.0,697.6 110.3,697.7 109.5,695.7 108.7,693.4 107.9,696.9 107.2,691.3 106.4,693.3 105.6,690.8 104.9,688.5 104.1,685.4 103.3,688.1 102.6,687.0 101.8,684.0 101.0,684.2 100.2,685.8 99.5,684.3 98.7,680.9 97.9,682.3 97.2,679.7 96.4,682.8 95.6,679.8 94.9,685.1 94.1,683.6 93.3,680.6 92.5,682.5 91.8,682.0 91.0,685.7 90.2,678.5 89.5,680.9 88.7,683.9 87.9,681.5 87.2,680.9 86.4,681.1 85.6,678.9 84.8,680.8 84.1,681.6 83.3,681.2 82.5,684.9 81.8,683.2 81.0,685.6 80.2,688.7 79.5,694.7 78.7,696.1 77.9,696.8 77.1,696.3 76.4,695.5 75.6,694.7 74.8,691.1 74.1,693.7 73.3,691.1 72.5,687.8 71.8,686.6 71.0,687.1 70.2,683.7 69.4,683.3 68.7,684.9 67.9,685.4 67.1,687.0 66.4,687.3 65.6,687.7 64.8,688.1 64.1,687.5 63.3,688.4 62.5,688.6 61.7,687.8 61.0,686.8 60.2,687.0 59.4,687.8 58.7,687.0 57.9,687.1 57.1,686.3 56.4,686.6 55.6,687.3 54.8,687.0 54.0,686.5 53.3,687.3 52.5,687.3 51.7,687.2 51.0,686.6 50.2,685.9 49.4,686.1 48.7,685.7 47.9,685.4 47.1,685.8 46.3,685.3 45.6,685.8 44.8,685.2 44.0,685.9 43.3,686.2 42.5,686.5 41.7,685.9 41.0,687.1 40.2,687.4 39.4,686.6" fill="#f7b3b8" fill-opacity="0.75"/>
<polyline points="39.4,685.1 40.2,684.8 41.0,684.8 41.7,684.3 42.5,684.3 43.3,684.1 44.0,683.6 44.8,683.6 45.6,683.1 46.3,683.0 47.1,683.2 47.9,683.3 48.7,683.4 49.4,683.7 50.2,683.5 51.0,683.7 51.7,683.6 52.5,683.5 53.3,684.0 54.0,684.1 54.8,684.1 55.6,683.8 56.4,684.1 57.1,684.0 57.9,684.1 58.7,684.0 59.4,683.9 60.2,684.0 61.0,684.5 61.7,684.4 62.5,684.7 63.3,684.6 64.1,684.9 64.8,684.8 65.6,684.7 66.4,684.9 67.1,685.0 67.9,685.1 68.7,685.3 69.4,685.8 70.2,685.6 71.0,685.9 71.8,686.3 72.5,686.4 73.3,686.5 74.1,686.7 74.8,686.6 75.6,687.3 76.4,687.3 77.1,687.7 77.9,688.3 78.7,688.7 79.5,689.1 80.2,689.6 81.0,689.7 81.8,689.9 82.5,689.9 83.3,690.1 84.1,690.4 84.8,690.6 85.6,690.8 86.4,691.3 87.2,691.7 87.9,692.1 88.7,692.3 89.5,692.5 90.2,692.7 91.0,693.0 91.8,693.7 92.5,694.0 93.3,694.5 94.1,694.6 94.9,694.8 95.6,695.0 96.4,695.0 97.2,695.7 97.9,695.8 98.7,696.2 99.5,696.8 100.2,696.8 101.0,697.5 101.8,697.8 102.6,698.1 103.3,698.4 104.1,698.4 104.9,698.9 105.6,699.0 106.4,699.6 107.2,700.0 107.9,700.5 108.7,700.7 109.5,701.0 110.3,701.1 111.0,701.7 111.8,702.0 112.6,701.9 113.3,702.6 114.1,702.8 114.9,703.0 115.6,703.2 116.4,703.6 117.2,703.9 118.0,704.0 118.7,704.6 119.5,704.8 120.3,705.1 121.0,705.4 121.8,705.8 122.6,706.5 123.3,706.6 124.1,707.1 124.9,707.2 125.7,707.2 126.4,707.6 127.2,708.1 128.0,708.3 128.7,708.9 129.5,709.4 130.3,709.6 131.0,709.9 131.8,710.2 132.6,710.5 133.4,711.0 134.1,711.1 134.9,711.6 135.7,711.8 136.4,712.4 137.2,712.8 138.0,712.7 138.7,713.2 139.5,713.4 140.3,713.9 141.1,713.8 141.8,714.1 142.6,714.6 143.4,714.8 144.1,714.6 144.9,714.7 145.7,715.3 146.4,715.2 147.2,715.7 148.0,715.9 148.8,716.0 149.5,716.2 150.3,717.0 151.1,717.2 151.8,717.9 152.6,718.2 153.4,718.5 154.1,719.1 154.9,720.2 155.7,720.6 156.5,721.3 157.2,721.7 158.0,722.2 158.8,723.2 159.5,723.8 160.3,724.3 161.1,724.8 161.8,725.4 162.6,726.1 163.4,726.7 164.2,727.7 164.9,727.6 165.7,727.2 166.5,726.8 167.2,726.7 168.0,726.3 168.8,726.2 169.5,726.5 170.3,726.3 171.1,726.2 171.9,726.5 172.6,727.2 173.4,727.3 174.2,728.2 174.9,728.7 175.7,729.2 176.5,729.5 177.2,730.0 178.0,730.4 178.8,730.9 179.6,731.0 180.3,731.3 181.1,731.9 181.9,732.2 182.6,732.4 183.4,732.9 184.2,733.6 184.9,734.2 185.7,734.1 186.5,734.7 187.3,734.7 188.0,735.3 188.8,735.8 189.6,736.2 190.3,736.2 191.1,736.8 191.9,737.1 192.6,737.2 193.4,737.5 194.2,738.2 195.0,738.8 195.7,738.6 196.5,738.6 197.3,738.8 198.0,738.6 198.8,738.2 199.6,738.1 200.3,737.9 201.1,737.6 201.9,737.1 202.7,736.4 203.4,736.3 204.2,736.5 205.0,736.8 205.7,737.2 206.5,737.7 207.3,738.2 208.0,737.9 208.8,737.7 209.6,737.3 210.4,737.4 211.1,737.4" fill="none" stroke="#111" stroke-width="1.50" stroke-linejoin="round" />
<polyline points="39.4,684.7 40.2,684.8 41.0,684.5 41.7,684.3 42.5,683.9 43.3,683.8 44.0,683.5 44.8,683.6 45.6,683.3 46.3,683.2 47.1,683.3 47.9,683.2 48.7,683.2 49.4,683.6 50.2,683.9 51.0,684.2 51.7,684.5 52.5,684.7 53.3,684.7 54.0,684.8 54.8,684.6 55.6,684.7 56.4,684.7 57.1,684.6 57.9,684.6 58.7,684.5 59.4,684.5 60.2,684.5 61.0,684.4 61.7,684.4 62.5,684.5 63.3,684.5 64.1,684.4 64.8,684.4 65.6,684.2 66.4,683.1 67.1,681.8 67.9,680.5 68.7,679.3 69.4,678.2 70.2,677.3 71.0,678.6 71.8,679.7 72.5,680.9 73.3,682.1 74.1,683.5 74.8,684.0 75.6,684.6 76.4,685.1 77.1,685.4 77.9,685.9 78.7,683.8 79.5,681.0 80.2,678.1 81.0,675.2 81.8,672.3 82.5,670.6 83.3,668.6 84.1,666.7 84.8,664.8 85.6,663.1 86.4,663.0 87.2,663.7 87.9,664.6 88.7,665.3 89.5,665.9 90.2,666.6 91.0,667.2 91.8,668.0 92.5,668.5 93.3,668.9 94.1,668.9 94.9,669.2 95.6,669.2 96.4,669.2 97.2,669.7 97.9,670.3 98.7,670.8 99.5,671.0 100.2,671.7 101.0,672.7 101.8,673.8 102.6,675.0 103.3,676.1 104.1,677.5 104.9,678.8 105.6,680.3 106.4,681.5 107.2,682.6 107.9,683.7 108.7,683.2 109.5,682.7 110.3,682.5 111.0,681.8 111.8,680.6 112.6,679.1 113.3,677.9 114.1,676.5 114.9,675.5 115.6,674.5 116.4,673.4 117.2,672.4 118.0,667.9 118.7,661.9 119.5,656.0 120.3,649.8 121.0,651.8 121.8,653.7 122.6,655.6 123.3,657.5 124.1,659.2 124.9,660.8 125.7,662.6 126.4,664.4 127.2,665.9 128.0,667.7 128.7,669.3 129.5,670.9 130.3,672.6 131.0,674.2 131.8,675.3 132.6,676.4 133.4,677.6 134.1,678.3 134.9,678.6 135.7,678.9 136.4,679.1 137.2,679.7 138.0,680.0 138.7,680.1 139.5,680.5 140.3,680.6 141.1,680.6 141.8,680.9 142.6,681.3 143.4,681.3 144.1,681.8 144.9,682.4 145.7,682.9 146.4,683.7 147.2,684.4 148.0,685.6 148.8,686.7 149.5,687.9 150.3,688.9 151.1,689.9 151.8,691.0 152.6,691.8 153.4,692.4 154.1,693.1 154.9,694.1 155.7,694.8 156.5,695.5 157.2,695.4 158.0,694.6 158.8,694.0 159.5,693.4 160.3,693.5 161.1,693.6 161.8,693.4 162.6,693.3 163.4,693.2 164.2,693.2 164.9,693.4 165.7,694.1 166.5,695.2 167.2,696.1 168.0,697.1 168.8,698.4 169.5,699.7 170.3,700.7 171.1,701.4 171.9,700.1 172.6,698.6 173.4,697.4 174.2,696.8 174.9,696.1 175.7,695.8 176.5,695.3 177.2,694.6 178.0,694.9 178.8,695.2 179.6,695.6 180.3,696.1 181.1,696.6 181.9,697.0 182.6,697.1 183.4,697.4 184.2,697.7 184.9,697.9 185.7,698.1 186.5,698.2 187.3,697.7 188.0,697.0 188.8,696.4 189.6,695.9 190.3,695.8 191.1,695.5 191.9,695.2 192.6,694.8 193.4,695.4 194.2,696.0 195.0,696.6 195.7,697.5 196.5,698.0 197.3,698.6 198.0,699.1 198.8,699.7 199.6,700.2 200.3,700.6 201.1,700.7 201.9,700.8 202.7,700.9 203.4,701.0 204.2,701.3 205.0,701.5 205.7,702.0 206.5,702.5 207.3,702.9 208.0,703.3 208.8,703.7 209.6,704.4 210.4,705.0 211.1,705.2" fill="none" stroke="#e8141c" stroke-width="1.50" stroke-linejoin="round" />
<line x1="39.70" y1="620.00" x2="39.70" y2="763.00" stroke="#000" stroke-width="1.85" />
<line x1="39.70" y1="684.90" x2="212.20" y2="684.90" stroke="#000" stroke-width="1.85" />
<line x1="35.20" y1="622.50" x2="39.70" y2="622.50" stroke="#000" stroke-width="1.40" />
<text x="33.20" y="625.70" font-size="9.00" text-anchor="end" stroke="#000" stroke-width="0.12">20</text>
<line x1="35.20" y1="653.70" x2="39.70" y2="653.70" stroke="#000" stroke-width="1.40" />
<text x="33.20" y="656.90" font-size="9.00" text-anchor="end" stroke="#000" stroke-width="0.12">10</text>
<line x1="35.20" y1="684.90" x2="39.70" y2="684.90" stroke="#000" stroke-width="1.40" />
<text x="33.20" y="688.10" font-size="9.00" text-anchor="end" stroke="#000" stroke-width="0.12">0</text>
<line x1="35.20" y1="716.10" x2="39.70" y2="716.10" stroke="#000" stroke-width="1.40" />
<text x="33.20" y="719.30" font-size="9.00" text-anchor="end" stroke="#000" stroke-width="0.12">-10</text>
<line x1="35.20" y1="747.30" x2="39.70" y2="747.30" stroke="#000" stroke-width="1.40" />
<text x="33.20" y="750.50" font-size="9.00" text-anchor="end" stroke="#000" stroke-width="0.12">-20</text>
<line x1="57.70" y1="684.90" x2="57.70" y2="689.40" stroke="#000" stroke-width="1.40" />
<text x="57.70" y="699.30" font-size="9.00" text-anchor="middle" stroke="#000" stroke-width="0.12">20</text>
<line x1="96.20" y1="684.90" x2="96.20" y2="689.40" stroke="#000" stroke-width="1.40" />
<text x="96.20" y="699.30" font-size="9.00" text-anchor="middle" stroke="#000" stroke-width="0.12">40</text>
<line x1="134.70" y1="684.90" x2="134.70" y2="689.40" stroke="#000" stroke-width="1.40" />
<text x="134.70" y="699.30" font-size="9.00" text-anchor="middle" stroke="#000" stroke-width="0.12">60</text>
<line x1="173.20" y1="684.90" x2="173.20" y2="689.40" stroke="#000" stroke-width="1.40" />
<text x="173.20" y="699.30" font-size="9.00" text-anchor="middle" stroke="#000" stroke-width="0.12">80</text>
<line x1="211.70" y1="684.90" x2="211.70" y2="689.40" stroke="#000" stroke-width="1.40" />
<text x="211.70" y="699.30" font-size="9.00" text-anchor="middle" stroke="#000" stroke-width="0.12">100</text>
<text x="193.70" y="679.30" font-size="9.20" text-anchor="middle" stroke="#000" stroke-width="0.12">Time (s)</text>
<text x="17.20" y="691.30" font-size="9.60" text-anchor="middle" transform="rotate(-90.00 17.20 691.30)" stroke="#000" stroke-width="0.12">GCaMP (ΔF/F<tspan font-size="5.8" dy="1.5">o</tspan><tspan dy="-1.5">, %)</tspan></text>
<line x1="135.40" y1="616.30" x2="148.70" y2="616.30" stroke="#111" stroke-width="1.50" />
<text x="151.50" y="619.80" font-size="9.40" stroke="#000" stroke-width="0.12">WT</text>
<line x1="135.40" y1="628.90" x2="148.70" y2="628.90" stroke="#e8141c" stroke-width="1.50" />
<text x="151.50" y="632.40" font-size="9.40" font-style="italic" stroke="#000" stroke-width="0.12">AWB::gcy-28</text>
<text x="231.00" y="591.50" font-size="19.20" stroke="#000" stroke-width="0.12">j</text>
<line x1="274.60" y1="606.30" x2="274.60" y2="703.10" stroke="#000" stroke-width="1.85" />
<line x1="274.60" y1="703.10" x2="340.60" y2="703.10" stroke="#000" stroke-width="1.85" />
<line x1="270.60" y1="703.10" x2="274.60" y2="703.10" stroke="#000" stroke-width="1.40" />
<text x="268.60" y="706.30" font-size="9.00" text-anchor="end" stroke="#000" stroke-width="0.12">0</text>
<line x1="270.60" y1="682.70" x2="274.60" y2="682.70" stroke="#000" stroke-width="1.40" />
<text x="268.60" y="685.90" font-size="9.00" text-anchor="end" stroke="#000" stroke-width="0.12">20</text>
<line x1="270.60" y1="662.30" x2="274.60" y2="662.30" stroke="#000" stroke-width="1.40" />
<text x="268.60" y="665.50" font-size="9.00" text-anchor="end" stroke="#000" stroke-width="0.12">40</text>
<line x1="270.60" y1="641.90" x2="274.60" y2="641.90" stroke="#000" stroke-width="1.40" />
<text x="268.60" y="645.10" font-size="9.00" text-anchor="end" stroke="#000" stroke-width="0.12">60</text>
<line x1="270.60" y1="621.50" x2="274.60" y2="621.50" stroke="#000" stroke-width="1.40" />
<text x="268.60" y="624.70" font-size="9.00" text-anchor="end" stroke="#000" stroke-width="0.12">80</text>
<text x="250.80" y="661.90" font-size="9.50" text-anchor="middle" transform="rotate(-90.00 250.80 661.90)" stroke="#000" stroke-width="0.12">Maximum GCaMP (ΔF/F<tspan font-size="5.8" dy="1.5">o</tspan><tspan dy="-1.5">, %)</tspan></text>
<rect x="283.90" y="700.00" width="19.00" height="3.10" fill="#444" stroke="#111" stroke-width="1.20" />
<rect x="312.30" y="674.10" width="18.50" height="29.00" fill="#f4a6ac" stroke="#ee1c25" stroke-width="1.90" />
<circle cx="293.23" cy="691.60" r="1.45" fill="#fff" stroke="#9a9a9a" stroke-width="0.75"/>
<circle cx="293.98" cy="692.20" r="1.45" fill="#fff" stroke="#9a9a9a" stroke-width="0.75"/>
<circle cx="297.02" cy="698.50" r="1.45" fill="#fff" stroke="#9a9a9a" stroke-width="0.75"/>
<circle cx="291.15" cy="699.00" r="1.45" fill="#fff" stroke="#9a9a9a" stroke-width="0.75"/>
<circle cx="291.15" cy="700.00" r="1.45" fill="#fff" stroke="#9a9a9a" stroke-width="0.75"/>
<circle cx="295.62" cy="701.00" r="1.45" fill="#fff" stroke="#9a9a9a" stroke-width="0.75"/>
<circle cx="293.13" cy="701.50" r="1.45" fill="#fff" stroke="#9a9a9a" stroke-width="0.75"/>
<circle cx="291.61" cy="701.50" r="1.45" fill="#fff" stroke="#9a9a9a" stroke-width="0.75"/>
<circle cx="292.17" cy="701.50" r="1.45" fill="#fff" stroke="#9a9a9a" stroke-width="0.75"/>
<circle cx="291.26" cy="701.50" r="1.45" fill="#fff" stroke="#9a9a9a" stroke-width="0.75"/>
<circle cx="289.31" cy="701.50" r="1.45" fill="#fff" stroke="#9a9a9a" stroke-width="0.75"/>
<circle cx="294.88" cy="701.50" r="1.45" fill="#fff" stroke="#9a9a9a" stroke-width="0.75"/>
<circle cx="298.03" cy="701.50" r="1.45" fill="#fff" stroke="#9a9a9a" stroke-width="0.75"/>
<circle cx="321.50" cy="613.70" r="1.30" fill="#fff" stroke="#999" stroke-width="0.60"/>
<circle cx="321.50" cy="642.10" r="1.30" fill="#fff" stroke="#999" stroke-width="0.60"/>
<circle cx="321.50" cy="655.20" r="1.30" fill="#fff" stroke="#999" stroke-width="0.60"/>
<circle cx="321.50" cy="660.60" r="1.30" fill="#fff" stroke="#999" stroke-width="0.60"/>
<circle cx="321.50" cy="662.40" r="1.30" fill="#fff" stroke="#999" stroke-width="0.60"/>
<circle cx="321.50" cy="680.60" r="1.30" fill="#fff" stroke="#999" stroke-width="0.60"/>
<circle cx="321.50" cy="683.30" r="1.30" fill="#fff" stroke="#999" stroke-width="0.60"/>
<circle cx="321.50" cy="686.10" r="1.30" fill="#fff" stroke="#999" stroke-width="0.60"/>
<circle cx="321.50" cy="688.90" r="1.30" fill="#fff" stroke="#999" stroke-width="0.60"/>
<circle cx="317.50" cy="692.60" r="1.30" fill="#fff" stroke="#999" stroke-width="0.60"/>
<circle cx="321.50" cy="692.60" r="1.30" fill="#fff" stroke="#999" stroke-width="0.60"/>
<circle cx="325.50" cy="692.60" r="1.30" fill="#fff" stroke="#999" stroke-width="0.60"/>
<circle cx="321.50" cy="697.20" r="1.30" fill="#fff" stroke="#999" stroke-width="0.60"/>
<line x1="321.50" y1="667.20" x2="321.50" y2="680.60" stroke="#ee1c25" stroke-width="1.70" />
<line x1="318.10" y1="667.20" x2="324.90" y2="667.20" stroke="#ee1c25" stroke-width="1.70" />
<line x1="318.10" y1="680.60" x2="324.90" y2="680.60" stroke="#ee1c25" stroke-width="1.70" />
<text x="293.10" y="712.00" font-size="8.60" text-anchor="middle" fill="#8a1f9e" stroke="#8a1f9e" stroke-width="0.12">13</text>
<text x="322.70" y="712.00" font-size="8.60" text-anchor="middle" fill="#8a1f9e" stroke="#8a1f9e" stroke-width="0.12">14</text>
<line x1="294.00" y1="607.60" x2="321.40" y2="607.60" stroke="#000" stroke-width="1.20" />
<path d="M296.70,599.20 L296.70,604.00 M294.62,600.40 L298.78,602.80 M298.78,600.40 L294.62,602.80" stroke="#000" stroke-width="1.10" fill="none"/>
<path d="M302.70,599.20 L302.70,604.00 M300.62,600.40 L304.78,602.80 M304.78,600.40 L300.62,602.80" stroke="#000" stroke-width="1.10" fill="none"/>
<path d="M308.70,599.20 L308.70,604.00 M306.62,600.40 L310.78,602.80 M310.78,600.40 L306.62,602.80" stroke="#000" stroke-width="1.10" fill="none"/>
<text x="313.80" y="604.40" font-size="7.90" stroke="#000" stroke-width="0.12"><tspan font-style="italic">p</tspan>&lt;0.001</text>
<text x="295.90" y="721.95" font-size="8.80" text-anchor="end" transform="rotate(-45.00 295.90 721.95)" stroke="#000" stroke-width="0.12">WT</text>
<text x="326.40" y="721.95" font-size="8.80" text-anchor="end" font-style="italic" transform="rotate(-45.00 326.40 721.95)" stroke="#000" stroke-width="0.12">AWB::gcy-28</text>
<text x="355.30" y="591.90" font-size="19.20" stroke="#000" stroke-width="0.12">k</text>
<text x="374.20" y="590.20" font-size="10.40" fill="#ee1c25" font-weight="bold" stroke="#ee1c25" stroke-width="0.12">HEK293T cells</text>
<line x1="426.00" y1="597.30" x2="426.00" y2="711.60" stroke="#000" stroke-width="1.85" />
<line x1="426.00" y1="711.60" x2="652.60" y2="711.60" stroke="#000" stroke-width="1.85" />
<line x1="421.00" y1="711.60" x2="426.00" y2="711.60" stroke="#000" stroke-width="1.50" />
<text x="418.20" y="714.80" font-size="9.00" text-anchor="end" stroke="#000" stroke-width="0.12">0</text>
<line x1="421.00" y1="688.90" x2="426.00" y2="688.90" stroke="#000" stroke-width="1.50" />
<text x="418.20" y="692.10" font-size="9.00" text-anchor="end" stroke="#000" stroke-width="0.12">10</text>
<line x1="421.00" y1="666.20" x2="426.00" y2="666.20" stroke="#000" stroke-width="1.50" />
<text x="418.20" y="669.40" font-size="9.00" text-anchor="end" stroke="#000" stroke-width="0.12">20</text>
<line x1="421.00" y1="643.50" x2="426.00" y2="643.50" stroke="#000" stroke-width="1.50" />
<text x="418.20" y="646.70" font-size="9.00" text-anchor="end" stroke="#000" stroke-width="0.12">30</text>
<line x1="421.00" y1="620.80" x2="426.00" y2="620.80" stroke="#000" stroke-width="1.50" />
<text x="418.20" y="624.00" font-size="9.00" text-anchor="end" stroke="#000" stroke-width="0.12">40</text>
<line x1="421.00" y1="598.10" x2="426.00" y2="598.10" stroke="#000" stroke-width="1.50" />
<text x="418.20" y="601.30" font-size="9.00" text-anchor="end" stroke="#000" stroke-width="0.12">50</text>
<text x="400.20" y="654.00" font-size="9.30" text-anchor="middle" transform="rotate(-90.00 400.20 654.00)" stroke="#000" stroke-width="0.12">cGMP (nmol/L)</text>
<rect x="437.80" y="693.30" width="22.60" height="18.30" fill="#fff" stroke="#111" stroke-width="1.90" />
<rect x="467.60" y="693.80" width="21.90" height="17.80" fill="#d4d4d4" stroke="#111" stroke-width="1.90" />
<rect x="512.70" y="692.00" width="22.40" height="19.60" fill="#fff" stroke="#ee1c25" stroke-width="1.90" />
<rect x="541.90" y="666.40" width="22.10" height="45.20" fill="#fde0e0" stroke="#ee1c25" stroke-width="1.90" />
<rect x="587.80" y="692.00" width="22.40" height="19.60" fill="#fff" stroke="#1a1aee" stroke-width="1.90" />
<rect x="617.00" y="653.50" width="22.20" height="58.10" fill="#c0c0f4" stroke="#1a1aee" stroke-width="1.90" />
<circle cx="451.87" cy="684.50" r="1.70" fill="#fff" stroke="#888" stroke-width="0.70"/>
<circle cx="447.56" cy="690.00" r="1.70" fill="#fff" stroke="#888" stroke-width="0.70"/>
<circle cx="448.72" cy="691.00" r="1.70" fill="#fff" stroke="#888" stroke-width="0.70"/>
<circle cx="446.45" cy="694.50" r="1.70" fill="#fff" stroke="#888" stroke-width="0.70"/>
<circle cx="476.84" cy="684.50" r="1.70" fill="#fff" stroke="#888" stroke-width="0.70"/>
<circle cx="479.80" cy="687.00" r="1.70" fill="#fff" stroke="#888" stroke-width="0.70"/>
<circle cx="473.68" cy="688.00" r="1.70" fill="#fff" stroke="#888" stroke-width="0.70"/>
<circle cx="483.43" cy="691.50" r="1.70" fill="#fff" stroke="#888" stroke-width="0.70"/>
<circle cx="481.82" cy="693.50" r="1.70" fill="#fff" stroke="#888" stroke-width="0.70"/>
<circle cx="517.83" cy="677.00" r="1.70" fill="#fff" stroke="#888" stroke-width="0.70"/>
<circle cx="525.12" cy="679.00" r="1.70" fill="#fff" stroke="#888" stroke-width="0.70"/>
<circle cx="530.65" cy="680.00" r="1.70" fill="#fff" stroke="#888" stroke-width="0.70"/>
<circle cx="521.62" cy="683.00" r="1.70" fill="#fff" stroke="#888" stroke-width="0.70"/>
<circle cx="524.42" cy="684.00" r="1.70" fill="#fff" stroke="#888" stroke-width="0.70"/>
<circle cx="522.04" cy="685.00" r="1.70" fill="#fff" stroke="#888" stroke-width="0.70"/>
<circle cx="527.15" cy="686.50" r="1.70" fill="#fff" stroke="#888" stroke-width="0.70"/>
<circle cx="526.40" cy="687.00" r="1.70" fill="#fff" stroke="#888" stroke-width="0.70"/>
<circle cx="525.18" cy="688.00" r="1.70" fill="#fff" stroke="#888" stroke-width="0.70"/>
<circle cx="530.47" cy="690.00" r="1.70" fill="#fff" stroke="#888" stroke-width="0.70"/>
<circle cx="526.64" cy="691.00" r="1.70" fill="#fff" stroke="#888" stroke-width="0.70"/>
<circle cx="521.60" cy="692.00" r="1.70" fill="#fff" stroke="#888" stroke-width="0.70"/>
<circle cx="522.12" cy="694.00" r="1.70" fill="#fff" stroke="#888" stroke-width="0.70"/>
<circle cx="525.67" cy="695.00" r="1.70" fill="#fff" stroke="#888" stroke-width="0.70"/>
<circle cx="526.49" cy="697.00" r="1.70" fill="#fff" stroke="#888" stroke-width="0.70"/>
<circle cx="549.48" cy="623.00" r="1.70" fill="#fff" stroke="#888" stroke-width="0.70"/>
<circle cx="553.03" cy="624.00" r="1.70" fill="#fff" stroke="#888" stroke-width="0.70"/>
<circle cx="554.03" cy="626.00" r="1.70" fill="#fff" stroke="#888" stroke-width="0.70"/>
<circle cx="552.38" cy="627.50" r="1.70" fill="#fff" stroke="#888" stroke-width="0.70"/>
<circle cx="554.39" cy="640.00" r="1.70" fill="#fff" stroke="#888" stroke-width="0.70"/>
<circle cx="552.80" cy="660.00" r="1.70" fill="#fff" stroke="#888" stroke-width="0.70"/>
<circle cx="553.29" cy="665.00" r="1.70" fill="#fff" stroke="#888" stroke-width="0.70"/>
<circle cx="548.24" cy="668.00" r="1.70" fill="#fff" stroke="#888" stroke-width="0.70"/>
<circle cx="546.77" cy="676.00" r="1.70" fill="#fff" stroke="#888" stroke-width="0.70"/>
<circle cx="549.08" cy="679.00" r="1.70" fill="#fff" stroke="#888" stroke-width="0.70"/>
<circle cx="557.48" cy="683.00" r="1.70" fill="#fff" stroke="#888" stroke-width="0.70"/>
<circle cx="545.41" cy="684.00" r="1.70" fill="#fff" stroke="#888" stroke-width="0.70"/>
<circle cx="550.63" cy="685.50" r="1.70" fill="#fff" stroke="#888" stroke-width="0.70"/>
<circle cx="551.76" cy="686.00" r="1.70" fill="#fff" stroke="#888" stroke-width="0.70"/>
<circle cx="553.85" cy="688.00" r="1.70" fill="#fff" stroke="#888" stroke-width="0.70"/>
<circle cx="551.94" cy="690.00" r="1.70" fill="#fff" stroke="#888" stroke-width="0.70"/>
<circle cx="558.69" cy="692.00" r="1.70" fill="#fff" stroke="#888" stroke-width="0.70"/>
<circle cx="603.32" cy="689.00" r="1.70" fill="#fff" stroke="#888" stroke-width="0.70"/>
<circle cx="599.18" cy="690.00" r="1.70" fill="#fff" stroke="#888" stroke-width="0.70"/>
<circle cx="594.36" cy="691.00" r="1.70" fill="#fff" stroke="#888" stroke-width="0.70"/>
<circle cx="594.45" cy="695.00" r="1.70" fill="#fff" stroke="#888" stroke-width="0.70"/>
<circle cx="627.90" cy="619.50" r="1.70" fill="#fff" stroke="#888" stroke-width="0.70"/>
<circle cx="627.87" cy="625.00" r="1.70" fill="#fff" stroke="#888" stroke-width="0.70"/>
<circle cx="627.08" cy="630.00" r="1.70" fill="#fff" stroke="#888" stroke-width="0.70"/>
<circle cx="628.54" cy="647.50" r="1.70" fill="#fff" stroke="#888" stroke-width="0.70"/>
<circle cx="628.35" cy="657.00" r="1.70" fill="#fff" stroke="#888" stroke-width="0.70"/>
<circle cx="628.34" cy="668.00" r="1.70" fill="#fff" stroke="#888" stroke-width="0.70"/>
<circle cx="627.95" cy="686.00" r="1.70" fill="#fff" stroke="#888" stroke-width="0.70"/>
<circle cx="628.35" cy="688.50" r="1.70" fill="#fff" stroke="#888" stroke-width="0.70"/>
<line x1="449.10" y1="688.50" x2="449.10" y2="697.00" stroke="#111" stroke-width="1.70" />
<line x1="445.50" y1="688.50" x2="452.70" y2="688.50" stroke="#111" stroke-width="1.70" />
<line x1="445.50" y1="697.00" x2="452.70" y2="697.00" stroke="#111" stroke-width="1.70" />
<text x="449.10" y="709.70" font-size="7.60" text-anchor="middle" fill="#8a1f9e" stroke="#8a1f9e" stroke-width="0.12">4</text>
<line x1="478.55" y1="690.00" x2="478.55" y2="697.50" stroke="#111" stroke-width="1.70" />
<line x1="474.95" y1="690.00" x2="482.15" y2="690.00" stroke="#111" stroke-width="1.70" />
<line x1="474.95" y1="697.50" x2="482.15" y2="697.50" stroke="#111" stroke-width="1.70" />
<text x="478.55" y="709.70" font-size="7.60" text-anchor="middle" fill="#8a1f9e" stroke="#8a1f9e" stroke-width="0.12">5</text>
<line x1="523.90" y1="689.00" x2="523.90" y2="695.00" stroke="#ee1c25" stroke-width="1.70" />
<line x1="520.30" y1="689.00" x2="527.50" y2="689.00" stroke="#ee1c25" stroke-width="1.70" />
<line x1="520.30" y1="695.00" x2="527.50" y2="695.00" stroke="#ee1c25" stroke-width="1.70" />
<text x="523.90" y="709.70" font-size="7.60" text-anchor="middle" fill="#8a1f9e" stroke="#8a1f9e" stroke-width="0.12">15</text>
<line x1="552.95" y1="658.90" x2="552.95" y2="671.00" stroke="#ee1c25" stroke-width="1.70" />
<line x1="549.35" y1="658.90" x2="556.55" y2="658.90" stroke="#ee1c25" stroke-width="1.70" />
<line x1="549.35" y1="671.00" x2="556.55" y2="671.00" stroke="#ee1c25" stroke-width="1.70" />
<text x="552.95" y="709.70" font-size="7.60" text-anchor="middle" fill="#8a1f9e" stroke="#8a1f9e" stroke-width="0.12">17</text>
<line x1="599.00" y1="690.00" x2="599.00" y2="694.50" stroke="#1a1aee" stroke-width="1.70" />
<line x1="595.40" y1="690.00" x2="602.60" y2="690.00" stroke="#1a1aee" stroke-width="1.70" />
<line x1="595.40" y1="694.50" x2="602.60" y2="694.50" stroke="#1a1aee" stroke-width="1.70" />
<text x="599.00" y="709.70" font-size="7.60" text-anchor="middle" fill="#8a1f9e" stroke="#8a1f9e" stroke-width="0.12">4</text>
<line x1="628.10" y1="643.50" x2="628.10" y2="663.00" stroke="#1a1aee" stroke-width="1.70" />
<line x1="624.50" y1="643.50" x2="631.70" y2="643.50" stroke="#1a1aee" stroke-width="1.70" />
<line x1="624.50" y1="663.00" x2="631.70" y2="663.00" stroke="#1a1aee" stroke-width="1.70" />
<text x="628.10" y="709.70" font-size="7.60" text-anchor="middle" fill="#8a1f9e" stroke="#8a1f9e" stroke-width="0.12">8</text>
<line x1="450.50" y1="662.60" x2="478.00" y2="662.60" stroke="#666" stroke-width="1.30" />
<text x="451.80" y="659.20" font-size="7.60" stroke="#000" stroke-width="0.12">ns</text>
<text x="465.80" y="659.20" font-size="7.60" stroke="#000" stroke-width="0.12"><tspan font-style="italic">p</tspan>=0.68</text>
<line x1="525.70" y1="614.30" x2="552.20" y2="614.30" stroke="#000" stroke-width="1.20" />
<path d="M526.90,605.80 L526.90,610.80 M524.73,607.05 L529.07,609.55 M529.07,607.05 L524.73,609.55" stroke="#000" stroke-width="1.15" fill="none"/>
<path d="M534.30,605.80 L534.30,610.80 M532.13,607.05 L536.47,609.55 M536.47,607.05 L532.13,609.55" stroke="#000" stroke-width="1.15" fill="none"/>
<text x="540.50" y="611.00" font-size="7.80" stroke="#000" stroke-width="0.12"><tspan font-style="italic">p</tspan>=0.004</text>
<line x1="600.50" y1="614.30" x2="627.50" y2="614.30" stroke="#000" stroke-width="1.20" />
<path d="M599.50,605.80 L599.50,610.80 M597.33,607.05 L601.67,609.55 M601.67,607.05 L597.33,609.55" stroke="#000" stroke-width="1.15" fill="none"/>
<path d="M606.90,605.80 L606.90,610.80 M604.73,607.05 L609.07,609.55 M609.07,607.05 L604.73,609.55" stroke="#000" stroke-width="1.15" fill="none"/>
<text x="611.30" y="611.00" font-size="7.80" stroke="#000" stroke-width="0.12"><tspan font-style="italic">p</tspan>=0.003</text>
<text x="460.50" y="725.00" font-size="9.40" text-anchor="middle" fill="#ee1c25" stroke="#ee1c25" stroke-width="0.12">37°C</text>
<line x1="438.70" y1="727.30" x2="484.20" y2="727.30" stroke="#000" stroke-width="1.20" />
<text x="538.40" y="725.00" font-size="9.40" text-anchor="middle" fill="#ee1c25" stroke="#ee1c25" stroke-width="0.12">20→28°C</text>
<line x1="515.40" y1="727.30" x2="561.60" y2="727.30" stroke="#000" stroke-width="1.20" />
<text x="614.00" y="725.00" font-size="9.40" text-anchor="middle" fill="#ee1c25" stroke="#ee1c25" stroke-width="0.12">37→45°C</text>
<line x1="592.40" y1="727.30" x2="638.60" y2="727.30" stroke="#000" stroke-width="1.20" />
<text x="455.00" y="735.40" font-size="9.10" text-anchor="end" font-style="italic" transform="rotate(-45.00 455.00 735.40)" stroke="#000" stroke-width="0.12">Vector</text>
<text x="481.30" y="733.60" font-size="9.10" text-anchor="end" font-style="italic" transform="rotate(-45.00 481.30 733.60)" stroke="#000" stroke-width="0.12">GCY-28 OE</text>
<text x="526.90" y="735.40" font-size="9.10" text-anchor="end" font-style="italic" transform="rotate(-45.00 526.90 735.40)" stroke="#000" stroke-width="0.12">Vector</text>
<text x="554.90" y="733.60" font-size="9.10" text-anchor="end" font-style="italic" transform="rotate(-45.00 554.90 733.60)" stroke="#000" stroke-width="0.12">GCY-28 OE</text>
<text x="605.70" y="735.40" font-size="9.10" text-anchor="end" font-style="italic" transform="rotate(-45.00 605.70 735.40)" stroke="#000" stroke-width="0.12">Vector</text>
<text x="633.00" y="733.60" font-size="9.10" text-anchor="end" font-style="italic" transform="rotate(-45.00 633.00 733.60)" stroke="#000" stroke-width="0.12">GCY-28 OE</text>
<text x="13.90" y="789.90" font-size="19.20" stroke="#000" stroke-width="0.12">l</text>
<rect x="26.00" y="781.20" width="92.50" height="92.10" fill="#000" />
<rect x="26.00" y="880.40" width="92.50" height="93.60" fill="#000" />
<rect x="124.90" y="781.20" width="92.50" height="92.10" fill="#000" />
<rect x="124.90" y="880.40" width="92.50" height="93.60" fill="#000" />
<rect x="224.60" y="781.20" width="92.50" height="92.10" fill="#000" />
<rect x="224.60" y="880.40" width="92.50" height="93.60" fill="#000" />
<g transform="translate(26.00 781.20)" clip-path="url(#cp219)">
<path d="M17.5,35 L30,45.8 L40.5,51.5 L42.5,55.5 L37,55.3 L28.5,48 L17,36.5 Z" fill="url(#wb)" stroke="none" stroke-width="1.00" stroke-linecap="round" stroke-linejoin="round" filter="url(#b04)" />
<ellipse cx="38.00" cy="52.80" rx="4.20" ry="2.10" transform="rotate(35.0 38.00 52.80)" fill="#1020ff" filter="url(#b04)" opacity="0.95"/>
<ellipse cx="60.40" cy="65.80" rx="1.50" ry="0.80" transform="rotate(30.0 60.40 65.80)" fill="#1020ff" filter="url(#b04)" opacity="0.70"/>
<path d="M71.4,71 L81,74.3" fill="none" stroke="#1020ff" stroke-width="0.90" stroke-linecap="round" stroke-linejoin="round" opacity="0.60" />
<path d="M79,73.2 L89.8,75.8 L89.8,79.2 L80.5,76 Z" fill="url(#wb)" stroke="none" stroke-width="1.00" stroke-linecap="round" stroke-linejoin="round" filter="url(#b04)" />
<ellipse cx="86.50" cy="77.30" rx="3.00" ry="1.60" transform="rotate(18.0 86.50 77.30)" fill="#1020ff" filter="url(#b04)" opacity="0.90"/>
</g>
<g transform="translate(124.90 781.20)" clip-path="url(#cp219)">
<path d="M0,20 C25,38 55,58 92,80" fill="none" stroke="#0d6b0d" stroke-width="0.90" stroke-linecap="round" stroke-linejoin="round" filter="url(#b07)" opacity="0.55" />
<path d="M0,25 C28,45 58,65 92,85" fill="none" stroke="#0a500a" stroke-width="0.90" stroke-linecap="round" stroke-linejoin="round" filter="url(#b07)" opacity="0.50" />
<path d="M4,26 C30,45 60,64 90,81" fill="none" stroke="#0a420a" stroke-width="4.00" stroke-linecap="round" stroke-linejoin="round" filter="url(#b12)" opacity="0.35" />
<ellipse cx="37.50" cy="52.30" rx="3.20" ry="2.00" transform="rotate(30.0 37.50 52.30)" fill="#22e022" filter="url(#b04)"/>
<path d="M79,73.6 L91.5,76.8 L91.5,80 L80,76.4 Z" fill="url(#wg)" stroke="none" stroke-width="1.00" stroke-linecap="round" stroke-linejoin="round" filter="url(#b04)" />
<ellipse cx="86.50" cy="78.00" rx="3.50" ry="1.60" transform="rotate(18.0 86.50 78.00)" fill="#22e022" filter="url(#b04)"/>
</g>
<g transform="translate(224.60 781.20)" clip-path="url(#cp219)">
<path d="M0,20 C25,38 55,58 92,80" fill="none" stroke="#0d5a3a" stroke-width="0.90" stroke-linecap="round" stroke-linejoin="round" filter="url(#b07)" opacity="0.50" />
<path d="M0,25 C28,45 58,65 92,85" fill="none" stroke="#0a4a30" stroke-width="0.90" stroke-linecap="round" stroke-linejoin="round" filter="url(#b07)" opacity="0.45" />
<path d="M17.5,35 L30,45.8 L40.5,51.5 L42.5,55.5 L37,55.3 L28.5,48 L17,36.5 Z" fill="url(#wc)" stroke="none" stroke-width="1.00" stroke-linecap="round" stroke-linejoin="round" filter="url(#b04)" />
<ellipse cx="38.00" cy="52.80" rx="4.20" ry="2.10" transform="rotate(35.0 38.00 52.80)" fill="#30b8ff" filter="url(#b04)" opacity="0.95"/>
<ellipse cx="60.40" cy="65.80" rx="1.50" ry="0.80" transform="rotate(30.0 60.40 65.80)" fill="#1a60ff" filter="url(#b04)" opacity="0.70"/>
<path d="M71.4,71 L81,74.3" fill="none" stroke="#1a60ff" stroke-width="0.90" stroke-linecap="round" stroke-linejoin="round" opacity="0.60" />
<path d="M79,73.2 L89.8,75.8 L89.8,79.2 L80.5,76 Z" fill="url(#wc)" stroke="none" stroke-width="1.00" stroke-linecap="round" stroke-linejoin="round" filter="url(#b04)" />
<ellipse cx="86.50" cy="77.30" rx="3.00" ry="1.60" transform="rotate(18.0 86.50 77.30)" fill="#30b8ff" filter="url(#b04)" opacity="0.90"/>
<path d="M0,0 L7,-3.6 L5,0 L7,3.6 Z" fill="#fff" transform="translate(40.00 44.00) rotate(300.0) scale(0.95)"/>
<path d="M0,0 L6,-3.2 L4.6,-0.9 L9,-0.9 L9,0.9 L4.6,0.9 L6,3.2 Z" fill="#f0e020" transform="translate(85.20 70.40) rotate(295.0) scale(0.95)"/>
</g>
<text x="28.50" y="789.50" font-size="9.10" fill="#f2f2f2" font-style="italic" stroke="#f2f2f2" stroke-width="0.12">Pvap-1::bfp</text>
<text x="127.40" y="789.50" font-size="9.10" fill="#f2f2f2" font-style="italic" stroke="#f2f2f2" stroke-width="0.12">tax-4 gfp11*7 KI;</text>
<text x="127.40" y="800.70" font-size="9.10" fill="#f2f2f2" font-style="italic" stroke="#f2f2f2" stroke-width="0.12">Pvap-1::gfp(1-10)</text>
<text x="227.10" y="789.50" font-size="9.10" fill="#f2f2f2" stroke="#f2f2f2" stroke-width="0.12">Merge</text>
<g transform="translate(26.00 880.40)" clip-path="url(#cp220)">
<path d="M0,41.5 L20,50 L30,54.3 L33.5,56.3 L33.5,59.6 L28,58.6 L18,53.6 L0,44.2 Z" fill="url(#wb)" stroke="none" stroke-width="1.00" stroke-linecap="round" stroke-linejoin="round" filter="url(#b04)" />
<ellipse cx="30.50" cy="57.30" rx="3.60" ry="1.90" transform="rotate(22.0 30.50 57.30)" fill="#1020ff" filter="url(#b04)" opacity="0.90"/>
<path d="M33,58.6 L56,63 L74,65" fill="none" stroke="#1020ff" stroke-width="0.90" stroke-linecap="round" stroke-linejoin="round" opacity="0.60" />
<path d="M74,63.8 L90.8,65.4 L90.8,70.8 L74,65.8 Z" fill="url(#wb)" stroke="none" stroke-width="1.00" stroke-linecap="round" stroke-linejoin="round" filter="url(#b04)" />
</g>
<g transform="translate(124.90 880.40)" clip-path="url(#cp220)">
<path d="M0,38 C30,48 60,58 92,62" fill="none" stroke="#0b5a0b" stroke-width="1.00" stroke-linecap="round" stroke-linejoin="round" filter="url(#b07)" opacity="0.60" />
<path d="M0,41 L24,51 L33,55.5 L33.5,59.5 L24,56.5 L0,45.5 Z" fill="url(#wg)" stroke="none" stroke-width="1.00" stroke-linecap="round" stroke-linejoin="round" filter="url(#b07)" opacity="0.70" />
<ellipse cx="31.00" cy="57.50" rx="3.40" ry="2.00" transform="rotate(20.0 31.00 57.50)" fill="#22e022" filter="url(#b07)"/>
<path d="M33,59 L56,63.5 L76,65.5" fill="none" stroke="#1cb01c" stroke-width="1.00" stroke-linecap="round" stroke-linejoin="round" opacity="0.55" />
<path d="M74,64.4 L90.5,65.6 L90.5,70.2 L74,66.2 Z" fill="url(#wg)" stroke="none" stroke-width="1.00" stroke-linecap="round" stroke-linejoin="round" filter="url(#b04)" />
<circle cx="84.00" cy="78.00" r="0.50" fill="#1a8a1a" stroke="none" stroke-width="0.00"/>
</g>
<g transform="translate(224.60 880.40)" clip-path="url(#cp220)">
<path d="M0,38 C30,48 60,58 92,62" fill="none" stroke="#0b5a4a" stroke-width="1.00" stroke-linecap="round" stroke-linejoin="round" filter="url(#b07)" opacity="0.50" />
<path d="M0,41.5 L20,50 L30,54.3 L33.5,56.3 L33.5,59.6 L28,58.6 L18,53.6 L0,44.2 Z" fill="url(#wc)" stroke="none" stroke-width="1.00" stroke-linecap="round" stroke-linejoin="round" filter="url(#b04)" />
<ellipse cx="30.50" cy="57.30" rx="3.60" ry="1.90" transform="rotate(22.0 30.50 57.30)" fill="#40c8ff" filter="url(#b04)" opacity="0.90"/>
<path d="M33,58.6 L56,63 L74,65" fill="none" stroke="#2a90ff" stroke-width="0.90" stroke-linecap="round" stroke-linejoin="round" opacity="0.60" />
<path d="M74,63.8 L90.8,65.4 L90.8,70.8 L74,65.8 Z" fill="url(#wc)" stroke="none" stroke-width="1.00" stroke-linecap="round" stroke-linejoin="round" filter="url(#b04)" />
<path d="M0,0 L7,-3.6 L5,0 L7,3.6 Z" fill="#fff" transform="translate(29.70 48.60) rotate(280.0) scale(0.95)"/>
<path d="M0,0 L6,-3.2 L4.6,-0.9 L9,-0.9 L9,0.9 L4.6,0.9 L6,3.2 Z" fill="#f0e020" transform="translate(85.30 60.50) rotate(295.0) scale(0.95)"/>
</g>
<text x="28.50" y="890.20" font-size="9.10" fill="#f2f2f2" font-style="italic" stroke="#f2f2f2" stroke-width="0.12">Pvap-1::bfp</text>
<text x="127.40" y="890.20" font-size="9.10" fill="#f2f2f2" font-style="italic" stroke="#f2f2f2" stroke-width="0.12">cng-1 gfp11*7 KI;</text>
<text x="127.40" y="901.60" font-size="9.10" fill="#f2f2f2" font-style="italic" stroke="#f2f2f2" stroke-width="0.12">Pvap-1::gfp(1-10)</text>
<text x="227.10" y="890.20" font-size="9.10" fill="#f2f2f2" stroke="#f2f2f2" stroke-width="0.12">Merge</text>
<line x1="28.20" y1="871.70" x2="38.20" y2="871.70" stroke="#e8e8e8" stroke-width="1.10" />
<line x1="28.20" y1="969.20" x2="38.20" y2="969.20" stroke="#e8e8e8" stroke-width="1.10" />
<line x1="127.10" y1="871.70" x2="137.10" y2="871.70" stroke="#e8e8e8" stroke-width="1.10" />
<line x1="127.10" y1="969.20" x2="137.10" y2="969.20" stroke="#e8e8e8" stroke-width="1.10" />
<line x1="226.80" y1="871.70" x2="236.80" y2="871.70" stroke="#e8e8e8" stroke-width="1.10" />
<line x1="226.80" y1="969.20" x2="236.80" y2="969.20" stroke="#e8e8e8" stroke-width="1.10" />
<text x="359.40" y="787.80" font-size="19.20" stroke="#000" stroke-width="0.12">m</text>
<rect x="378.30" y="781.20" width="92.50" height="92.10" fill="#000" />
<rect x="378.30" y="880.40" width="92.50" height="93.60" fill="#000" />
<rect x="478.20" y="781.20" width="92.50" height="92.10" fill="#000" />
<rect x="478.20" y="880.40" width="92.50" height="93.60" fill="#011401" />
<rect x="577.80" y="781.20" width="92.50" height="92.10" fill="#000" />
<rect x="577.80" y="880.40" width="92.50" height="93.60" fill="#011401" />
<g transform="translate(378.30 781.20)" clip-path="url(#cp221)">
<path d="M0,60 C20,59 40,57 60,55 C75,53.5 85,52 92.5,51" fill="none" stroke="#1020ff" stroke-width="9.00" stroke-linecap="round" stroke-linejoin="round" filter="url(#b2)" opacity="0.16" />
<path d="M0,54.5 C20,53 40,51.5 60,49 C75,47.2 85,45.5 92.5,45" fill="none" stroke="#1020ff" stroke-width="1.00" stroke-linecap="round" stroke-linejoin="round" filter="url(#b04)" opacity="0.60" />
<ellipse cx="34.50" cy="51.80" rx="4.60" ry="1.90" transform="rotate(-5.0 34.50 51.80)" fill="#1020ff" filter="url(#b04)"/>
<ellipse cx="82.00" cy="46.20" rx="8.00" ry="1.10" transform="rotate(-8.0 82.00 46.20)" fill="#1020ff" filter="url(#b04)" opacity="0.75"/>
<circle cx="9.11" cy="62.25" r="0.50" fill="#1a30c0" opacity="0.52"/>
<circle cx="6.92" cy="68.35" r="0.50" fill="#1a30c0" opacity="0.36"/>
<circle cx="8.11" cy="67.21" r="0.50" fill="#1a30c0" opacity="0.54"/>
<circle cx="16.31" cy="59.62" r="0.50" fill="#1a30c0" opacity="0.44"/>
<circle cx="5.49" cy="57.12" r="0.50" fill="#1a30c0" opacity="0.33"/>
<circle cx="9.25" cy="59.77" r="0.50" fill="#1a30c0" opacity="0.53"/>
<circle cx="17.30" cy="70.92" r="0.50" fill="#1a30c0" opacity="0.61"/>
<circle cx="5.96" cy="61.14" r="0.50" fill="#1a30c0" opacity="0.66"/>
<circle cx="4.21" cy="68.18" r="0.50" fill="#1a30c0" opacity="0.40"/>
<circle cx="8.06" cy="63.92" r="0.50" fill="#1a30c0" opacity="0.68"/>
<circle cx="13.17" cy="68.43" r="0.50" fill="#1a30c0" opacity="0.44"/>
<circle cx="6.29" cy="68.92" r="0.50" fill="#1a30c0" opacity="0.53"/>
<circle cx="12.95" cy="56.57" r="0.50" fill="#1a30c0" opacity="0.32"/>
<circle cx="7.69" cy="59.91" r="0.50" fill="#1a30c0" opacity="0.41"/>
<circle cx="14.69" cy="69.72" r="0.50" fill="#1a30c0" opacity="0.39"/>
<circle cx="1.81" cy="58.02" r="0.50" fill="#1a30c0" opacity="0.37"/>
<circle cx="13.03" cy="61.11" r="0.50" fill="#1a30c0" opacity="0.69"/>
<circle cx="0.34" cy="63.56" r="0.50" fill="#1a30c0" opacity="0.35"/>
<circle cx="15.28" cy="61.10" r="0.50" fill="#1a30c0" opacity="0.40"/>
<circle cx="10.49" cy="68.96" r="0.50" fill="#1a30c0" opacity="0.31"/>
<circle cx="4.15" cy="69.45" r="0.50" fill="#1a30c0" opacity="0.47"/>
<circle cx="1.73" cy="69.90" r="0.50" fill="#1a30c0" opacity="0.68"/>
<circle cx="7.68" cy="58.13" r="0.50" fill="#1a30c0" opacity="0.31"/>
<circle cx="13.37" cy="67.34" r="0.50" fill="#1a30c0" opacity="0.60"/>
<circle cx="12.44" cy="60.65" r="0.50" fill="#1a30c0" opacity="0.41"/>
<circle cx="10.35" cy="67.70" r="0.50" fill="#1a30c0" opacity="0.49"/>
<circle cx="9.27" cy="61.22" r="0.50" fill="#1a30c0" opacity="0.63"/>
<circle cx="17.22" cy="59.39" r="0.50" fill="#1a30c0" opacity="0.68"/>
<circle cx="14.63" cy="61.47" r="0.50" fill="#1a30c0" opacity="0.40"/>
<circle cx="12.32" cy="63.68" r="0.50" fill="#1a30c0" opacity="0.54"/>
<circle cx="17.89" cy="70.70" r="0.50" fill="#1a30c0" opacity="0.58"/>
<circle cx="9.33" cy="57.67" r="0.50" fill="#1a30c0" opacity="0.33"/>
<circle cx="14.77" cy="59.09" r="0.50" fill="#1a30c0" opacity="0.57"/>
<circle cx="5.47" cy="58.43" r="0.50" fill="#1a30c0" opacity="0.57"/>
<circle cx="3.09" cy="56.13" r="0.50" fill="#1a30c0" opacity="0.70"/>
<circle cx="7.18" cy="60.77" r="0.50" fill="#1a30c0" opacity="0.62"/>
<circle cx="3.80" cy="67.70" r="0.50" fill="#1a30c0" opacity="0.39"/>
<circle cx="13.08" cy="67.03" r="0.50" fill="#1a30c0" opacity="0.34"/>
<circle cx="6.89" cy="68.55" r="0.50" fill="#1a30c0" opacity="0.50"/>
<circle cx="7.78" cy="56.06" r="0.50" fill="#1a30c0" opacity="0.36"/>
</g>
<g transform="translate(478.20 781.20)" clip-path="url(#cp221)">
<path d="M0,61 C20,60 40,58 60,56 C75,54.5 85,53 92.5,52" fill="none" stroke="#0a5a0a" stroke-width="9.00" stroke-linecap="round" stroke-linejoin="round" filter="url(#b2)" opacity="0.25" />
<path d="M0,56 C20,55 40,52 60,50 C75,48.5 85,47 92.5,46" fill="none" stroke="#0a5a0a" stroke-width="1.00" stroke-linecap="round" stroke-linejoin="round" filter="url(#b07)" opacity="0.60" />
<ellipse cx="34.00" cy="51.80" rx="4.20" ry="1.90" transform="rotate(-5.0 34.00 51.80)" fill="#22e022" filter="url(#b04)" opacity="0.90"/>
<ellipse cx="85.00" cy="46.80" rx="7.00" ry="1.00" transform="rotate(-8.0 85.00 46.80)" fill="#22c022" filter="url(#b04)" opacity="0.55"/>
<circle cx="3.62" cy="62.82" r="0.50" fill="#20c020" opacity="0.45"/>
<circle cx="24.22" cy="68.62" r="0.50" fill="#20c020" opacity="0.54"/>
<circle cx="17.00" cy="56.82" r="0.50" fill="#20c020" opacity="0.57"/>
<circle cx="10.84" cy="64.49" r="0.50" fill="#20c020" opacity="0.33"/>
<circle cx="7.68" cy="69.15" r="0.50" fill="#20c020" opacity="0.34"/>
<circle cx="2.13" cy="59.86" r="0.50" fill="#20c020" opacity="0.40"/>
<circle cx="12.28" cy="62.72" r="0.50" fill="#20c020" opacity="0.35"/>
<circle cx="0.04" cy="60.43" r="0.50" fill="#20c020" opacity="0.39"/>
<circle cx="13.47" cy="64.08" r="0.50" fill="#20c020" opacity="0.51"/>
<circle cx="11.03" cy="60.92" r="0.50" fill="#20c020" opacity="0.49"/>
<circle cx="22.67" cy="65.92" r="0.50" fill="#20c020" opacity="0.31"/>
<circle cx="7.47" cy="71.35" r="0.50" fill="#20c020" opacity="0.59"/>
<circle cx="7.46" cy="57.83" r="0.50" fill="#20c020" opacity="0.30"/>
<circle cx="3.09" cy="55.30" r="0.50" fill="#20c020" opacity="0.59"/>
<circle cx="23.66" cy="60.07" r="0.50" fill="#20c020" opacity="0.31"/>
<circle cx="22.90" cy="65.17" r="0.50" fill="#20c020" opacity="0.57"/>
<circle cx="7.52" cy="69.49" r="0.50" fill="#20c020" opacity="0.54"/>
<circle cx="16.79" cy="66.06" r="0.50" fill="#20c020" opacity="0.51"/>
<circle cx="11.52" cy="71.17" r="0.50" fill="#20c020" opacity="0.33"/>
<circle cx="10.18" cy="60.66" r="0.50" fill="#20c020" opacity="0.45"/>
<circle cx="21.00" cy="55.35" r="0.50" fill="#20c020" opacity="0.42"/>
<circle cx="11.15" cy="60.79" r="0.50" fill="#20c020" opacity="0.48"/>
<circle cx="17.45" cy="65.27" r="0.50" fill="#20c020" opacity="0.45"/>
<circle cx="9.16" cy="71.80" r="0.50" fill="#20c020" opacity="0.54"/>
<circle cx="16.61" cy="55.49" r="0.50" fill="#20c020" opacity="0.42"/>
<circle cx="17.35" cy="57.40" r="0.50" fill="#20c020" opacity="0.43"/>
<circle cx="10.86" cy="56.51" r="0.50" fill="#20c020" opacity="0.55"/>
<circle cx="22.21" cy="59.03" r="0.50" fill="#20c020" opacity="0.35"/>
<circle cx="6.43" cy="66.88" r="0.50" fill="#20c020" opacity="0.37"/>
<circle cx="18.49" cy="70.41" r="0.50" fill="#20c020" opacity="0.33"/>
<circle cx="17.34" cy="66.57" r="0.50" fill="#20c020" opacity="0.49"/>
<circle cx="16.35" cy="59.20" r="0.50" fill="#20c020" opacity="0.34"/>
<circle cx="22.82" cy="57.32" r="0.50" fill="#20c020" opacity="0.57"/>
<circle cx="20.05" cy="61.01" r="0.50" fill="#20c020" opacity="0.45"/>
<circle cx="7.20" cy="58.15" r="0.50" fill="#20c020" opacity="0.54"/>
<circle cx="1.91" cy="57.73" r="0.50" fill="#20c020" opacity="0.59"/>
<circle cx="8.91" cy="64.59" r="0.50" fill="#20c020" opacity="0.49"/>
<circle cx="17.18" cy="69.15" r="0.50" fill="#20c020" opacity="0.54"/>
<circle cx="7.19" cy="60.15" r="0.50" fill="#20c020" opacity="0.60"/>
<circle cx="22.73" cy="61.74" r="0.50" fill="#20c020" opacity="0.39"/>
</g>
<g transform="translate(577.80 781.20)" clip-path="url(#cp221)">
<path d="M0,60 C20,59 40,57 60,55 C75,53.5 85,52 92.5,51" fill="none" stroke="#2050ff" stroke-width="9.00" stroke-linecap="round" stroke-linejoin="round" filter="url(#b2)" opacity="0.16" />
<path d="M0,54.5 C20,53 40,51.5 60,49 C75,47.2 85,45.5 92.5,45" fill="none" stroke="#2050ff" stroke-width="1.00" stroke-linecap="round" stroke-linejoin="round" filter="url(#b04)" opacity="0.60" />
<ellipse cx="34.50" cy="51.80" rx="4.60" ry="1.90" transform="rotate(-5.0 34.50 51.80)" fill="#2050ff" filter="url(#b04)"/>
<ellipse cx="82.00" cy="46.20" rx="8.00" ry="1.10" transform="rotate(-8.0 82.00 46.20)" fill="#2050ff" filter="url(#b04)" opacity="0.75"/>
<ellipse cx="34.50" cy="51.80" rx="5.00" ry="2.20" transform="rotate(-5.0 34.50 51.80)" fill="#3070ff" filter="url(#b04)"/>
<circle cx="9.92" cy="69.56" r="0.50" fill="#20b0c0" opacity="0.34"/>
<circle cx="7.57" cy="55.84" r="0.50" fill="#20b0c0" opacity="0.62"/>
<circle cx="3.78" cy="60.25" r="0.50" fill="#20b0c0" opacity="0.71"/>
<circle cx="1.09" cy="57.61" r="0.50" fill="#20b0c0" opacity="0.45"/>
<circle cx="16.23" cy="63.08" r="0.50" fill="#20b0c0" opacity="0.61"/>
<circle cx="18.02" cy="58.91" r="0.50" fill="#20b0c0" opacity="0.52"/>
<circle cx="3.34" cy="68.29" r="0.50" fill="#20b0c0" opacity="0.31"/>
<circle cx="15.14" cy="60.94" r="0.50" fill="#20b0c0" opacity="0.59"/>
<circle cx="3.73" cy="70.84" r="0.50" fill="#20b0c0" opacity="0.46"/>
<circle cx="9.09" cy="70.95" r="0.50" fill="#20b0c0" opacity="0.60"/>
<circle cx="6.43" cy="58.91" r="0.50" fill="#20b0c0" opacity="0.76"/>
<circle cx="14.35" cy="65.69" r="0.50" fill="#20b0c0" opacity="0.58"/>
<circle cx="18.43" cy="57.17" r="0.50" fill="#20b0c0" opacity="0.48"/>
<circle cx="16.25" cy="66.17" r="0.50" fill="#20b0c0" opacity="0.61"/>
<circle cx="13.14" cy="63.03" r="0.50" fill="#20b0c0" opacity="0.58"/>
<circle cx="8.58" cy="71.12" r="0.50" fill="#20b0c0" opacity="0.44"/>
<circle cx="5.13" cy="60.35" r="0.50" fill="#20b0c0" opacity="0.38"/>
<circle cx="12.31" cy="64.83" r="0.50" fill="#20b0c0" opacity="0.33"/>
<circle cx="5.03" cy="70.02" r="0.50" fill="#20b0c0" opacity="0.43"/>
<circle cx="13.40" cy="62.02" r="0.50" fill="#20b0c0" opacity="0.38"/>
<circle cx="19.43" cy="65.77" r="0.50" fill="#20b0c0" opacity="0.42"/>
<circle cx="11.58" cy="60.05" r="0.50" fill="#20b0c0" opacity="0.70"/>
<circle cx="0.43" cy="62.40" r="0.50" fill="#20b0c0" opacity="0.62"/>
<circle cx="14.71" cy="56.76" r="0.50" fill="#20b0c0" opacity="0.33"/>
<circle cx="9.09" cy="65.04" r="0.50" fill="#20b0c0" opacity="0.53"/>
<circle cx="1.18" cy="59.54" r="0.50" fill="#20b0c0" opacity="0.65"/>
<circle cx="10.44" cy="71.05" r="0.50" fill="#20b0c0" opacity="0.33"/>
<circle cx="12.32" cy="65.00" r="0.50" fill="#20b0c0" opacity="0.52"/>
<circle cx="1.29" cy="61.42" r="0.50" fill="#20b0c0" opacity="0.46"/>
<circle cx="3.31" cy="69.21" r="0.50" fill="#20b0c0" opacity="0.35"/>
<circle cx="0.75" cy="70.31" r="0.50" fill="#20b0c0" opacity="0.78"/>
<circle cx="12.93" cy="63.63" r="0.50" fill="#20b0c0" opacity="0.66"/>
<circle cx="1.07" cy="59.34" r="0.50" fill="#20b0c0" opacity="0.55"/>
<circle cx="2.32" cy="70.06" r="0.50" fill="#20b0c0" opacity="0.59"/>
<circle cx="4.70" cy="65.31" r="0.50" fill="#20b0c0" opacity="0.72"/>
<circle cx="12.96" cy="70.04" r="0.50" fill="#20b0c0" opacity="0.69"/>
<circle cx="10.99" cy="70.53" r="0.50" fill="#20b0c0" opacity="0.74"/>
<circle cx="5.69" cy="58.65" r="0.50" fill="#20b0c0" opacity="0.38"/>
<circle cx="14.29" cy="68.74" r="0.50" fill="#20b0c0" opacity="0.57"/>
<circle cx="19.78" cy="60.73" r="0.50" fill="#20b0c0" opacity="0.41"/>
<circle cx="7.07" cy="66.67" r="0.50" fill="#20b0c0" opacity="0.52"/>
<circle cx="18.46" cy="61.21" r="0.50" fill="#20b0c0" opacity="0.74"/>
<circle cx="14.29" cy="63.94" r="0.50" fill="#20b0c0" opacity="0.79"/>
<circle cx="13.50" cy="70.09" r="0.50" fill="#20b0c0" opacity="0.80"/>
<circle cx="14.19" cy="62.41" r="0.50" fill="#20b0c0" opacity="0.44"/>
<circle cx="18.80" cy="61.10" r="0.50" fill="#20b0c0" opacity="0.77"/>
<circle cx="5.78" cy="58.75" r="0.50" fill="#20b0c0" opacity="0.77"/>
<circle cx="13.17" cy="57.57" r="0.50" fill="#20b0c0" opacity="0.53"/>
<circle cx="4.72" cy="62.30" r="0.50" fill="#20b0c0" opacity="0.63"/>
<circle cx="13.78" cy="70.18" r="0.50" fill="#20b0c0" opacity="0.79"/>
<path d="M0,0 L7,-3.6 L5,0 L7,3.6 Z" fill="#fff" transform="translate(37.20 46.20) rotate(285.0) scale(0.95)"/>
<path d="M0,0 L6,-3.2 L4.6,-0.9 L9,-0.9 L9,0.9 L4.6,0.9 L6,3.2 Z" fill="#f0e020" transform="translate(80.20 41.40) rotate(295.0) scale(0.95)"/>
</g>
<text x="380.80" y="789.50" font-size="9.10" fill="#f2f2f2" font-style="italic" stroke="#f2f2f2" stroke-width="0.12">Pvap-1::bfp</text>
<text x="480.70" y="789.50" font-size="9.10" fill="#f2f2f2" font-style="italic" stroke="#f2f2f2" stroke-width="0.12">cng-3 gfp11*7 KI;</text>
<text x="480.70" y="800.70" font-size="9.10" fill="#f2f2f2" font-style="italic" stroke="#f2f2f2" stroke-width="0.12">Pvap-1::gfp(1-10)</text>
<text x="580.30" y="789.50" font-size="9.10" fill="#f2f2f2" stroke="#f2f2f2" stroke-width="0.12">Merge</text>
<g transform="translate(378.30 880.40)" clip-path="url(#cp222)">
<path d="M46.2,26.5 L49.8,27.5 L51,33 L50.6,38.5 L47.6,39 L46.4,32 Z" fill="#ff22ff" stroke="none" stroke-width="1.00" stroke-linecap="round" stroke-linejoin="round" filter="url(#b04)" />
<path d="M48.5,38 L55,48 L62,57 L65.5,64 L67,69 L70,80 L72,90" fill="none" stroke="#c020c0" stroke-width="0.80" stroke-linecap="round" stroke-linejoin="round" opacity="0.55" stroke-dasharray="2 1.5"/>
<path d="M63,57 L67,66" fill="none" stroke="#ff22ff" stroke-width="1.60" stroke-linecap="round" stroke-linejoin="round" filter="url(#b04)" />
<ellipse cx="71.50" cy="89.00" rx="1.20" ry="1.50" transform="rotate(0.0 71.50 89.00)" fill="#c020c0" filter="url(#b04)" opacity="0.80"/>
<path d="M0,0 L7,-3.6 L5,0 L7,3.6 Z" fill="#fff" transform="translate(50.80 26.50) rotate(360.0) scale(0.95)"/>
<path d="M0,0 L6,-3.2 L4.6,-0.9 L9,-0.9 L9,0.9 L4.6,0.9 L6,3.2 Z" fill="#f0e020" transform="translate(64.50 59.00) rotate(295.0) scale(0.95)"/>
</g>
<g transform="translate(478.20 880.40)" clip-path="url(#cp222)">
<path d="M14,2 C28,28 50,50 75,93" fill="none" stroke="#0a3a0a" stroke-width="10.00" stroke-linecap="round" stroke-linejoin="round" filter="url(#b2)" opacity="0.60" />
<ellipse cx="33.00" cy="19.00" rx="19.00" ry="11.00" transform="rotate(55.0 33.00 19.00)" fill="#0f6a0f" filter="url(#b2)" opacity="0.55"/>
<ellipse cx="30.60" cy="21.60" rx="14.50" ry="5.00" transform="rotate(48.0 30.60 21.60)" fill="#22ee22" filter="url(#b04)"/>
<ellipse cx="37.00" cy="16.50" rx="14.50" ry="4.60" transform="rotate(59.0 37.00 16.50)" fill="#22ee22" filter="url(#b04)"/>
<path d="M27,10 L41,30" fill="none" stroke="#0a7a0a" stroke-width="0.90" stroke-linecap="round" stroke-linejoin="round" opacity="0.90" />
<path d="M34.4,36.5 C36,42 44,44 48.3,38.4" fill="none" stroke="#22e022" stroke-width="1.60" stroke-linecap="round" stroke-linejoin="round" filter="url(#b04)" />
<ellipse cx="35.50" cy="37.00" rx="1.80" ry="1.50" transform="rotate(0.0 35.50 37.00)" fill="#22e022" filter="url(#b04)"/>
<ellipse cx="47.00" cy="35.00" rx="1.80" ry="2.00" transform="rotate(0.0 47.00 35.00)" fill="#22e022" filter="url(#b04)"/>
<ellipse cx="46.00" cy="31.00" rx="1.40" ry="2.00" transform="rotate(0.0 46.00 31.00)" fill="#22d022" filter="url(#b04)"/>
<ellipse cx="51.30" cy="48.50" rx="1.40" ry="1.30" transform="rotate(0.0 51.30 48.50)" fill="#22e022" filter="url(#b04)"/>
<ellipse cx="58.60" cy="65.00" rx="1.10" ry="1.10" transform="rotate(0.0 58.60 65.00)" fill="#22d022" filter="url(#b04)"/>
<path d="M47,33 L56,52 L63,66 L69,84 L72,91" fill="none" stroke="#16a816" stroke-width="0.90" stroke-linecap="round" stroke-linejoin="round" opacity="0.80" />
<path d="M50,28 L60,45 L68,62 L75,82" fill="none" stroke="#128a12" stroke-width="0.80" stroke-linecap="round" stroke-linejoin="round" opacity="0.60" />
<path d="M44,35 L53,55 L60,72 L66,90" fill="none" stroke="#107010" stroke-width="0.80" stroke-linecap="round" stroke-linejoin="round" opacity="0.50" />
<ellipse cx="69.00" cy="90.00" rx="2.80" ry="1.80" transform="rotate(0.0 69.00 90.00)" fill="#0a6a0a" filter="url(#b07)" opacity="0.80"/>
<path d="M0,0 L7,-3.6 L5,0 L7,3.6 Z" fill="#fff" transform="translate(50.00 27.40) rotate(360.0) scale(0.95)"/>
<path d="M0,0 L6,-3.2 L4.6,-0.9 L9,-0.9 L9,0.9 L4.6,0.9 L6,3.2 Z" fill="#f0e020" transform="translate(64.80 61.60) rotate(295.0) scale(0.95)"/>
</g>
<g transform="translate(577.80 880.40)" clip-path="url(#cp222)">
<path d="M14,2 C28,28 50,50 75,93" fill="none" stroke="#0a3a0a" stroke-width="10.00" stroke-linecap="round" stroke-linejoin="round" filter="url(#b2)" opacity="0.60" />
<ellipse cx="33.00" cy="19.00" rx="19.00" ry="11.00" transform="rotate(55.0 33.00 19.00)" fill="#0f6a0f" filter="url(#b2)" opacity="0.55"/>
<ellipse cx="30.60" cy="21.60" rx="14.50" ry="5.00" transform="rotate(48.0 30.60 21.60)" fill="#22ee22" filter="url(#b04)"/>
<ellipse cx="37.00" cy="16.50" rx="14.50" ry="4.60" transform="rotate(59.0 37.00 16.50)" fill="#22ee22" filter="url(#b04)"/>
<path d="M27,10 L41,30" fill="none" stroke="#0a7a0a" stroke-width="0.90" stroke-linecap="round" stroke-linejoin="round" opacity="0.90" />
<path d="M34.4,36.5 C36,42 44,44 48.3,38.4" fill="none" stroke="#22e022" stroke-width="1.60" stroke-linecap="round" stroke-linejoin="round" filter="url(#b04)" />
<ellipse cx="35.50" cy="37.00" rx="1.80" ry="1.50" transform="rotate(0.0 35.50 37.00)" fill="#22e022" filter="url(#b04)"/>
<ellipse cx="47.00" cy="35.00" rx="1.80" ry="2.00" transform="rotate(0.0 47.00 35.00)" fill="#22e022" filter="url(#b04)"/>
<ellipse cx="46.00" cy="31.00" rx="1.40" ry="2.00" transform="rotate(0.0 46.00 31.00)" fill="#22d022" filter="url(#b04)"/>
<ellipse cx="51.30" cy="48.50" rx="1.40" ry="1.30" transform="rotate(0.0 51.30 48.50)" fill="#22e022" filter="url(#b04)"/>
<ellipse cx="58.60" cy="65.00" rx="1.10" ry="1.10" transform="rotate(0.0 58.60 65.00)" fill="#22d022" filter="url(#b04)"/>
<path d="M47,33 L56,52 L63,66 L69,84 L72,91" fill="none" stroke="#16a816" stroke-width="0.90" stroke-linecap="round" stroke-linejoin="round" opacity="0.80" />
<path d="M50,28 L60,45 L68,62 L75,82" fill="none" stroke="#128a12" stroke-width="0.80" stroke-linecap="round" stroke-linejoin="round" opacity="0.60" />
<path d="M44,35 L53,55 L60,72 L66,90" fill="none" stroke="#107010" stroke-width="0.80" stroke-linecap="round" stroke-linejoin="round" opacity="0.50" />
<ellipse cx="69.00" cy="90.00" rx="2.80" ry="1.80" transform="rotate(0.0 69.00 90.00)" fill="#0a6a0a" filter="url(#b07)" opacity="0.80"/>
<path d="M46.2,26.5 L49.8,27.5 L51,33 L50.6,38.5 L47.6,39 L46.4,32 Z" fill="#ff22ff" stroke="none" stroke-width="1.00" stroke-linecap="round" stroke-linejoin="round" filter="url(#b04)" />
<path d="M48.5,38 L55,48 L62,57 L65.5,64 L67,69 L70,80 L72,90" fill="none" stroke="#c020c0" stroke-width="0.80" stroke-linecap="round" stroke-linejoin="round" opacity="0.55" stroke-dasharray="2 1.5"/>
<path d="M63,57 L67,66" fill="none" stroke="#ff22ff" stroke-width="1.60" stroke-linecap="round" stroke-linejoin="round" filter="url(#b04)" />
<ellipse cx="71.50" cy="89.00" rx="1.20" ry="1.50" transform="rotate(0.0 71.50 89.00)" fill="#c020c0" filter="url(#b04)" opacity="0.80"/>
<path d="M0,0 L7,-3.6 L5,0 L7,3.6 Z" fill="#fff" transform="translate(52.50 27.00) rotate(360.0) scale(0.95)"/>
<path d="M0,0 L6,-3.2 L4.6,-0.9 L9,-0.9 L9,0.9 L4.6,0.9 L6,3.2 Z" fill="#f0e020" transform="translate(63.80 61.60) rotate(295.0) scale(0.95)"/>
</g>
<text x="380.80" y="890.20" font-size="9.10" fill="#f2f2f2" font-style="italic" stroke="#f2f2f2" stroke-width="0.12">Pvap-1::mCherry</text>
<text x="480.70" y="890.20" font-size="9.10" fill="#f2f2f2" font-style="italic" stroke="#f2f2f2" stroke-width="0.12">Pgcy-28::gfp</text>
<text x="580.30" y="890.20" font-size="9.10" fill="#f2f2f2" stroke="#f2f2f2" stroke-width="0.12">Merge</text>
<line x1="380.50" y1="871.70" x2="390.50" y2="871.70" stroke="#e8e8e8" stroke-width="1.10" />
<line x1="380.50" y1="969.20" x2="390.50" y2="969.20" stroke="#e8e8e8" stroke-width="1.10" />
<line x1="480.40" y1="871.70" x2="490.40" y2="871.70" stroke="#e8e8e8" stroke-width="1.10" />
<line x1="480.40" y1="969.20" x2="490.40" y2="969.20" stroke="#e8e8e8" stroke-width="1.10" />
<line x1="580.00" y1="871.70" x2="590.00" y2="871.70" stroke="#e8e8e8" stroke-width="1.10" />
<line x1="580.00" y1="969.20" x2="590.00" y2="969.20" stroke="#e8e8e8" stroke-width="1.10" />
</svg></body></html>
